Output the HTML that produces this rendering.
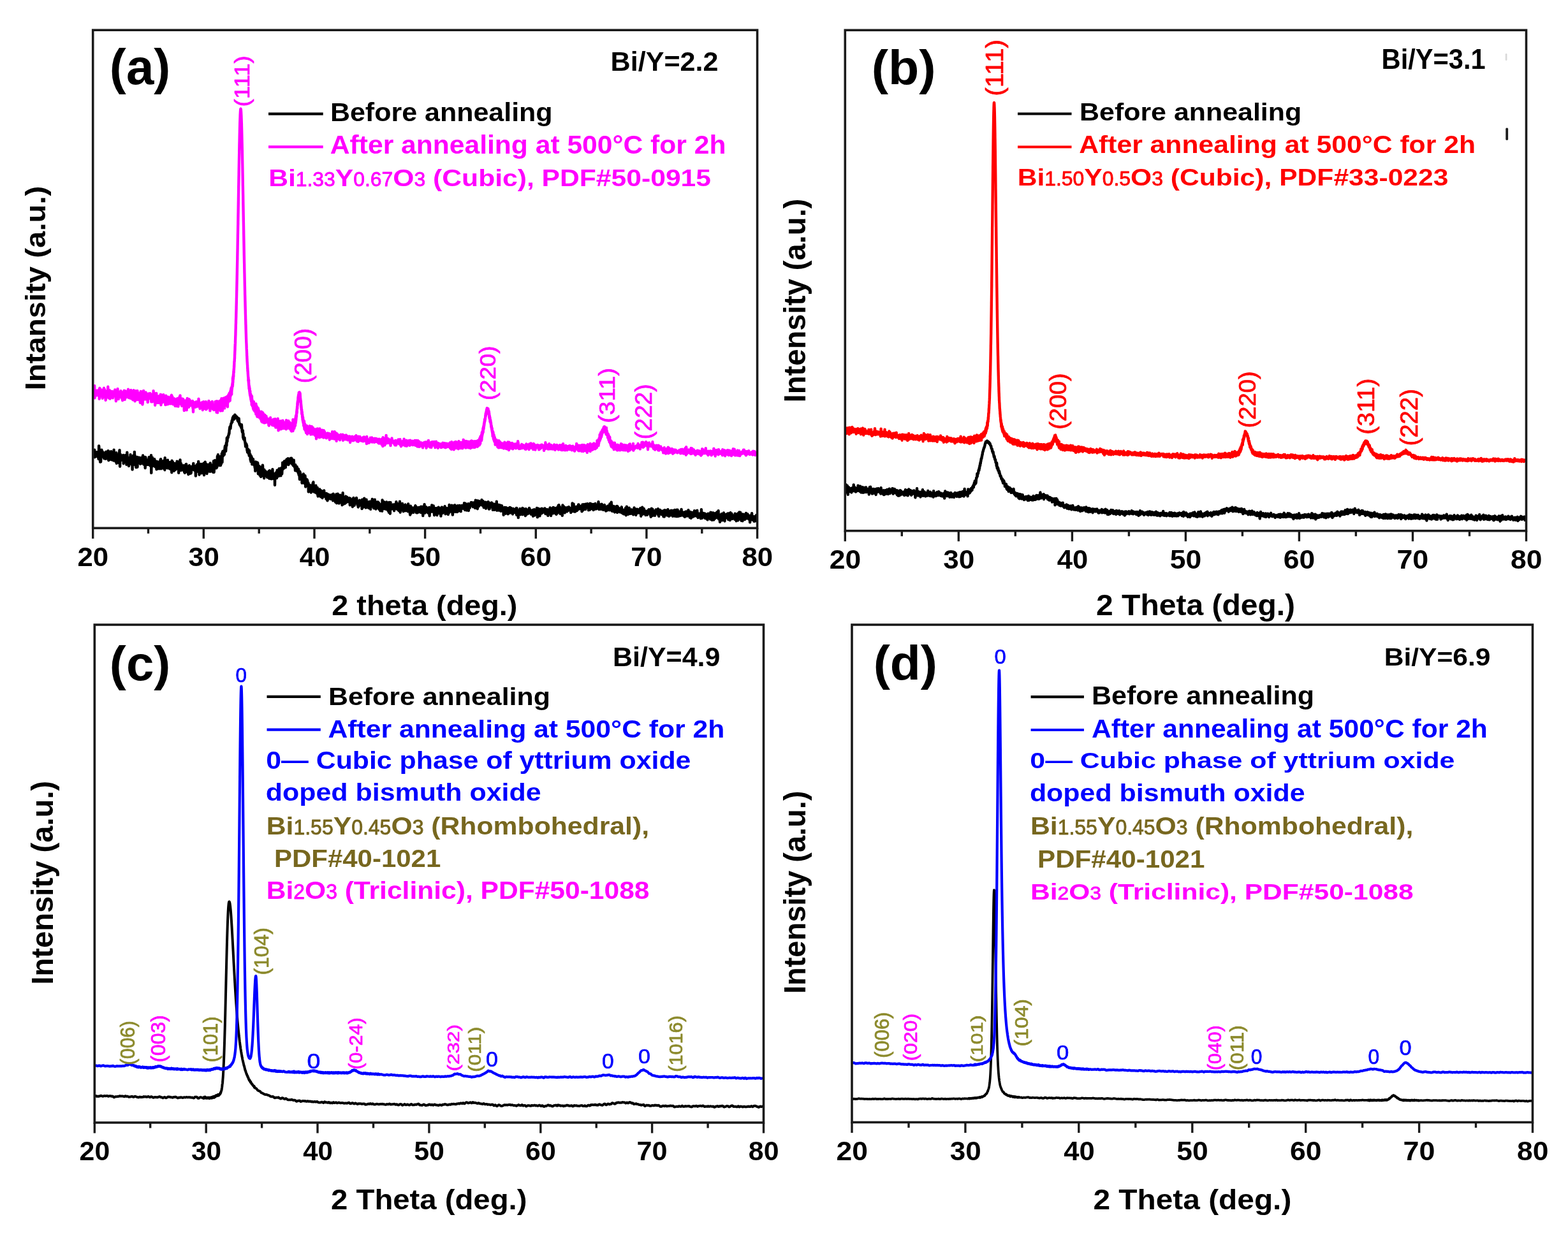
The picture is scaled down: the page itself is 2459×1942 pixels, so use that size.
<!DOCTYPE html><html><head><meta charset="utf-8"><title>XRD patterns</title><style>html,body{margin:0;padding:0;background:#fff;}svg{display:block;filter:blur(0.6px);}</style></head><body>
<svg xml:space="preserve" style="white-space:pre" width="2459" height="1942" viewBox="0 0 2459 1942" font-family="'Liberation Sans', Arial, sans-serif">
<rect width="100%" height="100%" fill="#fff"/>
<path fill="none" stroke="#000" stroke-width="4.40" stroke-linejoin="round" stroke-linecap="round" d="M147.2 714.3l.3 2.5 .4-2.6 .3-8.4 .3 11.5 .4-2.4 .3-5 .3 5.8 .3-1.1 .4-.3 .3-1.4 .3 2.8 .4-6.6 .3 3 .3-1.6 .4 5.6 .3-2.8 .3-1.7 .3-2.5 .4 2.8 .3 1.4 .3-1.4 .4 8.1 .3-1.4 .3-19.2 .4 4.3 .3 8.9 .3-1.2 .3 3.3 .4 .1 .3 9.9 .3-16.7 .4 3.9 .3 12.6 .3-7.2 .4 .1 .3-6 .3-5.8 .3 9.4 .4-.2 .3-6.9 .3 2.9 .4 3.2 .3-4.5 .3 4.5 .4 1 .3-.2 .3-2.8 .3 5.8 .4 1.5 .3-2.8 .3-5.9 .4 8.1 .3-6.3 .3 7.2 .4-10 .3 10.2 .3-4.7 .3-6.3 .4 4.9 .3 1.9 .3 1.2 .4-6.4 .3-.6 .3 6.8 .4-3.4 .3 3.7 .3 2.7 .3-12.3 .4 9.9 .3 5 .3-7.8 .4-2.6 .3 8.1 .3-2.5 .4 3.4 .3-6.3 .3-5.8 .3 7.1 .4-1.7 .3 6.3 .3-2.9 .4-9.3 .3 2.3 .3 10.7 .4-1 .3-6.7 .3 3.3 .3 2.4 .4 .1 .3 2.2 .3-3.1 .4-1.8 .3-.8 .3 6.8 .4-16.9 .3 10.9 .3 .9 .3-7.4 .4 9.1 .3-5 .3 7.8 .4-5 .3 4.1 .3 2.9 .4-4.2 .3-6.4 .3-3.2 .3 16.7 .4-9.4 .3-2.9 .3 4.3 .4-1.7 .3 5.4 .3-4.1 .4-.1 .3-3.6 .3 6.1 .3-7.7 .4 8.8 .3 4.4 .3-15.5 .4-4.8 .3 15.8 .3 9.9 .4-18 .3-1.2 .3 9.4 .3-7.2 .4 1.7 .3 .9 .3 4.5 .4-4.7 .3 3.5 .3-2.2 .4-3.4 .3 2.8 .3-3.2 .3 4.9 .4-5.7 .3 .2 .3 13.1 .4-7.7 .3 .1 .3 2.9 .4-4.7 .3 1.1 .3 3.3 .3-.6 .4-7.3 .3 10.2 .3-7.2 .4-2.3 .3 .8 .3 2.7 .4 10.3 .3-14.2 .3 6.8 .3-11.6 .4 10.9 .3 4.7 .3-5.8 .4-1.9 .3 4.4 .3 2.5 .4-.2 .3 6.7 .3-8.9 .3-4 .4 2.4 .3 .4 .3 .9 .4-.6 .3 1.1 .3-9.3 .4 12.7 .3-7 .3-3 .3 9.2 .4 3.5 .3-4.1 .3-1.7 .4-5.4 .3 19.3 .3-10.1 .4-10.1 .3 1.9 .3 4.4 .3-8.2 .4 8.7 .3-3.1 .3 8.6 .4-1.3 .3-18.5 .3 13.9 .4-8.3 .3 13.8 .3-4.7 .3 2 .4-8.1 .3 14.7 .3 1 .4-15.5 .3 7.3 .3-5.2 .4 3.3 .3-6.2 .3 15.8 .3-14.2 .4 3.4 .3 4.1 .3-5.7 .4 2.1 .3-1.6 .3 2.2 .4-5.2 .3 3.8 .3 1.2 .3-.6 .4 2 .3-1.7 .3 5.3 .4-5.4 .3 1 .3-2.6 .4 .8 .3-3.7 .3 9 .3-8.3 .4 2.1 .3 5.5 .3 .3 .4-4 .3-8 .3 12.2 .4-.7 .3-8.4 .3 11 .3-7.3 .4-2.1 .3 6.2 .3-1.3 .4 1.9 .3-9 .3 17.2 .4-12.1 .3-4.6 .3 10.8 .3-4.8 .4 3.5 .3-3.3 .3 1.4 .4 1.6 .3-4.9 .3 7.2 .4-5.7 .3-2 .3 4.8 .3 1.9 .4-3.4 .3-3.1 .3 7.5 .4-11.9 .3 3.7 .3 5.4 .4-6.9 .3 6.9 .3-.3 .3 4.8 .4-9 .3 1.5 .3 4.8 .4-13.9 .3 27.8 .3-18.9 .4-.1 .3 8 .3-4.5 .3-8.6 .4 12 .3 1.2 .3-6.4 .4 .8 .3 3.9 .3-6.9 .4 6.8 .3-1.2 .3-4.3 .3-3.5 .4 5.8 .3-3.2 .3 9.4 .4-4.2 .3 3.2 .3-3.1 .4 .6 .3-5.1 .3 7.2 .3 5.6 .4-10.3 .3-1.4 .3 2.2 .4-1.5 .3-1.1 .3 4.2 .4-2.1 .3 8.7 .3-7.1 .3 1.6 .4 3.2 .3-6.2 .3 8.7 .4-10.2 .3-.9 .3 2.3 .4 1.3 .3-6.4 .3 6.8 .3-8 .4 15.2 .3-7.2 .3-2.8 .4-1.2 .3 2.6 .3 .8 .4-4 .3 .7 .3 3.6 .3-1.6 .4 7.3 .3 1 .3-5.5 .4 2.3 .3-8.9 .3 9.8 .4-3.2 .3 2.6 .3 5.5 .3-19.1 .4 12.6 .3-6.7 .3 8.4 .4-9.3 .3 4 .3 3.5 .4 2.1 .3-2.6 .3-4.2 .3 1.2 .4 7.1 .3-4.3 .3-8.2 .4 12.4 .3-2 .3 2.3 .4-5.9 .3 5.7 .3-9.2 .3 8.1 .4-5.2 .3 5.8 .3 1.6 .4-8.5 .3 3.4 .3 .5 .4 5.7 .3-2.3 .3-9.4 .3 8.2 .4 1.5 .3 6.8 .3-18.6 .4 5.6 .3 9.3 .3-13.2 .4 .8 .3 8.5 .3 2.5 .3-8.3 .4 6 .3-2 .3 6.9 .4-7.4 .3 4.9 .3-9.2 .4 3.5 .3 .5 .3 6.1 .3-2.7 .4-6.5 .3 7.1 .3 .5 .4-4.3 .3-.7 .3 .4 .4-7.3 .3 9.2 .3 .3 .3-5.3 .4 7.9 .3-10.3 .3 4 .4 .4 .3 12.1 .3-17.5 .4 10.6 .3 1.9 .3-2.7 .3 4 .4-10.6 .3-6.2 .3 14.9 .4-9.6 .3 4.3 .3-4.1 .4 10.9 .3-.8 .3-7.7 .3 7.9 .4-3.7 .3-1.3 .3 1 .4-1.2 .3 4 .3-1.4 .4-3.2 .3 6.6 .3-7.8 .3 4.4 .4 .7 .3 5.2 .3-9.6 .4 10.9 .3-7.6 .3-1.7 .4-2.3 .3 6.1 .3-2.5 .3-5.6 .4-.1 .3 2.8 .3-.5 .4 8.6 .3 1.4 .3-2.5 .4-2.4 .3-3.8 .3 2.4 .3 4 .4 6.1 .3-5.9 .3-5.8 .4 1.6 .3-2.5 .3-1.4 .4 2.9 .3 1.8 .3 8 .3-8.6 .4 6.3 .3 2 .3-8.1 .4 7.4 .3-4.3 .3-5.5 .4 3.3 .3-1.2 .3-1.2 .3 .2 .4 1.7 .3 1.4 .3-6.4 .4 4.3 .3-7.3 .3 8.6 .4 1.7 .3-2.2 .3 .6 .3 1.5 .4-6.1 .3 2.1 .3 3.6 .4 2.4 .3-2.9 .3 10.4 .4-12.8 .3 5.3 .3 1.3 .3-6.8 .4-3.3 .3-1.7 .3 6.5 .4 4.5 .3-4 .3-.5 .4-2.6 .3 4.5 .3-13 .3 11.4 .4-1 .3-6.7 .3 17.1 .4-17.2 .3 1.5 .3-.6 .4 11.1 .3-9.6 .3 7.5 .3-.4 .4-1.6 .3-7.5 .3 3.4 .4 10.9 .3-14.2 .3 2.2 .4 3.2 .3 4.6 .3-2.6 .3 2.3 .4-8.7 .3 9.7 .3-1.8 .4-10.4 .3 15 .3 3.6 .4-14.7 .3 4 .3 6.4 .3-13.8 .4-2.5 .3 3.3 .3 3.5 .4-.1 .3 5.7 .3-1.6 .4-7.3 .3 8.6 .3 6.3 .3-3.3 .4-1 .3-4.6 .3 4.5 .4-9.3 .3 8.2 .3-4.1 .4 5.8 .3-3.2 .3-7.4 .3 5.7 .4 5.2 .3-11.2 .3 2.6 .4-1 .3-3.5 .3 11.6 .4 1.6 .3-2.5 .3-2.7 .3-1.4 .4 1.3 .3-4.7 .3 7.6 .4 .7 .3-.7 .3-7 .4 2.8 .3-1.2 .3 9.1 .3-7.7 .4-9.9 .3 10.7 .3 6.8 .4-5.8 .3 .8 .3-4.1 .4-9.6 .3 .5 .3 2.5 .3 5.1 .4 1.8 .3 1.6 .3-5.1 .4 5.9 .3-6.1 .3-2.2 .4 6.9 .3-8.5 .3-8.7 .3 7.4 .4 5 .3-15 .3 12.2 .4-.2 .3-5.5 .3-.6 .4 4.2 .3-.8 .3 7.6 .3-4.5 .4-9.3 .3 2.7 .3 6.4 .4 4.7 .3-7.3 .3-1 .4 6 .3-8.8 .3-2 .3-5.4 .4 3.1 .3 10.4 .3-15.8 .4 5.1 .3-6.6 .3 5.3 .4 2.1 .3-5.4 .3 2.8 .3-1.1 .4-2 .3 3.6 .3-4.6 .4-5 .3-2.5 .3-1.6 .4 3.4 .3-3.9 .3 8.9 .3-4.3 .4-7.8 .3-1.6 .3 4.9 .4-12.1 .3 3 .3 2.7 .4-6.5 .3-.1 .3-1 .3 1.4 .4-2.8 .3-.6 .3-.9 .4-2.7 .3 1.1 .3-5.5 .4-2.9 .3-2 .3-.8 .3 1 .4 2 .3-2.9 .3-2.8 .4-2 .3-.1 .3-.8 .4-1.4 .3-2.5 .3 .7 .3 1.7 .4-6.3 .3 2.4 .3-3.8 .4 3.1 .3-2.2 .3-2.7 .4 3 .3 2.2 .3-3 .3 1.3 .4-2.2 .3-3.4 .3 4 .4-1.4 .3-1.6 .3 3.6 .4-.6 .3-1.1 .3 2.5 .3-2.5 .4 2.8 .3-2.1 .3 2.7 .4-2.1 .3 4.7 .3-1.4 .4 2.6 .3-3.1 .3 1.3 .3 2.9 .4-5.4 .3 3.7 .3 4.5 .4-.1 .3 1.8 .3-1.4 .4 2.6 .3-1.4 .3-.3 .3 .4 .4 3.2 .3 1.1 .3 .8 .4-5 .3 4.3 .3 4.2 .4 2.9 .3-.8 .3 .5 .3-2.3 .4 11.3 .3-6.2 .3 7.9 .4 .9 .3-2 .3-1 .4 3 .3-2.3 .3 4.9 .3 .5 .4 2.6 .3 2.4 .3 3.4 .4-5.1 .3 5.4 .3-4.5 .4 .7 .3 1.9 .3-.1 .3 7.4 .4 .9 .3 2.3 .3-3.4 .4 2 .3-2 .3-1.1 .4 6.6 .3 .3 .3-4.1 .3 7.1 .4-7.8 .3 6.7 .3-.9 .4 1.2 .3-1.4 .3 8.8 .4-.7 .3 3.3 .3-3.5 .3-5.1 .4 4.4 .3-2.6 .3 7.4 .4 3.8 .3-3 .3-3.3 .4 1.6 .3 3 .3-6.5 .3 7.4 .4 .8 .3-2.7 .3 1.1 .4 3.1 .3-3.9 .3 .5 .4 7.5 .3-2 .3 6.9 .3-11.4 .4-3.1 .3 12.5 .3 .5 .4-7.2 .3-2.9 .3 6.7 .4-7.2 .3 6.6 .3-7.9 .3 9 .4-8.1 .3 8.7 .3 8.2 .4-7.7 .3 4.9 .3-6 .4-.9 .3-2.4 .3 11.6 .3-4.7 .4 7.8 .3-12.4 .3 4.6 .4 1.5 .3 6.2 .3 2.1 .4-10.9 .3-2 .3-2.5 .3 14 .4-6.2 .3-2.4 .3 2.9 .4-11.1 .3 3.9 .3 12.1 .4-2.3 .3-.9 .3-5 .3 7.2 .4 5.5 .3-13.2 .3 5.6 .4-1.9 .3 3.7 .3-1.4 .4-.6 .3-3.1 .3 3.9 .3-2.5 .4 2.2 .3 .5 .3 3.3 .4-5.4 .3 1.2 .3 6.3 .4-5.6 .3-.1 .3 5.1 .3-2.6 .4-.7 .3 .7 .3-6.4 .4 7.6 .3 3.8 .3-3.2 .4-9.3 .3 8.2 .3-5.2 .3 3 .4 1.6 .3-5.7 .3 11.1 .4-6.1 .3 3.8 .3-.7 .4 3.1 .3-.6 .3-11.6 .3 6.6 .4-9.5 .3 7.3 .3 5 .4 .9 .3 1.5 .3-7.2 .4 3 .3-1.1 .3 5 .3 1.3 .4-8.5 .3 17.7 .3-16.3 .4-1.7 .3 4 .3 .5 .4-1 .3-5.3 .3 8.9 .3-6.2 .4 6.1 .3-.8 .3-11.5 .4 1 .3-.3 .3 5 .4-1.1 .3 .7 .3-4.8 .3 4.8 .4 3.8 .3-11.6 .3 4.3 .4 1.5 .3-1.9 .3-.6 .4 7.6 .3-2.4 .3-2.2 .3-6.8 .4 11.5 .3-7.9 .3-4.1 .4 .5 .3-1 .3 9.6 .4-7.8 .3-1.1 .3-8.8 .3 10.5 .4-7.3 .3-.7 .3 6 .4-5.9 .3 5.7 .3 .6 .4-11 .3 5.5 .3-5.6 .3 4.9 .4 3 .3-8.4 .3 10.5 .4-7.7 .3-3.3 .3 3.2 .4 2.7 .3-7.6 .3 4.2 .3-4.8 .4 8.2 .3-3.7 .3-2.2 .4 4.5 .3-7.6 .3 2.7 .4 7 .3-6.4 .3 4.6 .3-3.7 .4-2.8 .3 1.5 .3 1 .4-1.4 .3-1.2 .3 .3 .4-2 .3 5.1 .3 1.1 .3 1.4 .4-7.8 .3 8.5 .3-2.3 .4-4.2 .3 5.2 .3 2.6 .4-.5 .3 1 .3 1.1 .3 .3 .4-2.6 .3-6.2 .3 4.8 .4 4.1 .3-2.2 .3 4.3 .4 .9 .3-2 .3 6.7 .3-9.1 .4 7 .3-4.3 .3-.5 .4 5.3 .3-3.6 .3 5.7 .4-6.5 .3 4.7 .3-2.5 .3 2.7 .4 .1 .3-2.1 .3 6.9 .4-6.2 .3 1.5 .3 7.3 .4 .9 .3-.6 .3-.6 .3 7.7 .4-12.3 .3 2.3 .3-.4 .4 7.6 .3-1.8 .3 3.6 .4 .1 .3-4 .3-1.8 .3-.1 .4 12.6 .3-4.2 .3-.9 .4-3.1 .3 1 .3-.1 .4 .6 .3-7.6 .3 9.5 .3-.8 .4 3 .3 .1 .3 2.9 .4-2.9 .3 3.5 .3-12.5 .4 6 .3 11.3 .3-11 .3 4 .4 4.2 .3-5.8 .3 6.6 .4-8 .3-1.5 .3 2.6 .4-1 .3 6.7 .3-.9 .3 2.9 .4-5 .3 14.1 .3-9.9 .4 .5 .3 2.2 .3-2.4 .4-1.2 .3 3 .3 3.5 .3-.7 .4 1.3 .3-5.6 .3-.5 .4 10.9 .3-8.4 .3 3 .4 1.2 .3 2.9 .3-10.4 .3 3.5 .4 .4 .3 .8 .3-7.9 .4 9.1 .3-10.5 .3 12.4 .4 1.1 .3 .4 .3-6.7 .3 8.5 .4-6.8 .3-1.2 .3 1.2 .4 .7 .3 4 .3 2.7 .4-11 .3 6.2 .3 5.6 .3-2.5 .4 1.4 .3-7.5 .3 9.5 .4-9.4 .3 6.9 .3 4.6 .4 2.1 .3-5 .3 1.5 .3-5.4 .4 .6 .3 6.4 .3-4.2 .4-.4 .3-4.6 .3 6 .4 2 .3-5.2 .3 1.2 .3 8 .4-5.1 .3-1.6 .3-3 .4 2.1 .3 1.5 .3 6.2 .4-7.2 .3 9 .3-9.9 .3 2.2 .4 4.6 .3-3.8 .3-2.1 .4 2.8 .3 2.2 .3-7.8 .4 5.6 .3 .6 .3-.9 .3 4.3 .4-4.7 .3 .9 .3 1.6 .4 2.7 .3-3.4 .3 6.5 .4-8.7 .3 8.1 .3-7.7 .3 2.7 .4 2 .3 6.3 .3-4.1 .4-4.7 .3 6.4 .3-5.4 .4-2 .3 4.6 .3-1.2 .3 3.2 .4-5.3 .3 3.5 .3 1 .4-1.2 .3-1 .3-2.4 .4 5.9 .3-2.7 .3 1.4 .3-3 .4 1.4 .3-3.7 .3 4.2 .4 2.5 .3-2.3 .3 2.8 .4-1.9 .3 3.9 .3-5.6 .3-5.1 .4 7.5 .3-2 .3-2.9 .4 5.9 .3-1.3 .3 .7 .4-2.7 .3 2 .3 .3 .3 5.5 .4-8.8 .3 2.5 .3 1.4 .4-7.4 .3 .5 .3 13.6 .4-14.1 .3 8.5 .3-5 .3 .4 .4-4.4 .3 4 .3 6.1 .4-7.7 .3 7.2 .3-1 .4 6.2 .3-8.9 .3 6.3 .3-1.3 .4-4.1 .3-4.9 .3 11.4 .4-10.2 .3 3.3 .3 4.9 .4 .9 .3-7 .3 3 .3-.7 .4 5.2 .3 4.8 .3-15.5 .4 9.9 .3-13.4 .3 10.3 .4-3.9 .3 11.1 .3-6.4 .3-3.2 .4 .9 .3-.2 .3 2.8 .4-1.2 .3 3 .3 3.2 .4-2.9 .3-6.8 .3-1.4 .3 3.2 .4 6.5 .3-4.9 .3-1.1 .4 2.9 .3-5.4 .3 1 .4 5.9 .3-2.8 .3-.5 .3 2.8 .4-3.1 .3-.3 .3 .9 .4 3.8 .3-1.9 .3-4.4 .4 3.3 .3 3.4 .3 4.4 .3-10.6 .4 5.3 .3-2 .3 3.9 .4-1.3 .3 3.7 .3-3.3 .4-3.7 .3 0 .3 3.5 .3 0 .4 7.2 .3-2.5 .3-10.1 .4 5.5 .3-5.9 .3-1.1 .4 8.6 .3-.6 .3-5.6 .3 9.6 .4-9.3 .3-.6 .3 6.5 .4-1.4 .3-1.3 .3 .4 .4 1.1 .3-1.3 .3 0 .3-6.1 .4 2.1 .3 6.9 .3-4.6 .4 4.5 .3 2.5 .3-5.5 .4 2.3 .3 6.4 .3-4.8 .3 4.1 .4-1 .3-2.7 .3-3 .4-2.6 .3-.8 .3 5.7 .4 0 .3-2.2 .3 3.6 .3-5 .4 6.1 .3-3.7 .3-.2 .4 .1 .3-.2 .3 9.2 .4-14.5 .3 6.4 .3 3.9 .3-1.8 .4-3.6 .3 7.3 .3-9.9 .4-.7 .3 6.6 .3-7 .4-3.2 .3 11.5 .3-.3 .3-.1 .4-4.2 .3 2.4 .3-4 .4 9.6 .3-3.3 .3-.1 .4-9.4 .3 9.7 .3 2.5 .3-.9 .4-1.5 .3-2.7 .3-1.1 .4 3.3 .3-.7 .3-.4 .4-1.9 .3 7 .3-9.9 .3 4 .4-1.9 .3 5.8 .3 1.4 .4-.6 .3-1.7 .3-7.5 .4 12.3 .3-5.5 .3-2.1 .3 .5 .4-1.3 .3 2.8 .3-.4 .4-2.3 .3-7.7 .3 8.9 .4 1.9 .3 .2 .3-2.4 .3 2.2 .4 2 .3-5.2 .3 6.8 .4-11.9 .3 2.5 .3 1.2 .4-5.3 .3 5.1 .3 7.9 .3 0 .4-4 .3 5.8 .3-5.2 .4-2.5 .3 2.6 .3-1.3 .4 3.1 .3-7.8 .3 8.8 .3-5.1 .4 4.6 .3-8.3 .3 3.9 .4 1.8 .3 2.9 .3-7.4 .4 10.2 .3-4.2 .3-3.4 .3 6.1 .4-3.9 .3 3.7 .3 4.1 .4-5.4 .3-4.5 .3 .4 .4 3.6 .3-1 .3-3.9 .3 .6 .4 4.7 .3 5.9 .3-17.3 .4 11.7 .3-3.2 .3 3.5 .4 .3 .3-2.8 .3-3.7 .3-1.3 .4-1.6 .3 10.8 .3-5 .4-1.1 .3 1 .3-3.7 .4 5.8 .3 3.5 .3-.6 .3-9.4 .4 10.3 .3-7.4 .3-4 .4 2.4 .3 1 .3 3.4 .4-3.6 .3-1.6 .3 4.4 .3 7.6 .4-9.1 .3 4.1 .3-1.3 .4 9 .3-15.8 .3 10.4 .4-8.2 .3 2.4 .3 1.8 .3 11.4 .4-13.7 .3-3.9 .3 11.1 .4-7.3 .3 2.1 .3 .7 .4 .5 .3-.9 .3 1.6 .3 .4 .4 1.6 .3-4.4 .3-1 .4-1.1 .3 5.8 .3-2.2 .4 2.1 .3 0 .3 4 .3-5.1 .4 1.9 .3-6.7 .3 .4 .4 2.7 .3-3.1 .3 6.7 .4-7 .3 4.9 .3-8.7 .3 4.7 .4 2.7 .3 .3 .3-5.3 .4 6.6 .3 3 .3-1.1 .4-4.5 .3 .3 .3-2 .3 6.3 .4 2.8 .3-6.7 .3-4 .4 6.5 .3 1.8 .3-11.8 .4 9.9 .3 7 .3-4.6 .3-.9 .4-.5 .3 2.3 .3-6.8 .4 .3 .3 4.4 .3-3.7 .4 3.2 .3-7.4 .3 9.2 .3 .4 .4-2.8 .3 .5 .3 5 .4-9.3 .3 .7 .3-.6 .4 2.3 .3-2 .3 3.7 .3-2.4 .4-2.7 .3-.3 .3 9.5 .4-4.3 .3-.6 .3 .9 .4-.3 .3 2.9 .3-.6 .3-3.9 .4-.8 .3-.9 .3-.5 .4 9.1 .3-7.9 .3-3.8 .4 4.1 .3 .2 .3 3.9 .3-4.1 .4 4.9 .3-.5 .3 3 .4 3.1 .3 2.4 .3-5.1 .4-8.6 .3 2.7 .3 2.2 .3 6.3 .4-4.8 .3 1.9 .3-4.7 .4 2.6 .3 .5 .3-4 .4 4.3 .3 1 .3-4.2 .3 4.1 .4 2.2 .3-5.4 .3-.2 .4-1 .3-1 .3 2.6 .4-1.9 .3 .4 .3-1.5 .3-2.6 .4 2.1 .3 4.3 .3-5.1 .4 1.8 .3 7.9 .3-1.8 .4-6.1 .3 4.4 .3-4.2 .3 7.8 .4-7.5 .3 2.3 .3 4.4 .4-7.5 .3 7.3 .3-7.2 .4 3.7 .3-1.8 .3 .7 .3 .9 .4-.8 .3-3.2 .3 6.5 .4-.5 .3 2 .3 .3 .4-9.2 .3 9 .3 0 .3-6.2 .4 5.4 .3 1.5 .3-6.8 .4-2.8 .3 3.5 .3 10.7 .4-8.6 .3-4.9 .3 3.3 .3-2.5 .4 2 .3 1.7 .3-9 .4 10 .3 3.6 .3-5.4 .4-.6 .3 5 .3-8 .3 .1 .4-.4 .3 4.2 .3 1.9 .4-1.7 .3 2.2 .3 1 .4-1.1 .3-4.4 .3 1.9 .3 5.1 .4-7.7 .3 2.7 .3-.5 .4 .8 .3-3 .3-.9 .4 13.3 .3-5.5 .3-5.5 .3 2.2 .4 2.5 .3-3.4 .3 3.3 .4-4.2 .3 .9 .3 1 .4-1.3 .3-6.7 .3 8.4 .3 .8 .4 .8 .3-5 .3 4.6 .4-.5 .3-6.6 .3-1.5 .4 9.1 .3-4.8 .3 6.6 .3 3.8 .4-9.1 .3-.4 .3 2.3 .4 2.4 .3-6.1 .3 8 .4-.8 .3-1.1 .3-4.1 .3 4.9 .4-.2 .3-6.9 .3 11.1 .4-8 .3 2.2 .3-3 .4 3.1 .3 2.6 .3-6.6 .3-2.9 .4 4.1 .3-2.9 .3 1.8 .4 2.1 .3 .2 .3 4.6 .4-7.8 .3 4.6 .3-2.9 .3 6.3 .4 3.9 .3-7.5 .3 4.6 .4-7.4 .3-3.6 .3 1.1 .4-1.1 .3 2.1 .3 2.4 .3 4.6 .4-1.5 .3-.8 .3-3 .4-1 .3 2.5 .3 .3 .4 .4 .3 .4 .3-1.7 .3-6.1 .4 2.7 .3 1 .3 8.4 .4-7.1 .3 3.6 .3 2.6 .4-3.8 .3-2.4 .3 .3 .3-2.5 .4 4.4 .3 2.7 .3-1.9 .4 .6 .3-.2 .3 4.3 .4-8.9 .3 2.6 .3 1.8 .3 1.8 .4-12.3 .3 6.3 .3 1 .4-2.8 .3 6.2 .3-2.1 .4-2.1 .3-4.1 .3 .9 .3 1.1 .4 4.8 .3-5.7 .3-2.8 .4 2 .3 2.8 .3 7.4 .4 2.7 .3-9.9 .3 4.6 .3 1.5 .4-.5 .3-4.7 .3-4 .4 2.7 .3-4.6 .3 6.9 .4 1.7 .3-8.9 .3 6 .3 1.1 .4 3.1 .3 .3 .3-2 .4-5 .3 1 .3 5.1 .4-6 .3 1.8 .3 5.2 .3-4.8 .4-5.1 .3 3.5 .3 3 .4-2.8 .3 4.4 .3 .3 .4-6.5 .3 .4 .3 1.2 .3-3.6 .4 5.1 .3-2 .3 3.1 .4-4.6 .3-1 .3 8.8 .4-9 .3 .9 .3-.6 .3 1.3 .4-2.1 .3 2.7 .3-2.2 .4 .8 .3 2.5 .3 1 .4-.9 .3-4 .3 3.6 .3-1.8 .4 0 .3-5.4 .3 7.7 .4-2.7 .3 5.8 .3-3.5 .4-5.8 .3-.9 .3 8 .3-6.6 .4 4.9 .3-3.3 .3 7.7 .4-6.6 .3 4.5 .3-.7 .4-5.9 .3 .4 .3 5.7 .3-4.9 .4-2.8 .3 6.5 .3 4.3 .4-8.4 .3 4.5 .3-5.1 .4 4.8 .3-5.2 .3 4.9 .3-2.6 .4-2.4 .3 1.3 .3-2.6 .4-1.9 .3 .1 .3 3.1 .4-3.2 .3 4.7 .3 .2 .3-.3 .4-3.1 .3 1.7 .3-.3 .4 4.2 .3-6.8 .3 1.2 .4 .4 .3 .3 .3-2 .3 .3 .4 5.2 .3-5.3 .3 4.8 .4 3.5 .3-2.4 .3-9.8 .4 8.1 .3-1 .3 .2 .3-6.8 .4 7.4 .3-5.8 .3 7.4 .4-.7 .3 4.6 .3-9.2 .4-3.6 .3 8 .3-.5 .3-4 .4 5.5 .3-2.1 .3-6.2 .4 2.9 .3-.3 .3 1.1 .4 .9 .3-2.7 .3 1.5 .3 2.5 .4-2.1 .3-.5 .3-.1 .4 .6 .3-5.6 .3 6.5 .4-3.7 .3 3.6 .3-4.9 .3 7.5 .4-2.1 .3-4.9 .3 5 .4-3.1 .3 8 .3-4 .4-4 .3 3.3 .3-.8 .3 3.9 .4-2.6 .3 .6 .3-5 .4 6 .3 4.1 .3-4.5 .4-2 .3 .7 .3-3.4 .3 3.6 .4-4 .3 3.7 .3-1.3 .4-1.3 .3 4.5 .3-6.4 .4 4.6 .3-4 .3 10 .3 .6 .4-3.5 .3 3.4 .3-4 .4-.1 .3-3 .3-1.3 .4 3.3 .3-2 .3 .3 .3 3.8 .4-2.6 .3-4.4 .3 4.3 .4-1.6 .3 1.5 .3-2.4 .4 7.3 .3 2.4 .3-9.5 .3 5.7 .4-.1 .3-5.2 .3 3.8 .4 4.3 .3-1.7 .3 2.5 .4-8.7 .3 1.4 .3 3.4 .3 .3 .4-1 .3-1.2 .3 .1 .4-.6 .3 3.5 .3-10.1 .4 13.9 .3-6.6 .3-2.8 .3 6.3 .4-6.1 .3 5.8 .3-2.4 .4 3.3 .3 .7 .3 1.7 .4-5.6 .3 .7 .3 1 .3-4.4 .4 6.5 .3-1.4 .3-4.6 .4 8.2 .3 .6 .3-8.4 .4 6.1 .3 2.2 .3-1.2 .3-5.7 .4-1.3 .3 4.2 .3-1.1 .4 1.6 .3-.2 .3 2.1 .4-3.4 .3 1.4 .3 10 .3-9.8 .4 2.9 .3-1.4 .3-.1 .4-3.5 .3 4.6 .3-1.7 .4 2.8 .3 4 .3-5.9 .3 1.9 .4-5.6 .3 3.7 .3 4.7 .4-5.1 .3-1.8 .3 2.8 .4-1.2 .3-.1 .3-.3 .3 7.6 .4-9.1 .3 1.5 .3-.4 .4 5.8 .3-4.8 .3 5.2 .4-3.6 .3-.6 .3-4.5 .3 8.6 .4-2.1 .3-.4 .3-1.6 .4-.9 .3-2.6 .3 7.1 .4-2.1 .3-2 .3-.8 .3 2.5 .4-.7 .3 5.6 .3-2.7 .4-4.3 .3-1.6 .3 2.8 .4-2.1 .3 3.2 .3 1.1 .3 .8 .4-.7 .3-1.9 .3 2.6 .4-4.7 .3 2.6 .3 2.9 .4-1.6 .3-4.9 .3 .4 .3-1.5 .4 11 .3-10.7 .3 4.6 .4 6.3 .3-2.4 .3 .8 .4-5.7 .3 3.9 .3 7.4 .3-9.8 .4 1.5 .3-2.3 .3 1 .4 1.3 .3 3.2 .3-7.2 .4-1.7 .3 4.7 .3 .6 .3 3.8 .4-2.1 .3-4.3 .3 3.8 .4 1.8 .3-2.6 .3-2 .4 3.3 .3-3.3 .3-4.8 .3 10.2 .4-8.3 .3 3 .3 .1 .4 0 .3 .1 .3-3.6 .4 6.3 .3-1.6 .3 0 .3 3.3 .4 .1 .3 .8 .3 1.7 .4-4.5 .3-6.3 .3 5.6 .4-.6 .3 .1 .3-2.1 .3-.9 .4 5.4 .3 .6 .3-6.7 .4 5.3 .3-2.2 .3-.7 .4 3.4 .3-2.3 .3-1.6 .3 1.9 .4-6.5 .3 4.4 .3 .5 .4-3 .3 5 .3 .3 .4-2.8 .3 1.4 .3 2.7 .3 1.2 .4-5.8 .3 3.5 .3 2.2 .4-3.4 .3-2.3 .3 0 .4 1.4 .3-2.3 .3 9.7 .3-8.2 .4 3 .3-.6 .3 1.4 .4-3.3 .3-2.9 .3 9.4 .4-5.5 .3 .6 .3 .3 .3 3.4 .4-1.6 .3 1.3 .3-1.2 .4-2.1 .3 .3 .3-3.1 .4-3.9 .3 5.4 .3-2.6 .3 11.6 .4-3.3 .3-1.2 .3-5.5 .4 8.3 .3-12 .3 1.6 .4 1.4 .3-.6 .3 3.4 .3 .2 .4 5.5 .3-2.9 .3 .6 .4-2.5 .3-1.8 .3-1.7 .4-2.7 .3 2.1 .3 1.5 .3 3.6 .4-7.8 .3 1 .3 5.1 .4-4.1 .3 4.4 .3-2.4 .4-1.1 .3-1.8 .3 3.9 .3-2 .4 .3 .3-.1 .3 2.6 .4-.1 .3-5.9 .3 4.9 .4 1.7 .3 2 .3-.8 .3-1.8 .4-4.3 .3 1.1 .3 5.3 .4-5.1 .3 5.5 .3 .7 .4-7.4 .3 4.7 .3-1.7 .3 6.7 .4-3.8 .3-4.2 .3 2.8 .4-4.2 .3 2.4 .3 1.1 .4-.2 .3 .5 .3-3.9 .3-3 .4 4.7 .3-1.7 .3 .6 .4 9 .3-3.2 .3-4.2 .4-4 .3 .4 .3 5.2 .3 2.2 .4-4.3 .3 1.3 .3 .4 .4 2.5 .3-9.3 .3 6.4 .4 .7 .3 1.7 .3-1.8 .3-4.7 .4 1.6 .3-3 .3 5.4 .4-.1 .3 1 .3-4.7 .4-.6 .3 8.4 .3-4.3 .3 4.9 .4-4.1 .3-6.1 .3 7.2 .4 1.3 .3-5.4 .3-4.7 .4 8.2 .3-2.6 .3 1.3 .3-9.4 .4 9.9 .3-10.2 .3 5.9 .4 5.5 .3-8.6 .3-.1 .4 4.4 .3 6.6 .3-.2 .3-7 .4 5 .3-1.4 .3-1 .4 .2 .3-3.4 .3 4.8 .4 .7 .3 5.2 .3-5.7 .3-10.7 .4 3.9 .3 4.8 .3-.9 .4-6.1 .3 5.4 .3-.7 .4 .9 .3-.3 .3 3.3 .3 1.6 .4-2.5 .3-5.7 .3 .8 .4 .5 .3 1.9 .3-1.2 .4 .2 .3-1.9 .3 5.9 .3-.4 .4 .3 .3-3.3 .3 1.6 .4-4.3 .3-.4 .3 1.5 .4 3.4 .3-2.3 .3-3.2 .3 3.9 .4 .9 .3-.8 .3-2.7 .4 2.3 .3-1.6 .3 .2 .4 .7 .3 2.6 .3 3.3 .3-.9 .4-2.9 .3-3.3 .3 .3 .4 0 .3 4.4 .3-12.3 .4 9.4 .3-7 .3 6.1 .3 4.1 .4-7 .3-4.3 .3 11.1 .4 .6 .3-3.2 .3 2.3 .4-6.5 .3 6.1 .3 1.6 .3-3.3 .4-1.2 .3 3.1 .3-.5 .4-5.9 .3 6.5 .3-2 .4-1.8 .3 3.5 .3-1.3 .3-.6 .4-3.9 .3 4.1 .3-6.1 .4 3 .3-4.9 .3 0 .4 6.6 .3-1.7 .3 .5 .3 1.5 .4-.8 .3-3.9 .3 3 .4-.5 .3-1.4 .3 1.1 .4-.7 .3-1 .3 1 .3 1.7 .4 5.6 .3-8.9 .3 4.1 .4-6.2 .3 9.4 .3-6 .4 1.4 .3 3.5 .3-.9 .3-7.7 .4 6.3 .3-2.5 .3 2.6 .4-1.4 .3 1.7 .3-1.4 .4-1.3 .3 4 .3-8.4 .3 3.4 .4-1.7 .3 2.5 .3-.9 .4 .9 .3-1.1 .3 0 .4-3.6 .3 4.9 .3 1 .3-2.8 .4-.2 .3 0 .3 7.2 .4-4.6 .3 .6 .3-2.2 .4-.6 .3-1.2 .3 7.5 .3-10 .4 6.1 .3-1 .3-.7 .4-4 .3 1 .3 6.8 .4-5.2 .3 4.9 .3-.7 .3-.3 .4 .6 .3-6.1 .3 2.3 .4 3.5 .3-6 .3 9.1 .4-6.9 .3 1.5 .3-2.9 .3 4.3 .4-3.4 .3 1.5 .3-2.7 .4 7.1 .3-8.6 .3 6.4 .4-.7 .3 .7 .3-4.5 .3 6.3 .4-.2 .3-2.4 .3 .5 .4-1.5 .3 2.5 .3-4.5 .4 4.3 .3-.5 .3-5.5 .3-3.7 .4 7.7 .3-.1 .3 4.2 .4-3.5 .3-1.7 .3-2.6 .4 3.9 .3-1.5 .3-1.5 .3 3 .4 3.7 .3-3 .3-3.5 .4 4.3 .3-4.3 .3-1.5 .4 6.4 .3-3.2 .3 5.2 .3-2.4 .4-3.4 .3 3.2 .3 3.3 .4-4.5 .3-2.7 .3 1.3 .4-.4 .3-1.1 .3-.3 .3 5.3 .4 2.1 .3-4.5 .3 3.6 .4 .4 .3 2.5 .3-5.7 .4-.5 .3 2.4 .3-.9 .3 .6 .4 3.1 .3-5.2 .3 2 .4-3.6 .3 2.5 .3-1.5 .4-.2 .3 1.7 .3-.7 .3 2.6 .4 1.4 .3-7.1 .3 7.8 .4-9.9 .3 7.7 .3 1.4 .4-4.1 .3 1.3 .3-1.6 .3 5.2 .4-12.5 .3 6.8 .3-2.9 .4 6.6 .3 3.5 .3-.3 .4-1.5 .3-1.3 .3-3.1 .3 6.2 .4-1.8 .3-4.5 .3-1.3 .4 2.1 .3 5.3 .3 .6 .4 1.2 .3-7.4 .3 1.4 .3 5.4 .4-3.5 .3 1.7 .3-6.4 .4 3 .3 1.1 .3-.9 .4-.2 .3-3.7 .3 10.1 .3-4.5 .4-4.9 .3 7.9 .3-3.1 .4 2.1 .3-2.8 .3-1.8 .4 .2 .3 3.4 .3 1.4 .3-.8 .4 .5 .3 1.8 .3-2.8 .4 2.3 .3 .4 .3-2.5 .4-1.1 .3-1 .3-2.4 .3-1 .4 8.9 .3-4 .3-1.6 .4 6.6 .3-1.8 .3-2.8 .4 3 .3-3.7 .3 1.8 .3 4.6 .4-2.4 .3-4 .3 3 .4 1.6 .3-4 .3-.9 .4 7.2 .3-6.7 .3-3.1 .3 4.5 .4 6.8 .3-5.1 .3 1 .4-9.6 .3 5.1 .3 5.5 .4-4.9 .3 5.3 .3-2.5 .3-.2 .4 4 .3-6.7 .3 .1 .4 1.9 .3 .4 .3-5.9 .4 9.1 .3-3.1 .3-1.2 .3 2.5 .4-3.1 .3 5 .3-3.5 .4 2 .3-4.9 .3 1.9 .4 2 .3-4 .3 .9 .3 1.9 .4 3.7 .3-1.1 .3 .5 .4-1.9 .3 1.9 .3 2 .4-4.2 .3 .8 .3 .5 .3-8 .4 6 .3 1.6 .3 1.1 .4-3.3 .3 4 .3-5 .4 1.5 .3 5.7 .3-9.3 .3 3.9 .4-.2 .3 .2 .3-1.3 .4 3.7 .3-5.4 .3-.7 .4 5.6 .3-5.2 .3 4.9 .3-1.1 .4-2.2 .3 1.1 .3 .8 .4 1.7 .3-3.3 .3 1.3 .4-3.8 .3 3.6 .3-5.1 .3 5.8 .4-1.2 .3 7.9 .3-2.5 .4-4.5 .3 3.5 .3-2.1 .4-4.4 .3-3.9 .3 10.9 .3-2.2 .4-7.3 .3 8.1 .3 .8 .4-4.9 .3 4.6 .3-7.8 .4 4.7 .3 .8 .3 2.3 .3-1.2 .4-.5 .3 1 .3-3.7 .4 6.6 .3-5.6 .3 3.5 .4-2.5 .3-.7 .3 2.6 .3-.4 .4 2.8 .3-.9 .3-5 .4 3.3 .3-1.2 .3-2.8 .4-.9 .3 4.2 .3-2.5 .3-2.6 .4 4 .3 1 .3-.4 .4-4 .3 2 .3 6 .4-6.6 .3 1.4 .3 8.1 .3-6 .4-2.7 .3-4.4 .3 7 .4-5.3 .3 4.2 .3-2.5 .4-2.5 .3 10.2 .3-5.4 .3 3.2 .4-.6 .3-4.5 .3 2.6 .4-1.4 .3 4.1 .3-1.7 .4-2.4 .3 6.2 .3-3.5 .3-.1 .4-3.9 .3 3.7 .3-5.7 .4 5.9 .3-4.3 .3 3.5 .4-1.4 .3 1.5 .3 .5 .3-1.3 .4 0 .3-4.4 .3-1.2 .4 9.7 .3-2.1 .3-6.3 .4 10.4 .3-8 .3 3.8 .3-.3 .4-.9 .3 1.5 .3-6.1 .4 4.2 .3-.7 .3 1.1 .4-1.1 .3-1.1 .3-.3 .3 5 .4-5.3 .3 3.7 .3 0 .4-1.3 .3 1.6 .3 .4 .4-3.3 .3 2.7 .3 4.8 .3-9.1 .4 2.4 .3-1.4 .3 8.4 .4-10.4 .3 4.4 .3 2.9 .4-5.5 .3 2.2 .3-1.7 .3-1.9 .4 3.9 .3 1.7 .3-2.7 .4 1.8 .3 1.6 .3 1.6 .4-7.5 .3 5.7 .3-3.7 .3-3.9 .4 3.4 .3 4.4 .3-1 .4-4.3 .3 8.3 .3-3.7 .4-1.4 .3-1.4 .3 2.9 .3-2.4 .4 4.7 .3-2.5 .3 .9 .4-2.8 .3-3.6 .3 6.2 .4-4.7 .3 2.8 .3 .3 .3-2.3 .4 5.1 .3-7.1 .3 9 .4-6.4 .3 4.8 .3 1 .4-6.5 .3 .4 .3 5.1 .3-2.3 .4-.3 .3-5.8 .3 .6 .4 6.7 .3 2.7 .3-6.5 .4-.4 .3 3.3 .3 .8 .3 .3 .4-3.1 .3-4.5 .3 10.4 .4-6 .3 5.4 .3-9.9 .4 7.2 .3-2.6 .3-1.8 .3 6.3 .4 1 .3-5.7 .3 3.8 .4-5.2 .3 1.4 .3 1.1 .4-.3 .3 3.1 .3-5.6 .3 6.6 .4 0 .3-3.6 .3-2.9 .4-3.6 .3 7.1 .3-2 .4 2.5 .3-3.5 .3 3.2 .3-.1 .4 .2 .3 .8 .3 .1 .4 2.1 .3-5.3 .3 4.5 .4-1.6 .3-1.8 .3-1.7 .3 7.5 .4-3.7 .3-2.3 .3 1.8 .4-.2 .3-1.5 .3-2.6 .4 4.6 .3-.9 .3-.3 .3 3.8 .4-6.9 .3 1.1 .3 3.4 .4 2 .3-.6 .3 .4 .4-8.9 .3 8.2 .3-.2 .3 .8 .4-4.1 .3 3.6 .3 1.5 .4 1.9 .3-4.1 .3-4.8 .4 4.2 .3 1.8 .3-.3 .3 4.2 .4-6.4 .3-2.4 .3 1.2 .4 3.9 .3-4.4 .3-.7 .4 .7 .3 6.1 .3-2.9 .3-1.7 .4 3.6 .3-.5 .3-4.9 .4 5.4 .3-1.7 .3-7 .4 2.7 .3 4.4 .3 .7 .3-2.3 .4-2.2 .3 3.8 .3-6.2 .4 7.2 .3-2.1 .3 .4 .4-1.9 .3 4.5 .3-9.5 .3 4.4 .4 4.4 .3-3.8 .3 6.5 .4-3.1 .3-3.6 .3 5.7 .4-3.6 .3 2.1 .3-3.6 .3 0 .4 4 .3-1.8 .3-2.6 .4-.3 .3 4.6 .3 3.4 .4-7.8 .3 4.6 .3-10.8 .3 4.6 .4 6.2 .3 2.8 .3-4.6 .4 1.5 .3-.9 .3 2.3 .4-6.3 .3 5.2 .3-3.2 .3 .3 .4 1.1 .3-.6 .3-1.7 .4 1.6 .3-2.1 .3 7.3 .4-2.3 .3-3.4 .3 6.1 .3-.9 .4-2.4 .3-3.1 .3 2.4 .4 1 .3 2.5 .3-4.7 .4-1.2 .3 8.6 .3-2.7 .3-3.2 .4-3.7 .3 4.3 .3 1.9 .4-1.1 .3 .2 .3-2.3 .4 3.3 .3-5.2 .3 .5 .3-.2 .4-.4 .3 7.8 .3-10.9 .4 5.8 .3-3.7 .3-.7 .4 4 .3-5 .3 4.5 .3 7.2 .4-7.3 .3 1.8 .3-4 .4 4.1 .3-6 .3 5.1 .4-.9 .3 6.9 .3-6.8 .3-.8 .4-.6 .3-1.9 .3 5.9 .4 2.1 .3-5.5 .3 3.3 .4-3.2 .3 2.3 .3 .1 .3-5.6 .4 2 .3 5.1 .3-8.5 .4 5.7 .3-1 .3-1.7 .4 2.9 .3 .8 .3 .7 .3-9.5 .4 13 .3-6.5 .3 4.6 .4-3.5 .3-1.4 .3 1.6 .4 9.8 .3-4.8 .3-5.8 .3 1.7 .4 2.8 .3-1.7 .3-1.5 .4-.8 .3-2.6 .3 5.5 .4 1.1 .3 3.4 .3-8.4 .3 3.7 .4-2.1 .3 3.9 .3-4.1 .4-1.6 .3-3.1 .3 7.2 .4-1.6 .3 2.9 .3-5 .3 9.5 .4-10 .3 3.7 .3-.3 .4 2.1 .3-3.8 .3-2.2 .4-.2 .3 5.4 .3-2.1 .3 .7 .4-3.5 .3 2.9 .3 .3 .4 1.2 .3-6.3 .3 2.1 .4 7.6 .3-6.4 .3 1 .3-1 .4-3.3 .3 1.3 .3 4.4 .4-3.1 .3 8.1 .3-10.6 .4-1.3 .3 4.7 .3-2.5 .3 7.8 .4-5.4 .3 2.9 .3-5.9 .4 6.3 .3 0 .3 1.8 .4-3.1 .3 .9 .3-1 .3 2.3 .4-4 .3 2.9 .3-3.4 .4 3.9 .3-3 .3-1.1 .4 0 .3 6.5 .3-9.2 .3 .3 .4 6.4 .3-4.9 .3 1.6 .4-.1 .3 8.4 .3-8.9 .4-.1 .3 1 .3 1.9 .3 .8 .4-5.9 .3 5.8 .3 4.5 .4-11.2 .3 7.1 .3 .6 .4-1.8 .3-1.1 .3-6.5 .3 10.8 .4-4.6 .3 .4 .3 4.3 .4-10.7 .3 6.8 .3 2 .4 .4 .3-.3 .3 4.3 .3-5.2 .4 2.2 .3-.7 .3-6.8 .4 2.2 .3 8.6 .3-7.1 .4 .6 .3-3.7 .3 2.9 .3-2.9 .4 2.2 .3 3.5 .3-4.2 .4 .7 .3 5.9 .3-2.6 .4 .1 .3 1.5 .3-4.6 .3 .5 .4-5.1 .3 8.5 .3-2.9 .4 .7 .3-3.3 .3 5.2 .4 0 .3-1.3 .3-5.3 .3 2.2 .4 2.5 .3-2.4 .3 3.7 .4 1.9 .3-5.3 .3 1.7 .4-1.5 .3 5.2 .3-.4 .3 5.3 .4-7.9 .3-2.9 .3 4.1 .4-1.9 .3 1.3 .3 3.1 .4-4.5 .3 3 .3-8.5 .3 9.5 .4-2.7 .3-1.1 .3-.8 .4 5.8 .3-5.8 .3 5.4 .4-5.4 .3 1.7 .3 1 .3 5 .4-5.3 .3-.1 .3-.9 .4-.7 .3-.9 .3 7.3 .4-1 .3-6.5 .3 2.6 .3-4"/>
<path fill="none" stroke="#ff00ff" stroke-width="4.40" stroke-linejoin="round" stroke-linecap="round" d="M147.2 617l.3-3.2 .4 .5 .3-9.1 .3 19 .4-2.9 .3-6.6 .3 5 .3-2.2 .4-3.8 .3 6.9 .3-5.7 .4-.1 .3-2 .3 5.6 .4-2.5 .3 2.9 .3-5.1 .3 3.3 .4-4.6 .3 7.8 .3-2.9 .4 .7 .3 .3 .3-6.3 .4 8 .3 5.8 .3-16.5 .3-.4 .4 1 .3 10.5 .3-3.1 .4 4.2 .3-1.6 .3-2.2 .4 .3 .3-2 .3 4.7 .3-8.9 .4 3.2 .3 3 .3 6.9 .4-11.4 .3-1.3 .3 2.3 .4 6.8 .3-5.3 .3 6.9 .3-14.1 .4 13.3 .3-.4 .3-10.8 .4 7 .3 4.7 .3-5 .4 4.1 .3 6.1 .3-9.3 .3-2.4 .4-2.2 .3 6.3 .3-3.7 .4 .1 .3 .4 .3 3.3 .4-7.5 .3-2.1 .3-3.9 .3 16.1 .4-5 .3 6.4 .3-6.7 .4-3.2 .3 5.4 .3-2.4 .4-5.2 .3 1.6 .3 11.8 .3-6.2 .4 .3 .3-3.1 .3-1.8 .4 7 .3-4.3 .3-2.9 .4 2.8 .3-3.4 .3 4.8 .3 4.2 .4-8.6 .3 10 .3-9.2 .4 3.6 .3-4.3 .3 2.7 .4 1.2 .3-2.1 .3-1.1 .3 .1 .4-.6 .3-3.3 .3 5.8 .4 2.9 .3 2.3 .3-1.1 .4 7.9 .3-9.3 .3-3.4 .3 10.2 .4-12.8 .3 8.9 .3-8.4 .4 5.8 .3-10.2 .3 12.6 .4-4.6 .3-3.5 .3 11.6 .3-4 .4-3.1 .3-3.5 .3 3.1 .4-.5 .3 3.9 .3 .4 .4-6.4 .3 .5 .3 .1 .3-3.5 .4 3.3 .3 2.2 .3 3.5 .4 2.7 .3-9.2 .3 5.9 .4-4.3 .3 11 .3-9.2 .3 2.4 .4-6.2 .3 .6 .3 4.4 .4-2.5 .3 3.2 .3-8.3 .4 9.7 .3-6.8 .3 11.4 .3-8.7 .4 6.1 .3-10.8 .3 7.9 .4-5.6 .3 1.7 .3 2.3 .4-1.5 .3 2.6 .3 2.1 .3-.4 .4-3.2 .3-5.5 .3 2.5 .4 2.7 .3-8.3 .3 12.4 .4-4.2 .3-.1 .3 5.2 .3-1.1 .4-1.9 .3-5.3 .3 5.7 .4 .2 .3-5.3 .3 8.4 .4-2.3 .3-10.6 .3 9 .3-5.9 .4 10.4 .3-1.4 .3-8.2 .4 1 .3 4.2 .3-1.4 .4 7.6 .3-3.3 .3-4.4 .3 3.8 .4-11.2 .3 10.1 .3 2.4 .4-4.4 .3-2.3 .3 5.5 .4 6 .3-7.4 .3-5.7 .3 11 .4-14.2 .3 10.3 .3-4.6 .4 6.5 .3-7.6 .3 9.3 .4-4.3 .3-8.6 .3-1 .3 7.1 .4 6.9 .3-5 .3-.2 .4-1.2 .3 4.2 .3-1.5 .4-.4 .3-5.4 .3 9.3 .3 .8 .4-11.3 .3 15.4 .3-6.7 .4-5.1 .3-6 .3 10.9 .4-.4 .3-4.8 .3-5.1 .3 12.4 .4-7.2 .3 .5 .3 14.2 .4-3.1 .3-4.9 .3-5.9 .4 4.7 .3-12.4 .3 10.1 .3-3.6 .4-2.2 .3-1.2 .3 9 .4-1.8 .3 .3 .3 2.9 .4-7.1 .3-1.6 .3-2.2 .3 6.1 .4 4.7 .3-3.9 .3 3.4 .4-7.6 .3 3 .3-1.2 .4-2 .3 13.1 .3-4.2 .3-6.7 .4 0 .3 3 .3-5.8 .4 8 .3-7.3 .3 3.9 .4-2.7 .3 2.4 .3-3.6 .3-1 .4 2.6 .3 1.3 .3 1.6 .4 1.6 .3 6.2 .3-3 .4-4.4 .3 4.1 .3-5.9 .3 9 .4-3.7 .3-8 .3 8.9 .4 .3 .3-14.6 .3 8.2 .4 1.2 .3-6.1 .3 3.7 .3 .5 .4 6.1 .3-.8 .3 9.8 .4-12.6 .3 6.5 .3-4.4 .4 .8 .3-5.9 .3-3.1 .3 4.8 .4 6.5 .3 3.4 .3-4 .4-.4 .3-5.5 .3 9.9 .4-.7 .3-7.8 .3 2.1 .3-3.9 .4 10.3 .3-4.4 .3-2 .4 2.1 .3 .2 .3-3.5 .4-3.4 .3-.1 .3-1.8 .3 9.2 .4 7.3 .3-16.2 .3 7.7 .4 1.2 .3-5.8 .3 5 .4-5.3 .3 9.5 .3-7.3 .3 2.9 .4 2.5 .3-4.6 .3-5.6 .4 5.3 .3 5.4 .3-3.5 .4 1.4 .3-5.4 .3 5.1 .3 2.5 .4-2.8 .3 7.8 .3-8.7 .4-3.4 .3-2.3 .3 11.5 .4-5 .3 4.5 .3-2.2 .3 4.8 .4-1.4 .3-6.7 .3 2.7 .4 3.4 .3-9.5 .3 11.1 .4-.9 .3-.9 .3-4.8 .3 2.1 .4-5.8 .3 4.9 .3-2.6 .4 2.8 .3-2.3 .3 3.2 .4 3.8 .3-10.2 .3 9.2 .3-11.9 .4-.6 .3 8.4 .3 .6 .4 1.8 .3-8.5 .3 6.5 .4 .9 .3 4.6 .3-5.5 .3 2.7 .4-6.2 .3 3.3 .3-1 .4 4.8 .3-6.9 .3 .7 .4 5.8 .3 5 .3-5.7 .3-.3 .4-2.6 .3 5.9 .3-2.1 .4 4.9 .3-5.7 .3-5.2 .4 1.6 .3-1.6 .3-1 .3 10.3 .4-1.9 .3-8.2 .3 12.3 .4-6.2 .3-4.8 .3 5.5 .4-1.8 .3-2.8 .3-4.7 .3 8.1 .4 1.1 .3-11.6 .3 12.7 .4 .3 .3-4.3 .3 2.4 .4-1.6 .3-2.2 .3 2 .3 7 .4-11.3 .3 6.9 .3-.2 .4-3.5 .3 1.1 .3-3.8 .4 2.3 .3 3.5 .3 1.3 .3-4.9 .4 16 .3-14.6 .3 2.9 .4-1.4 .3-.6 .3 6.9 .4-7.1 .3 7.3 .3-.7 .3-8.7 .4 8.4 .3-6.7 .3 13.6 .4-12.5 .3-2.2 .3-3.8 .4 2.5 .3 3 .3-1.7 .3-.8 .4 2.2 .3 2 .3 6.7 .4-12.6 .3 4.6 .3-1.5 .4-2.2 .3 1 .3 1.5 .3 6.6 .4-3.6 .3-1.3 .3 4.6 .4-1.2 .3-2 .3 2.5 .4-4.8 .3 5.8 .3-.5 .3-3.5 .4-3.2 .3 11 .3-5.6 .4 11.8 .3-14.7 .3 6 .4-5 .3 2.8 .3 2.3 .3-6.4 .4 2.8 .3 1.1 .3-.2 .4 2 .3 1.8 .3-.7 .4-2.3 .3-2.3 .3-3.1 .3 1.6 .4 .9 .3 4.8 .3-4.1 .4-3.4 .3 7.5 .3-5.7 .4 .2 .3 2.2 .3 2.8 .3-11.3 .4 5.1 .3 5.2 .3-2.1 .4-1.9 .3 1.3 .3 7.6 .4-7.2 .3 4.7 .3 .3 .3-4.8 .4 3.5 .3-3.5 .3-.5 .4-2 .3 7.9 .3-5 .4-.6 .3-2.2 .3 11.6 .3-4.2 .4-3.4 .3-2.1 .3-3.3 .4 7.2 .3 0 .3-6.6 .4 10.1 .3-1.5 .3-6.7 .3 1.6 .4 .5 .3 2.3 .3-1.1 .4-5.8 .3 12.2 .3-4.5 .4 3.7 .3 0 .3-5.7 .3 2.2 .4 1.5 .3 .2 .3-3.7 .4-1.7 .3 2.6 .3-3.3 .4 1 .3-5.7 .3 8.2 .3-4.3 .4 1.8 .3 2 .3 1.4 .4 6.2 .3-6.6 .3-6.2 .4 6 .3-2.9 .3 3.9 .3-4.2 .4-.1 .3 .8 .3-.5 .4-4.6 .3 4.4 .3 2.5 .4 4.7 .3-5.8 .3-.3 .3 3.7 .4-.2 .3 4.1 .3-4 .4-2.4 .3 5.2 .3 .7 .4-7.7 .3 2.4 .2-7.1 .1 5.1 0-2 .1 2.6 .1-1 .1 1.2 0 .2 .1 2.3 .1-1 .1-3 .1-2.8 0 9.7 .1 .7 .1-7.2 .1 3.9 0-8 .1-.1 .1 4.9 .1 6.7 0-9.6 .1 .8 .1 9.3 .1-13.4 .1 9.7 0-.6 .1-2.6 .1 1.5 .1 9.3 0-14.4 .1 3.1 .1 .3 .1-1.7 0-2.5 .1 11.2 .1-5.3 .1-7.6 .1 4.1 0 4.2 .1 0 .1-7.1 .1 5.2 0 1.3 .1 .5 .1 0 .1-8.5 0 14.1 .1-6.3 .1 6.1 .1 4 0-11.6 .1-4.1 .1 8 .1-4 .1-1 0-2.3 .1 10.4 .1-8.1 .1-3.7 0 3.6 .1-2.7 .1 5 .1-2.2 0-2.5 .1 6.4 .1-4.8 .1 5.2 .1 2 0-6.2 .1-1.1 .1 3.2 .1 2.6 0-3.4 .1 .6 .1-.7 .1 1.3 0 1.2 .1-5.1 .1 .8 .1 2 .1-2.7 0 3 .1 1.5 .1-2.1 .1-2.3 0-.6 .1 9.6 .1-3.4 .1-7.6 0 1.1 .1 10.3 .1-1.5 .1-5.2 0 3.9 .1-10.1 .1 5.6 .1 2.8 .1-9.9 0 4.1 .1 5.9 .1 1.3 .1-6.6 0 3.4 .1 4.9 .1-7.5 .1-3.6 0 4.8 .1-1.3 .1 6.4 .1-4.4 .1-3.6 0 12.1 .1-11 .1 3.6 .1 .7 0 .5 .1-2.4 .1 1.5 .1-2.5 0-5.1 .1 4.5 .1 .1 .1 0 .1 1.2 0-2.9 .1 7.3 .1 .9 .1-14.2 0 8.3 .1-2.8 .1-7.1 .1 11.3 0-3.9 .1 .9 .1-1.1 .1 6.5 0 .5 .1-3.6 .1 1.5 .1-3 .1 .9 0-3.3 .1 2.8 .1-2.8 .1 4 0 1.7 .1-2 .1 3.3 .1 5.5 0-17.9 .1 7.9 .1-2.2 .1 .3 .1-3.4 0 5.3 .1-1.2 .1-1.5 .1 1.4 0-1.3 .1-6.5 .1 12.7 .1-5.2 0-2.4 .1 4.6 .1-3.7 .1-5.6 .1 11.3 0-9.5 .1 5.3 .1 1.2 .1 4.5 0-.5 .1-3.9 .1-3.5 .1 1.2 0 5.6 .1 2.5 .1-4.6 .1-4.5 0 6.2 .1-5.3 .1-.1 .1 .4 .1 3.1 0-1.1 .1 2.6 .1 1 .1-3 0-10.4 .1 2.3 .1 6.7 .1-.9 0 8.2 .1-8.1 .1-.5 .1 3.9 .1 .4 0-4.8 .1 2.6 .1-6 .1 .6 0 8 .1-9.7 .1 8.4 .1-1 0 .3 .1 .5 .1-1.4 .1-9.9 .1 4.1 0 1.4 .1 5.5 .1-7.5 .1 1.4 0 1.3 .1 6 .1-10.1 .1 .2 0 7.2 .1-10.1 .1 8.8 .1-2.9 0-4.1 .1 4.1 .1-2.2 .1 4.1 .1 .7 0 4 .1-5.5 .1 .3 .1-2.6 0 2.1 .1 3.7 .1-10.8 .1 9.1 0-4.2 .1 2.1 .1 .7 .1 1.8 .1-2.3 0-2.2 .1 2.3 .1-1.2 .1-.8 0 1.4 .1 2.3 .1-2.8 .1 0 0-5.1 .1 3.9 .1-6.2 .1 8.9 .1-5.8 0 7.7 .1 5.8 .1-12 .1 5.9 0-3.2 .1-3.5 .1-1.2 .1 4.8 0 2.8 .1-3.7 .1-6.6 .1 1.4 0 2.8 .1 5.4 .1-3.9 .1 0 .1 2.9 0-4.9 .1 .2 .1-.5 .1-5.6 0 7.7 .1-.4 .1 1.7 .1-7.5 0 1.2 .1 5.8 .1-2.3 .1 3.4 .1-7.7 0 3.5 .1-3.1 .1 3.1 .1-2.9 0 3.4 .1 1.6 .1-1.6 .1-8.4 0 9 .1-1.8 .1-5.1 .1 .3 .1 2.8 0 1.7 .1-3.6 .1-4 .1 5.9 0-.4 .1 7.1 .1-12.3 .1 11.9 0-2.5 .1-4.8 .1 4 .1-5.3 0 2.7 .1-5.5 .1 2.2 .1-3.7 .1-2 0 4 .1-1.5 .1 3.4 .1 1.8 0-4.4 .1 .4 .1 0 .1-6 0 5.8 .1-1 .1-.6 .1-3.5 .1-2.8 0 4.9 .1 1.3 .1 2.5 .1-1 0 .9 .1-3.6 .1 1.8 .1-4.3 0 2.3 .1 .4 .1 4.4 .1-7.3 .1-4.4 0 7 .1-6.5 .1 1.5 .1-1.1 0-1.7 .1 5.3 .1-2.5 .1-3.8 0 1.8 .1-1.9 .1 2 .1-3.1 0-1.3 .1-.1 .1-.1 .1 1 .1-3.4 0 1.8 .1 .5 .1 3.6 .1-4.3 0-8.8 .1 4.8 .1-.6 .1 .7 0 2.5 .1-2.5 .1-7.4 .1 4.5 .1-1 0 .3 .1 .8 .1-6 .1 3.4 0-5.5 .1 2.2 .1-.6 .1 2.3 0-5.7 .1-2.8 .1 3 .1-3.7 .1 3.1 0-4.5 .1-1.7 .1 2 .1-3 0 1.1 .1-5.3 .1 3 .1-4.9 0 1.9 .1-4.1 .1-2.5 .1 0 0-.2 .1 .7 .1-3.5 .1-1.5 .1-1.5 0 2.2 .1-6.6 .1 .2 .1-3.8 0 .5 .1-3.1 .1-.6 .1-4.8 0-.7 .1-.7 .1-3.4 .1-.9 .1-1.4 0-2.5 .1-1.5 .1-3.9 .1-2.2 0-.2 .1-1.6 .1-4.4 .1-3.7 0-.6 .1-1.2 .1-5 .1-2.6 .1-1.7 0-2.8 .1-2.4 .1-2.8 .1-3.4 0-1.2 .1-3 .1-3.9 .1-3.3 0-1.6 .1-3.4 .1-3.9 .1-4.2 0-1.6 .1-2.6 .1-4.6 .1-4.6 .1-2.8 0-1.6 .1-4.5 .1-4.4 .1-4.5 0 .1 .1-5.3 .1-4.5 .1-4.8 0-1.7 .1-3.9 .1-5.2 .1-4.5 .1-3.2 0-2.2 .1-5.6 .1-4.9 .1-4.9 0-.8 .1-5.5 .1-5.8 .1-5.2 0-1.5 .1-4.2 .1-5.7 .1-5.8 .1-2.7 0-3.1 .1-5.7 .1-5.9 .1-4.7 0-1.3 .1-5.7 .1-6 .1-5.9 0-.6 .1-5.3 .1-5.7 .1-6.1 0-2.4 .1-3.6 .1-5.8 .1-5.9 .1-3.8 0-1.8 .1-5.8 .1-5.6 .1-5.5 .1-5.5 .1-5.3 .1-5.3 0-1.6 .1-3.5 .1-5.2 .1-4.7 .1-3.1 0-1.7 .1-4.6 .1-4.5 .1-3.8 0-.5 .1-4.1 .1-3.7 .1-3.7 0-.6 .1-2.8 .1-3.1 .1-3 .1-1.3 0-1.3 .1-2.5 .1-2.1 .1-1.4 0-.6 .1-1.5 .1-1.2 .1-1.1 .1-.7 .1-.5 .1-.1 .1 .3 .1 .4 .1 .6 .1 .7 0 .3 .1 1.2 .1 1.5 .1 1.7 0 .1 .1 2 .1 2.2 .1 2.5 0 .7 .1 2 .1 2.9 .1 3.2 .1 1.7 0 1.5 .1 3.7 .1 3.6 .1 3.6 0 .4 .1 3.9 .1 4.4 .1 4.4 0 .9 .1 3.6 .1 4.8 .1 4.7 .1 2.6 0 2.4 .1 4.9 .1 5.2 .1 4.1 0 1.1 .1 5.2 .1 5.4 .1 5.5 0 .5 .1 4.9 .1 5.5 .1 5.6 0 2.3 .1 3.2 .1 5.9 .1 5.4 .1 4.2 0 1.6 .1 5.5 .1 5.8 .1 5.5 0 .1 .1 5.6 .1 5.5 .1 5.6 0 1.7 .1 3.7 .1 5.7 .1 5.6 .1 3.3 0 2.2 .1 5.3 .1 5.6 .1 4.3 0 .8 .1 5.3 .1 5.5 .1 5.1 0 1.1 .1 3.9 .1 5.3 .1 4.6 .1 2.7 0 2 .1 5.7 .1 4.8 .1 3.3 0 .9 .1 4.4 .1 4.7 .1 5 0 .4 .1 3.6 .1 4.7 .1 4.2 0 2.1 .1 2.7 .1 3.8 .1 4.2 .1 2.8 0 .5 .1 4.8 .1 3.8 .1 4.1 0-1 .1 4.8 .1 3 .1 4 0 1.6 .1 1.1 .1 3.5 .1 4.6 .1 .8 0 1.4 .1 4.1 .1 2.7 .1 3.4 .1 2.9 .1 3.6 .1 3.7 0-1 .1 3.4 .1 2.5 .1 1.9 .1 1.6 0 .3 .1 2.7 .1 3.3 .1 1.7 0 1.6 .1 .1 .1 3.2 .1 1.9 0 .7 .1 3.3 .1-.3 .1 4.3 0-.8 .1 1.5 .1 3.5 .1 .5 .1 2.4 0-.1 .1 1.5 .1 1.5 .1-.1 0 1.3 .1 2.9 .1 1.7 .1-.8 0 4 .1 .5 .1-1.3 .1 1.9 .1 3.2 0-3 .1 3 .1 2.4 .1 1.1 0 .2 .1 2.1 .1-.8 .1 1.7 0 4.7 .1-5.2 .1 2.8 .1 2.2 .1-.9 0 4.1 .1-1.2 .1 2.4 .1-5.9 0 7.8 .1 .9 .1-2.9 .1 5.1 0-2 .1 2.2 .1 2.8 .1-2.8 0-2.1 .1 2.7 .1-2.1 .1 1.8 .1 .7 0 .3 .1 5 .1 0 .1-3.3 0 4.7 .1-5.9 .1 3.1 .1 1.8 0 3.5 .1-.7 .1 0 .1 2.7 .1-1.1 0 1.9 .1-4.8 .1-1.8 .1 3.7 0 3.3 .1-.9 .1 2.1 .1 .1 0-.4 .1 1.2 .1-3.5 .1 5.2 .1-5.3 0 2.6 .1-3.1 .1 5.7 .1-5.3 0 8.2 .1-7.1 .1 4.8 .1-.7 0-2 .1 6.3 .1-4.3 .1 5.7 0-6.8 .1 .9 .1-3.1 .1 7.6 .1 1.3 0-1.8 .1-.8 .1-1.8 .1 9.8 0-4.7 .1-7.1 .1 4.8 .1-6.4 0 12.3 .1 1.4 .1-1.2 .1-4.1 .1-1.4 0-2.3 .1 6 .1-3.5 .1 1.4 0-.7 .1 1.2 .1 3.9 .1 2.7 0-4.6 .1-.1 .1-3.2 .1-.1 .1 .6 0 6.1 .1-1.7 .1 2.5 .1-1.5 0-2.4 .1-2.4 .1 2.9 .1-3 0 10.7 .1-5.2 .1-1.7 .1 7.5 0-7.2 .1 3 .1-2 .1 1.9 .1-2.2 0 2.8 .1 3.2 .1-8.3 .1-2.8 0 11.3 .1-3.5 .1 2.4 .1-3.5 0 5.9 .1 1.1 .1-9.3 .1 6 .1-3.9 0-3.2 .1 4.4 .1 3 .1-6.1 0 .3 .1 8.3 .1-3.7 .1 1.4 0-4.9 .1 1.7 .1 2.6 .1 .4 .1 0 0 4.7 .1-4.4 .1-5.4 .1 2.3 0 2.7 .1 4.5 .1-6.3 .1 1.2 0 1.2 .1-2.1 .1-.2 .1 2 0 4.1 .1-1.6 .1-2.3 .1 2.4 .1-5.4 0 7.5 .1-.7 .1-1.3 .1-6.2 0 12.1 .1-16.2 .1 6.5 .1 .4 0 5.4 .1-7.1 .1 5.8 .1-1.1 .1-.4 0 3.9 .1 2 .1-3.3 .1-2.1 0-6.5 .1 12.5 .1-5.7 .1-5 0 6.7 .1 4.3 .1-5.1 .1-3.3 .1 11.5 0-5.4 .1-.7 .1 2.3 .1-10.5 0 7.1 .1-.2 .1 8.2 .1-9.3 0 .1 .1-2.7 .1 2 .1 2.2 0 1.6 .1-1.4 .1 7.4 .1-4.9 .1 .6 0 2.5 .1-2.4 .1-3.7 .1-3.3 0 6.4 .1-3.9 .1 7.3 .1-6.9 0-4.8 .1 7.7 .1 3.5 .1-4.1 .1 1.3 .1 5.4 .1-4.7 .1-1 0-1.9 .1-3.4 .1 10.4 .1-.8 0-7 .1 5.3 .1-.9 .1-2.2 .1 .3 0 3.6 .1-6.5 .1 2.4 .1 1.6 0 .3 .1-.6 .1 1.5 .1 1.2 0-4.8 .1 3.4 .1-2 .1 6.9 0-9.7 .1 4 .1 3.2 .1-3.2 .1-.1 0-.6 .1 2.9 .1-4.8 .1 3.7 .1-4.5 .1 5.9 .1-2.4 0 2.7 .1 1.9 .1-1.6 .1-5.1 .1 5.1 0-6.4 .1 2.9 .1 8.3 .1-5.5 0 5.2 .1-5.7 .1 .7 .1-3.7 0 7 .1-3.8 .1 2.9 .1-.6 .1 .4 0-.6 .1-1.2 .1 .2 .1-2.2 0-4.8 .1 8.9 .1 5.4 .1-3.2 0 4.2 .1-6.1 .1-4.8 .1 0 0 5.9 .1-1.3 .1-1.6 .1 3.1 .1-5.4 0 4.8 .1-2.6 .1 1.5 .1 3.5 0-4.4 .1 5.2 .1-.1 .1-6.9 0 10.4 .1-11.9 .1 3.9 .1 2.9 .1-10.1 0 11.2 .1 .4 .1-4.1 .1 1.3 0-.1 .1-1.4 .1 4.4 .1-4.8 0 1.1 .1 1.5 .1 1.7 .1 .9 .1-8.7 0-1.8 .1 6.5 .1 .3 .1-3.4 0 4.7 .1 1.2 .1-.8 .1 4.3 0-9 .1 3.6 .1 6.5 .1-4.1 0-6 .1 4.5 .1 3.3 .1 3.1 .1-4.7 0 1.7 .1-7.6 .1 3 .1 4.9 0-7.2 .1 3.1 .1-6 .1 11.2 0-5.3 .1 2.4 .1-6.9 .1 .7 .1 10.5 0-7.2 .1-.6 .1 3.6 .1 .2 0-8.3 .1 3.3 .1 3.5 .1-.1 0 1.2 .1-2.5 .1 .6 .1 1.7 .1-3 0-.4 .1 1 .1 2 .1-.5 0-1 .1 .8 .1 .7 .1 1.4 0 .2 .1-5.5 .1 7.7 .1-8.6 0 7.3 .1-4.1 .1 4.3 .1 1.7 .1-9.7 .3 8.4 .3-.9 .4-2.3 .3 3 .3-2.8 .4 2.2 .3-3.8 .3 6.2 .3-.5 .4 .7 .3-4.5 .3 8.4 .4 .6 .3-6.7 .3-1 .4 .2 .3 3.7 .3 1.3 .3-5.7 .4-4.1 .3 8.3 .3-1.5 .4 .8 .3 1.2 .3-5.2 .4 3.9 .3-1 .3 2.3 .3 2.8 .4-3.9 .3-2.7 .3 6.9 .4-1.6 .3-2.9 .3-5.1 .3 3.1 .1 3.3 0 1.4 .1-3.5 .1 3.2 .1-3.4 0 .7 .1 3.1 .1-2.6 .1 1.4 0 2.4 .1 .8 .1-5.5 .1 1.2 0-3.5 .1 .1 .1 5.2 .1-2.6 .1-4.3 0 7.7 .1-4.4 .1 1.7 .1 2.4 .1-1.5 .1-6.2 .1 8.3 0-3.7 .1-2.7 .1-2.5 .1 11.4 .1-3.8 0-.1 .1 1.6 .1-2.1 .1-4.5 0 6.9 .1 1.1 .1-1.6 .1 3.3 0 1.2 .1-8.6 .1 1.1 .1 4.3 .1-2.2 0 .1 .1 2.3 .1-.6 .1-3.7 0 1.8 .1-2.7 .1 1.7 .1-2.9 0-2.7 .1 4.7 .1-.3 .1 4.8 0 2.1 .1-4.9 .1 1.5 .1-3.5 .1-.9 0 2 .1 0 .1 1.9 .1-.6 0 5 .1-6 .1-4.5 .1 5.6 0-2.4 .1 2.7 .1 3 .1-5.6 .1 1.8 0 1.9 .1-4.6 .1 3.7 .1 1 0 .9 .1 .9 .1-1.7 .1-.5 0-5.6 .1-4.1 .1 5.5 .1 7.5 .1-4.1 0-7.4 .1 5.8 .1 2.4 .1-6.9 0 7.6 .1-5.4 .1 7 .1-3.2 0 9.7 .1-14 .1 5.1 .1-5.5 0 8.3 .1-3.2 .1 2.5 .1-2.5 .1-4 0 1.6 .1-1.8 .1 .6 .1 3.8 0 2.9 .1-.7 .1-1 .1-3.4 0 3.4 .1-4.3 .1 3.4 .1 2 .1-3.2 0-.9 .1 .1 .1 3.3 .1-2.9 0-3.4 .1 3.1 .1-2 .1 8 0-4.6 .1-4.6 .1 5.4 .1 1.5 .1-1.1 0-2.3 .1 1.6 .1 .4 .1 2.3 0-2 .1 6 .1-7.8 .1 5.5 0-4.7 .1-5.4 .1 1.7 .1-2 0 .3 .1 9.1 .1-5.7 .1 3.9 .1-4.6 0 2.7 .1-3.2 .1 6 .1-3.5 0-.6 .1 .9 .1 7.3 .1-5.4 0 1.3 .1-6.5 .1 1.9 .1 2.9 .1-6.7 0 10 .1-3.3 .1-.9 .1-.6 0-.1 .1-.8 .1 5.9 .1-2.2 0 1.8 .1-4.8 .1-1.8 .1 7 .1-8 0 1.9 .1 4.1 .1 1.2 .1-7.5 0 3.3 .1 .9 .1-.5 .1-2.2 0 4.8 .1-3.7 .1 .9 .1-6.2 0 6.6 .1-5.7 .1 8.2 .1-.6 .1-3.1 0 2.1 .1-.2 .1-.8 .1 1.6 0-1.5 .1-1 .1-1 .1 7.6 0-4.5 .1-.7 .1 2.3 .1-3.4 .1 0 0 3.3 .1 1.1 .1-1.1 .1-6.6 0 4.7 .1-.2 .1 1.5 .1-4.1 0-.5 .1 2.8 .1-2.3 .1-.5 .1 3 0 3.1 .1-2.4 .1 3 .1-6.5 0 5.2 .1-2.1 .1-2.7 .1 1.4 0-1.3 .1 2 .1-1.6 .1 6.1 0-4.9 .1-3.3 .1 3.8 .1 1.8 .1-2.2 0 3.6 .1-5.4 .1 .2 .1 7.6 0-4.9 .1 1.6 .1-.1 .1 .2 0-1.6 .1-.7 .1 3.9 .1-4.8 .1 1.9 0 1.7 .1-3.3 .1-3.4 .1 6 0 1.9 .1-2.5 .1-5.8 .1 7 0 4 .1-10.5 .1-3.5 .1 7.4 .1 1 0 2.1 .1 .1 .1-2.1 .1 1.3 0-.6 .1-.6 .1-.5 .1-.3 0 2.5 .1-.8 .1-2.5 .1 4.5 0-5.4 .1 1.5 .1 1.1 .1-6 .1 4.5 0 3.7 .1-.1 .1-6 .1 1.1 0-.7 .1 2.5 .1 .5 .1-4.5 0 5.7 .1-.7 .1-.5 .1-1.7 .1 1.4 0-4.7 .1 6 .1-.1 .1-.9 0-3.2 .1 7.3 .1-.4 .1-8.9 0 6.8 .1-.8 .1-8 .1 9.1 .1 .4 0 .2 .1-1.6 .1-2.4 .1 .4 0 3.1 .1 1.9 .1-4.9 .1 .7 0 2.8 .1-8.3 .1 7.6 .1-2 0-5.7 .1 8.7 .1-4.9 .1 5 .1 1.7 0-7.7 .1 .2 .1 3.5 .1-5.1 0 7.3 .1-1.6 .1 2.3 .1-8.2 0 5.9 .1 .8 .1-6.6 .1 7.9 .1-6.7 0 4.6 .1-4.4 .1 6.2 .1 2.7 0-4.8 .1-.1 .1 3.7 .1-5.1 0 1.5 .1 2.3 .1-1.2 .1 3.4 .1-1.1 0 2.1 .1-5.6 .1 3.3 .1-5.6 0 5 .1 2.5 .1 1.8 .1-10.5 0 3.1 .1 2.6 .1-4.6 .1 4.2 0-.1 .1-2.9 .1-.2 .1-1.1 .1 3.5 0 2.9 .1-2.9 .1 7.2 .1-12.4 0 2.7 .1 3.6 .1-5.3 .1 4.3 0 1.4 .1-1.9 .1-1.2 .1 3.4 .1-1.5 0 .9 .1-.6 .1-3.5 .1-1.3 0 2.1 .1 1.6 .1-1.1 .1 3.3 0-2 .1 2 .1-2.5 .1-2.4 .1 4.5 0-1 .1-4 .1 1.2 .1 9.3 0-17.9 .1 13 .1-3.2 .1-.4 0-.7 .1-.6 .1 8.2 .1-8.2 0 .4 .1 3.2 .1-1.3 .1-1.7 .1-.4 0-3.1 .1 6.9 .1-6.3 .1-4 0 10 .1-1 .1-1.3 .1-2.6 0 4.9 .1-6.6 .1-3.4 .1 6.7 .1 1.7 0-.6 .1 4.1 .1-3.8 .1-3.2 0 .1 .1 2.9 .1-3 .1-.4 0-4.7 .1 4 .1-3.1 .1 4.1 .1-.4 0 1.5 .1 2.8 .1-5.9 .1 4.3 0-7.4 .1 3.4 .1 1.9 .1 2.4 0-8.7 .1 2.1 .1 .7 .1-1.1 0-2.6 .1-2.2 .1 .7 .1 2.7 .1-3.8 0 8.5 .1-2.1 .1-9.2 .1 3.3 0 5 .1-.3 .1-1.5 .1-7.5 0 2.7 .1 3.9 .1-3.8 .1-2.2 .1 2.1 0 .9 .1-2.9 .1-.5 .1 1.3 0-4.2 .1-1.7 .1 3.4 .1-5.8 0 4.1 .1-3.7 .1 2.9 .1-5.8 .1 5.1 0-2.5 .1-2.3 .1-2.3 .1 .9 0-2 .1-1.5 .1 4 .1-2.1 0 1.3 .1-6.4 .1-2.3 .1-.2 0 4.2 .1-.3 .1-6.3 .1 4.7 .1-3.6 0-1.8 .1 1.2 .1 .2 .1-2.4 0 .1 .1-2.2 .1-1.9 .1 .9 0-2.4 .1 3.3 .1-3.4 .1 2.9 .1-5.4 0 4.7 .1-4.5 .1-.7 .1 1.3 0 1 .1-2.1 .1-1.1 .1 3.2 0-2.4 .1-3 .1 1.1 .1 2.7 .1-2.2 0 .7 .1 1.7 .1-4.1 .1 1.4 0-1.5 .1 1 .1 1 .1-2.7 0 2.2 .1 .2 .1 1.7 .1-2.2 0-.9 .1 2.8 .1-1.9 .1 2.5 .1 1 0-2.1 .1 1.7 .1-.9 .1-2.3 0 2.3 .1-.4 .1 4.2 .1-1.1 0 1.8 .1 .7 .1 2.8 .1-1.6 .1 .4 0 1.9 .1 2.9 .1-2.1 .1 1.5 0-.8 .1-.1 .1-.7 .1 3.8 0-.2 .1 .8 .1 5.4 .1-3.7 .1 1.8 0-.9 .1 4.1 .1-2.1 .1 5.4 0-4.4 .1 3.2 .1 1.5 .1-1.8 0 2.5 .1-.9 .1-1 .1 1.1 0 2.7 .1 3.9 .1-4.4 .1 3.3 .1-2.6 0 2.8 .1-3 .1 2.1 .1 2.7 0-1.8 .1 1.9 .1 4 .1-2.1 0-1.3 .1-.8 .1 2.5 .1 5 .1-2.7 0 .1 .1 2.9 .1 1 .1 1 0-3.5 .1-.9 .1-1.4 .1 3.1 0 1 .1 3.4 .1-.6 .1-1.8 .1 4.1 0-5.5 .1 1 .1 .1 .1 .6 0 2.4 .1-1.2 .1 .7 .1 6.1 0-7.6 .1 1.5 .1 2.6 .1 2.2 0 .3 .1-1.9 .1 .1 .1 .6 .1 3 0-4.5 .1-3.7 .1 7.3 .1-3.5 0 3.1 .1 4.3 .1-3.3 .1 5 0-9.4 .1 5.2 .1 .7 .1 1.4 .1-4.2 0 2.6 .1 0 .1 .1 .1-3.9 0-.9 .1 6.5 .1-.4 .1-.7 0 1.7 .1 1.4 .1-6.2 .1 5.6 .1 2.1 0-1.3 .1-1 .1 .4 .1-5.9 0 2.7 .1 4.4 .1 1.3 .1-2.7 0-2.5 .1 1 .1 2.8 .1 3.4 0-3.4 .1-3.6 .1 3.3 .1-.4 .1 5.5 0-5 .1-1.5 .1-.2 .1-3.1 0 .5 .1 1.6 .1-.8 .1 2.9 0-.3 .1 2.4 .1 1.7 .1-3.7 .1-1 0-4.6 .1 6.3 .1 .9 .1-4 0 1.1 .1-.8 .1 5 .1-1.2 0 1.7 .1-6.7 .1 10.8 .1-9.7 .1-.5 0 3.4 .1-2 .1 6.7 .1-6.2 0-.8 .1 4.7 .1 .8 .1-5.8 0 1.1 .1 .3 .1 .6 .1 5.3 0-1.2 .1-.5 .1 .6 .1-3.5 .1 2.4 0-2.6 .1-1.9 .1 6.8 .1-9.5 0 4.9 .1-1.5 .1-3 .1 3.6 0 1.2 .1 1.2 .1-3.6 .1 4.5 .1-1.3 0 1.5 .1-7.6 .1 4.1 .1-.4 0 3.3 .1-3.6 .1 .7 .1-1.8 0-.1 .1 .7 .1 5.4 .1-5.6 .1-3.9 0 7.7 .1-2.1 .1 2.9 .1-.1 0-2.3 .1-.3 .1-.3 .1 1.5 0-2.1 .1 2.7 .1 3.4 .1-5.7 0 .1 .1 0 .1 3.6 .1 .1 .1 2.2 0-2 .1-1.6 .1 1 .1-4.9 0 5.2 .1-1 .1 5.3 .1-1.9 0-6.1 .1 .7 .1 4.1 .1-8.2 .1 3.2 0 3.6 .1 .8 .1-1.2 .1 2.7 0-3.9 .1 1 .1-.8 .1-2.4 0 3.2 .1-1.7 .1 1.8 .1-7.5 .1 7.6 0-1.8 .1-.1 .1 1.8 .1-1.4 0 3.9 .1 1 .1-1 .1 .2 0-1.6 .1-.9 .1-3.7 .1 2.6 0 4.4 .1-1.2 .1-3.4 .1 1.6 .1 2.7 0-3.4 .1 5 .1-6.6 .1 4.4 0-.3 .1-1.4 .1 .4 .1 .7 0-7.8 .1 7.6 .1 1.9 .1-2 .1 2 0-6.4 .1 3.1 .1 1.2 .1-1.7 0 4.1 .1-1.9 .1-2.8 .1 3.7 0 .1 .1-3.5 .1 3 .1-.7 .1 0 0-4.5 .1 7.1 .1-1.8 .1-1.8 0 1.1 .1-.1 .1-1.7 .1-.8 0 2 .1-2 .1 .4 .1-1.9 0 2.5 .1 3.6 .1-2.2 .1-.4 .1-1 0-.3 .1-3 .1 8.8 .1-6.6 0-2.1 .1 5.3 .1-.4 .1-2.1 0-2.7 .1 .3 .1 8.2 .1-4.6 .1-1.5 0 7 .1-6.6 .1-1.1 .1 4.1 0-.4 .1 3.3 .1-8.6 .1 5.1 0-5.5 .1 6 .1-3.1 .1 .6 .1-.7 0 4.4 .1 2.2 .1-4.8 .1-.4 0-.7 .1 2.9 .1-4.3 .1 12.7 0-10.5 .1 5.5 .1-4.4 .1-4.2 0-.5 .1 3.2 .1-.8 .1 1.3 .1-2.5 0 9.8 .1-.6 .1-10.9 .1 6.4 0 2 .1-4.3 .1 .3 .1 3.7 0-1.5 .1-4.8 .1 6.8 .1-4.8 .1 6.6 0-7.9 .1-3.7 .1 6.7 .1 3.1 0-1.9 .1-1 .1-3 .1 5.2 0-7.7 .1 7.4 .1-5.6 .1 1.7 .1-2 0 1.2 .1 6.7 .1-7.4 .1 3.8 0-2.8 .1 5.2 .1-6.7 .1 3.8 0 2.6 .1 3.8 .1-9.6 .1 .8 0 2.4 .1 4.3 .1-7 .1 5.2 .1-4.1 0-1.1 .1-1.6 .1 4.9 .1 2.4 0-3 .1-5.7 .1 4.4 .1 4.3 0-.2 .1-1.7 .1 3.4 .1-7.7 .1 .1 0 10.2 .1-4.8 .1-2.4 .1-.8 0-5.9 .1 9.6 .1-8.1 .1 .3 0 5.4 .1 4.4 .1-5.3 .1 2.1 .1-2.2 0 2.3 .1-5.8 .1 10.7 .1-8.6 0 4.3 .1-7.4 .1 10.8 .1-3.7 0 4.4 .1-7.5 .1 4.8 .1-3.4 0 .4 .1 3.8 .1-6.2 .1 4.7 .1 3.4 0-.5 .1-1.9 .1-2.1 .1-3.6 0 6.8 .1-6 .1 5.3 .1-4.3 0 1 .1 0 .1 1.7 .1-2.9 .1 1.8 0-2 .1 3 .1-.7 .1 .4 0-3.6 .1 3.4 .1-.8 .1 1.5 0-1.5 .1-2.8 .1 4.8 .1-4 .1 2.7 0-6.6 .1 7.3 .1 .4 .1-4.4 0 4.2 .1-2.6 .1 4.9 .1-2 0-5.4 .1 3 .1-4.4 .1 4.1 0 2.4 .1 .8 .1-2.6 .1-.3 .1 1.1 0-2.1 .1 2.6 .1 2.3 .1-2.6 0 1.9 .1-4.6 .1 .8 .1 2.4 0 4.7 .1-2.8 .1 2 .1-4.6 .1 3.3 0-8.2 .1 6.2 .1-7.3 .1 9.4 0-2.1 .1 2 .1-2.2 .1-2.5 0-.6 .1 2.6 .1 3.7 .1-2.4 .1-3.2 0-.1 .1-.3 .1 1.4 .1 .3 0-1 .1 1.4 .1-4.4 .1 8.8 0-3.7 .3 3.7 .4-3.5 .3-1.3 .3 .9 .4 .4 .3-2.4 .3 .8 .4 6.4 .3-2.6 .3-4.1 .3 3 .4-3.7 .3 6.2 .3-6.6 .4 5.3 .3-2.3 .3 0 .4-2.3 .3 1.6 .3-1.3 .3-.3 .4 3.8 .3 5.7 .3-7.9 .4 3.8 .3-2.7 .3-1.9 .4 5.7 .3-1.9 .3 1.5 .3-2.8 .4 .1 .3-2.6 .3 1.6 .4 5.4 .3-10.9 .3 7.5 .4 3 .3-1.8 .3 .3 .3-3.1 .4 3.9 .3 .1 .3-3.2 .4 4.8 .3-6 .3-5.4 .4 6.9 .3-.3 .3-1.9 .3 1.1 .4-.2 .3-3.5 .3 8.5 .4-3.3 .3 7.4 .3-7.4 .4 1.2 .3-5.2 .3 7 .3-5.7 .4 4.5 .3 1.1 .3-.3 .4-4.4 .3 .1 .3 4.4 .4 1.2 .3 .8 .3-4 .3-.2 .4 5.3 .3-6.5 .3 3.8 .4-2.9 .3-3 .3 .9 .4 4.3 .3-.6 .3 .8 .3-2.2 .4-.4 .3 2.2 .3-1.2 .4-3.9 .3 3.3 .3 5.9 .4-6.7 .3 3.7 .3-1.7 .3 2.2 .4-4.3 .3-1.1 .3 4.8 .4-3.1 .3 1.9 .3-.7 .4 3.5 .3-1.9 .3-.2 .3-3 .4-1.6 .3 2.1 .3 4.6 .4-.4 .3-.2 .3-2.6 .4-1.7 .3 6 .3-2.6 .3 1 .4-4 .3 .8 .3 3.6 .4 .3 .3-4.6 .3 3.5 .4-3.9 .3 6.5 .3-1.4 .3 4.4 .4-2 .3-5.9 .3 2.4 .4-1.8 .3 1.7 .3 1.8 .4-2.1 .3 .2 .3-3.7 .3 5.2 .4-1.5 .3 1.7 .3 1.2 .4-2.7 .3 1.9 .3-3.5 .4 4.2 .3-2.6 .3-1.5 .3 1 .4-3.1 .3 2.1 .3 .6 .4 1.3 .3-.3 .3-1.5 .4 1.3 .3-5.2 .3 6 .3 1.3 .4 .6 .3 .8 .3-3.4 .4 .4 .3-1.1 .3 .1 .4 1.6 .3 3.3 .3-8.1 .3 3.2 .4 2.1 .3-3.4 .3 3.9 .4-4.8 .3 2.8 .3-3.5 .4 5.2 .3-2.8 .3 3.8 .3-2.5 .4-1.7 .3 1.4 .3 1.5 .4-.3 .3-.7 .3-.2 .4 1 .3 2.3 .3-3.8 .3 2.7 .4-4.7 .3 6.1 .3-1.5 .4-1.9 .3 .1 .3-3.6 .4 4.8 .3-.9 .3-3 .3 2.5 .4 2.8 .3-1.1 .3 .3 .4-2.1 .3 3.7 .3-2.3 .4 2.4 .3 3.6 .3-11.1 .3 4 .4 1.3 .3-1.9 .3 4.7 .4-3.6 .3 5.4 .3-2.4 .4-.9 .3-1.1 .3 2.3 .3-.9 .4 2.6 .3-2.7 .3 1.6 .4-1.6 .3-.2 .3-4.9 .4 4.1 .3 1.1 .3-4.1 .3-.6 .4 2.9 .3 1.6 .3-5.2 .4 5.3 .3 1.8 .3-3.2 .4 1.3 .3 .6 .3-2.9 .3 3.4 .4-.4 .3-4.5 .3 4.7 .4 1 .3-5.2 .3 5.2 .4-3 .3-2.8 .3 .9 .3 .4 .4 3.8 .3-2.7 .3 .3 .4-2.3 .3 3.4 .3-3.3 .4 1.5 .3 3.4 .3 .2 .3-3.1 .4 1.3 .3 1.5 .3-1.4 .4 3.3 .3 .3 .3-3.7 .4-3 .3 2.9 .3 4 .3-.6 .4 .2 .3-.2 .3-4.2 .4 2.1 .3 2.1 .3-2.1 .4 1.6 .3-4.9 .3-.5 .3 8.5 .4-3.2 .3-.4 .3 2.3 .4 2 .3 1.7 .3-13.8 .4 7.3 .3 1.8 .3-7.8 .3 .4 .4 4.3 .3 5.4 .3-2.4 .4 3.2 .3-4.9 .3 2.1 .4 1.2 .3-2.8 .3-1.2 .3 .4 .4-10.1 .3 10.7 .3-5.8 .4 2.8 .3 4 .3-.8 .4-6.3 .3 6.7 .3 .6 .3-1.4 .4 1.3 .3-.3 .3-5.9 .4 3.9 .3-.2 .3-2.4 .4 3.1 .3-2 .3 2 .3-2.1 .4 5.1 .3 3.1 .3-7.3 .4 1.6 .3 .1 .3 1 .4-1.6 .3-5.4 .3 6.9 .3-1.3 .4-2.5 .3 2.4 .3-.8 .4 2 .3-1.5 .3 .1 .4 1.1 .3 .4 .3-.6 .3 3.1 .4-2.5 .3-2.6 .3 6.6 .4-4.2 .3 3.8 .3-6.9 .4 4.3 .3 3.1 .3-1.1 .3-3.1 .4-1.8 .3 0 .3 1.1 .4-2 .3 .6 .3-.6 .4 0 .3 3.3 .3-5.3 .3 5.1 .4 1.4 .3-4.2 .3 .1 .4 2.4 .3-.1 .3 2.6 .4-7.7 .3 5.1 .3 3.9 .3-3.4 .4 4.4 .3 1.1 .3-7.1 .4 5.4 .3-2.6 .3-1.4 .4-.6 .3 .1 .3-1.7 .3 1.9 .4 2.9 .3 .9 .3-4.3 .4 2.4 .3-.1 .3-7.4 .4 8.1 .3-5.1 .3 .3 .3 5.2 .4 2.2 .3-7.3 .3 .6 .4-.1 .3 1.1 .3 .4 .4-1.2 .3-2 .3 8.9 .3-5.9 .4-.7 .3 4.3 .3-3.2 .4 3.8 .3-.8 .3 .5 .4-3.6 .3 2.8 .3-5.7 .3 .5 .4 3.7 .3-.9 .3 4.3 .4-4.2 .3-3.9 .3 4.8 .4-.9 .3 1.3 .3-3.5 .3 1 .4 2.2 .3 1.8 .3-.8 .4 .9 .3-5.7 .3 3.2 .4 1.1 .3 2 .3-1.8 .3-1.3 .4 .3 .3 .1 .3-3.4 .4 3.8 .3 2 .3-.2 .4-6.6 .3 4.8 .3-3.9 .3 6.8 .4-1.5 .3 .5 .3-3.5 .4-3.3 .3 2.3 .3 1.8 .4-2.9 .3 1.3 .3 7.1 .3-7.9 .4 4.8 .3-6.2 .3 5.5 .4 1.5 .3-.9 .3 1.9 .4 1.6 .3-8.2 .3 4.3 .3 .6 .4-.2 .3 3.1 .3-3.4 .4 2.4 .3-.1 .3-2.6 .4 1.1 .3-3.4 .3 2.8 .3-.3 .4-.8 .3-.8 .3 3.7 .4-2.8 .3 6.2 .3-2.5 .4-1.4 .3-3.4 .3 3.9 .3-2 .4-.1 .3-3 .3 4.3 .4-.8 .3-1.8 .3-.5 .4 1 .3-2.7 .3 2 .3 5 .4-5.2 .3 7.6 .3-9.3 .4 6.2 .3 0 .3 .3 .4-1.5 .3-5.6 .3 7.1 .3-.2 .4-2.6 .3-6.2 .3 8.8 .4-5.1 .3 1.7 .3 3.9 .4 .3 .3-2.4 .3-2.4 .3 5.8 .4-1.4 .3-3.4 .3-2 .4 3.2 .3-4.2 .3 8 .4-3.2 .3-2.2 .3 2 .3-5.3 .4 4.1 .3-1.5 .3-2.4 .4 2.5 .3 2.5 .3-4.5 .4 3.1 .3-3.2 .3 4.3 .3-5 .4 6.3 .3-.1 .3 .4 .4 2.5 .3-4.1 .3-.1 .4 1.2 .3-2.7 .3-3.6 .3 1.7 .4 0 .3 3.6 .3-2.1 .4 .7 .3 2.4 .3-.9 .4 4.6 .3-5.2 .3-2.3 .3 5.7 .4-4.3 .3 .9 .3 2.7 .4-2 .3 1.3 .3-3.3 .4 .8 .3 2.4 .3-2.9 .3 .3 .4 1 .3 4.1 .3-.2 .4-3.2 .3-.4 .3-1.9 .4 5.2 .3-2.3 .3 1.3 .3-5.9 .4 5.6 .3-1.6 .3 1.5 .4 .7 .3-2.5 .3-1 .4 2.7 .3-4.8 .3 6.7 .3-2.7 .4-3.7 .3 6.1 .3-.8 .4 1.4 .3-1.3 .3-1.3 .4-1.3 .3-2.6 .3 4.6 .3-.4 .4-2.6 .3 2.6 .3-3.8 .4 5 .3-2.3 .3 .2 .4-2.5 .3 4.3 .3-2 .3-1.9 .4 2.4 .3-1.5 .3 3.2 .4-6.5 .3 .9 .3 8 .4-6.3 .3 2.4 .3-2.2 .3 1.5 .4 6.1 .3-11.6 .3 6.3 .4-1.2 .3-.1 .3-2.1 .4-.4 .3 5.8 .3-2.1 .3-4.3 .4 3 .3-3.4 .3 10.6 .4-6.3 .3-5.5 .3 6.9 .4-.8 .3-.8 .3-.3 .3-1.9 .4 .9 .3-4.6 .3 8.3 .4 1.8 .3-3.8 .3 .3 .4-5 .3 2.3 .3-2.5 .3 .3 .4 4.6 .3 2.2 .3-3.7 .4 6.4 .3-4.2 .3-7.7 .4 4.6 .3 4.3 .3-2.9 .3 2.2 .4-6.9 .3 7.5 .3-6.2 .4 3.8 .3 4.4 .3-5.1 .4-.8 .3 2.5 .3-4 .3-.3 .4 4.8 0-6.2 .1 .6 .1 7.5 .1-7.5 0 4.2 .1 1.7 .1-2.9 .1-2.6 0 4.8 .1-4.4 .1 7.6 .1 .2 .1-8.1 0 4 .1-3.2 .1 2.7 .1-1.6 0-1.8 .1 3.7 .1-5.4 .1 4.9 0-1.2 .1-1.5 .1 4.2 .1-2.2 .1-1 0 .5 .1-.2 .1 2.9 .1-3 0-6.6 .1-.5 .1 5.1 .1-.5 0 2.5 .1-2.7 .1 1.3 .1 5.4 0-6.7 .1 5.5 .1-2.5 .1 3.6 .1-1 0-2.1 .1 2.6 .1-2.2 .1-3.4 0 4.1 .1 0 .1-1.5 .1 .9 0-1.7 .1 1.9 .1-1.5 .1-3.2 .1 3.2 0 4.7 .1-2 .1 1.7 .1-3.7 0-1 .1-1.7 .1 3 .1 2.2 0-.5 .1-.2 .1-3.1 .1 1.5 .1-2.2 0 4 .1-.6 .1-3.1 .1 1.9 0-5.9 .1 7.4 .1-3.8 .1 1.1 0 2.4 .1 .2 .1-3.4 .1 5.6 0 1.1 .1-1.4 .1-.4 .1-3.1 .1 3.3 0-5.6 .1-.6 .1 3.1 .1 .3 0-2.8 .1 6.6 .1-8.1 .1-1.5 0 4.1 .1 5.1 .1-2.2 .1-1 .1-.6 0 1.1 .1-.6 .1-.6 .1-.6 0-3.6 .1 6.4 .1-3.5 .1 2 0 .3 .1 1.3 .1-4.6 .1 4.1 .1 0 0-2.4 .1 .2 .1 .5 .1-3 0 1.4 .1-1.7 .1 5.8 .1-4.9 0-.7 .1 3 .1 1 .1-2.3 0-1.5 .1 3.5 .1 1 .1-6.2 .1 6.3 0-6.6 .1 6 .1-2.7 .1 .4 0 2.4 .1 1.8 .1 1.6 .1-1.8 0-1.7 .1-5 .1 2.3 .1 1.3 .1-1.8 0 3 .1-2.1 .1 5 .1-4.9 0-2.7 .1 1.9 .1-.5 .1 3.5 0 1.7 .1-.9 .1 0 .1-4.3 .1-1 0 .7 .1 2.1 .1-.9 .1 1.5 0 1.9 .1-2.4 .1 4.1 .1-6.2 0 3.5 .1-1.7 .1 2.6 .1-2.6 0-1.2 .1 1 .1-1.9 .1-.5 .1 4.7 0-3.5 .1 4.5 .1 3.2 .1-7.2 0 3.1 .1-2.4 .1-4.5 .1 4.5 0 3.9 .1-6.7 .1 2.6 .1-.1 .1-3.1 0 4.3 .1-1.1 .1 1.8 .1-1.4 0-3.6 .1 3.8 .1 1.2 .1-2.1 0 2 .1-.1 .1-6.7 .1 6.9 .1-6.6 0 1.8 .1 2.9 .1-2.1 .1 .4 0 4.7 .1-5.4 .1 5.6 .1 1.5 0-1 .1-6.2 .1-1.1 .1 3.9 0 5.1 .1-5.8 .1-.8 .1 1 .1 2.2 0 1.1 .1-3 .1-.3 .1 1.6 0-1.2 .1-1.1 .1-3.4 .1 4.7 0-1.8 .1 .9 .1-.2 .1-1.4 .1 3.5 0 1.3 .1-1.3 .1-3 .1 2 0 1.4 .1-2 .1 1.9 .1-5.2 0 3 .1 4 .1-1.1 .1-2.7 .1 .6 0 5 .1-2.6 .1-4.5 .1 2.5 0-1.9 .1-.3 .1-1.6 .1 4.8 0 3.7 .1-3.3 .1-5.4 .1 4.5 0-4.9 .1 4.2 .1 2 .1 1 .1-3.3 0 .5 .1-.8 .1-.5 .1 4.3 0-6.2 .1-1.6 .1 8.2 .1 1.3 0-9.5 .1 6.2 .1-.3 .1-3.1 .1-1.3 0 2.7 .1-1.2 .1 2.8 .1-3.6 0 4.5 .1-4.5 .1 5.6 .1-1.9 0 .6 .1-3.7 .1 .3 .1 .3 .1 3.2 0-4.6 .1-.3 .1 1.3 .1 1.5 0-1.1 .1 0 .1-3.1 .1 1.7 0-1.1 .1 5.1 .1-2.7 .1 1.8 0-4.9 .1 3.1 .1 1 .1-3.6 .1 1 0 .3 .1 1.6 .1 .3 .1-4.2 0 4.3 .1-.3 .1 .1 .1-2.9 0 2 .1 3.3 .1-.4 .1-4.4 .1 5.5 0-5 .1-1.2 .1 4.9 .1-2 0 4.8 .1-6.2 .1 .8 .1 1.4 0-1.1 .1-1.7 .1 .9 .1-.1 .1 0 0-.1 .1-3.7 .1 5.9 .1-3.8 0 .9 .1-1.4 .1 1.4 .1 2.8 0 .7 .1-2.4 .1-.4 .1-1.8 0 .6 .1 1.2 .1-1 .1-2.2 .1 2.5 0-2.7 .1 7.5 .1-4.4 .1-2.2 0 2.5 .1-3.1 .1 1.1 .1 4.3 0-.6 .1-6.1 .1 0 .1 1.4 .1 6.6 0-5.4 .1 .4 .1-2 .1 4.3 0-.9 .1-6.7 .1 2 .1-2.5 0 1.6 .1 .7 .1-1.4 .1 1.5 .1 3.2 0 .9 .1-2.6 .1 1.3 .1-5.2 0 6.8 .1 1.8 .1-6.1 .1 1.5 0-.5 .1-6.3 .1 7.5 .1-1.5 0-5.2 .1 2.8 .1 3.5 .1-1.6 .1-4.9 0 1.9 .1-.6 .1 1.8 .1-2.3 0 1.8 .1-.8 .1-3.4 .1 4.2 0-.5 .1-2.4 .1 3.1 .1 3.3 .1-9.3 0 4.1 .1 1.1 .1-2.2 .1-1.8 0 6.5 .1-6.7 .1 .6 .1-1.6 0 4.2 .1-8 .1 2.5 .1 .6 .1 1.6 0-.2 .1 1.1 .1-3 .1-1.7 0 1.5 .1-2.3 .1 .3 .1-.3 0 1.7 .1 .8 .1-4.8 .1 .7 0 1 .1-.2 .1-1 .1 1.3 .1-2.1 0-3.4 .1 6 .1-5.9 .1 5.5 0-2.9 .1-.4 .1-4.2 .1 3 0-1.1 .1-1.7 .1 2.3 .1-.2 .1 .6 0-5.1 .1 .3 .1 3.7 .1-2.2 0 .5 .1-3.2 .1 1.1 .1 .3 0-4 .1 .6 .1 1.1 .1 1.5 .1-3.7 0 1.8 .1-3.4 .1-1.2 .1 2.7 0-3 .1 1.2 .1-1.6 .1 1.2 0-3.1 .1-.8 .1-.6 .1 1.4 0 2.3 .1-1.2 .1-1.6 .1-1.2 .1 1.8 0-2.4 .1 1.3 .1-.1 .1-1.7 0-.5 .1-.6 .1-1.3 .1 0 0-1.9 .1-.4 .1 3.1 .1-3.1 .1-2.6 0 4.2 .1-.5 .1-1.8 .1-2.9 0 4.5 .1-1.7 .1-.3 .1-2.6 0 .9 .1-1.4 .1-.3 .1-1.7 .1 .3 0 .2 .1 .4 .1 .9 .1-.9 0-3.2 .1 3.5 .1-3.7 .1 2.4 0-1 .1 .2 .1-1 .1-.9 0 3.4 .1-5.4 .1 1.8 .1 2.8 .1-1.8 .1-1.2 .1-.5 .1 2.2 0-1 .1 .7 .1 .6 .1-3.2 0 .9 .1 .5 .1 1.2 .1 .7 .1-2.1 0 1.1 .1 .3 .1 .1 .1 2.4 0-3 .1 1.4 .1-3.1 .1 3.2 0 .3 .1 1 .1-1.3 .1 .2 .1-.7 0 1.1 .1 4.2 .1-5.2 .1 .3 0 2.5 .1-1 .1 3.4 .1-3.4 0 4.4 .1-2.5 .1-1.3 .1-.4 0 2.1 .1 .6 .1 2 .1-2 .1 6.7 0-3.1 .1-1 .1 0 .1 5.4 0-5.2 .1 2.8 .1 1.7 .1-3.2 0 2.5 .1-1.3 .1 3.5 .1 .7 .1-1.1 0-.4 .1-1.7 .1 6.6 .1-1 0-1.2 .1 1.9 .1-1.9 .1-1.4 0 3.6 .1-2.8 .1 1.3 .1 2.9 .1-3.8 0 3.1 .1 0 .1-1 .1 .4 0 1.9 .1 .4 .1 1.4 .1-2.5 0 3 .1-2 .1 1.4 .1 3.9 0-2.9 .1 .7 .1-.1 .1 2.1 .1 2.1 0-2.2 .1 2.6 .1-3.4 .1 4 0-1.1 .1 .9 .1-1.5 .1 1.1 0 2.1 .1-2.7 .1 4.5 .1-2 .1 2.2 0-3.1 .1-.6 .1 5.3 .1 .5 0-1.5 .1 2 .1-1 .1 1.9 0-1 .1-2 .1 4.9 .1-4 .1 7.2 0-5 .1-1.3 .1 2 .1 .9 0 .3 .1 1.3 .1-2.1 .1-2.9 0 2.7 .1 3.3 .1 1.9 .1-6.7 0 4.9 .1 2.6 .1-5.4 .1 7.4 .1-5.4 0 1.6 .1-.5 .1 5.6 .1-1.7 0-1.8 .1-.8 .1-2.8 .1 3.6 0-.7 .1 1.3 .1-3.8 .1 7.7 .1-.7 0 1.8 .1-4.9 .1 1.6 .1-2.6 0 5 .1-2.3 .1 4.7 .1-2 0 .2 .1-.4 .1-4.6 .1 5.5 .1-5.4 0 4.6 .1 .9 .1-3.9 .1 1.4 0 1.1 .1 1.3 .1 .2 .1-.4 0-2.1 .1 2.9 .1 5.5 .1-7.2 0 5.3 .1-6.6 .1 1.5 .1 4.9 .1-1.1 0 1.9 .1-2.3 .1-2.8 .1 1.8 0-1.2 .1 3.7 .1-.9 .1 1.7 0-4.6 .1 1.1 .1-.3 .1 .3 .1 .5 0 3.6 .1-2.7 .1 2.7 .1-2.3 0-4.8 .1 1.1 .1 3 .1 3.3 0-2.7 .1-3.5 .1 3.9 .1-.8 .1 2.1 0 .6 .1-1.2 .1-2.2 .1-.9 0 1.7 .1 .8 .1 1.1 .1-1.9 0-.4 .1 2.8 .1 .8 .1-1.2 0-3.1 .1 1.7 .1 6.1 .1-7.8 .1 1.8 0 3.1 .1-4.5 .1 1.6 .1 4 0-.8 .1-6.6 .1 5.8 .1-2.1 0-2.6 .1 6 .1-3.8 .1 1.2 .1-2 0 4.1 .1 .3 .1-.2 .1 3.9 0-4.3 .1-2.2 .1 2.1 .1-.4 0 1 .1-7.4 .1 7.9 .1 2.8 .1-2.7 0-3.6 .1 6.8 .1-3.2 .1 3.1 0-2.5 .1-3 .1-3.2 .1 4.3 0 1 .1-2.2 .1-2.2 .1 5.3 0-3.8 .1 5.2 .1-4.7 .1 2.3 .1-1.7 0 1.8 .1 .4 .1-6.4 .1 3.4 0 .3 .1 0 .1 1.2 .1 3 0-5.2 .1 3.8 .1-2.3 .1-.7 .1-1.9 0 1.7 .1-.8 .1 3.8 .1 2.6 0-2.4 .1 .5 .1-3.7 .1 3.6 0-3.7 .1-.1 .1 2.8 .1-2.1 .1 3 0-1.1 .1-1 .1-.7 .1 1.8 0 .2 .1-.4 .1 2.5 .1-4 0-2 .1 .2 .1 .8 .1 .2 0 1.9 .1 4.3 .1-6.4 .1 .4 .1 .8 0-1.1 .1 .6 .1 3.5 .1 1.4 0-4.8 .1 1.6 .1 2.4 .1-1.5 0-1.2 .1 1.3 .1-1 .1-1.4 .1 2.8 0-2.7 .1 .4 .1 1.9 .1-3.5 0 4.4 .1-3.3 .1-.6 .1 3.6 0 .3 .1 .7 .1 .9 .1-5.5 .1 1.7 0-1.9 .1 .8 .1 3.8 .1-1.3 0-.1 .1 .3 .1-1.9 .1 4 0-5.4 .1 4 .1-3 .1-.8 0 6.9 .1-5.6 .1 2.5 .1-3.4 .1 .1 0 4.5 .1-1.8 .1-.8 .1 .9 0 .4 .1 .6 .1-.9 .1 .5 0-.9 .1-.4 .1 2.3 .1-7.7 .1 7 0-1.8 .1 .3 .1-1 .1-1 0 3 .1-4.2 .1 .5 .1 0 0 6.2 .1-3.9 .1-.1 .1-3.2 .1 3.5 0 1.8 .1-4.6 .1 2.7 .1 .4 0 .9 .1 .9 .1 2.3 .1-4.6 .1-1.5 .1 3.7 .1-2.3 0 1.2 .1 .5 .1-1.9 .1-.1 .1 .8 .1-.2 .1-.5 .1 .2 0 3 .1-4.3 .1 1.7 .1-.2 0 2.5 .1-3.7 .1 .7 .1-.7 .1 3.1 0-.4 .1-.4 .1-.7 .1 4.9 0-4.5 .1-5.2 .1 1.1 .1 .2 0 2.2 .1-2.5 .1 3.5 .1-3.3 .1 3.2 0-1.4 .1 2.7 .1-.9 .1-2.5 0 6.4 .1-6.8 .1 1.4 .1-2 0 5.5 .1-.1 .1-2.4 .1-5.5 0 7.6 .1 2.3 .1-6.2 .1 3.2 .1 1 0-2 .1-2.9 .1 2.3 .1-1 0 2.8 .1-5.4 .1 5.3 .1-1 0-3.8 .1 1.3 .1 3.6 .1 1.7 .1-.9 0 4.8 .1-6.4 .1-3.3 .1 2.9 0-1.7 .1-4 .1 8.1 .1-4.7 0 .1 .1 6.4 .1-5.7 .1-.5 .1 4 0 2.3 .1-8.7 .1 1.8 .1 1.1 0 3.4 .1-1.3 .1 2.1 .1-6.1 0 3.2 .1 3.7 .1-7.8 .1 6.9 0-4.5 .1 2.6 .1-3.1 .1 4 .1 .3 0-2.2 .1 4.3 .1-6.3 .1 4.7 0-5 .1 5 .1-.3 .1-3.7 0 5.5 .1-3.9 .1-3.1 .1 2.5 .1 2.9 0-2 .1 2.1 .1 1.2 .1-1.4 0-.7 .1-.8 .1 .7 .1 2.3 0-4.9 .1 1 .1 2.4 .1-4.3 .1 4.7 0-2.3 .1 1.2 .1-2.6 .1 .9 0 3.4 .1-5.5 .1 5 .1 .3 0-2.4 .1-4.9 .1 2 .1 3.6 0 1.6 .1-5.8 .1 4.1 .1-.3 .1-4.1 0 4 .1-2.2 .1-1.8 .1 7.8 0-6 .1-1.6 .1 .1 .1 7.9 0-2.2 .1-1.1 .3-3.2 .3 2.9 .3-.7 .4 1.5 .3-5.1 .3 5.1 .3 .7 .4-4.5 .3-.1 .3 2 .4-2.9 .3 2.5 .3 0 .4 4 .3-5.6 .3 1.6 .3 3.9 .4-7.2 .3 6.5 .3-3.5 .4 2.5 .3-1.4 .3 1.6 .4-9.5 .3 6.3 .3-3.5 .3 4.5 .4-.9 .3 1.8 .3 3.8 .4-2.7 .3-.3 .3 .6 .4-2.1 .3 4.2 .3-2 .3-1.4 .4 2.8 .3-3.8 .3-.3 .4-.9 .3-1.2 .3 .5 .4 5.6 .3-3.8 .3 1 .3 1.8 .4-2.1 .3-1.9 .3 .3 .4 .9 .3 3.5 .3-3.6 .4-.1 .3 2.6 .3-1.2 .3 .1 .4 .4 .3 3.5 .3-4.8 .4-.3 .3 5.4 .3-6.4 .4-2 .3 6.2 .3-3.2 .3 1.1 .4 .3 .3-2.9 .3 3.9 .4-4.1 .3 4.9 .3 .7 .4-4.3 .3 4.2 .3-2.1 .3 3.9 .4-4.3 .3-4.3 .3 0 .4 6.4 .3-3.2 .3 2 .4-3.5 .3 1.3 .3-3.9 .3 6.2 .4 .9 .3-3.6 .3 3 .4-2.9 .3 2.6 .3-2 .4-1 .3 3.2 .3-5.5 .3 8.7 .4-8 .3-1 .3 5.4 .4-3.1 .3 3.9 .3-4.8 .4 6.9 .3-.5 .3-5.5 .3 7.2 .4-5.7 .3 1 .3-1.5 .4 2.2 .3 .3 .3-1.2 .4 1 .3-.4 .3 .8 .3-4.2 .4 2.1 .3-1.7 .3 2.6 .4 0 .3-.3 .3-1.1 .4 5.9 .3-6.6 .3 3.5 .3-2.3 .4 4.6 .3-.6 .3-1.8 .4 .6 .3-3.6 .3-.4 .4 4.2 .3-1.8 .3-3.6 .3 3.2 .4-2.7 .3-.3 .3 3.3 .4 .3 .3-.9 .3-.4 .4-1.3 .3 2 .3 .2 .3-.8 .4 6.6 .3-6.2 .3 1 .4-2.1 .3 1.4 .3 .6 .4 1.2 .3-8.4 .3 9.6 .3-1.2 .4-.7 .3-3 .3-1.7 .4 1.5 .3 4.3 .3-.1 .4-1.5 .3 1.7 .3-3.9 .3-.4 .4 5.6 .3-.4 .3-.7 .4 .7 .3-2.6 .3-5.3 .4 4.8 .3 3.2 .3-3.2 .3 2.3 .4-.2 .3-3.6 .3 3.4 .4-1 .3-3.6 .3 5.9 .4-5 .3 3.6 .3 .1 .3-3 .4-.3 .3 3.2 .3-.5 .4 2.3 .3-2.4 .3 .8 .4-.8 .3 1.8 .3-4.5 .3-2.1 .4 5.6 .3-1.6 .3-1 .4 5.4 .3-7.2 .3 2.6 .4 2.8 .3-2.6 .3-.5 .3 1.7 .4-1.6 .3-3.1 .3 1 .4 4.6 .3 0 .3-4.3 .4 3.4 .3 .9 .3 0 .3 1.9 .4-1.1 .3-2.4 .3-.4 .4 2.1 .3-4.2 .3-1.1 .4 5.6 .3 .8 .3-1.2 .3-.7 .4-4.4 .3 .4 .3 1.9 .4 5.3 .3-4.5 .3 1 .4-2.2 .3 4.9 .3-7.4 .3 8.2 .4-3.8 .3-6.1 .3 6.3 .4 1.2 .3 0 .3-.3 .4-1.7 .3 0 .3 .9 .3-1.6 .4 5.4 .3-6.7 .3 3 .4-.9 .3-2.7 .3 6.6 .4-2.6 .3-2.2 .3-.4 .3 1.3 .4 4.3 .3-3.1 .3-2.6 .4 2.4 .3-1.9 .3 2.8 .4-.2 .3 .8 .3-1 .3-.5 .4-3.2 .3 3.5 .3 2.1 .4-5.9 .3 5.4 .3-3.5 .4 0 .3 0 .3 3.1 .3-1.5 .4 .3 .3-2.7 .3 5.9 .4-5.8 .3 5.2 .3-.1 .4-1.2 .3-4.5 .3 3 .3-1.9 .4 5.3 .3-2.9 .3 .4 .4-.5 .3 .1 .3 1.8 .4 2.5 .3-3.1 .3 1.1 .3-1.3 .4-.6 .3-3.6 .3 1.8 .4-.5 .3 2.7 .3-8.1 .4 1.8 .3 3.8 .3 2.1 .3-1.7 .4 .6 .3 1.8 .3 1.7 .4 .5 .3-2.5 .3 1.2 0-3.3 .1-1.2 .1 3.5 .1 2.2 .1-2.3 0-5.6 .1 6.8 .1 1.9 .1-2.6 0-2.3 .1-1.3 .1-.7 .1 6 0-4 .1 .1 .1 .1 .1 .1 0 1.2 .1-1.8 .1 1.7 .1-2 .1-.5 0-2.3 .1 4.3 .1 2.7 .1-1.6 0 1.1 .1-3.3 .1-.9 .1 0 0-.8 .1 4.3 .1 1 .1-4.4 .1 2.6 0-4.2 .1 3.9 .1 1.1 .1-3.7 0 4.7 .1-3.8 .1 1.6 .1 3.1 0-7.3 .1 4.6 .1-1.7 .1 4 .1-3.5 0-.3 .1 1.5 .1 2.9 .1-5.3 0-.9 .1 .4 .1 3.9 .1-6.2 0 1.4 .1 1.2 .1-.7 .1 1.7 0-1.3 .1-3 .1 9.8 .1-2.8 .1-2.8 0-.9 .1-.3 .1-2.6 .1 1.6 0 3 .1 .2 .1 2.6 .1-3.3 0-1.4 .1 3.6 .1-.8 .1-4.3 .1 1.3 0 3.7 .1-3.8 .1 1.9 .1-2.4 0 4.6 .1 2.4 .1-9.5 .1 2.3 0 4 .1-.9 .1-.8 .1-2.9 .1-1 0 3.1 .1 3.2 .1 0 .1 3.2 0-9.5 .1 4.5 .1 .2 .1 3.8 0-6 .1 4.8 .1-6.9 .1 6.2 0-4.7 .1-.3 .1 3.3 .1-2 .1 1.7 0-.9 .1-1.6 .1 3.7 .1-2.5 0-1 .1-.1 .1-2.7 .1 1.3 0 3.8 .1-.3 .1-.8 .1 3.4 .1-3.1 0 .1 .1 1.2 .1-.5 .1 2 0-4 .1 1.5 .1-.2 .1-.8 0 .6 .1 2.3 .1 1.4 .1-3.4 .1-.1 0 .6 .1 2 .1-1.2 .1 2.4 0 .6 .1-1.7 .1-4 .1 .5 .1-.2 .1 3.4 .1-3.8 0 2.6 .1-2.1 .1-1 .1 4.8 .1-6.1 0 6.4 .1-6.4 .1 4.4 .1-.5 .1-.9 .1-1.3 .1 .9 0 3.8 .1-1 .1 3 .1-2.5 .1-1.2 0-.9 .1-.9 .1 3.5 .1-3.9 0 .1 .1-.8 .1 2.7 .1 6.1 0-8.1 .1-3.2 .1 2.2 .1 3.6 .1-2.8 0-.3 .1 2.7 .1-1.8 .1-1.9 0 3.1 .1-3.4 .1 2.1 .1 4.5 0-9.5 .1 8.9 .1-8 .1 4.8 0-5.4 .1 4.2 .1-1.1 .1 .3 .1-.6 0 5.5 .1-1.2 .1-5.9 .1-.5 0 3.7 .1-2.9 .1 7.8 .1-1.3 0-1.8 .1-5.5 .1 2.4 .1 3.9 .1-4.5 0 3.9 .1-1.6 .1 2.1 .1-2.3 0-.1 .1-2.9 .1 2.7 .1-1.7 0 3.7 .1-5 .1 5.3 .1 .3 .1-.8 0-5 .1 .6 .1 3.3 .1-.2 0-1.1 .1 .3 .1-2 .1 .2 0-.2 .1 1.2 .1 1 .1-.6 0-1.3 .1 4.6 .1-2 .1-2.8 .1 8.5 0-12.1 .1 7.3 .1-.7 .1-2.1 0-1 .1 2.2 .1 2.6 .1-.4 0-1 .1-.6 .1-.4 .1 2 .1-1.8 0 .2 .1 2.6 .1-4.3 .1 1.9 0-.9 .1-1.8 .1 5.3 .1-5.6 0 1.4 .1-1.1 .1 2.9 .1 .3 .1 2.4 0 .1 .1-.1 .1-2.5 .1 1.1 0-2.9 .1-1.7 .1 5 .1-4.6 0 3.4 .1 1.8 .1-3.4 .1 3.2 0-3 .1-.4 .1 1.7 .1 2.7 .1-7 0 3.4 .1-2.3 .1 2.3 .1 .5 0-4.4 .1 .8 .1 4.4 .1-1.1 0-2.4 .1 1.5 .1 2 .1-.1 .1-6.8 0 3.5 .1 5 .1-4.7 .1-.2 0 1.3 .1 .4 .1-.2 .1 .2 0-2.6 .1 2.7 .1 .8 .1-1.6 .1-.6 0-1.2 .1 1.9 .1-3.2 .1 1.7 0 .6 .1-4.9 .1 5.7 .1-4.1 0 1.5 .1-.1 .1 1 .1 .3 0 1.8 .1-3.8 .1 1.4 .1 1.8 .1-2.2 0-.4 .1 2.1 .1 1 .1-.4 0-4.2 .1 3.2 .1-.4 .1 3.9 0-4 .1-.6 .1 3.7 .1-4.8 .1 4.5 0-.1 .1-3.1 .1 .8 .1 .8 0 3.5 .1-4.4 .1-1.5 .1 2.4 0-1.3 .1-2 .1 1.7 .1 .8 .1 1.7 0-1.4 .1-.2 .1-2.5 .1 3.4 0-3.8 .1-.2 .1 .4 .1-.8 0 2 .1 1.2 .1-1.5 .1-1.1 0 1.4 .1-1.8 .1 3.2 .1 1 .1-3.9 0-.2 .1 2.8 .1 2.8 .1-5.7 0 3.5 .1-1.9 .1-3.3 .1 1.8 0 .8 .1-1.8 .1 5 .1-9.7 .1 4 0-.1 .1-.7 .1 0 .1 1.5 0 1 .1-1.1 .1 1.1 .1-2 0-1.9 .1 .6 .1 4 .1-4.1 .1 .2 0 1.7 .1 .2 .1-1.5 .1 1.7 0 1.3 .1 .3 .1-3.3 .1-3.6 0 .6 .1-.2 .1 2.8 .1 1.8 0-1.7 .1 .8 .1 4.4 .1-9.4 .1 5.3 0-3 .1-1.5 .1 .3 .1-.1 0 4.9 .1-3.5 .1 1.9 .1-6.1 0 6.1 .1-2.5 .1 .8 .1-4.3 .1 3.1 0-1 .1-1 .1 .3 .1 .1 0 .3 .1-2.8 .1 3.2 .1-4.6 0 .5 .1-1.7 .1-2.5 .1 9.2 .1-.2 0-4.8 .1-.2 .1-1.3 .1 1.8 0-.2 .1-2.6 .1 1.9 .1-3 0 2.4 .1 2.6 .1-1.2 .1-1.3 0-1.1 .1 4.4 .1-4.8 .1-4.3 .1 3.6 0-4.1 .1 4.3 .1-.6 .1 3.1 0-.1 .1-3.8 .1 0 .1 1.6 0-3.7 .1 .3 .1 4.2 .1-5.2 .1 2.3 0 4.4 .1-5.9 .1 4.3 .1-6.7 0 .9 .1 4.2 .1-1.6 .1-1.6 0-.3 .1 2.1 .1 1.2 .1-6.1 .1 1.4 0 2.5 .1-2.7 .1 2.2 .1-3.9 0 4.5 .1-1.5 .1-1.1 .1-.1 0 2.4 .1-5.5 .1 2.6 .1-2.4 0-.1 .1 4.2 .1-2 .1-.7 .1 .8 0-2.3 .1 3 .1-3.2 .1 1.8 0-1 .1 1.4 .1-3.5 .1 2.9 0 .1 .1-1.4 .1-1.3 .1-1.1 .1 1 0 1.4 .1-1.6 .1-2.2 .1 4.1 0-.3 .1-1.7 .1-1.7 .1 1.2 0 .2 .1-.3 .1 1.4 .1-3.9 .1 3.6 0-.7 .1 2.2 .1-3.2 .1 1.4 0-.4 .1-3 .1 7.9 .1-4.7 0 1.4 .1-.6 .1-.4 .1 .2 0-3.4 .1 4.3 .1-1.5 .1 .6 .1 2.6 0-2 .1 3.7 .1-1.2 .1-1 0-.4 .1-2.4 .1 6.1 .1-.7 0-3.4 .1 .5 .1-2.8 .1 5.3 .1-1.6 .1-.9 .1 .5 .1-.1 0-.3 .1 .2 .1 0 .1 4.7 0 1 .1-8.1 .1 3.9 .1-.9 .1 .1 0 2.7 .1-7.6 .1 8.2 .1-5.2 0 4.2 .1-1 .1-.3 .1 1.5 0-2 .1 5.9 .1-6.7 .1 .4 0 3 .1 .5 .1 2.9 .1-2.7 .1-1.9 0 1.3 .1-.2 .1 1.1 .1 2.1 0-1.7 .1-.4 .1 2.9 .1-3 0 1.9 .1 1 .1-1.8 .1 3.8 .1-2.4 0 4.2 .1-3.9 .1-.3 .1-1.1 0 2.6 .1 1.4 .1-4.2 .1-.5 0 1.3 .1 2.8 .1 .3 .1-1.7 .1 1.2 0 .9 .1 1.3 .1-3.2 .1-1.1 0 2.9 .1 5 .1-4.6 .1 .5 0 1.2 .1-3.7 .1 5.3 .1-3 0-2 .1 3.6 .1 .3 .1 2.8 .1-.8 0-2.1 .1 3.2 .1 .1 .1 2.4 0-5.5 .1 2.1 .1-1.7 .1 2.4 0 2.6 .1-.8 .1-2.5 .1-4.3 .1 3.8 0 1 .1 1.7 .1 2 .1 0 0-1.7 .1 1.5 .1-3.8 .1 .4 0 4.7 .1-2.1 .1 1.6 .1 0 .1-.3 0-1.8 .1 2.4 .1-1.6 .1 2 0 .4 .1-2.4 .1 4.8 .1-3.9 0 3 .1-5.5 .1 4.6 .1-4.5 0 .7 .1-1.2 .1 2.9 .1 .9 .1-1.1 0 6.2 .1-2.8 .1-4.2 .1 2.5 0-.6 .1 1.3 .1-.5 .1-3.1 0 7.5 .1-1.5 .1-1.1 .1 1.4 .1-1.7 0-2.4 .1-.9 .1 4.1 .1-3.2 0 1.1 .1-1.6 .1 4.1 .1-2.2 0 1.4 .1-1.3 .1-1.6 .1 3.9 .1-1.4 0-1.6 .1 3.8 .1 1 .1 1.4 0-2.2 .1-1.1 .1 1.7 .1-3.9 0 1.7 .1 .4 .1-3.9 .1 5.1 0 .9 .1-2.5 .1 3.2 .1-4.8 .1 4.5 0 .1 .1-3.4 .1 1.3 .1-1.1 0-1.5 .1-.5 .1 .6 .1 3.4 0-4.4 .1 3.3 .1 6 .1-4 .1-1 0-1.5 .1-4.1 .1 7 .1 .5 0-2.6 .1-1.4 .1 1.8 .1-1.7 0 3.9 .1-2.3 .1 2 .1-3.7 .1-1.2 0-2.1 .1 6.1 .1-3.8 .1 5.9 0-2.6 .1 0 .1-4.2 .1 5.9 0-.3 .1 1.9 .1-4 .1 1.5 0 .3 .1 .7 .1 .5 .1-1.4 .1 .5 0 .7 .1 1.6 .1-1 .1-1.4 0-1.1 .1-.6 .1 2.8 .1-3.8 0-.2 .1 2.2 .1-1 .1 .6 .1 1.4 0-1.1 .1 1 .1 .1 .1-.8 0-1.7 .1 3.2 .1-1.3 .1-1.3 0-.8 .1 2.2 .1 4.1 .1-4.1 .1 1.7 0-2.7 .1-.7 .1 4.2 .1-1.7 0-3.2 .1 5 .1-2.8 .1 2.7 0 .2 .1-2.8 .1-1.6 .1 4.7 0 1.9 .1-4.1 .1-4.1 .1 2.5 .1 2.3 0-5.4 .1 2.5 .1-.3 .1 .9 0 5.6 .1-4.1 .1 3.3 .1-3.2 0-.4 .1-.4 .1 .5 .1 3 .1-.9 0-.6 .1 .6 .1-4.7 .1 1 0-1.7 .1 1.7 .1 3.9 .1-4.5 .1 .8 .1-1.7 .1 3.1 .1 1.3 0 1.4 .1-2.4 .1 .9 .1 1.1 0-3.6 .1 0 .1 2.1 .1-.6 0-.6 .1 .3 .1-1.1 .1-1.1 0 2.8 .1-1.6 .1-.7 .1 3.5 .1-1.3 0 2.2 .1-3.9 .1 3.9 .1 1.8 0-5.3 .1-.2 .1-.6 .1 .1 0 1.2 .1 1.1 .1-1.7 .1 2.2 .1-3.4 0 1.6 .1 2.7 .1 .7 .1 1 0-.3 .1-.9 .1-6.1 .1 2.1 0 .3 .1 1.1 .1 1 .1 2.3 .1-4.3 0-4.7 .1 2.8 .1 3.8 .1 .6 0-3.8 .1 4.4 .1-1.5 .1 2.6 0-8.7 .1 5.9 .1-.6 .1 .5 0-1 .1-.8 .1 .9 .1-2.1 .1-2.3 0 6.5 .1-2.5 .1-1 .1 5 0-3.4 .1 .2 .1 1.7 .1-2.1 0 1.2 .1-2.2 .1 4.2 .1-2.3 .1 3.6 0-2.3 .1 1.4 .1-3.7 .1-.3 0 3.2 .1 0 .1-2.5 .1 2 0-1.9 .1 1.6 .1-2.7 .1 3.3 .1-2.7 0 2.1 .1-1.8 .1 .8 .1 .1 0 .3 .1 2.3 .1 1 .1-2.7 0-3.7 .1 2.6 .1-2.2 .1 5.2 0-2.9 .1-.5 .1 1.3 .1-1.8 .1 2.3 0-.6 .1-3.5 .1 4.3 .1-2.7 0 2.9 .1-6.2 .1 8.2 .1-4.6 0 .2 .1 3.2 .1-4.1 .1 3.7 .1-5.7 0 6.7 .1 .2 .1-1.7 .1-4.8 0 4.2 .1-.4 .1-1.5 .1-.9 0 .9 .1-.5 .1 1.5 .1 2 .1-2.3 0 1.5 .1-1.1 .1-1.2 .1 1.6 0-.8 .1 1.5 .1 2.7 .1-7.7 0 4.4 .1-4.7 .1 3.6 .1-2.6 0 4.1 .1 2.7 .1-5.2 .1 2.1 .1-2.7 0 2.4 .1 2.6 .1-5.1 .1 .9 0-2.1 .1 3.9 .1 .4 .1-2 0 2.4 .1-5 .1 4.3 .1-1.1 .1-2.9 0-.1 .1 1.3 .1 3.4 .1 .9 0-1.5 .1 1.9 .1-2.6 .1-1.8 0 4.5 .1-1.8 .1-3.5 .1 1.6 .1 2.7 0 .4 .1-1.4 .1-2.8 .1 2.3 0 3.4 .1-2 .1 1.2 .1-4.9 0 1.3 .1 1.7 .1-.1 .1-1 0-3.3 .1 4.3 .1-.2 .1-1.8 .1 3.3 0 3.4 .1-5 .1-.5 .1 2.3 0 2.6 .1-4.2 .1-.6 .1-.5 0 5.3 .1-2.6 .1 0 .1-1.7 .1-1.1 0-.2 .1 3.6 .1 1.4 .1-5.5 0 4.3 .1-6.4 .1-1.1 .1 4.3 0 1.4 .1 1.1 .1-2.9 .1-.8 .1 4.4 0-8.6 .1 7.3 .1-.9 .1-3.1 0 1.3 .3 4.9 .3-9.9 .4 5.1 .3-2.2 .3 3 .4 .5 .3 0 .3 .8 .4 .5 .3-.8 .3-3.8 .3 1 .4 3.9 .3-3.1 .3 2.6 .4 .6 .3-8.7 .3 10.7 .4-2.8 .3-.2 .3 .7 .3-.4 .4 .4 .3-3.8 .3 1.3 .4-.9 .3 .4 .3 .9 .4-.3 .3-.9 .3-.9 .3-.6 .4 1.2 .3-1.5 .3 .2 .4 3.1 .3 .3 .3-3.1 .4-.6 .3-3.1 .3 3.7 .3 .9 .4-1.2 .3-.2 .3 2.8 .4-.7 .3-2.7 .3 4.9 .4-1 .3 1.9 .3-4.7 .3-1.5 .4 .8 .3 0 .3-1.9 .4 3.7 .3-3.5 .3-3.3 .4 5.9 .3-1.7 .3 1.1 .3-2.3 .4-3.4 .3 8.2 .3-2.4 .4-1.7 .3 .8 .3 2.3 .4-2.2 .3-1.3 .3 .2 .3-2.9 .4 3.5 .3-.9 .3 1.4 .4-2.7 .3 .1 .3-2.7 .4 3.1 .3 .2 .3-.5 .3 3.4 .4-.7 .3-1.6 .3-2.2 .4 2.5 .3 7.7 .3-8.7 .4 .3 .3 2 .3-3.5 .3 3.1 .4-4 .3 3 .3 .5 .4 .1 .3 1.8 .3-2.1 .4-.2 .3 2.2 .3-2 .3 2 .4-2.6 .3 1.6 .3-1 .4 1 .3-.9 .3 .9 .4-5.4 .3 8.4 .3-4.9 .3 2.9 .4-2.3 .3 6.6 .3-2 .4 1.9 .3-4.9 .3 1.5 .4 2.1 .3-2.9 .3 5.9 .3-2.8 .4-.3 .3-1.4 .3 3.2 .4-2.8 .3-2.8 .3 3.1 .4-2.1 .3 2.5 .3 1.1 .3-1.4 .4 .1 .3-3 .3 2.3 .4 5.1 .3-5.7 .3-1.9 .4 4.1 .3 3.6 .3-1 .3-1.7 .4 .3 .3-.9 .3 1.7 .4-.2 .3-.6 .3-3.6 .4 2.9 .3-.3 .3-.7 .3 2.7 .4 .1 .3-1.8 .3 3 .4-1.7 .3-.8 .3 3 .4-.3 .3 3.8 .3-2.9 .3-1 .4-.5 .3-1.7 .3-2.1 .4 3.1 .3-.7 .3 1.6 .4 1.6 .3-1.9 .3 1.7 .3 3.9 .4-5.5 .3-.4 .3 3.7 .4-.3 .3 1.2 .3-5.4 .4-1.6 .3 6.8 .3-.4 .3-2.6 .4-5.4 .3 9.6 .3-.9 .4-.8 .3-6.5 .3 4.3 .4-2.1 .3 2 .3 2.9 .3-3.5 .4-1.9 .3-.4 .3 3.6 .4-3 .3 1.2 .3-.5 .4-.6 .3 .2 .3-1.2 .3 6.1 .4-2.1 .3-1.7 .3 5.4 .4-4.3 .3 1.8 .3-1.4 .4-1.6 .3-.8 .3 .9 .3 4 .4-4.7 .3 1.8 .3-1.2 .4 1.8 .3-.3 .3-2 .4 2.6 .3-2.1 .3 3 .3-.8 .4-.7 .3 .6 .3 .6 .4 1.3 .3 .1 .3 0 .4-1.1 .3-1.3 .3 1.2 .3-1.8 .4-.2 .3 1.4 .3 .7 .4-3.1 .3 3.4 .3-1.1 .4-.5 .3 0 .3 .5 .3 2.9 .4-6.1 .3 4.6 .3-4.6 .4 4.4 .3-2.3 .3-2.2 .4 5.7 .3-6 .3 1.8 .3-.6 .4 1.8 .3-2.4 .3 3.8 .4 1.7 .3 .6 .3-.5 .4-4 .3 .8 .3 1.3 .3-.6 .4-1 .3-4.2 .3 3.9 .4 2.3 .3-1.2 .3 5.4 .4-12.6 .3 3.8 .3 .6 .3 5 .4 1.2 .3-5.4 .3 2.4 .4 1.2 .3-.6 .3-.2 .4-2.1 .3-.5 .3-1 .3 .3 .4 4.3 .3-2 .3-.3 .4-1.5 .3 2.6 .3 2.1 .4-4.8 .3 5.8 .3-2.1 .3-7 .4 6.4 .3 .2 .3 2.4 .4-3.4 .3-5 .3 1.5 .4 .5 .3 4.4 .3-3.3 .3-.6 .4 3.6 .3 1.1 .3-5.2 .4 3.5 .3 2.4 .3-.9 .4 1.6 .3-.1 .3-1.2 .3-3 .4 6.1 .3-3.1 .3-1.6 .4-.8 .3 2.1 .3-2.5 .4 1.1 .3 2.7 .3-1.5 .3-3.7 .4 3.1 .3-1.3 .3-1.1 .4-.3 .3 .2 .3 2.4 .4 2.4 .3-3.2 .3 3.6 .3-5 .4 1.4 .3 3.9 .3-3 .4 .3 .3 .1 .3-2 .4 6.4 .3-5.1 .3 2 .3-.9 .4 1.1 .3 1.2 .3-8.6 .4 1.9 .3-1.5 .3 2.9 .4 1.4 .3 1.1 .3-1.8 .3 2.4 .4 .4 .3-1.4 .3-2.7 .4 1.2 .3 .9 .3 2 .4-1.9 .3 1.1 .3-4.5 .3-2.6 .4 6.6 .3 0 .3-2.4 .4 1.1 .3 2.3 .3 0 .4 1.5 .3-1.1 .3-2.3 .3 1.8 .4 3.5 .3-.9 .3-5.6 .4 2.7 .3 2.5 .3-2.9 .4 1 .3 1.5 .3-2.2 .3 .4 .4-1.9 .3-1.3 .3 1.1 .4 2.6 .3-1.9 .3 .7 .4 4.3 .3-6.3 .3 3.8 .3-3.2 .4 2.5 .3 .5 .3 1 .4-4.5 .3 .9 .3 1.1 .4-.5 .3-5.9 .3 7 .3-3.6 .4 2.7 .3-2.9 .3 3.5 .4-.7 .3 5.9 .3-4.3 .4-2.3 .3 2.6 .3-5.2 .3 5.6 .4 .4 .3-3.5 .3 .4 .4-3.3 .3 4.7 .3 1.1 .4-4.7 .3 4.3 .3-3.8 .3 5.7 .4-8.1 .3 4.2 .3 2.7 .4-4.8 .3 1.2 .3 1.6 .4-.4 .3-1.3 .3 0 .3 .7 .4 .2 .3-.4 .3 3.1 .4-1.6 .3 .6 .3 .2 .4-4 .3 .4 .3 6.7 .3-8.9 .4 3.1 .3 2.9 .3-1.8 .4-.3 .3 4.4 .3-6.1 .4 4.9 .3-5.7 .3-.4 .3 2.9 .4 1.3 .3 4.7 .3-4.3 .4-.4 .3 1.1 .3-1.6 .4-1.4 .3 .3 .3 2.5 .3-2.3 .4-2.4 .3 1.9 .3-2.3 .4 6.8 .3-6.8 .3 5.1 .4-1.9 .3 3.4 .3 1.2 .3-4.8 .4 2.3 .3-1 .3-3.9 .4 6.8 .3-1.6 .3-.4 .4 .4 .3-1 .3-2.2 .3 2.2 .4-3.3 .3 7.5 .3-7.5 .4 5 .3-3.7 .3 1.6 .4 1 .3-3.4 .3 2.4 .3-6.4 .4 6.5 .3 2.5 .3-3.4 .4-1.2 .3 0 .3-3.8 .4 2.5 .3 3.9 .3 3.1 .3-2.3 .4-1.6 .3-.1 .3 1.2 .4 2.8 .3-4.2 .3 .4 .4 .8 .3 .4 .3-.7 .3-3.5 .4-.8 .3 3.7 .3 1.9 .4 2.4 .3-3.3 .3-3.5 .4 1.7 .3-2.5 .3 3 .3 2.8 .4-2.1 .3 4.4 .3-5.2 .4 .7 .3 .6 .3 .2 .4-.6 .3 .3 .3 1.3 .3-3.1 .4 1.2 .3 .9 .3-1.7 .4-1.5 .3 3.1 .3 0 .4-2.4 .3-.5 .3-2.6 .3 1.9 .4 3.3 .3-5.4 .3 4.3 .4 .8 .3-1.3 .3-.5 .4 3.7 .3-1.1 .3-3.3 .3 4.5 .4 1.6 .3-5.6 .3-.4 .4 1 .3 2.1 .3-.9 .4-.6 .3-1.7 .3 4 .3-1.6 .4 .3 .3-.3 .3 .7 .4-4 .3 2.3 .3 1.2 .4 .6 .3 .3 .3 1.1 .3-2.2 .4 1.9 .3-.3 .3-.7 .4-1.1 .3-.3 .3 .7 .4 1.6 .3-3.3 .3-.1 .3 2.8 .4-.5 .3 1.6 .3 .6 .4-1.7 .3-4.2 .3 5.5 .4-1.3 .3 .7 .3-.5 .3-1.1 .4 1 .3-3.6 .3 .2 .4 2.4 .3 3.2 .3-2.6 .4 2.1 .3-2.7 .3 .4 .3 1.7"/>
<path fill="none" stroke="#000" stroke-width="4.40" stroke-linejoin="round" stroke-linecap="round" d="M1326.8 772.4l.3-11.9 .4 7.7 .3-2.6 .3 .3 .3 .7 .4-4.7 .3 4.7 .3-1.7 .4 10.9 .3-8 .3-1.5 .4 .2 .3-1 .3-1 .3 1.8 .4 2.2 .3-1.8 .3 3.1 .4-3 .3 .6 .3 4 .4-2.6 .3-2.7 .3 .9 .3 1.9 .4 3.6 .3-5.7 .3 .1 .4 3.2 .3-4.8 .3 1.5 .4 3.1 .3-.8 .3-1.2 .3 1.5 .4-9 .3 9.9 .3-5.1 .4-1.8 .3 5.1 .3 1.1 .4-2.9 .3-1.7 .3 2.9 .3-.2 .4 3.8 .3-1.7 .3-1.4 .4 2.4 .3-3.4 .3-1.8 .4 3.9 .3 0 .3-2 .3-1.4 .4 2.6 .3-7 .3 8.2 .4-.5 .3-5.4 .3 4.3 .4-2.6 .3 4.5 .3-7.2 .3 2.9 .4 4.2 .3 1.2 .3-8.5 .4 4.3 .3 2.1 .3-2.4 .4 5.7 .3-7.1 .3 4 .3-3.6 .4 6.3 .3-3.6 .3-.9 .4-3.4 .3 8.7 .3-2.4 .4 0 .3 1 .3-2 .3-2.4 .4-.4 .3 0 .3 5.5 .4-7.2 .3 2.3 .3 .7 .4 1.4 .3 .9 .3-4.6 .3-1.2 .4 4.4 .3 3.1 .3-1.1 .4-1.4 .3-1.3 .3 1.6 .4-1.4 .3 2.7 .3-4 .3 2.3 .4-.6 .3 1.7 .3-.8 .4 5.9 .3-2.6 .3 0 .4-8.9 .3 4.3 .3-.7 .3 2.9 .4-7 .3 8.7 .3-.2 .4-6 .3 .8 .3 .5 .4 2.1 .3 1.6 .3 3.5 .3-5.6 .4 2.5 .3-1.6 .3 4.1 .4-2.5 .3 1.5 .3-6.1 .4 2.3 .3-1.6 .3 5.9 .3-2.1 .4-2.4 .3-.4 .3 2.4 .4-3 .3-.5 .3 3.5 .4 5 .3-6.8 .3-.7 .3-1.5 .4-.4 .3 4.7 .3 .8 .4-2.1 .3 .8 .3-.5 .4 .1 .3-4.2 .3 2.7 .3 1.5 .4-2.2 .3 .8 .3-.9 .4 1.3 .3 2.9 .3-3.1 .4 .7 .3 2.4 .3-.4 .3 2.6 .4-9.4 .3 7.4 .3-3.3 .4 1.5 .3 1.8 .3 .6 .4-.1 .3-2.1 .3 3.6 .3-4.7 .4 .4 .3 2.3 .3-3.3 .4 6.8 .3-2.8 .3 2.8 .4-5.4 .3-.9 .3 1.4 .3 1.4 .4-3.2 .3 2.4 .3-1 .4 4.1 .3-5.6 .3 4.2 .4-4.1 .3-.8 .3 .6 .3-1.1 .4 3.3 .3 2.2 .3-2.1 .4 1.1 .3 2.6 .3-3.4 .4-.2 .3-1.1 .3-3.3 .3 5.9 .4-6.2 .3 6 .3-1.7 .4 2.9 .3-3 .3-1.8 .4 2.9 .3-2.2 .3 1 .3 .5 .4-.4 .3-.1 .3-1.6 .4 1.6 .3-4.8 .3 4.9 .4-2.5 .3 5.7 .3 .4 .3-7.9 .4 5.2 .3-.7 .3-2.2 .4 3.9 .3-2.4 .3-3.2 .4 3.7 .3 .3 .3 .7 .3-3.3 .4 4.5 .3 .4 .3-4.6 .4 1.2 .3 1.4 .3-1.2 .4 5.7 .3-3.7 .3-3 .3 .6 .4 1.8 .3 5.8 .3-6.1 .4 .8 .3 1 .3-1.4 .4 5.7 .3-6.8 .3 3.1 .3-1.4 .4 1.1 .3-4.3 .3 7.2 .4-4.6 .3 .4 .3-2.4 .4 .6 .3 3.1 .3 1.1 .3-.6 .4 1.2 .3-1.2 .3-1.7 .4 2 .3-.6 .3-1.6 .4 2 .3 1.4 .3-2.6 .3-1.4 .4 2.7 .3 2.8 .3-5.1 .4 .3 .3 0 .3 3.3 .4-7.4 .3 5.3 .3 2.1 .3-4.9 .4 5.6 .3-2.3 .3-2.6 .4 1.9 .3-4.2 .3 2.3 .4 5.8 .3-6.5 .3 6.6 .3-4.6 .4 2.6 .3-2.3 .3-5.5 .4 4.1 .3 1.8 .3-3.2 .4-.4 .3 4.1 .3-2.4 .3-2.5 .4 2.4 .3 3.8 .3-3.2 .4 3.4 .3 1.4 .3-3.5 .4-2.8 .3-.4 .3 3.1 .3 2.2 .4-1.5 .3 .7 .3-2.4 .4 1.8 .3-1.8 .3 .4 .4-2.3 .3-.7 .3 2.7 .3-1.5 .4 .4 .3 3.9 .3-1.9 .4 7.3 .3-4.8 .3-3.7 .4 3.4 .3-1 .3-2.4 .3 4.3 .4-4.5 .3-5.5 .3 9.3 .4-3.4 .3 5.1 .3-5.1 .4-1.3 .3 6.6 .3-6.3 .3 3.1 .4 3 .3-3.2 .3-.4 .4 .4 .3 1.8 .3-3.9 .4 3.4 .3-.1 .3 4.2 .3-6.3 .4-1.4 .3 4 .3-2.7 .4 1.6 .3-.3 .3 2.5 .4-4.4 .3 1.4 .3-5.8 .3 3.9 .4 5.8 .3-5.2 .3-.1 .4-1.2 .3 4.3 .3-.9 .4-3.2 .3 4.4 .3-1 .3 1.2 .4-3.3 .3 5.7 .3-3.2 .4-1.2 .3-.9 .3 .6 .4 2.7 .3-2.7 .3 3.2 .3-1.1 .4 1.8 .3-1.3 .3-2 .4-4.4 .3 5.3 .3 1.1 .4-1.4 .3 .9 .3-2.4 .3 .2 .4-1.3 .3 5.5 .3-2.8 .4-1.6 .3-1.9 .3 2.8 .4 3.7 .3-2.2 .3-2.8 .3 5.1 .4 0 .3-1.1 .3-.4 .4 .9 .3-1.5 .3 .6 .4-3.6 .3 5.3 .3-2.9 .3 4.2 .4-9.5 .3 6.4 .3 .7 .4-3.1 .3 1.9 .3 .7 .4-.4 .3-2.6 .3 .9 .3 2.8 .4 .6 .3-2.8 .3 0 .4 .3 .3 2 .3-4.9 .4-.6 .3 3.4 .3-2.9 .3 1.3 .4 1.5 .3 1 .3-3.6 .4 4.3 .3-5.9 .3 5.4 .4-5 .3 .8 .3 4.4 .3-2.4 .4-.9 .3 .8 .3 2.2 .4-1.2 .3 0 .3 2.6 .4-4.1 .3 .5 .3-.1 .3 4 .4-.4 .3 .7 .3-3.1 .4-.3 .3 2.4 .3-2.9 .4 2.9 .3-.3 .3-3.3 .3 1.5 .4-.1 .3 4.3 .3 2 .4-6.2 .3 .2 .3-5.2 .4 5.7 .3-.5 .3-2.4 .3 4.3 .4-5.4 .3 3.1 .3 .8 .4-3.2 .3 4.9 .3 .4 .4-5.6 .3 0 .3 4.6 .3-1.5 .4-2.7 .3 2.1 .3 .5 .4-.1 .3 2.2 .3-1 .4 3.2 .3-.9 .3-1.6 .3 .9 .4 .6 .3-1.4 .3-4.4 .4 4.7 .3-1.8 .3 3.6 .4-3.5 .3 1 .3-.5 .3 3.1 .4-3.4 .3-1 .3 1.3 .4-1.7 .3 1.3 .3-.4 .4 .7 .3 3.7 .3-5.3 .3 1 .4-.5 .3 2 .3-4.3 .4 1.1 .3 1.5 .3 1.4 .4-1.4 .3-1 .3-.9 .3 3.1 .4 2.1 .3-2.5 .3-.3 .4 .5 .3-3.1 .3 1.4 .4 .1 .3 1.2 .3-.7 .3-2.7 .4 5.3 .3 1.2 .3-4.4 .4 1.5 .3-.4 .3 1.2 .4-5.2 .3 7 .3-4.7 .3 3.9 .4-2.7 .3-1.1 .3 .5 .4 2.3 .3-4 .3 1.1 .4-.3 .3-2.8 .3 6.7 .3-1.7 .4-1.4 .3 2.6 .3-4.8 .4 1.9 .3 4 .3-1.7 .4-7.3 .3-2.5 .3 5 .3 4.6 .4-3.5 .3 .5 .3 1.7 .4-3.4 .3 2.4 .3 1.1 .4-.8 .3-.3 .3-2.4 .3 2.4 .4-2.3 .3 3.7 .3 2.7 .4-7.6 .3-3.3 .3 3.7 .4 1.5 .3 1.3 .3-.2 .3-4.3 .4-.3 .3 4.3 .3-5.5 .4 4.5 .3-3.2 .3 1.8 .4-.4 .3-.2 .3-.3 .3-4.3 .4 2.3 .3-1 .3 .1 .4 1.5 .3-3.7 .3-1.4 .4-.6 .3 .3 .3 1.7 .3-3.9 .4 3.4 .3-2.4 .3-1.8 .4-2.9 .3 2.4 .3 .1 .4-5.6 .3 4.9 .3 0 .3-3.4 .4-.6 .3 2.6 .3-3.2 .4-4.9 .3 .5 .3-1.3 .4-1.1 .3-4.9 .3 4.2 .3-3.5 .4 .1 .3-1.7 .3 .3 .4-3.1 .3-2 .3 .6 .4-.1 .3-3.8 .3 .9 .3-2.9 .4-2.5 .3 1.2 .3-4.4 .4 .8 .3-3.3 .3-.4 .4-3.4 .3-1 .3 .6 .3-2.5 .4-1.6 .3-1.9 .3-.6 .4-3.2 .3-1.1 .3-.5 .4-1.9 .3-1.2 .3-.7 .3-1.3 .4-1.3 .3 .4 .3-1.7 .4-.9 .3-1.9 .3-1.3 .4-1.5 .3 0 .3-1.9 .3 .5 .4 .4 .3 .2 .3-.9 .4-1.5 .3 .8 .3-1 .4 1.1 .3-.5 .3 .8 .3 1.3 .4-.8 .3 1.3 .3-1.2 .4 .1 .3 1.6 .3 .9 .4-1.1 .3 1.1 .3-.5 .3 1.7 .4 1.5 .3 .1 .3 .5 .4 .2 .3 2.3 .3 1.3 .4 .8 .3 .7 .3-.3 .3 3.6 .4-.5 .3 1 .3 1.9 .4-1.6 .3 3.1 .3 1 .4 1.6 .3 2.1 .3 .3 .3-1.2 .4 2.6 .3 1.7 .3 1.1 .4-.5 .3 .7 .3 3.6 .4 .9 .3 .6 .3-.9 .3 5.3 .4-4.7 .3 4.2 .3 4.2 .4-1.9 .3 1.5 .3-.9 .4 4.5 .3-2.7 .3 3.1 .3 .8 .4-.8 .3 3.8 .3-2.6 .4 2 .3 1.9 .3 .2 .4 2.2 .3 1.6 .3-1.1 .3 .4 .4 .8 .3 1 .3 2.7 .4-1 .3 1.8 .3-.2 .4-.6 .3 3.6 .3-2.6 .3 2.4 .4 3.3 .3-4 .3 2.5 .4-2.2 .3 2.5 .3-1.3 .4 2.6 .3 .2 .3 1.8 .3 3.2 .4-1.9 .3 1.2 .3-.9 .4 .1 .3-.7 .3-1.4 .4 4 .3 3.4 .3-1.8 .3-1.6 .4 4.7 .3-3.7 .3 0 .4-.9 .3 .9 .3 1.7 .4 4.8 .3-4.1 .3-1.3 .3 1.2 .4 1 .3-2.7 .3 4 .4 1.4 .3-.5 .3 .9 .4-3.6 .3-.6 .3 6.3 .3-.1 .4-5.1 .3 3.7 .3-.1 .4 1.3 .3-.5 .3-1.2 .4 1.6 .3 .2 .3-.2 .3-3.5 .4-2.1 .3 4.7 .3-1.5 .4 4 .3 1.1 .3-.7 .4-1.1 .3 1.1 .3 2.4 .3-3.7 .4 3.6 .3-.3 .3-.7 .4 2.6 .3-4.2 .3 3.5 .4-3.6 .3 .5 .3-.4 .3 3.2 .4-2.6 .3 2.2 .3-2.3 .4 4.7 .3 1.7 .3-3.1 .4 3 .3-2 .3 3.4 .3-4 .4-3.3 .3 6.4 .3-3.1 .4-1.8 .3 1 .3-1.9 .4 3.2 .3-1.7 .3 5.3 .3-1.5 .4-4.6 .3 .4 .3 2.1 .4-2.7 .3 3.8 .3 .3 .4-1.4 .3 .6 .3 2.3 .3 1.9 .4 .3 .3-2.9 .3 1.8 .4-3.1 .3 2.4 .3-2.7 .4 3.5 .3-3.9 .3 .7 .3 2 .4 1.2 .3-4 .3 1.9 .4 1.4 .3 .3 .3-2.1 .4 1.9 .3-.7 .3 3.4 .3-1.6 .4-3.8 .3-1.7 .3 4.6 .4 2.2 .3-2 .3 1.4 .4-2.7 .3-1.8 .3 4.2 .3-1.3 .4 1.1 .3-4.1 .3 3.1 .4-1.7 .3 2.8 .3-2.8 .4-.1 .3 0 .3 3.6 .3-2.5 .4-1.6 .3-.6 .3-.2 .4 4.9 .3-6.6 .3 1.9 .4 2.8 .3 1 .3-2.7 .3 1.7 .4-.1 .3 .3 .3-2 .4 3.1 .3-2.9 .3 2.5 .4-5.3 .3 3.9 .3-4.4 .3-.6 .4 3.8 .3-2.7 .3 2.4 .4-3.1 .3 5.1 .3-3.2 .4-2.3 .3 2.4 .3 1.3 .3-3.3 .4 2.4 .3 2.9 .3-2.4 .4-1.8 .3-1.1 .3 2.1 .4-4.1 .3-3 .3 4.5 .3-.8 .4 5.4 .3-3.1 .3-2.2 .4-.4 .3 3.2 .3-2.6 .4 .5 .3 .9 .3 .4 .3 0 .4 .1 .3 2.3 .3 .8 .4-6.4 .3 8.1 .3-4.6 .4 2.2 .3-3.7 .3 2.1 .3-.1 .4-.1 .3 1.5 .3-.3 .4-3 .3 1.7 .3 1.7 .4 .1 .3-1.8 .3 .2 .3 .4 .4-1.7 .3-.2 .3 5.5 .4-3.6 .3 1.1 .3-1.4 .4 4 .3 1 .3-3.6 .3 1.6 .4-2.3 .3 5 .3-1.5 .4-3.1 .3 4.1 .3-1.5 .4 .3 .3 0 .3-1.7 .3 .4 .4 2.4 .3-1.1 .3-1.5 .4 5.8 .3-4 .3-.5 .4-.1 .3 2.9 .3 .7 .3-1.2 .4 1.4 .3-4.3 .3 2.3 .4 0 .3 1.1 .3 1.1 .4-4.6 .3 10.1 .3-7.5 .3 2.5 .4 1.2 .3 .2 .3-1 .4-5.8 .3 3.7 .3 3.7 .4-3 .3-.1 .3-2.3 .3 7 .4-1.2 .3-2.5 .3 1.7 .4 .2 .3-1.7 .3 1.7 .4 1.2 .3 .8 .3 1.5 .3-2.2 .4-.8 .3 1.9 .3-1.8 .4-1.1 .3 4.8 .3-2.8 .4 1.1 .3 1.2 .3-3.2 .3 3.5 .4-.2 .3-.9 .3 1.1 .4-2.1 .3-2.6 .3 3.8 .4-1.1 .3 3.5 .3-1 .3-1.4 .4 1.3 .3 2.6 .3-.3 .4-1.4 .3 .3 .3-1.3 .4 .4 .3 1.5 .3-1.2 .3 .9 .4-2.6 .3-1 .3 .1 .4 2.4 .3 3.5 .3-.2 .4-4 .3-1 .3 4.5 .3-.5 .4-3.4 .3 4.6 .3-1.5 .4 2.2 .3-1.8 .3 1.1 .4-1 .3-2.3 .3 1.4 .3-.8 .4 2.9 .3-3.3 .3-1 .4 4.2 .3 1 .3 .6 .4-.6 .3-4.8 .3 1.5 .3 .4 .4 1 .3-3.9 .3 4 .4 .6 .3-2.2 .3 2 .4 2.1 .3-2.1 .3 1.9 .3 0 .4-1.1 .3 0 .3-1.4 .4 3.1 .3-3.2 .3-.3 .4 2.6 .3-2.6 .3 2.2 .3 1.2 .4-1.8 .3 .1 .3 1.5 .4-.2 .3-4.2 .3 .4 .4 5 .3-1.7 .3-4.6 .3 1.4 .4 2.6 .3-1.8 .3 2.7 .4-.7 .3 .8 .3-3 .4 3.3 .3 2.6 .3-5.1 .3 3.9 .4-.5 .3-.6 .3-1.3 .4-2 .3 .6 .3 3 .4 .5 .3 .5 .3-.5 .3-.1 .4-2.4 .3-1.4 .3 2.7 .4 .5 .3-.7 .3-2.9 .4 1.9 .3-1.7 .3 3 .3-2.2 .4 1.7 .3 .9 .3-.3 .4 2.3 .3-4.5 .3-1.9 .4 5.7 .3 .9 .3 .1 .3-2.1 .4 .5 .3-.7 .3-2.6 .4 1.4 .3 2 .3-1.9 .4 4.5 .3-6.2 .3 2 .3 2.8 .4-3 .3-.9 .3-.4 .4 1.2 .3 4 .3-1.9 .4 .2 .3-1.8 .3 2.5 .3-1.3 .4-1.8 .3 .8 .3 1.2 .4 1.8 .3-2.2 .3 1.1 .4 2.8 .3-5.1 .3-.7 .3 4 .4-1 .3-.9 .3 .7 .4-1 .3 1.5 .3-1.5 .4 2.1 .3-3.5 .3 .7 .3 1.7 .4-1 .3 2.1 .3-1.3 .4-.9 .3 1.4 .3-1.3 .4-1.8 .3 .8 .3 .6 .3 .7 .4 1 .3 1.5 .3-.6 .4 2.2 .3-.9 .3-2.5 .4 3.3 .3-.8 .3-2.9 .3 1.4 .4 1.4 .3-1.5 .3 1.4 .4-1 .3 .6 .3-1.8 .4 1.3 .3-1.3 .3 1.8 .3-4.1 .4 3.6 .3 1.7 .3-1.2 .4-1 .3 1 .3-2.4 .4 0 .3 .9 .3 .4 .3 2 .4-3.2 .3 3.3 .3-4.5 .4 1.5 .3 1.3 .3 2.1 .4-3 .3-2.7 .3 4.5 .3-.7 .4-1.8 .3 .1 .3 .6 .4 1.4 .3 1 .3-3.7 .4 6.6 .3-4 .3-.5 .3 1.8 .4-.9 .3 3.9 .3-2.2 .4-2.5 .3 0 .3-.2 .4 .3 .3 1.8 .3-2.2 .3 3.9 .4-2.9 .3-.1 .3 1.9 .4-5 .3 1.8 .3 2.7 .4-1 .3 0 .3 .7 .3-1.7 .4 .8 .3-2 .3-.9 .4 5.4 .3-3.7 .3 .3 .4 3.7 .3-.6 .3-2.7 .3 0 .4 .8 .3-1.5 .3 2.6 .4-.6 .3 0 .3 1 .4 0 .3 1.9 .3-.5 .3-5.5 .4 4.5 .3-3.5 .3-.5 .4 3.7 .3-2.4 .3 .6 .4 2.4 .3-2.9 .3-.4 .3 2.1 .4 1.5 .3-1.1 .3-3.6 .4 1.6 .3 .8 .3 3.6 .4-1.8 .3 0 .3 .6 .3-2.6 .4 1.4 .3 0 .3-2.5 .4 1.7 .3 1 .3-2.8 .4 3.2 .3-.1 .3 .5 .3-3 .4 1.5 .3 2.2 .3-1.1 .4-2.6 .3 1.7 .3 2 .4-2.5 .3 .8 .3 3.7 .3-4.4 .4-.1 .3-1.5 .3 .6 .4 3.6 .3-2.7 .3-1.7 .4 .4 .3 1.6 .3 1.3 .3-2.6 .4 2.5 .3-2 .3 1.4 .4 .3 .3 .1 .3-1.7 .4 .5 .3 1.1 .3-3 .3 2.5 .4 .5 .3 .9 .3-1.8 .4-.2 .3 .6 .3-1.5 .4 .9 .3 1 .3-.2 .3-2.2 .4 1.2 .3-2.9 .3 4.8 .4-2.2 .3 1.3 .3-2.2 .4 1.7 .3 .9 .3 .9 .3-3.9 .4 3.7 .3-1.7 .3-1 .4 2.1 .3-1.3 .3 0 .4-.6 .3 1.5 .3-.3 .3-.3 .4-1.3 .3 .7 .3 1.5 .4 1.5 .3-2.1 .3 2.3 .4-2.3 .3-1.8 .3 2.9 .3-2.6 .4 2.2 .3 1.1 .3-2.2 .4 .4 .3 4.1 .3-3.6 .4 .1 .3 .8 .3-1.4 .3 0 .4 .8 .3-4.5 .3 6.2 .4-4 .3 0 .3 2.6 .4-.8 .3-2.1 .3 2.4 .3-2.2 .4 .8 .3-1.3 .3 1.1 .4 2 .3-.5 .3 .3 .4 1 .3-1.5 .3-1 .3 .6 .4 3.2 .3-2.6 .3 .4 .4-.6 .3 .5 .3 .3 .4-.7 .3-.2 .3-1 .3-.1 .4 2.1 .3 .5 .3 .3 .4-1.4 .3-1.4 .3 2.4 .4 0 .3-3.4 .3 3.7 .3-.4 .4 1.8 .3-4.5 .3-.2 .4 3.3 .3-4.1 .3 1.7 .4-.6 .3 .2 .3-1.4 .3 2.6 .4 2 .3-.9 .3 .1 .4-1.3 .3 2.9 .3-1.5 .4 .9 .3-4.2 .3 3.1 .3-2.4 .4 2.4 .3-.2 .3-2.1 .4 2.1 .3 1.5 .3-1 .4 .2 .3-2.4 .3 .4 .3-.7 .4 2 .3 1.7 .3-1.2 .4-.7 .3-1.8 .3 2.5 .4-1.1 .3-2.6 .3 .3 .3 2.2 .4-.9 .3 4.1 .3-2.6 .4-1.7 .3 .9 .3 3.4 .4-4.1 .3 2.8 .3-.5 .3 1.6 .4-1.5 .3-1.4 .3 1.4 .4-.7 .3 1.5 .3-1.7 .4 3.3 .3-3.3 .3 .9 .3-1.8 .4 1.3 .3-.1 .3 .2 .4 1.2 .3-2.3 .3-.5 .4 3.1 .3-2.2 .3-.6 .3 2.9 .4-.5 .3-5.5 .3 3.6 .4 1.9 .3 .1 .3-2.2 .4 3.4 .3-3.8 .3 .9 .3 .6 .4-.2 .3 1.3 .3 .4 .4-1.7 .3 2.3 .3-3.3 .4 .8 .3 3.1 .3-2.6 .3 1.5 .4-2.3 .3 .2 .3 .3 .4 .4 .3-.8 .3 .6 .4 1.1 .3 .8 .3-1.7 .3 .9 .4 .4 .3-3.2 .3-.7 .4 5.1 .3-.5 .3-2 .4 .5 .3-2.1 .3-.7 .3 2.8 .4-2.9 .3 3.8 .3-2.5 .4 1.6 .3 2.6 .3-.1 .4-3.4 .3 2.1 .3-3.3 .3 .7 .4 1.5 .3 1.7 .3-3.1 .4 1.8 .3-.7 .3-2.2 .4 1.8 .3 2.6 .3-2.5 .3 .9 .4 .6 .3-2.5 .3 3.1 .4 .5 .3 .2 .3-.5 .4-2.8 .3-.2 .3-.3 .3-.2 .4 .2 .3 2.8 .3 .8 .4-3.4 .3 2.4 .3-3.3 .4 1.5 .3-1.1 .3-1 .3 2.7 .4 .1 .3-.8 .3-.2 .4-.7 .3 1.3 .3-.7 .4 1.4 .3-2.4 .3 2.3 .3 .5 .4 1.2 .3-.3 .3-1.4 .4-1.4 .3-1.8 .3 2.9 .4 2.3 .3 .4 .3-6.8 .3 2.9 .4 .7 .3-1.1 .3 1.9 .4-.2 .3-.9 .3 .8 .4-2.5 .3 1 .3 .1 .3 2.9 .4-4.1 .3 2.3 .3 1.6 .4-1.3 .3 1.4 .3-2.4 .4 1.8 .3 .7 .3 2.2 .3-2.5 .4 1.2 .3-2.3 .3 .1 .4 2.4 .3-1.6 .3 1.4 .4-1.2 .3 2.3 .3 .4 .3-5.2 .4 4.4 .3-2.3 .3 0 .4-.9 .3 1.3 .3-2.9 .4 .6 .3-.1 .3 1.7 .3 1 .4-.3 .3-.6 .3-1.5 .4-1.9 .3 3.5 .3-.4 .4 .3 .3 1.7 .3-2.6 .3 0 .4-3.4 .3 4.6 .3-1 .4-1.1 .3 1.8 .3-2.3 .4 .8 .3 4.1 .3-2 .3 .3 .4-.3 .3-.2 .3-.7 .4 3.4 .3-3.8 .3 1.3 .4-1.6 .3-.2 .3-3.4 .3 .8 .4 5.6 .3-.1 .3-3.1 .4 .7 .3 1 .3-2.6 .4 4.5 .3-4.6 .3 .5 .3-3.3 .4 6.9 .3-2.3 .3 2.5 .4-4.3 .3 2.2 .3-.4 .4 .2 .3 3 .3 .3 .3-1.5 .4-2.8 .3 2 .3 .8 .4-1.3 .3 0 .3-.2 .4-2.2 .3 1.8 .3 2.2 .3-4.2 .4 1.7 .3 1.2 .3-3.5 .4 1.9 .3-2.5 .3 1.7 .4-1.3 .3 .8 .3 .7 .3 .3 .4 .1 .3-3.6 .3 6.5 .4-3.1 .3-1.3 .3 .7 .4 1.5 .3-2.1 .3 .9 .3-.1 .4 1.6 .3-2.1 .3 1.9 .4-.2 .3-.8 .3 2.2 .4-2 .3-2 .3 2.4 .3-.3 .4-.3 .3 .4 .3 3.3 .4-3.4 .3 .3 .3-1.2 .4 2.5 .3-2.2 .3-1.3 .3-.7 .4 2.8 .3 .3 .3-3.9 .4 1.4 .3 2.1 .3 .6 .4-3.8 .3 1.4 .3 1.9 .3-2.3 .4 .1 .3-.2 .3-1.3 .4 2.1 .3 .4 .3-2.8 .4 2.3 .3 1.6 .3-1.6 .3 1.2 .4-2.5 .3 3 .3-3.6 .4 4.2 .3-3.8 .3-.5 .4-.4 .3 .7 .3-.2 .3-.4 .4 .5 .3 1.5 .3 .2 .4-2 .3 2.4 .3-3.7 .4-.1 .3-.3 .3 2.7 .3-3.6 .4 .2 .3 4.2 .3 .6 .4-.7 .3-4.7 .3 2.3 .4 1.3 .3-1.3 .3-2.9 .3 2 .4-2.3 .3 .6 .3 5.4 .4-2.5 .3-3.6 .3-.1 .4 3 .3-1.8 .3 1.8 .3-2 .4 .6 .3 .6 .3-2.1 .4-1.5 .3 1 .3 .7 .4 .7 .3 .2 .3-.1 .3 .8 .4-2.3 .3 3.6 .3 .9 .4-2.7 .3-.3 .3 1.6 .4-1 .3-.8 .3-.6 .3-1 .4-.7 .3 2.9 .3 .7 .4-3.6 .3 1.6 .3 .4 .4-1 .3-.6 .3 .6 .3-2.5 .4 3 .3-.4 .3 3.9 .4-1.9 .3-2 .3 .5 .4 2.8 .3-.2 .3-2.2 .3-.5 .4-2.1 .3 1.8 .3 .3 .4-.9 .3 4 .3-5.7 .4 2.8 .3 .9 .3 .1 .3 2.1 .4-4.9 .3 1.1 .3 1.4 .4 .1 .3-.8 .3-.5 .4 3 .3-3.3 .3 .8 .3 3.3 .4 .5 .3-1.3 .3-2.7 .4 .1 .3 0 .3-.3 .4 1.2 .3 2.8 .3-1.6 .3-1.5 .4 .1 .3-.6 .3 4 .4-5.1 .3 3.7 .3-2.6 .4 .7 .3-.6 .3 4 .3-1.6 .4 4.6 .3-6 .3 0 .4 2.8 .3 .1 .3-1.3 .4-2.7 .3 5.7 .3-1.3 .3-.2 .4-1.5 .3 2 .3-1.8 .4 1.1 .3-.3 .3 2.4 .4-2.7 .3 .3 .3 2.4 .3-1.3 .4-.3 .3-.3 .3 2 .4-2.5 .3 1.9 .3 2.6 .4-2.6 .3-1.8 .3-.6 .3 2.3 .4-2.2 .3-.5 .3 1.4 .4-.4 .3 3.2 .3-3.7 .4 5 .3-3.7 .3 1.5 .3 1 .4-.7 .3 .9 .3-2.7 .4-2.1 .3 3.5 .3-2.4 .4 1.9 .3 2.5 .3-1.8 .3-.6 .4-.8 .3 1.4 .3 .3 .4-2.3 .3 3.2 .3-2.2 .4 2.1 .3-1 .3 2.4 .3-.2 .4-1.3 .3-.1 .3 .9 .4 1.6 .3-.5 .3-1.4 .4 .3 .3 2.1 .3-5.2 .3 3.6 .4-2.3 .3 3.7 .3-2.9 .4 .6 .3-1.5 .3 1.8 .4 1.3 .3 1.5 .3-4.8 .3 1.4 .4 7.2 .3-4.8 .3-1.6 .4 .9 .3-5.1 .3 7 .4-2.4 .3-2.5 .3 4.3 .3-3 .4-.6 .3 2.6 .3-.2 .4-1.4 .3 .7 .3-2.1 .4-.1 .3 3.8 .3 .8 .3-1.5 .4 0 .3-1.3 .3 .5 .4-1.3 .3 4.4 .3-3.8 .4 1.6 .3-.6 .3-2.3 .3 5.5 .4-3.8 .3-.6 .3 1.5 .4-1.7 .3 1.6 .3-1.6 .4 2.5 .3-.9 .3-2.3 .3 4 .4-1.4 .3-2.1 .3 2.4 .4 .2 .3 2.3 .3-4.4 .4 2.8 .3-1.5 .3 1.1 .3-1.4 .4 .4 .3 .9 .3-2.8 .4-1.4 .3 3.4 .3-.7 .4 .9 .3 .9 .3-1.4 .3 2.3 .4-2 .3 .3 .3 1.2 .4-.4 .3-1.1 .3 .4 .4-1.5 .3 .3 .3 1.2 .3 1.2 .4-2.1 .3 2.1 .3 1.8 .4 .4 .3-3.5 .3 1.7 .4-.7 .3 .3 .3 .1 .3-.5 .4 .5 .3-1 .3-.7 .4 .8 .3 .4 .3 1.2 .4-1.3 .3 .6 .3 1.1 .3-3.8 .4 1.1 .3 1.3 .3-.8 .4-1.7 .3 3.3 .3-1.8 .4-1.5 .3 4.8 .3-5.2 .3 2.1 .4-1.1 .3 1.3 .3 .7 .4-2.2 .3 1.2 .3-.1 .4-1.4 .3 3.6 .3-1.7 .3-.7 .4-.6 .3 .5 .3 .8 .4-.9 .3 2.8 .3-6.2 .4 .6 .3 3.1 .3-2.6 .3 3 .4-1 .3 2 .3-.2 .4 1.4 .3-.6 .3 .6 .4-1.2 .3 .9 .3-.9 .3-1.8 .4-1.1 .3 .1 .3 2.8 .4-4.7 .3 4.2 .3-1.5 .4 2.4 .3-.8 .3-1.6 .3 1.3 .4-3.8 .3 4.2 .3 .3 .4-3.7 .3 4.4 .3-1.6 .4 .5 .3-2.6 .3 3.3 .3 0 .4-1 .3-1.6 .3 2.9 .4 .8 .3-1.4 .3 1 .4-2.6 .3 1.3 .3 .3 .3-.3 .4 4.4 .3-4 .3-1.6 .4 2.3 .3-3.1 .3 2.4 .4 .6 .3-2 .3 .3 .3-1 .4 1.7 .3-1.3 .3 4 .4-1.8 .3-1.4 .3-2 .4 5.7 .3-1.2 .3-1.4 .3-.4 .4 0 .3-1.1 .3 3.9 .4-2.8 .3-2.7 .3 1.3 .4-3.2 .3 5.4 .3 .1 .3 1.7 .4 .5 .3-4.7 .3 2 .4 .9 .3-.3 .3-2.1 .4 2.1 .3-.5 .3 1.4 .3-2.2 .4-.4 .3-.4 .3 .2 .4-.7 .3 .7 .3 1.4 .4-.1 .3 1.5 .3-.4 .3-.8 .4-2.9 .3 2.8 .3 1 .4-4.1 .3 .4 .3 .2 .4-.1 .3 1.2 .3-1.1 .3 2.2 .4-2.6 .3 1.8 .3-.7 .4-.7 .3 3.3 .3-1.7 .4 .9 .3-1.5 .3 1.7 .3-.1 .4-1.3 .3-2.6 .3 4.2 .4-.2 .3-.8 .3 .1 .4-.2 .3 .1 .3-2 .3 1.6 .4 .6 .3-1.5 .3-.6 .4 4.6 .3-2 .3-1.5 .4-.3 .3-3.6 .3 2 .3 2 .4 2.5 .3-5.5 .3 2.2 .4 4.3 .3-2 .3-.4 .4 1.2 .3-2.1 .3-.1 .3 1.5 .4 .2 .3-3.2 .3 4.3 .4-5.4 .3 1.7 .3 6.2 .4-5.9 .3 2 .3-2.8 .3 1.1 .4-.6 .3 .5 .3 1.8 .4 1.7 .3-1.4 .3 1.1 .4-3.4 .3 3.3 .3-1.5 .3 1.3 .4-2.9 .3 .3 .3 2.6 .4-1.3 .3-.8 .3-1.3 .4 .9 .3 1 .3 .4 .3-2.1 .4 .3 .3 1.3 .3-2.6 .4 3.4 .3-1.6 .3-.2 .4-3.8 .3 1.4 .3 .9 .3 .7 .4-.9 .3 2.4 .3-.4 .4-.7 .3-2.9 .3 5.7 .4-2.8 .3 1.4 .3-2.1 .3 1.1 .4 1.1 .3-.8 .3 1.2 .4-1.9 .3 3.6 .3-6.4 .4 2.2 .3 2.5 .3-2.1 .3-.3 .4-2.2 .3 4.8 .3-5.1 .4 3.9 .3-.5 .3 1.1 .4 .9 .3-3.6 .3-.2 .3 .8 .4-2.4 .3 4.2 .3-2 .4 .8 .3-2.1 .3 1.8 .4-1.1 .3 .9 .3-1.7 .3 3.4 .4-2.8 .3-3.2 .3 5.2 .4-1.6 .3-1 .3 5.6 .4-4.3 .3-2.2 .3 1.2 .3 1.5 .4-1 .3 2.4 .3-.4 .4-3.1 .3 1.3 .3 .9 .4-1.8 .3-.1 .3 2.1 .3-.7 .4-3.2 .3 1.4 .3 .1 .4 .4 .3-1 .3 3.3 .4-3.9 .3-.2 .3 2 .3-4.1 .4 1.9 .3 2.7 .3-3.3 .4 .7 .3 3.1 .3-1.1 .4-.8 .3 .2 .3-1.5 .3 1.5 .4-.9 .3 4.3 .3-3.3 .4-1.5 .3 .4 .3 .1 .4-2.5 .3 .8 .3 3.8 .3-4.9 .4 1.3 .3 2.5 .3 .7 .4-4.2 .3 4 .3-3.1 .4 3.2 .3-2 .3-1.3 .3 1.5 .4-.3 .3-2.3 .3 4.7 .4-4.1 .3 2.3 .3-2.7 .4-2.3 .3 1.1 .3 1.6 .3 1.2 .4 1.7 .3-2.9 .3-.6 .4-1.6 .3 1.8 .3 .5 .4-4.1 .3 5.6 .3-.3 .3 1.8 .4-5.2 .3 1.5 .3-.1 .4-2.2 .3 .7 .3-.3 .4 2.4 .3-.1 .3 1.4 .3-2.9 .4-1.6 .3 3 .3-.2 .4 .5 .3 .9 .3-2.9 .4 2.2 .3-2.9 .3 1.9 .3 .8 .4-1.3 .3 .6 .3-2.6 .4 1.2 .3 1.3 .3-2.2 .4 .6 .3 5.4 .3-3.5 .3-1.8 .4-.3 .3 4 .3-6.8 .4 4 .3 1.6 .3-2 .4 1.8 .3-2.5 .3 1.7 .3 .2 .4 0 .3 .2 .3-.1 .4 1.8 .3-2.2 .3-.5 .4 .6 .3 0 .3-1.9 .3-.6 .4 1 .3 2.7 .3-1.5 .4 .5 .3 5.5 .3-2.8 .4-2.1 .3-.7 .3 3.4 .3-3.5 .4 3.4 .3-1 .3 1.4 .4-3.4 .3 2.8 .3-4.4 .4 2.7 .3 2.2 .3-.6 .3-4.1 .4 4.3 .3-.3 .3-.8 .4-1 .3 .8 .3-.4 .4 2.6 .3-.7 .3 1 .3-.5 .4-3.2 .3 2.4 .3 3.4 .4-5.3 .3 2.4 .3-1.7 .4-.1 .3 1.9 .3 1.3 .3-.2 .4-.4 .3 .8 .3-4.2 .4 4.2 .3-.6 .3-.9 .4 .3 .3-1.3 .3 3.4 .3-3.1 .4-1.1 .3 2.5 .3-.9 .4 .9 .3 2.7 .3-2.7 .4 .5 .3 3.6 .3-6 .3 3 .4 1.4 .3 .6 .3 1.3 .4-4.7 .3 2.1 .3-1.1 .4-.5 .3-.4 .3-1.2 .3 3.1 .4 .7 .3-3 .3 3.1 .4-2.1 .3-.7 .3-2.6 .4 6.2 .3-.6 .3-1.7 .3 0 .4-1.5 .3 3.1 .3-1 .4 1.1 .3-.6 .3-2.6 .4-.2 .3 3.4 .3-3.5 .3 3.3 .4 1.1 .3-3.6 .3 3.3 .4-1 .3 .9 .3-2 .4 1.1 .3 .8 .3 2.4 .3-1.8 .4-.4 .3-2.9 .3 2.7 .4-1.7 .3 1.1 .3 .6 .4 1.2 .3-.6 .3-.6 .3-.4 .4 2.4 .3-3.8 .3 1.6 .4 2.3 .3-2.6 .3 1.7 .4 .1 .3 1.9 .3-1.4 .3-4.7 .4 2.8 .3 .5 .3 .9 .4-.7 .3 2.5 .3-1.3 .4-3.8 .3 .9 .3-2.3 .3 6.3 .4-3.1 .3 0 .3-2.4 .4 1.9 .3 1.4 .3-1.3 .4 0 .3-.4 .3 4.4 .3-4.3 .4-1.5 .3 1.6 .3 .3 .4 .4 .3-.3 .3-1.4 .4 1.5 .3 1 .3-3 .3 5.7 .4-.5 .3-5.9 .3 2.5 .4 2.3 .3 .6 .3 .7 .4-6.1 .3 1.2 .3 1.1 .3 1.8 .4-2.8 .3 2.6 .3 0 .4 .5 .3-3.4 .3 2.5 .4-.2 .3-.8 .3 3 .3-2.7 .4 2.9 .3-3.4 .3 3.9 .4-.1 .3-4.2 .3 2 .4 0 .3-2.2 .3 3 .3-.3 .4-2.5 .3 1.7 .3 1.3 .4-1.7 .3-1 .3 4 .4-4.4 .3 2.3 .3 1.3 .3-.6 .4-4.4 .3 2.6 .3 .3 .4-.1 .3 1.4 .3-.1 .4-.7 .3 .2 .3 1.3 .3 .4 .4-5.3 .3 6.9 .3-4.6 .4 2.3 .3-4.1 .3 1.9 .4-1.3 .3 4 .3-.3 .3-1.5 .4-.3 .3 1 .3-2.3 .4 .6 .3-.3 .3 2.7 .4-1.3 .3-2.2 .3 2.7 .3 .3 .4 1.5 .3-3.3 .3 1.6 .4 2.9 .3-4.1 .3 0 .4 1.4 .3-1.7 .3 .9 .3-.9 .4-.4 .3 2.8 .3-2.1 .4-1.1 .3 1.2 .3 .3 .4 .7 .3 1.1 .3 1.4 .3-5.1 .4 1.7 .3-2.7 .3 3.5 .4 .5 .3-2 .3-.4 .4-.2 .3-.8 .3 3.6 .3 2.1 .4-5.1 .3 4.7 .3-3 .4-2.1 .3 3.3 .3 .3 .4-.6 .3-1.1 .3 3.2 .3-3.3 .4 1.6 .3 0 .3-2.6 .4-1.6 .3 .2 .3 2.2 .4 1.3 .3-3.6 .3 1.8 .3 3.8 .4-5.6 .3 3.8 .3-.2 .4 .8 .3-3.9 .3 3.1 .4-2.9 .3 4.6 .3-3.7 .3 2.1 .4-2 .3 1.6 .3-2.9 .4 3.1 .3 .6 .3-1.1 .4 2.8 .3-2.1 .3 .7 .3-.5 .4 2.4 .3-4.3 .3 .6 .4 .1 .3 1.4 .3-.6 .4 1 .3-.9 .3-1.4 .3 .8 .4 .9 .3-4.7 .3 6.3 .4-3.3 .3 .4 .3 1 .4-.9 .3-2 .3 2.1 .3 2.8 .4-.6 .3 .3 .3-3 .4 .6 .3 2.1 .3 .8 .4-2.5 .3-1.7 .3-1.6 .3 5.7 .4-5 .3 3.3 .3 .8 .4 4.1 .3-5.2 .3-.6 .4 1 .3 .1 .3 1.5 .3-1.2 .4-2.4 .3-2.3 .3 4.1 .4-1.7 .3 3.6 .3-4.6 .4 2.6 .3-1.6 .3-.3 .3 4.4 .4-2.6 .3-.6 .3 1.6 .4-2.6 .3 .7 .3-.4 .4 4.5 .3-2.9 .3 .6 .3 .8 .4-2.2 .3 0 .3-2.5 .4 3.6 .3-.4 .3-1.1 .4 2.8 .3-5.2 .3 3.8 .3-3.1 .4 .4 .3 1.7 .3 2.6 .4-4.3 .3 .3 .3-.4 .4 5.6 .3-2.5 .3-.2 .3 2.8 .4-3.1 .3-4.1 .3 2.8 .4-1.2 .3 5.6 .3-6 .4 3 .3-1.4 .3 .1 .3 .8 .4-.2 .3-1 .3-.9 .4 1 .3-.7 .3 .2 .4 1.8 .3-.4 .3 1.1 .3-1.3 .4 3.8 .3-4.6 .3-.5 .4 3.5 .3-3 .3 1.5 .4 1.5 .3-1.9 .3-.4 .3 2.3 .4-1.1 .3-1.5 .3-1.2 .4 1.4 .3-2.2 .3 1.4 .4-.4 .3 2.4 .3 .8 .3-2.4 .4 .3 .3-1.1 .3-.5 .4 1.7 .3 1.7 .3-.1 .4 .2 .3-1.5 .3-4.3 .3 6.4 .4 .7 .3-.7 .3-.1 .4 .4 .3 2.8 .3-4.1 .4 2.1 .3-1.3 .3-.2 .3-1.4 .4-.4 .3-1.3 .3 3 .4-1.6 .3-1.6 .3 .8 .4-.7 .3 4.8 .3-3.2 .3 .7 .4-2.3 .3 .3 .3 3.6 .4-2.2 .3 .8 .3 2.8 .4 .4 .3-2.4 .3-.3 .3-.5 .4-.9 .3 4.1 .3-5.7 .4 2 .3-3.2 .3 1.1 .4 2.9 .3 .1 .3-.2 .3-1.1 .4-.7 .3 .3 .3 .3 .4 2.6 .3 .6 .3-1.7 .4-1.8 .3-.6 .3 2.1 .3-.9 .4-2.8 .3 5.6 .3-2.4 .4-.5 .3-1 .3 0 .4 3.1 .3-3.2 .3 1.8 .3 1 .4 2.1 .3-2.2 .3-1.1 .4-.7 .3 2.3 .3 .2 .4-2.5 .3 1.8 .3-1.3 .3-2.6 .4 1.1 .3 3.2 .3 1.1 .4-1.3 .3-1.5 .3-.9 .4 2.2 .3-.4 .3-3.4 .3 4 .4-2.4 .3 2.4 .3-.2 .4 .3 .3 .6 .3-.6 .4-3.1 .3 .1 .3 3.6 .3-1 .4-3.6 .3-.7 .3 5 .4 2.4 .3-2.5 .3-1.8 .4 .9 .3-5.3 .3 3.1 .3 3.5 .4-.3 .3-5.2 .3 5.8 .4-1.1 .3 .7 .3-2 .4 .4 .3-1.9 .3 2.4 .3 1 .4-3.2 .3 2.3 .3-1.6 .4 2.8 .3-.1 .3-5.9 .4 5 .3 1 .3-2.8 .3 .6 .4 .1 .3-1.7 .3 1.8 .4 2.9 .3-1.8 .3 1.8 .4-.9 .3 .3 .3-1.8 .3 1.1 .4 2.2 .3-1 .3-2 .4-1.8 .3-.4 .3 2.1 .4 .3 .3-3.9 .3 3.6 .3 .2 .4-.1 .3-1.5 .3 5 .4-2.5 .3-3.9 .3 1.2 .4 2.6 .3-.5 .3-.7 .3-.2 .4-.4 .3-.4 .3-1 .4 2.8 .3-5.8 .3 3.5 .4 3.5 .3-3.6 .3-.7 .3 5.4 .4-1.5 .3-2 .3-.8 .4 .6 .3-.2 .3 .2 .4-.9 .3 2.3 .3-1.9 .3-2.2 .4 .9 .3 2.2 .3-1.8 .4-2.5 .3 7 .3-1.8 .4-1.7 .3-.1 .3 1.8 .3 1.5 .4-3.4 .3 1.8 .3-1.8 .4 1.6 .3-2.5 .3-1.3 .4 3.4 .3-.3 .3 1.4 .3-2.4 .4 3.6 .3-2.3 .3 2.6 .4-3.3 .3 3.2 .3-2.7 .4 .3 .3 1.5 .3-4.8 .3 1.2 .4 5.1 .3-5.8 .3 1.7 .4 1.9 .3 1.6 .3-3.5 .4 1.2 .3-2.2 .3 1.3 .3 2.4 .4-1.2 .3-.6 .3 .8 .4-.5 .3 .1 .3-.9 .4-1.1 .3 2.9 .3-3.2 .3 3.8 .4 1.9 .3-1 .3 1.4 .4-5.9 .3 2.3 .3-1.9 .4 .2 .3-1.7 .3 .8 .3 3.7 .4-.3 .3 .9 .3-.1 .4-.6 .3-2.8 .3 1.2 .4 1.5 .3 .9 .3-2.8 .3-.2 .4 .1 .3 3.6 .3-1.8 .4-1.6 .3-.7 .3 2.1 .4-3.7 .3 2.5 .3-.6 .3 0 .4 1.4 .3 .4 .3 4.5 .4-5.1 .3 1.1 .3-2.6 .4-1.5 .3 4.9 .3 1.4 .3-5.2 .4 1.7 .3 2 .3-1.7 .4-4.4 .3 6 .3-2 .4 1.5 .3-2.9 .3 3.2 .3 .3 .4-3.1 .3 2.1 .3-1.9 .4 .2 .3-.7 .3 .8 .4-.4 .3 3.2 .3-2.4 .3-1.6 .4 4.4 .3-1.5 .3 .8 .4-1.8 .3 1.3 .3-1.3 .4-1.5 .3 1.8 .3 .1 .3 0 .4 1.2 .3-4.5 .3 3.6 .4-1.9 .3 .9 .3 1.3 .4-.7 .3-1.3 .3 2.5 .3-1.4 .4 1.7 .3 .6 .3-2.8 .4-1.3 .3 2.1 .3 1.3 .4-.9 .3-2.6 .3-.9 .3 1.3 .4 0 .3 2.8 .3-1 .4 1.4 .3-1.6 .3 3 .4-2.9 .3 1 .3-1.7 .3 1.5 .4 1.1 .3-.5 .3 .9 .4-3.3 .3 1.9 .3 2.1 .4-2.5 .3-.7 .3-.1 .3-.5 .4 1.1 .3 2.2 .3-1.6 .4-.8 .3-1.4 .3-.6 .4 6.1 .3-4.9 .3 1 .3-1 .4 1.1 .3-1 .3 .9 .4 2.3 .3-3.7 .3 2.1 .4-1 .3 1.4 .3-2.4 .3 1.8 .4-2.4 .3-1.4 .3 .9 .4 .6 .3-.3 .3 1.4 .4 2.4 .3-3.9 .3 2.8 .3-.5 .4-1.5 .3-.4 .3 2.3 .4 .1 .3-1.4 .3 .3 .4 .3 .3-2.2 .3 2.4 .3 .3 .4 2.5 .3-5.2"/>
<path fill="none" stroke="#ff0000" stroke-width="4.40" stroke-linejoin="round" stroke-linecap="round" d="M1326.8 674l.3 1.3 .4 4.7 .3-2.6 .3-6 .3 4.3 .4-1.6 .3 1.9 .3-4.5 .4 4.8 .3-.1 .3 3.5 .4-3.3 .3 .5 .3-5.2 .3 9.7 .4-10.8 .3 7.8 .3-3.7 .4-1.5 .3 .6 .3-.1 .4 2.7 .3-1.2 .3 4 .3-8.5 .4 4.7 .3-2.3 .3 4.3 .4-7.5 .3 4.6 .3 1.4 .4-4.4 .3 6.4 .3-2.1 .3 2.1 .4-.1 .3-5 .3 .5 .4 1.5 .3 2.5 .3 .2 .4-4 .3 .3 .3-.5 .3 .6 .4 .9 .3 .2 .3 5.7 .4-6.6 .3 .6 .3 1.9 .4-3.6 .3 1.5 .3 1 .3 2 .4-5.3 .3 6.9 .3-4.4 .4 1.4 .3 1.7 .3-.4 .4 1 .3-2.2 .3-.5 .3 .9 .4-3.3 .3 5.7 .3-5.1 .4-1.2 .3 8.5 .3-5.5 .4-2.6 .3 7.7 .3-5.5 .3 3.5 .4-4.7 .3 1.5 .3-3.6 .4-.5 .3 2.4 .3 2.3 .4 2.3 .3 4.1 .3-8.7 .3 5.2 .4-4 .3 1.2 .3-3.3 .4 0 .3 1.8 .3-1 .4 3 .3-1.7 .3 5 .3-2.7 .4 0 .3 2.5 .3-1.5 .4-1.3 .3-.1 .3-.1 .4 3.1 .3-.7 .3-1 .3 1.1 .4-3.3 .3 2.7 .3-4.8 .4 6.9 .3-3.1 .3 .3 .4 1.1 .3-1.5 .3-.6 .3 3.7 .4-2.6 .3-2.6 .3 3.4 .4-5.3 .3 8.4 .3-4.5 .4 .6 .3 5.6 .3-.3 .3-5 .4 1.3 .3 1.2 .3 1.5 .4-4.4 .3 .7 .3 2.7 .4-2.3 .3 1.2 .3-.3 .3-4.2 .4 .7 .3-4.4 .3 5.9 .4 4 .3-6 .3 5.9 .4-.6 .3-2.5 .3 .1 .3 .3 .4-2.3 .3 1.5 .3 .6 .4 1.7 .3 .4 .3-3.7 .4 3.9 .3-3.9 .3 1.5 .3 1.4 .4-.9 .3-.2 .3 1 .4-2 .3-.2 .3 1.2 .4 2.8 .3-2.5 .3 4.9 .3-4.1 .4-7.7 .3 6.2 .3 5.2 .4-4 .3-1 .3-1.1 .4 5.4 .3-.7 .3-.8 .3-.5 .4 2.5 .3-1.5 .3-4.9 .4 4.9 .3-1.4 .3-.7 .4 2.2 .3-1.8 .3-7.1 .3 10.9 .4-1.2 .3-2.8 .3-.5 .4 1.5 .3-3.6 .3 3.8 .4-1.2 .3-.3 .3-1.3 .3 .6 .4 4.4 .3 .6 .3-2 .4-1.3 .3-1.9 .3 3.9 .4 2.2 .3-7.8 .3 6.8 .3-8 .4 4.4 .3 1.8 .3-4.2 .4-.3 .3 4.1 .3 1.7 .4-3.2 .3 4.5 .3-5.1 .3 6.1 .4-3.9 .3 .4 .3 .9 .4-.7 .3 3.7 .3 .9 .4-3.9 .3-1.7 .3-2.3 .3 1 .4 1.9 .3-.2 .3 .1 .4 .2 .3 1.2 .3-4.3 .4 .8 .3 5.1 .3-.6 .3-3.2 .4 4.4 .3-4.7 .3 1.1 .4-3.7 .3 6.4 .3-2 .4 2.6 .3-.8 .3-1.4 .3 .2 .4 2.4 .3-3.1 .3 0 .4 .6 .3 1.8 .3 .3 .4 2.4 .3-4.7 .3 3.3 .3-4.5 .4 3 .3-1.1 .3 3.9 .4-2.6 .3-2.5 .3 2.5 .4-.5 .3-1.6 .3 .1 .3-1.4 .4 8.7 .3-6.1 .3 2 .4-5 .3 .2 .3 2.3 .4 0 .3 2.3 .3-4.2 .3 3.6 .4 2.3 .3-5.6 .3 4.3 .4-4.3 .3 3 .3 .1 .4 3.3 .3-5.7 .3 2.1 .3 2 .4-5.1 .3 2.7 .3-1.9 .4 .4 .3 3.3 .3 0 .4 4.4 .3-2.7 .3-.2 .3-3.4 .4-.3 .3 1.1 .3-5.6 .4 9.2 .3-5.4 .3-.9 .4 1.4 .3 3.1 .3 .9 .3-3.7 .4 1.9 .3-1.1 .3-2.2 .4 2.8 .3-.4 .3-3.5 .4 6.1 .3-6.2 .3 4.2 .3-2.9 .4 .5 .3 .3 .3 3.3 .4-4.5 .3 2.5 .3 4 .4-5.1 .3 1.5 .3 1.6 .3-2.8 .4 2.5 .3-2.6 .3 3.1 .4-1.4 .3-2.3 .3 5.4 .4-3.4 .3-.4 .3-1.5 .3 1.1 .4 .9 .3 .6 .3 2.2 .4-5.5 .3 2.2 .3 3.6 .4-2.3 .3 .5 .3 2.7 .3-2.8 .4 .3 .3-1.1 .3 4.1 .4-1.6 .3-4 .3 2.9 .4-3.8 .3 5.1 .3-.9 .3-1.9 .4-.5 .3-3.2 .3 5.9 .4-2 .3-.4 .3 2.3 .4-3.1 .3 .2 .3-.2 .3-1.5 .4 8.6 .3-5.9 .3-.3 .4 2.8 .3-9.1 .3 7.1 .4 .1 .3-2.2 .3 3.2 .3-5.5 .4 4.5 .3 2 .3-7 .4 1.8 .3 2.9 .3 .3 .4-1.4 .3 2.2 .3-.2 .3-3.6 .4 2.8 .3-2.6 .3-1.8 .4-.7 .3 7.7 .3-2.6 .4 4.7 .3-7.7 .3 2.5 .3 1.6 .4-1 .3 1.4 .3-.8 .4-1.6 .3-3.8 .3 3.1 .4 6 .3-2.1 .3 1.4 .3-4.4 .4 .9 .3-1.4 .3 2.8 .4-.7 .3 .9 .3 2.9 .4-5.7 .3 3.5 .3-4.7 .3 5.6 .4-3.4 .3 .8 .3 .5 .4 3.4 .3-3.7 .3-1 .4-1.5 .3 3.2 .3-2.4 .3 .8 .4 1 .3 1.6 .3-3 .4 3 .3 2.5 .3-7.2 .4 6.3 .3 1.8 .3-6 .3 2.7 .4-4.4 .3 3.8 .3-1.4 .4 1.4 .3-2.7 .3 .3 .4 .8 .3-.6 .3 .3 .3 .9 .4-2 .3 2.1 .3 1.4 .4-6.1 .3 5.5 .3-2 .4-.8 .3-.5 .3 1.1 .3 .3 .4 2.4 .3-3.5 .3 5 .4-4 .3 3.3 .3 .9 .4-5 .3 5 .3 2.5 .3-5.7 .4 2.3 .3-1.5 .3 .5 .4-.6 .3-.6 .3 2.7 .4 .4 .3-1.9 .3 3.3 .3-.9 .4-.8 .3-3 .3 5.7 .4-1.3 .3-7.4 .3 2.3 .4 1.3 .3 3.1 .3 .7 .3-3.3 .4 1.2 .3 1 .3-4.2 .4 4 .3-1.9 .3 1.1 .4-.5 .3-2.4 .3 .4 .3 2.3 .4 .2 .3-.9 .3 2.9 .4-3 .3-1.8 .3 1.9 .4 .3 .3 .1 .3 2.8 .3-1.3 .4 1.1 .3-.9 .3-1.6 .4 2.5 .3-2.7 .3 1.1 .4-2.6 .3 2.3 .3-.9 .3 1.5 .4 3.1 .3 1.2 .3-2.8 .4-2.2 .3 1.8 .3-1.3 .4-1.7 .3 1.2 .3-.4 .3-.8 .4 4.3 .3-4.1 .3 .1 .4 2.6 .3-3 .3-.9 .4 .6 .3 2.9 .3-.3 .3-.1 .4-1.6 .3-.9 .3 3.8 .4-4.9 .3 2.6 .3-2.3 .4 1.9 .3 .6 .3 2.9 .3-8.6 .4 8.9 .3-4.7 .3 2.4 .4 1.1 .3-3.2 .3 1.4 .4 1.2 .3-1.3 .3-1.2 .3 1.9 .4-.2 .3-3.3 .3 5.9 .4-2.3 .3-5.5 .3 3.3 .4 5.3 .3-.3 .3-2.7 .3-4.1 .4 3.1 .3 2.6 .3-1.3 .4-1.6 .3-.8 .3 3.2 .4-2.1 .3 1.1 .3 .3 .3 2.4 .4-3 .3 .1 .3-4.2 .4 5.9 .3-.4 .3-1.9 .4-4.7 .1 3.5 .1 1.4 .1 4.1 0-3.1 .1 .5 .1 0 .1 1.1 0-5.1 .1 .6 .1-.7 .1 1.9 0-.2 .1 1 .1-2.4 .1 2.3 .1-1.9 0 6.1 .1-5.4 .1 6.3 .1-1.9 0-5.8 .1 4.4 .1-.7 .1-4.4 0 4.4 .1-1.5 .1 .9 .1-2.4 .1 1.6 0 .9 .1-1.2 .1-.9 .1 1 0-1.7 .1 2.7 .1-6 .1 8.3 0-2.9 .1 .8 .1 .8 .1-4.3 .1 7.2 0-7 .1 3.3 .1-.3 .1 2 0-2.7 .1-2.9 .1 3.5 .1-5.7 0 4.7 .1-.6 .1 4.1 .1-3.7 0-.4 .1-.6 .1-.2 .1 .6 .1 2.3 0-3.9 .1 2.2 .1-2.5 .1 2.6 0 .7 .1-2.9 .1 1.3 .1 1.4 0 1.4 .1 .3 .1-2.2 .1-1.8 .1-1.3 0 4.9 .1 1.3 .1-2.1 .1 2.4 0-4.1 .1 .1 .1 4 .1-5.3 0 3.3 .1-.5 .1-.4 .1 3.2 .1-5.4 0 .9 .1-3.4 .1 2.2 .1 1 0 .3 .1 .4 .1 1 .1-2 0-2.7 .1 4.3 .1 .6 .1-3.3 0 .8 .1 5.2 .1-1.5 .1 .1 .1-.9 0-1.1 .1-1.3 .1 2.2 .1-1.6 0-.5 .1 .9 .1-.2 .1 2 0-3.8 .1 7 .1-7.1 .1 1.1 .1 2.8 0-3.6 .1 .7 .1 1 .1-6.1 0 5 .1-1 .1 1.5 .1 1.5 0 .3 .1 1.7 .1-.1 .1-.9 .1-2.2 0 2.2 .1-4.1 .1 1.8 .1 3.1 0-1.3 .1-4.5 .1 1.6 .1 3 0-.6 .1 1 .1-5.9 .1 1 0 2.1 .1-1.5 .1 1.9 .1 .1 .1 .7 0-1 .1 1.4 .1 .4 .1-1.3 0-2.8 .1 5.1 .1-2.2 .1 .4 0-.5 .1-3.7 .1 4.5 .1-2.6 .1-1.1 0 5 .1-3.2 .1 1.2 .1 1.2 0 1.4 .1-7 .1 2.2 .1 2.8 0-2.7 .1-5.3 .1 6.9 .1 .1 .1 1.2 0-1.2 .1-1.4 .1 1.3 .1-.5 0-1 .1 1.5 .1 .2 .1-2.8 0 4.1 .1-.4 .1-.1 .1-7.2 0 5.8 .1-.5 .1-1.8 .1 3.1 .1-4.2 0 5.5 .1-1.7 .1-1.9 .1 3.9 0-2 .1-.2 .1-3.4 .1 3.7 0 1.7 .1-.6 .1-4.9 .1 5.4 .1 .4 0-1.5 .1-2.6 .1-2.3 .1 1.2 0 .6 .1 1.7 .1 .5 .1-2.6 0-1.8 .1 2.4 .1-1.9 .1 5.3 .1-5.2 0 3.4 .1 .7 .1-3.7 .1 3.9 0-2.3 .1-1.3 .1-.4 .1 2.1 0 1.9 .1-6 .1 5 .1-1.6 0-1.3 .1 1.3 .1 .1 .1-.1 .1 1.7 0-3.4 .1 5.7 .1-2.3 .1-3 0-2.6 .1 3.7 .1-.8 .1 2.2 .1 2.3 .1-4.1 .1 1.8 .1-2.5 0 .1 .1 3.7 .1-3.4 .1 0 0-.4 .1 1.2 .1 .5 .1-1.5 0-2 .1 2.9 .1-2.4 .1 .9 .1 1.1 .1-5.2 .1 7.9 .1-1.8 0 2.2 .1 1.1 .1-6.9 .1 .6 0 1.6 .1 1.3 .1-2.9 .1 .3 0 2.7 .1-4 .1 2.1 .1 1.6 .1-2.7 0 2 .1-1.8 .1-3 .1 1.9 0 .7 .1-.4 .1 .6 .1 .7 0-.3 .1-.3 .1-1.3 .1 .3 .1-.4 0-.4 .1 3.7 .1-6.5 .1 4 0-3.6 .1 1.9 .1 2.6 .1-2.3 0 3.3 .1-4.7 .1 1.2 .1-.8 .1 1.1 0-.7 .1-.2 .1 .7 .1 1.9 0-1.9 .1-.3 .1-.8 .1-1 0-1.4 .1 .6 .1 1.9 .1-3.8 0 4.8 .1-2.1 .1-1.2 .1 .6 .1 2.2 0-.6 .1-.4 .1 2.7 .1 1 0-6.9 .1 4 .1-3.3 .1-1.3 0 1.6 .1 2.8 .1-2.6 .1-.5 .1 3.4 0-1.7 .1-1.3 .1 3.4 .1-2.6 0-2.3 .1-.8 .1 1 .1 .9 0 1.4 .1-.3 .1-1.6 .1-2.6 .1 3.8 0-1.7 .1-2.4 .1-.5 .1 2.4 0 .2 .1 .6 .1-3.9 .1 5.4 0-6.9 .1 3.1 .1 2.2 .1-.8 0-3.8 .1 2.7 .1 .8 .1-1.2 .1-3.3 0 4.6 .1-6.2 .1 2.7 .1-2.3 0 1.1 .1-.2 .1 1.1 .1-3.4 0 2.4 .1 1.7 .1-2.5 .1 .4 .1-.5 0-2.2 .1 .3 .1 .3 .1 .2 0 2.7 .1-1.2 .1-4 .1-.4 0-1.1 .1-2.5 .1 5.4 .1-1.8 .1-4.4 0 3 .1 3.1 .1-3.6 .1-.5 0-.5 .1-2.2 .1-1.3 .1-.2 0 1.4 .1-1.2 .1 .6 .1 .8 0-2.2 .1-.1 .1-2.6 .1-2.2 .1 4.1 0-2.2 .1-.4 .1-3.2 .1-2.9 0 3.9 .1-5.6 .1 1.4 .1-1.8 0 .4 .1-.1 .1-1.4 .1-4.9 .1 2.5 0-3.8 .1 1.3 .1-2.9 .1-2.5 0 .6 .1-2.7 .1-.6 .1-1.2 0-.8 .1-2.3 .1-1.3 .1-3 .1-.1 0-2.4 .1-3.5 .1-2.6 .1-2.9 .1-2.9 .1-2.6 .1-3.3 0-1.2 .1-2.6 .1-4.2 .1-3.7 0-2.9 .1-1.2 .1-4 .1-2.9 .1-5.3 0-.3 .1-4.9 .1-5.3 .1-4.4 0-.6 .1-5.2 .1-5.6 .1-5 0-2.7 .1-2.9 .1-6.3 .1-6.1 .1-4.7 0-1.5 .1-6.9 .1-6.7 .1-7.3 0-.2 .1-7.3 .1-7.4 .1-7.5 0-2.5 .1-5.1 .1-8.4 .1-8.2 .1-5 0-3.6 .1-8.3 .1-8.8 .1-8 0-1.1 .1-9 .1-9.2 .1-9.2 0-2.1 .1-7.4 .1-9.5 .1-9.8 0-4.9 .1-4.7 .1-9.8 .1-9.8 .1-7.8 0-2 .1-9.8 .1-9.8 .1-9.6 0-1 .1-8.6 .1-9.5 .1-9.3 0-3.8 .1-5.4 .1-8.9 .1-8.8 .1-5.9 0-2.5 .1-8.2 .1-7.7 .1-7.4 .1-7 .1-6.4 .1-6 0-1.7 .1-3.8 .1-5 .1-4.2 .1-2.3 0-1.5 .1-3 .1-2.4 .1-1.6 0-.2 .1-1 .1-.3 .1 .3 0 .2 .1 .7 .1 1.3 .1 2 0 1.2 .1 1.3 .1 3.1 .1 3.5 .1 3.2 0 .8 .1 4.5 .1 5 .1 5.4 0 .6 .1 5.2 .1 6.1 .1 6.5 0 2.8 .1 4.1 .1 7.2 .1 7.4 .1 5.3 0 2.4 .1 7.8 .1 8.1 .1 8.3 .1 8.3 .1 8.6 .1 8.6 0 2.7 .1 6 .1 8.9 .1 8.7 .1 5.3 0 3.5 .1 8.7 .1 8.9 .1 7.9 0 .9 .1 8.6 .1 8.7 .1 8.9 0 1.6 .1 6.8 .1 8.5 .1 8.4 0 4.1 .1 4.2 .1 8.1 .1 8.1 .1 6.2 0 1.5 .1 7.9 .1 7.7 .1 7.3 0 .9 .1 6.5 .1 7.4 .1 7 0 2.9 .1 3.8 .1 6.9 .1 6.7 .1 4.3 0 1.8 .1 6.1 .1 6.4 .1 5.7 0 .2 .1 5.5 .1 6.1 .1 4.8 0 1.3 .1 4 .1 5.2 .1 5.1 .1 2.3 0 1.9 .1 4.7 .1 4.3 .1 3.2 0 1.6 .1 4.3 .1 3.1 .1 3.7 0 1.2 .1 2.6 .1 4.4 .1 2.7 0 2.3 .1 .6 .1 3 .1 2.9 .1 2.4 0 1.8 .1 3.1 .1 2.3 .1 2.6 0-1.6 .1 4.8 .1 .5 .1 4.4 0 1.9 .1-.8 .1 2.6 .1 2 .1-.5 0 .8 .1 2.2 .1 2.6 .1 2.5 0-.8 .1 2.7 .1-.2 .1 .4 0 2.1 .1 .9 .1-.3 .1 4.2 .1-1.6 0 .7 .1 2.4 .1-.5 .1 3.2 0-.2 .1 1.1 .1 .4 .1 .3 0-.2 .1 2.2 .1 2.4 .1 .1 0-.2 .1 1.4 .1 1.2 .1-3 .1 2.4 0 2 .1-2.1 .1 1 .1 2.3 0-1.2 .1 2.8 .1-1.8 .1 2 0 3.3 .1-1.8 .1-3.5 .1 1.1 .1 .4 0 1.7 .1-1.7 .1 3.6 .1 2.4 0-.2 .1-3.4 .1 1.2 .1 .4 0-.7 .1 4.5 .1-3.6 .1-.4 .1 2.8 0 .1 .1 2.4 .1 .4 .1-2.7 0-3.2 .1 5.1 .1 .6 .1 2 0-5.8 .1 1 .1 5.1 .1 .4 0-.4 .1-2.2 .1 2.6 .1-3 .1-1 0 2.2 .1 .5 .1 1.6 .1 .7 0-5 .1 3.9 .1 .6 .1-2.9 0 1.9 .1 .7 .1 .9 .1-2.1 .1 .6 0-.8 .1 2.8 .1-1 .1-.2 0 2.2 .1-1.3 .1-1.6 .1 4.5 0-.3 .1-.8 .1-2.5 .1 4.1 .1-3 0-2.3 .1 3.4 .1 3.8 .1-4 0 1.9 .1 1.6 .1-2 .1-.7 0 .6 .1 1.2 .1-1.8 .1 1.7 0 .5 .1-1.7 .1 2.2 .1-.1 .1-1.5 0 .3 .1 .7 .1-.4 .1 .1 0-1.5 .1 2.2 .1 1.3 .1 0 0-2.7 .1 2.7 .1 .2 .1-2.7 .1 2.8 0-1.2 .1-.3 .1 1.3 .1-.7 0-3.8 .1 4.7 .1-2.4 .1 2.1 0 1.5 .1-1.7 .1-.3 .1 1.3 .1 .7 0-2.4 .1 .5 .1 2.2 .1 2.1 0-2.9 .1 1.7 .1-2.9 .1 1.5 0 .1 .1-2.4 .1 2.5 .1-.3 0-4.3 .1 4.6 .1 .8 .1 0 .1 .2 0-2.6 .1 .8 .1 1.1 .1-1.2 0 .8 .1 3.2 .1-3.8 .1 1.1 0 4.1 .1-3.7 .1-1.5 .1 2.5 .1-.1 0-.1 .1-3.2 .1 3.7 .1 .3 0 3.1 .1-2.5 .1-2 .1 1.5 0 .7 .1-1.4 .1 .3 .1 2.7 .1-1.6 0 .1 .1-2.7 .1 2.7 .1-4.3 0 5.9 .1-3.1 .1 2.1 .1 1.5 0-4.6 .1 4.3 .1-1.7 .1 1.8 0-2.8 .1-.5 .1 3.8 .1-1.6 .1-.6 0-2.3 .1 4.7 .1-3 .1 .3 0-.9 .1 1.4 .1 1.1 .1-1.2 .1-.8 .1 3.9 .1 .3 .1-3.6 0-1 .1 2.1 .1-3.4 .1 3.5 0 .1 .1-.2 .1 2.7 .1 .5 0-2.5 .1-1.5 .1 2.7 .1 .2 .1-4.3 0 .9 .1 .9 .1-2.5 .1 1 0 5.2 .1-5.4 .1 4 .1-3 0 3.3 .1-1.2 .1 1.1 .1-4.2 0 3.2 .1-1.6 .1 2.5 .1 0 .1-1 0-.5 .1 .2 .1 .6 .1-1.4 0 .1 .1-.3 .1-.7 .1 3.9 0-4.4 .1 4.9 .1-1 .1-4.5 .1-.2 0 3.5 .1-2 .1 2.3 .1 1.6 0-1.1 .1-1.1 .1 .1 .1 3.2 0-3.4 .1 3.9 .1 .6 .1-4.4 .1 1.2 0 2.7 .1-4.4 .1 2.1 .1 1.2 0-3.9 .1 2.7 .1-.4 .1-1.2 0 3.9 .1-3.1 .1 4.5 .1-2.9 0-2.6 .1 1.8 .1-1.8 .1 3 .1-.3 0-3.4 .1 1.4 .1 1.7 .1-.7 0-1.9 .1 3.8 .1 .6 .1-5.3 0 5.5 .1-6.5 .1 3.6 .1-1 .1 .2 0 1.4 .1-2.5 .1 2 .1 3.4 0-2.3 .1 2 .1-1.2 .1-4.6 0 6.4 .1-1.7 .1-.4 .1-1.8 .1-.3 0-.9 .1 1.6 .1 .6 .1-.5 .1-3.3 .1 2.2 .1 0 0 2 .1-1.3 .1 0 .1 1 0-1 .1 .4 .1 2.5 .1-2.3 .1-1.3 0 2.8 .1 .4 .1-.3 .1-3.6 0 4.2 .1-1.6 .1 .1 .1 0 0 .7 .1 .1 .1 1.8 .1-2.2 .1-.6 0 1.3 .1-1.3 .1 2.2 .1-1.7 0 1.1 .1-2.3 .1 2.8 .1-.6 0-2.7 .1 .9 .1 .8 .1-2.5 .1 .4 0 2.9 .1 .1 .1 1.5 .1-4.8 0 1.7 .1-3 .1 6.9 .1-5.6 0 2 .1 4 .1-.9 .1-4.2 0 5.7 .1-3.2 .1-2.7 .1 2.4 .1 .7 0-.1 .1-5 .1 7.3 .1-6.3 0 2.6 .1 3 .1-1.9 .1-.7 0-1.1 .1 2.2 .1 1.5 .1-3.5 .1 1.8 0-1.4 .1-.1 .1-3 .1 4.3 0 1.2 .1-1.9 .1 2.2 .1-1.6 0 2 .1-1.9 .1-1 .1-.2 .1 1.1 0 .4 .1-1.9 .1 1.2 .1-2.1 .1 3.6 .1-.4 .1 .9 0-1.3 .1 .2 .1 3 .1-4.8 .4 2.1 .3 2.4 .3 .9 .4-2.6 .3-1.2 .3-1.6 .4 1.7 .3 .6 .3-.2 .3 1 .4 .1 .3-1.8 .3-.7 .4 1.2 .3 1.4 .3 2.2 .4-5.8 .3 4.9 .3-2.4 .3 2.6 .4 1.4 .3-2.4 .3-2.9 .4 1.4 .3 1.5 .3-1.2 .4 .5 .3-1.2 .3 1.1 .3-.7 .4 2.7 .3-.9 .3 .8 .4-4.2 .3 2.2 .3-.5 .4 .7 .3-.8 .3 .3 .3 4.2 .4-3.2 .3-1.7 .3 1.7 .4 4.6 .3-2.7 .3-2.9 .3 1.3 .1 .3 0 .2 .1-3.3 .1 1.7 .1 1.4 0-2.8 .1 2.8 .1 .5 .1 1.3 0 .5 .1-2.2 .1 .8 .1 .8 0 .6 .1-1.6 .1-1.5 .1 2.4 .1 .5 0-1.2 .1 .7 .1 1.9 .1-3.7 0-.3 .1-.7 .1 2.5 .1 1.1 0-2.5 .1 4.1 .1-4.2 .1 1.5 .1-.7 0 2.7 .1-3.5 .1 4 .1-3.2 0-2 .1 1.3 .1 .8 .1 3.2 0-3.8 .1 .9 .1 3.7 .1-3.4 .1-1.4 0-.2 .1-1.4 .1 3.4 .1 1.5 0-2.8 .1-1.2 .1 2.4 .1-.5 0-.2 .1 1 .1-.7 .1-.7 0 2.4 .1-5 .1 1.3 .1 1.5 .1-1.9 0 5.1 .1-6.6 .1 5.2 .1-.3 0-.4 .1 .2 .1-1.7 .1-.3 0 3.8 .1-2.8 .1-2.3 .1 .4 .1-.5 0 3.2 .1 1.6 .1-2.6 .1 .8 0-1.1 .1 2.5 .1 0 .1 .1 0 1.5 .1-5.3 .1 3.6 .1-4.2 .1 4.1 0 .2 .1-.2 .1 .2 .1-1.7 0-.8 .1 2.5 .1-2.5 .1 2.4 0-2.7 .1 2.1 .1-.1 .1-2 0 .9 .1 2.2 .1-1.5 .1 .8 .1-1.8 0 1.1 .1-2.7 .1 1.2 .1 3.6 0-1.3 .1-.9 .1 .2 .1-2.6 0 3.1 .1-2.8 .1 .8 .1 2.5 .1-2.5 0 .4 .1 .8 .1 .3 .1 2.2 0-5.4 .1 2.3 .1 1.8 .1-1.9 0 .1 .1-.7 .1 .9 .1 1.7 .1 1 0-1.5 .1 1.8 .1-2.3 .1-3 0 4.2 .1-4.8 .1 3.4 .1 .1 0-2 .1 1.7 .1-.6 .1 1.2 0-.8 .1 1.6 .1-1.7 .1 1.7 .1-1 0 .4 .1-.2 .1-1 .1 2.7 0-.9 .1-4.9 .1 1.8 .1 5.1 0-3.4 .1 5.3 .1-4.1 .1 0 .1-1.5 0 .4 .1 .7 .1 1.3 .1-1.4 0-.3 .1-1.6 .1 .9 .1 .1 0 .5 .1-1.1 .1-.6 .1 1.4 .1-3.8 0 1.7 .1 1.2 .1 2 .1-1.8 0-.7 .1 3 .1-1.4 .1 2.6 0-2.7 .1-.9 .1 .6 .1 3.7 0-.4 .1-2.4 .1 1.5 .1-4.1 .1 4.5 0-1.6 .1-.7 .1 .2 .1 .4 0-1.2 .1 .1 .1-1.4 .1 4.7 0-4.2 .1 1.3 .1 2 .1 .3 .1 .4 0-3.5 .1 .2 .1 .7 .1-3.1 0 4.7 .1-4.3 .1 2.5 .1 1.8 0-.1 .1-2.2 .1 2.3 .1 .3 .1-4.7 0 2.4 .1 1.6 .1-.4 .1-1.1 0 .2 .1 4.1 .1-4.5 .1 2.4 0-3.8 .1 2.9 .1 .9 .1-2.5 0-.3 .1 4.3 .1-3.5 .1 2.1 .1-4.2 0 5.4 .1-6.3 .1 1.9 .1 .6 0 .9 .1 .5 .1 2.4 .1 .8 0-.3 .1-1.8 .1-1 .1-3.9 .1 3.4 0-.8 .1 2.1 .1-2.8 .1 .3 0 .1 .1 2.4 .1-.8 .1-2 0-1.2 .1 2 .1-.1 .1 .1 .1 1.1 0 1.1 .1 .1 .1-2.5 .1-.1 0 3.9 .1-3 .1 1.7 .1-.9 0 .3 .1 2.1 .1-3.1 .1 2.3 0-1 .1-1.1 .1-.6 .1-.1 .1 2.9 0-.2 .1-3.2 .1 2.2 .1-3.8 0 3.2 .1 3.4 .1-5.5 .1 2.5 0-1.5 .1 1.2 .1-2 .1 2.1 .1-4.3 0 3.6 .1-.1 .1 .4 .1 3.6 0-5.5 .1 .8 .1-1.1 .1 3.2 0-.8 .1-2.1 .1 3.6 .1-1.1 .1 2 0-1.2 .1-1.1 .1-1.5 .1-2.4 0 2.7 .1 3 .1-2.4 .1-1 0 1.9 .1 .8 .1 3.5 .1-6.5 0 1.1 .1-1.3 .1 .7 .1 2.8 .1-1.8 0-2.3 .1 4.8 .1 .8 .1-1.7 0-3.1 .1-.1 .1 4 .1-3.9 0 .7 .1-1.5 .1 5.8 .1-4.4 .1 .8 0-1 .1 .1 .1-.8 .1 3.9 0-3.1 .1 3.7 .1-4.7 .1 3 0 .8 .1-3.6 .1 2.4 .1-1.4 .1-1 0 1.2 .1-2.5 .1 2.7 .1-2.2 0 3.9 .1 1.4 .1-.2 .1-3.7 0 1.1 .1 3.6 .1-1.2 .1-1.1 0-4.8 .1 3.1 .1 4.4 .1-3 .1-1.6 0 .9 .1 4.1 .1-2 .1-4.5 0 .3 .1 2 .1 2.2 .1-3.6 0 .4 .1-3.5 .1 3.3 .1 2.2 .1 0 0-3.7 .1 4 .1-2.9 .1-1.1 0 3.4 .1-3.8 .1 2 .1-.7 0 1.3 .1 .6 .1-1.2 .1-.7 .1 .5 0-3.3 .1 4 .1 3.8 .1-2.9 0 1.4 .1-2 .1 0 .1 .8 0 .4 .1-.1 .1-2.6 .1 1.5 0-2.7 .1 4.5 .1-2 .1-.4 .1-1.8 0 3.1 .1 .9 .1-.9 .1 1 0-3.3 .1 3 .1-1.7 .1-4.7 0 5.2 .1-2.3 .1 1.5 .1-1 .1-.4 0 3.4 .1-2.8 .1 1.2 .1 .9 0-1.9 .1-1.6 .1 2.3 .1-.4 0-1.4 .1 1.8 .1 2 .1-.6 .1 1 0-.4 .1-2.1 .1-.4 .1-2 0 4 .1-3.2 .1 1.9 .1 1.8 0-2.7 .1-2.9 .1 .6 .1 1.1 0 2.9 .1-2.9 .1 .2 .1-1.8 .1 2.4 0-.5 .1 1.1 .1-3.2 .1 2.5 0-3.6 .1 1.2 .1 0 .1 .5 0 .9 .1-4.9 .1 3.8 .1-.8 .1-1.7 0 1.7 .1 1.1 .1-1.8 .1-.3 0 2.1 .1-2.7 .1 2.9 .1-1.4 .1 .1 .1 .9 .1-3.7 .1 3.1 0-3.6 .1 1.9 .1 .1 .1-1 0-2.2 .1-.5 .1-.1 .1 1.6 0 .3 .1 .4 .1-3.8 .1 2.8 0 1.1 .1-1.6 .1-.6 .1 1.1 .1 1.1 0-.3 .1-.2 .1-5 .1 4.3 0-3 .1 1.7 .1-2.7 .1 1.3 0-1.6 .1 .3 .1 3.4 .1-5.4 .1 3.4 0-1.6 .1-2.2 .1 3.8 .1-2.3 0-.9 .1 1.2 .1-2 .1 3.9 0-5.2 .1 1.5 .1-2.6 .1 3.6 .1 .9 0 .2 .1 .9 .1-2.5 .1-.8 0 2.3 .1-2.5 .1 1.6 .1-1.3 0-.4 .1 1.2 .1 2 .1-.3 0-1.2 .1-4.5 .1 4.5 .1 .7 .1 .4 0-2 .1 3 .1-.9 .1-3.5 0 4.4 .1 1.6 .1-2 .1-1.6 0 4.5 .1-1.3 .1-4.5 .1 5.1 .1-.9 0-.1 .1-3.2 .1 .3 .1 3.4 0 3 .1-2.7 .1 .1 .1-1 0 .5 .1 2.6 .1-2.8 .1 4.7 .1-2.2 0-.2 .1-.5 .1-.7 .1 1 0-2.1 .1 2.9 .1-3.2 .1 7.3 0-3.8 .1-2.4 .1 3.3 .1 0 0-1 .1 1.5 .1-1.6 .1 1.4 .1 .1 0 1.2 .1-1.6 .1 1.7 .1-5.2 0 6.8 .1-1.4 .1 .9 .1-1.2 0 2.1 .1-1.5 .1 .6 .1 0 .1-1 0-.5 .1 2.7 .1 .3 .1-1 0 2.3 .1-1.8 .1 .8 .1 1.2 0-.6 .1-1.5 .1-1.4 .1 .7 .1-.4 0 3.3 .1-7.5 .1 9.9 .1-5 0 3.4 .1-1.2 .1 .5 .1-3.1 0 4.1 .1-1.8 .1 1.3 .1-2.6 0 1.6 .1-1.1 .1 1.9 .1 .7 .1-1.5 0 1.2 .1 .2 .1-1 .1-.3 0-2.9 .1 5.3 .1-1.5 .1-.6 0 .8 .1-1.2 .1 .4 .1 1.5 .1-3.5 0 2.1 .1 1 .1-3.1 .1 .9 0 4.1 .1 1.7 .1-3.3 .1 .7 0-2.6 .1 3.9 .1-2.4 .1 .3 .1 .5 0-1.6 .1-.2 .1 1.2 .1-1.8 0 .8 .1-3.4 .1 2.7 .1 2.6 0 1.2 .1-.9 .1-2.5 .1 1.6 0-1.8 .1-.2 .1 3.7 .1-2.4 .1 .1 0 .9 .1 1.3 .1-1.4 .1-.6 0 1.1 .1-.7 .1-.4 .1-3.3 0 2.3 .1 1.4 .1-1.6 .1 5.1 .1 .7 0-1 .1-4.4 .1 2.4 .1-.1 0-.1 .1-3.4 .1 4.4 .1 1.4 0-1.5 .1 2.2 .1-4.1 .1 1.7 .1 1.1 0-3.9 .1 1.4 .1-1 .1 2.8 0-3.5 .1 2.5 .1-1.4 .1 2.5 0-2.4 .1 .6 .1 .7 .1-1.7 0 .5 .1 .4 .1-.5 .1 1.3 .1-1.7 0 1.4 .1-.7 .1-.5 .1-.9 0-1.3 .1 2 .1 2.2 .1-1.6 0 3.2 .1-4.3 .1 1 .1-2.1 .1 4.7 0-4.3 .1 3.1 .1-.2 .1 3.9 0-2.1 .1-.9 .1-1.1 .1 3 0-3.9 .1-1.5 .1 3.7 .1-1.6 .1-1.1 0 1.8 .1 .3 .1-3.5 .1 4.3 0 1.8 .1-4.1 .1-1.9 .1 3 0-.6 .1 1.6 .1 .2 .1-1.8 0 2.9 .1-6 .1 2.2 .1 1.5 .1 .4 0-.8 .1 .9 .1-3 .1-1.7 0 5.4 .1 .9 .1-2.3 .1-2 0 .8 .1 2.3 .1-.7 .1 1.9 .1 .6 0-.7 .1-2.5 .1 2.2 .1-.9 0-.5 .1 0 .1-.5 .1-1.6 0 2.4 .1-2 .1 1.3 .1 1.5 .1-.1 0-4.5 .1 2 .1-.7 .1 2.4 0-1.8 .1 2.9 .1-2.4 .1 1.6 0-2.5 .1 .5 .1 .8 .1 1.2 0-4.3 .1 3.7 .1-2.6 .1 2.8 .1-3.4 0 2.3 .1 2.8 .1 .5 .1-4.3 0 4.7 .1-3.7 .1 .8 .1 .9 0-.7 .1 .4 .1-.3 .1 1.2 .1-1.1 0-1.1 .1-1 .1-.1 .1 1.7 0 1.4 .1-.7 .1-1.1 .1 1.3 0-1.7 .1 1.2 .1 .6 .1-1.5 .1 3 0-.4 .1-2.4 .1 1.6 .1-.7 0 .2 .1 0 .1 1.7 .1-1.6 0-.1 .1 1.1 .1 0 .1 1.4 0-4.3 .1 2.6 .1-4.3 .1 3.2 .1-2.2 0-.1 .1 2.1 .1-1.6 .1 1.3 0-4.1 .1 6.9 .1-6.8 .1 3.4 0 4 .1-5.2 .1 5.3 .1-1 .1-2 0-.5 .1 .1 .1 1 .1 1.2 0 .6 .1-5.8 .1 5 .1-.4 0-3.1 .1 3.6 .1 .1 .1 0 .1-1.7 0 1.5 .1 .7 .1-3.2 .1 .3 0-.1 .1 3 .1-2 .1-1.2 0-.5 .1-.5 .1 2.6 .1 1 0 .8 .1-3.9 .1 .1 .1 0 .1 .2 0-1.1 .1 5.1 .1-1.8 .1-1.6 0-3.5 .1 6.7 .1-1 .1-1.1 0 1 .1-2.4 .1 2.3 .1-2 .1 1.7 0-1.1 .1-1.9 .1 .4 .1 3.7 0-.2 .1-2 .1-.8 .1 .4 0 1.4 .1-3 .1 4 .1-3 .1-.5 0 1.8 .1 3.4 .1-4.5 .1 .6 0-1.3 .1 2.4 .1 0 .1-.5 0-.6 .1 1.3 .1 .7 .1-2.1 0 .4 .1-.7 .1 .2 .1 2.9 .1-3.7 0 2 .1 1.5 .1-2.6 .1 1.8 0 .3 .1-3.7 .1 4.1 .1-3.4 0 2 .1-2.8 .1-.2 .1 2.3 .1 3.2 0 1.6 .1 .4 .1-2.4 .1-.2 0-.7 .1-.2 .1-1.7 .1-.2 0 1.5 .1 .1 .1-1.8 .1-1 .1 .8 0 7 .1-6.9 .1 3.7 .1-.4 0-.3 .1-2.8 .1 4.5 .1-3 0-1.5 .1-.2 .1 1 .1 3.9 0-5.8 .1 1 .1 1.2 .1 .8 .1-2.6 0 .1 .1 .8 .1 2.1 .1-1.5 .1 .7 .1-.2 .1 1.5 0-2.9 .1 1.3 .1-1.1 .1 2.3 .1 .2 0-1.8 .1 2.4 .1-2.3 .1 2.7 0-3 .1-.1 .1-1.8 .1 .9 0 1 .1-2.9 .1 3.6 .1 1.5 .1-.6 0-.6 .1 .9 .1-2.1 .1 .1 0 2.3 .1-1.7 .1 1.9 .1-2.4 0 1.9 .1 1 .1-2.2 .1 3 0-.2 .1-6.8 .1 8.6 .1-7.2 .1 6.9 0-5.7 .1-2 .1 1.3 .1 3.1 0-2.5 .1 .7 .1 3.1 .1-3.8 0 2.6 .1 1.3 .1-5.3 .1 1.2 .1 2.3 0-.3 .1 .5 .1-3.9 .1 2 0 2.1 .1 .4 .1 1.1 .1-2.8 0-.5 .1-.5 .1 .1 .1-1.9 .1 6.4 0-3.6 .1-.4 .1 .1 .1 2 0-.7 .1-1.5 .1 3 .1-1.2 0-.8 .3 .4 .4 2 .3-.8 .3-1.3 .4 1.9 .3-5.4 .3 4.9 .4-2.6 .3 .4 .3 .7 .3 3.6 .4-3.4 .3 0 .3 1.3 .4-4.4 .3 3.1 .3 1.5 .4-2.8 .3 2.7 .3-2.2 .3-1.2 .4 4 .3-1.3 .3 1.2 .4-1 .3-2 .3 3.5 .4-.9 .3 0 .3-1.3 .3-1.2 .4 4.3 .3-1 .3-1 .4-1.3 .3 3.3 .3-3.6 .4 .2 .3 4.9 .3-2.6 .3 .6 .4-.3 .3 2.4 .3-2.9 .4 .2 .3-2.2 .3 1.5 .4-2.6 .3 2 .3 .6 .3 1.3 .4 1.1 .3-3.4 .3-.6 .4 2.3 .3-1.9 .3 4.3 .4-.7 .3-3.7 .3 2 .3 1.8 .4-3.6 .3 .8 .3 .7 .4 2.4 .3-1.5 .3-1.1 .4 1 .3-.5 .3 .3 .3 .5 .4-.4 .3 .7 .3-1 .4-.4 .3-.1 .3-2.1 .4 1.9 .3 3.8 .3-3 .3 .9 .4 .6 .3-2.2 .3 .3 .4 1.4 .3-2.3 .3 3 .4-.3 .3-.7 .3 0 .3 .9 .4-1 .3-4.2 .3 4.9 .4-2.3 .3 .7 .3 .2 .4 0 .3-2 .3-.3 .3 3 .4 .2 .3 .7 .3-2.7 .4 1.6 .3 1.8 .3-1.9 .4-.3 .3 4.3 .3-5.9 .3 1.4 .4-.5 .3 1 .3 6 .4-6.8 .3 1.3 .3-.4 .4-.3 .3 2.6 .3-2 .3 2.5 .4 .6 .3-3.1 .3 3.1 .4-4.1 .3 2.5 .3 1.1 .4-3.3 .3 1.6 .3 .9 .3 .2 .4-.3 .3 2.7 .3-3.4 .4 2.2 .3 1.5 .3-4.4 .4 .4 .3-1 .3 2.8 .3 1.2 .4-5.1 .3 1.4 .3 .5 .4 4.6 .3-4.1 .3 1.2 .4-2.5 .3 3.3 .3-3 .3 1.6 .4-1.5 .3 1.5 .3-.1 .4 .6 .3 .1 .3 2.5 .4-4 .3 3.3 .3-1.6 .3-.7 .4 .7 .3 0 .3 1 .4-.1 .3-.3 .3-.5 .4-2.9 .3 3.9 .3 .4 .3-1.1 .4-.1 .3-1.8 .3 1.8 .4 .9 .3-3.4 .3 1.3 .4-.1 .3 2.9 .3-2.7 .3-2.1 .4 3.1 .3 1.8 .3-2.3 .4-.4 .3 1 .3 2.4 .4-3.1 .3 0 .3 1.1 .3-1.8 .4-1.5 .3 2.9 .3-.7 .4 1.1 .3-.3 .3 .6 .4-2.5 .3 2.2 .3-1.9 .3 2 .4-1.2 .3 3.3 .3-4 .4-2.1 .3 3.7 .3-.9 .4-.7 .3 1.8 .3 2.2 .3-2.8 .4-.8 .3 3.3 .3-.4 .4-1.7 .3-.9 .3 2 .4-2.2 .3 .1 .3-.3 .3 2.2 .4 1.5 .3-2.3 .3 2.7 .4-5.7 .3 3 .3-2.6 .4 4 .3 .6 .3-4.7 .3 1.6 .4 1.3 .3-2.4 .3 .9 .4-.2 .3 1.7 .3-1.3 .4-.6 .3 .6 .3 1 .3 .3 .4-.4 .3 2.2 .3-2.4 .4 .7 .3 .8 .3-1.4 .4 2.5 .3-.8 .3 .1 .3-2.6 .4 1.2 .3 1.1 .3 .7 .4-2.5 .3 .2 .3-1.2 .4-.2 .3 3.9 .3-1.6 .3 .8 .4 .9 .3-1.7 .3 .3 .4-1.7 .3 .6 .3 1.6 .4 1.5 .3-.6 .3-2.5 .3-.1 .4 2.2 .3-.3 .3 .1 .4-.4 .3 1.6 .3-1.5 .4 1.8 .3-1.4 .3-.7 .3-1.7 .4 2.2 .3 .9 .3-1.1 .4-1.7 .3-1.3 .3 2.4 .4 3 .3-4.2 .3 1 .3 .9 .4 1.2 .3-2.8 .3 1.5 .4 .4 .3-2.2 .3 2.4 .4-2.1 .3 1.8 .3 .7 .3-.8 .4-2 .3 2.9 .3 .1 .4-.9 .3 1 .3-1.8 .4-.5 .3 .9 .3 1 .3 .6 .4-2.3 .3 1.4 .3-.1 .4-.9 .3-2.2 .3 .4 .4 3.9 .3-3.6 .3-.4 .3 .6 .4 1.6 .3 2.4 .3-1.4 .4-1.2 .3 .3 .3 1.1 .4-.6 .3-2.6 .3 4.4 .3-.4 .4-2.9 .3 1.2 .3 1 .4-.2 .3-.8 .3 .6 .4 2.5 .3-3 .3 1.8 .3-1 .4-2 .3 2.6 .3-.4 .4 1.2 .3 .7 .3-.8 .4-1 .3 .3 .3 .5 .3-2.4 .4-.2 .3 2.5 .3-2.7 .4 1.2 .3 3 .3-1.2 .4 .5 .3-1.8 .3 1.7 .3-2.9 .4 .1 .3 .9 .3-.7 .4 2.9 .3-2.1 .3-1.5 .4 3 .3-.2 .3 .7 .3-3.4 .4 .5 .3-2 .3 3.8 .4-.7 .3-.7 .3 2.8 .4-3 .3 .4 .3-.6 .3-.2 .4 1.4 .3-.2 .3-.2 .4-1.1 .3-.3 .3 1.1 .4 .8 .3-1.2 .3 .7 .3 .1 .4-.8 .3-.8 .3 1.9 .4 2.5 .3-1.5 .3-.8 .4-.9 .3 .2 .3 2.4 .3-3.1 .4 4.2 .3-2.4 .3 .4 .4-.9 .3 1.9 .3 0 .4-2.4 .3 3.7 .3-2.3 .3-2.4 .4 2.8 .3-.2 .3-.2 .4 1 .3 .4 .3-3.3 .4 1.5 .3 .1 .3 .2 .3-2.6 .4 3 .3-.3 .3 2.7 .4-3.9 .3 .5 .3 1.3 .4-.6 .3 1.3 .3 .5 .3-3 .4 1.4 .3 .8 .3-1.9 .4 4.2 .3-2.7 .3-.2 .4-2.4 .3 1.2 .3-1.8 .3 3.8 .4-2.1 .3 1.3 .3 .4 .4-.2 .3-.9 .3 1.7 .4-2.7 .3-1 .3 .5 .3 3.2 .4 1 .3-3 .3 .2 .4 1.4 .3-2.5 .3 1.2 .4-1.3 .3 2.1 .3-4.2 .3 2 .4-.3 .3 2.4 .3 .8 .4-.8 .3 3 .3-2.8 .4-1.4 .3 .7 .3 1.6 .3-.3 .4 2.5 .3-2.8 .3-1.6 .4-.2 .3 2.7 .3-5.1 .4 4.5 .3 .7 .3-1.8 .3 1 .4 1.5 .3 .3 .3-.2 .4-.5 .3-1.6 .3-1.5 .4-1.3 .3 5.6 .3-1.1 .3-3.3 .4 3.4 .3-2.2 .3-.1 .4-1 .3 4.7 .3-4.9 .4 .4 .3 2.6 .3 .2 .3-.5 .4-2.2 .3 1.2 .3-.9 .4 .5 .3 3.3 .3-2.2 .4 .7 .3-2.4 .3 .5 .3 1.5 .4 1 .3-1.9 .3 2.4 .4 1.2 .3-5.9 .3 2.5 .4 1 .3-1.3 .3 2.7 .3-2.2 .4 .3 .3-2.8 .3 3.7 .4-1.9 .3 1.1 .3-1 .4-.6 .3 .7 .3-1.6 .3 1.5 .4 1.9 .3-.2 .3-2.7 .4 2.5 .3-1.7 .3-.4 .4 1.7 .3 .2 .3-1.9 .3 2.2 .4-1.3 .3 3 .3-5.1 .4 1.7 .3 0 .3-.8 .4-.8 .3 3.7 .3-1.3 .3-2.4 .4 1.2 .3 .2 .3 1 .4-1.9 .3 3.5 .3-2 .4 2 .3-1.3 .3-1.1 .3 .1 .4 .8 .3-.3 .3 .1 .4 .7 .3 .7 .3-3.2 .4-.9 .3 1 .3 3 .3-2 .4-.6 .3 1.4 .3 .5 .4-2.6 .3 .2 .3 1.3 .4-.1 .3-.9 .3 4.2 .3-1.4 .4-2 .3 1.2 .3-2.7 .4 3 .3-1.5 .3-.8 .4-.9 .3 3.1 .3-1.1 .3-.9 .4 2.2 .3-1.8 .3 .7 .4-1 .3 1.2 .3-2.2 .4 1.1 .3 .6 .3-1.2 .3 .4 .4 1.7 .3-1.7 .3 2.2 .4-.9 .3-.6 .3-2.1 .4 4.2 .3-.1 .3-1.6 .3-.2 .4-.1 .3-.7 .3 .2 .4 .9 .3-2.6 .3 2 .4 .6 .3-3 .3 1.5 .3-1.3 .4 .2 .3 2.8 .3-2.5 .4 5.3 .3-3.9 .3-.9 .4 .7 .3 .4 .3 .4 .3 0 .4 0 .3 1.1 .3 .1 .4-1.5 .3 .4 .3-1.6 .4 .2 .3 .3 .3 2.4 .3-2.8 .4 1.2 .3-.1 .3 .9 .4-1.9 .3 .3 .3 2 .4-1.1 .3-1.1 .3 2.4 .3-1.5 .4-.9 .3 2 .3 1.2 .4-3 .3-.9 .3-1.9 .4 5.8 .3-3.3 .3 .4 .3-1 .4 1.1 .3-1.2 .3 3.5 .2-1.1 .1-1.7 .1-.9 0 2.4 .1-1.9 .1 2.9 .1-1.4 0-.4 .1-1.6 .1 2 .1-2.2 0 3.4 .1-4.3 .1 2.2 .1 3.8 .1-4 0 1.7 .1 .5 .1-1 .1-.7 0 1.6 .1 .1 .1-2.3 .1 3 0-.4 .1-3.2 .1 2.1 .1 .1 0-.6 .1-1 .1-.8 .1 2.3 .1-2.9 0 1.4 .1-1.8 .1 1.6 .1 1.2 0-2.1 .1 3 .1 .2 .1-.7 0 .3 .1 1.1 .1-1 .1-3.3 .1 2.1 0-.9 .1 1.1 .1-2.3 .1 2.4 0-.5 .1 1.1 .1-2 .1 .9 0-2.5 .1 2.7 .1 .1 .1-1.8 .1 1.9 0-1.9 .1 2.5 .1-1.8 .1 .5 0 2.9 .1-1.5 .1 1.3 .1-.7 0-1.5 .1 2.2 .1-1.7 .1-.4 0-.6 .1-1 .1 2.4 .1-1.1 .1 .9 0-.7 .1 1 .1-1.7 .1 1.2 0 1 .1 .4 .1-1.7 .1-1.3 0 3.3 .1-.3 .1-2.6 .1 2.7 .1-1 0-2 .1 1.4 .1-1.8 .1 1.1 .1 .4 .1 1.6 .1-3.5 0-2.1 .1 5 .1-1.3 .1 1.7 .1-.2 0 1.1 .1-4.9 .1 4.8 .1-2.2 0-.6 .1 2.8 .1-.4 .1-3.6 0 1 .1 2.8 .1-3.8 .1 2.4 0 .2 .1-1 .1-.4 .1 1.8 .1-1.4 0-1.1 .1 2.2 .1-2.9 .1 1.4 0 1.2 .1-2.5 .1 3.9 .1-1.5 0-.6 .1-1.3 .1 1.7 .1-.8 .1 1 0-1.3 .1 1.1 .1-2.4 .1-.1 0 1.1 .1-1.8 .1 2.4 .1 .4 0-2.4 .1 2 .1-.7 .1 0 .1 2.6 0-2.2 .1 .4 .1-.8 .1 .2 0 .5 .1 .2 .1-.4 .1 1.8 0-1.8 .1 .2 .1 2.5 .1-2 0 .8 .1-.2 .1-1.5 .1 2.3 .1-1.4 0-.1 .1-.1 .1 .4 .1 .6 0-4 .1 4.7 .1-4.6 .1 1.1 0 2.5 .1-1.1 .1 1.1 .1-2.5 .1 1.7 0 .7 .1-1.9 .1 .1 .1 1.2 0 .4 .1-4 .1 2.9 .1 .8 0 1.6 .1-3.5 .1 1.7 .1-1.7 .1 .2 0 .5 .1 3.1 .1-1.5 .1 .5 0-1.4 .1 1.6 .1-1.4 .1 .9 0-3 .1 .8 .1 2.1 .1 2.1 0-.4 .1-4 .1 1.1 .1-.1 .1 3.9 0-4.5 .1 1.3 .1 1.3 .1-.7 0-2.7 .1 4.5 .1-5.6 .1 3.2 0-1 .1-1.4 .1 1.5 .1-.1 .1-1.1 0 .9 .1 .4 .1 .5 .1-3.2 0 2.2 .1 .8 .1 1.4 .1 .1 0-4 .1 1.6 .1 1.2 .1 .7 .1 1.3 0-2.8 .1-1.3 .1 1.8 .1 .3 0-1.3 .1-.4 .1 2.1 .1-2.6 0 1 .1 1.2 .1-.2 .1-.2 0-1.4 .1-3.6 .1 3.7 .1 2.1 .1 .3 0 .9 .1-1.4 .1 1.2 .1-2 0 .6 .1 2.3 .1-3.8 .1 .2 0 2.4 .1-.5 .1-3.5 .1 4.1 .1-2.9 0 .1 .1 2.4 .1-.8 .1 .1 0 1.2 .1-.6 .1-4.9 .1 3.9 0 .6 .1-1 .1-.4 .1 .7 .1 0 0-.4 .1-.1 .1-1.4 .1 1.6 0-1.1 .1 2.1 .1-1.9 .1 .2 0-1.3 .1 1.4 .1 1.1 .1-2.4 0 3.2 .1-1.5 .1-.4 .1 1.3 .1-.6 0-3.1 .1 4 .1-.6 .1-.9 0-4.2 .1-1 .1 2.7 .1 3.6 0 .2 .1-1.2 .1-.2 .1-3.1 .1 3 0-1.2 .1 1 .1-1.2 .1 2.5 0-1.5 .1 .9 .1-.6 .1-1 0-1.1 .1 .4 .1 .4 .1 1.4 .1 2.6 0-2.2 .1-.7 .1 1.3 .1-2.8 0 2 .1-.1 .1-3.4 .1 3.4 0-1.3 .1 .7 .1-.3 .1 .5 0-1.2 .1 2.2 .1 .1 .1-2.7 .1 1.6 0-.6 .1 2 .1-2.8 .1 1.2 0-.5 .1-1.7 .1 3.4 .1-1.2 0-2 .1 2.7 .1 .2 .1-3.5 .1 1.7 .1 0 .1 .1 .1-.5 0-1.8 .1 2.4 .1-2 .1 1 0 1.5 .1 1.8 .1-.7 .1-2.9 .1 .6 0 2.2 .1-1.2 .1 .4 .1-2.4 0 1.9 .1 .1 .1 .9 .1 .4 0-3.3 .1 2.8 .1-2.4 .1 .4 0 1.8 .1-1.7 .1 .4 .1 1.4 .1 .7 0-2.1 .1-2.4 .1 1.5 .1-1.2 0 .2 .1 .9 .1-1 .1 .2 0-.2 .1-.2 .1-2.5 .1 2.1 .1 0 0 2.2 .1-1.1 .1-.9 .1-1.3 0 1.4 .1-2.8 .1 2.7 .1-2 .1 2.3 .1-1.7 .1-.4 .1-1.5 0 3.3 .1-5.4 .1 3.9 .1-.5 0 .3 .1-1.7 .1-.8 .1 3.6 0-1.8 .1 .4 .1-3.6 .1 3.3 0 .5 .1-1 .1-3.6 .1 .4 .1-2.1 0 3.8 .1 .6 .1-1.2 .1-1.3 0-.6 .1 2.1 .1-2.8 .1 3.6 0-1.9 .1 1 .1-2 .1-.8 .1 .8 0-1.8 .1 .4 .1-.2 .1-1.4 0 1.8 .1-2.4 .1-1.4 .1 1.7 0 .1 .1-.5 .1 0 .1-.2 .1 0 0-.5 .1-.4 .1-2.4 .1 2.3 0 .6 .1-2.1 .1-.9 .1 1.7 0-1.9 .1 .7 .1-.1 .1 .4 0 2.2 .1-4.2 .1-4.2 .1 3.8 .1-1.4 0 1.6 .1-.8 .1 .3 .1-1.6 0 1.1 .1-2.1 .1 1 .1-2.6 0 .1 .1 .6 .1 .5 .1-2.3 .1 .8 0 .6 .1-.4 .1-2.5 .1 3 0-2.6 .1 .5 .1 .8 .1-2.9 0-1.5 .1 3.2 .1-3.3 .1 1.4 .1-1.4 0 2.9 .1-2.1 .1 1.2 .1-1.7 0-1.2 .1 1.2 .1-2.4 .1 .2 0 1.5 .1-.4 .1-2.2 .1 .6 0-.2 .1-1.3 .1 2.3 .1-2.8 .1 1 0 .1 .1-.1 .1-3.5 .1 3.2 0-.9 .1 1.9 .1-3 .1 2.3 0-.4 .1-1.5 .1 1 .1 .3 .1-2 0-.5 .1 1.4 .1 1 .1-.2 0-.3 .1-.7 .1 .2 .1 1.4 0-.3 .1 1.2 .1-.9 .1-.4 .1-.5 0 .4 .1 1.8 .1-1.9 .1 .3 0 .6 .1 .4 .1 1.1 .1-1.3 0 2.4 .1-1.9 .1 .4 .1 .3 0 1.3 .1-.4 .1-.5 .1-1 .1-.1 0 1.8 .1 .3 .1-.2 .1 .8 0-1 .1 1.3 .1 1.5 .1-.6 0-.2 .1 .3 .1 1.2 .1-1.4 .1 .5 0-.3 .1-.7 .1 3.7 .1-.2 0-1.7 .1 3.3 .1-2.5 .1 1.7 0-1.2 .1 2.7 .1-.6 .1 .6 .1 .2 0 2.1 .1-4.9 .1 2.5 .1 1 0 .6 .1-.3 .1 .5 .1 1.4 0 .1 .1-1.4 .1 2.6 .1-1.1 0 .5 .1 2.4 .1-.3 .1-3.8 .1 3.6 0 .3 .1-.3 .1-.9 .1 3 0-2.4 .1 .9 .1-.6 .1 1 0-1.5 .1 3.6 .1-1.9 .1 1.2 .1-.3 0 2.5 .1 1.1 .1-1.7 .1-.1 0 .1 .1-1.3 .1 .3 .1 .8 0 1 .1-.8 .1 .8 .1 .7 .1 1 0-.6 .1-.6 .1 .9 .1-1.4 0 3.3 .1-.3 .1-.1 .1-2.6 0 1.9 .1 .8 .1-.4 .1 1.6 0-2.7 .1 2.8 .1 1 .1-1.9 .1 .1 0-.7 .1 2.4 .1-.7 .1 .4 0-.9 .1 1.8 .1-.4 .1-.1 0-.2 .1 1.1 .1-.8 .1-.2 .1 .4 .1-.7 .1 4.1 .1-.1 0-4.3 .1 1.4 .1-.1 .1 3.5 0-2.7 .1 1.3 .1-1.5 .1 .9 .1 1.6 0 1.8 .1-2.5 .1 1.8 .1 .4 0-.4 .1 .1 .1-2.5 .1 2.5 0-1.1 .1-2.8 .1 3.5 .1-.6 0-1.1 .1 2.1 .1-1.9 .1 .6 .1-.1 0 2.6 .1-2.6 .1 3.3 .1-1.5 0 1 .1-1.4 .1 0 .1 .2 0 .9 .1-.5 .1 .7 .1-2.5 .1 2.9 0 .6 .1-1 .1 0 .1-.2 0-1.3 .1-.6 .1 1.2 .1 .4 0-.4 .1 .9 .1-1.3 .1 .8 .1-1.2 0-.3 .1 3.6 .1-1.5 .1-.6 0-1.1 .1 1.9 .1 2 .1-3.4 0 .5 .1 1 .1-1.7 .1-1.4 0 3.6 .1-1.2 .1 1.7 .1-.1 .1-1.1 0-2 .1 3.7 .1-1 .1-.4 0-.1 .1 0 .1 .6 .1-2.2 0 1.8 .1-1.5 .1 .2 .1 1.1 .1-.6 0 .8 .1-.2 .1-.7 .1 1.7 0-.2 .1-1.1 .1-.5 .1 2.9 0-3.8 .1 2.7 .1-1.7 .1 2 .1-1.2 0 2.6 .1-1.7 .1-1.1 .1-.5 0 1.8 .1-.9 .1-2.1 .1 .6 0-.7 .1 4.5 .1-.3 .1-2 0 1.7 .1-1.7 .1 0 .1 .1 .1 1 0-1.6 .1 1.3 .1-.5 .1-2.5 0 .7 .1 2.9 .1-1.3 .1-.4 0 .6 .1-.3 .1 .3 .1 1.3 .1-1.8 0 1.1 .1 .9 .1-1 .1-3.1 0 4.5 .1-3.2 .1 .9 .1 1.4 0 1.8 .1-1.6 .1-.7 .1-.7 .1-.2 0-.6 .1 2.4 .1-1.2 .1 .3 0-1.9 .1 2 .1-2.4 .1 2.9 0 1.7 .1-3.6 .1-.3 .1 3.2 0-2.4 .1 2.4 .1-3.4 .1 2.2 .1 .9 0-.8 .1-1.7 .1-2.3 .1 3.4 0-.8 .1 1.1 .1 2.1 .1-4.2 0 1.6 .1 1.3 .1 1.8 .1-2.5 .1 1.4 0-2.7 .1 1.3 .1-.1 .1 .9 0-.9 .1-.1 .1 1.6 .1-1.3 0-.3 .1 .5 .1-.5 .1 1.5 .1-.5 0-1.9 .1 1.2 .1-2.3 .1 1.1 0 1.2 .1 1.7 .1-1.2 .1 .9 0-2.3 .1 2.7 .1-1 .1-1.4 0 .1 .1 .3 .1-1.6 .1-.1 .1 1 0 1.3 .1-.5 .1 2.4 .1-.8 0-1.9 .1 2 .1-2 .1 .3 0 1 .1 2.5 .1-3.4 .1 2.8 .1-2.8 0 1.8 .1 .1 .1-.7 .1 .1 0-1.2 .1-1.9 .1 2.2 .1 0 0 2.3 .1-2.2 .1 .3 .1 .3 .1-1.6 0 1.2 .1 1.1 .1-1.6 .1-1.3 0 1.6 .1 1.3 .1-1.5 .1-.5 0 1.7 .1-3.1 .1 2.1 .1-.1 0-1.1 .1 1 .1 1.5 .1-.1 .1-1 0 1.2 .1-.6 .1-2.4 .1 2.8 0-1.3 .1 .2 .1 .1 .1 1.7 0-2.5 .1 1.4 .1-.8 .1-.6 .1-1.4 0 3 .1-1.6 .1 .2 .1 .3 0-.6 .1-1.4 .1 4.2 .1-1.1 .1-.6 .1-.4 .1 .4 .1 .2 0 .1 .1 1.6 .1-3.5 .1-.5 0 1.2 .1 1.4 .1-.5 .1-2.7 0 3.2 .1 1.1 .1-2.2 .1 1.3 0-.7 .1-1.1 .1 2.4 .1-1.6 .1-1.7 0 3 .1-3.9 .1 5.2 .1-5.5 0 1.9 .1-1.5 .1 3.2 .1 1 0-3.5 .1 2.3 .1-2.2 .1-.7 .1 2.5 0 1.4 .1-1.5 .1 .1 .1 1.1 0-.7 .1 .7 .1 .1 .1-.6 0 .1 .1 .2 .1-1 .1-.2 .1-.5 0 1.9 .1-1.7 .1 2.1 .1 .3 0-1.7 .1 .1 .1 1.9 .1-1.6 0 2.3 .1-4.1 .1-.4 .1 2.2 .1-.7 .1-1.5 .1 2 .1-.6 0 1.3 .1-.4 .1-1.3 .1 .5 0 1.5 .1-1.3 .1-.7 .1 .4 0 2.8 .1 .6 .1-2.2 .1 .3 .1-.3 0-.2 .1-3.1 .1 5.6 .1-3.2 0 .8 .1 .2 .1-1.8 .1-.8 0 2.6 .1-.3 .1 .4 .1 1.3 .1-3.5 0 .5 .1 1.4 .1 .9 .1 .2 0-2.7 .1 .7 .1-.3 .1-.4 0 1.6 .1-2.1 .1 2.4 .1-1.8 0 3.5 .1-3.1 .1 1.9 .1 .2 .1-2 0 1.2 .1-.1 .1-1.4 .1 .6 0 3.1 .1-2.2 .1 .2 .1-3.1 0-.2 .1 3.2 .1-1.1 .1-1.4 .1 .7 0 .2 .1-1.6 .1 3.5 .1-3.7 0 5.3 .1-5 .1 1.4 .1 1.9 .4-.5 .3 .9 .3-2.2 .3-1.6 .4 3.8 .3-2.2 .3 1.4 .4 1.4 .3 .5 .3-4.9 .4 3.3 .3-2.5 .3 1 .3-.4 .4 3.4 .3-1.8 .3-1.4 .4 2.4 .3-2.4 .3 3 .4-2.4 .3 1.4 .3 .9 .3-2.9 .4 2.4 .3-.4 .3-.1 .4-1.8 .3 1.7 .3-1.1 .4 1.4 .3-3.1 .3 2.4 .3-.9 .4-.5 .3 3.2 .3-3 .4 .7 .3 1.4 .3-1.9 .4 2.6 .3-2.6 .3-.1 .3 .7 .4 .1 .3 2.7 .3-.9 .4-1.6 .3 1.5 .3-2.3 .4 1.8 .3-.7 .3-.6 .3 2.5 .4-1.2 .3-.2 .3-2.3 .4 1.7 .3 .7 .3-3.2 .4 3.9 .3-1.3 .3 .3 .3-1.4 .4-1.2 .3 2 .3 0 .4 .3 .3 2.8 .3-2.9 .4 2.9 .3-3.1 .3 1.9 .3-2 .4 .3 .3 2.7 .3-1.4 .4-2.6 .3 2.9 .3 .3 .4-.8 .3-1.5 .3 .6 .3 1 .4-.4 .3-.1 .3-1.6 .4 3.8 .3-1.3 .3-2.2 .4-.7 .3 3 .3-1.2 .3-2.6 .4 3 .3 .1 .3-1.4 .4 0 .3 2.1 .3-2.4 .4-.2 .3-1 .3 2.7 .3 1.7 .4-1.6 .3-2 .3 2.2 .4 .8 .3-1.9 .3 1.3 .4-.6 .3 2.9 .3-3.8 .3-1.2 .4 2 .3 1.8 .3-1.4 .4 1.4 .3-1.1 .3 1.2 .4-1.8 .3-.7 .3-.2 .3 .5 .4 1 .3 .9 .3-2 .4 2.4 .3-2.2 .3 2 .4-2.2 .3 .7 .3 1 .3-1 .4 4.1 .3-3.3 .3 .5 .4-2.3 .3 .9 .3 2 .4-.2 .3-.8 .3-.1 .3-1.3 .4 1.1 .3-1 .3-.8 .4 1.3 .3 2.4 .3-2.4 .4 1 .3-1.7 .3 .8 .3 1.7 .4-1.1 .3-.7 .3 2 .4-1.4 .3 .9 .3 1.6 .4 .2 .3-4.1 .3 1.7 .3-1.6 .4 1.2 .3 .6 .3-1.2 .4 2.3 .3-1.7 .3-2 .4 2.2 .3-1.8 .3 1 .3-.4 .4 1.1 .3-2.2 .3 1.5 .4 .9 .3-1.1 .3-1.2 .4 2.6 .3-.7 .3-1.2 .3-.3 .4 1.2 .3 1.2 .3-2.2 .4 .9 .3 2.4 .3-1.9 .4 .4 .3-.3 .3 1.8 .3-2.9 .4 1.2 .3 .1 .3 .7 .4-1.1 .3-2.5 .3 1.6 .4 1.2 .3 1.7 .3-2.9 .3 3 .4-2.1 .3 1.1 .3-.3 .4-1.6 .3 1.5 .3-.9 .4 2.2 .3 .1 .3-1.2 .3-.1 .4 0 .3 1.3 .3-1.3 .4-1.7 .3 1.9 .3 3.4 .4-5.1 .3 2.2 .3-.7 .3 1.4 .4 0 .3-1.9 .3 1.4 .4-2.4 .3 1.8 .3-2.3 .4 3.1 .3-1.9 .3 1.3 .3-1.4 .4 1.7 .3-.9 .3-.9 .4 1.3 .3-.4 .3-.8 .4 .2 .3 1.1 .3-1.5 .3 1.6 .4 .1 .3-1 .3 1 .4-1.8 .3 1.4 .3-.8 .4 1.7 .3-.2 .3 1.9 .3-3.3 .4 1.5 .3-1.2 .3 1.2 .4 1.6 .3-1 .3-1.3 .4 0 .3-1.5 .3-.4 .3 1.9 .4-.9 .3 1.7 .3-1.3 .4 1.6 .3-1.9 .3-.1 .4 2.9 .3-2.8 .3 .8 .3 .2 .4 .4 .3-3.3 .3 3.3 .4-1.8 .3-.8 .3 3 .4-2.4 .3 2.3 .3 .6 .3-1.7 .4 .1 .3-1.9 .3 1.2 .4 3.1 .3-1.5 .3 .2 .4 .1 .3-.3 .3 .1 .3 .1 .4-2.7 .3 0 .3 1.3 .4 1.2 .3-2.3 .3 2.4 .4-1.9 .3 3.3 .3-1.1 .3 1.7 .4-1.3 .3-3.2 .3 1.7 .4 .8 .3-.1 .3-1.2 .4-1.2 .3 .6 .3 .7 .3 .3 .4-.6 .3 .1 .3 .4 .4 .9 .3-1.7 .3 1 .4 1 .3-1.8 .3 .4 .3-1.3 .4 1.5 .3 0 .3 1.1 .3-.8 .1-1.5 0 1.7 .1-1.5 .1 .5 .1 0 0 3.2 .1-.7 .1-3.5 .1 2.3 0 .8 .1-.3 .1-1 .1 .1 .1-.2 0 .1 .1-.3 .1-1 .1 2.3 0-1.5 .1 3 .1-2.1 .1 0 0 1 .1-.7 .1-.3 .1-1.6 .1-.2 .1 2.8 .1-1.9 .1 .7 0 .2 .1-1.3 .1 1 .1-.5 0-.6 .1 .6 .1-.8 .1 1.1 0-.1 .1 .4 .1 1.7 .1-2 .1 1.7 0-.1 .1-2 .1-.3 .1 .2 0 1.5 .1-.6 .1 .3 .1 .2 0-.1 .1 .9 .1-3.6 .1 1.9 .1-1.3 0 3.1 .1-1.5 .1 .2 .1-1.5 0 1.4 .1 .7 .1-1.1 .1 .7 0-.1 .1-1.7 .1 1.6 .1-.5 0-.6 .1 2.5 .1-.7 .1-.9 .1-.4 0 1.6 .1-2.2 .1 1.7 .1 .8 0-3.1 .1 1.5 .1-1.8 .1 5.2 0-3.6 .1 .8 .1 1.2 .1-2.7 .1 1.5 0-1.6 .1 3.2 .1-2.2 .1 .6 0-.4 .1 2.4 .1-2.1 .1-.7 0-.6 .1 1.4 .1-1.8 .1 1.6 .1-.6 0 .3 .1-1.1 .1 .4 .1-.4 0 1.1 .1 1.8 .1-.8 .1 0 0 1 .1-4.2 .1 3.8 .1-2.8 0 2.5 .1-1.4 .1 .8 .1-3.9 .1 2 0 1.1 .1 1 .1-2 .1-2 0 1.7 .1 .3 .1 1.8 .1-2.3 0 2.7 .1-1.2 .1 0 .1 .4 .1 .6 0-.6 .1-.8 .1 0 .1 .4 .1-.8 .1 1.1 .1-.4 0 .2 .1-.2 .1-1.8 .1 1.1 .1 .5 0-.5 .1 .7 .1 .6 .1 1.8 0-.8 .1-2.4 .1 .6 .1-.2 0-.4 .1-.2 .1 .5 .1 .9 0 1 .1 1.2 .1-1.2 .1-2.2 .1 .5 0 1.2 .1 0 .1 .3 .1-3.1 0 2.6 .1-1 .1 1.4 .1-1.9 0 1.4 .1-1.5 .1 2.2 .1-1.5 .1 2.5 0-4.3 .1 .3 .1 3 .1-1 0-.3 .1-.7 .1 1.1 .1 .2 0-.7 .1 .8 .1 1.6 .1-1.9 .1 1.3 0-2.1 .1-.2 .1-.4 .1-.5 0 .4 .1 .3 .1 1.2 .1-2.3 0 3.3 .1-3.4 .1 2.6 .1-.3 0-.1 .1-.8 .1 1.1 .1-3.3 .1 4.6 0-1.4 .1 0 .1-.6 .1-1.3 0 .7 .1-1.1 .1 1.4 .1 .8 0-2.5 .1 3.1 .1-1.3 .1-.3 .1 1.2 0-1.1 .1 .1 .1 .2 .1-1 0 .8 .1-1.6 .1 1.9 .1 1.9 0-1.8 .1 .3 .1 0 .1-1.9 .1 .7 0 .6 .1-.1 .1-1 .1 .6 0 .3 .1 .4 .1-2.2 .1 2.4 0-.1 .1-1.1 .1-1.9 .1 2.3 0-1.5 .1 2.6 .1-2 .1 2.3 .1 1.2 0-1.2 .1-.9 .1-1.3 .1 .9 0 .1 .1-1.2 .1-1.8 .1 2.5 0 1 .1-.4 .1-.6 .1-.6 .1 1.1 0 1.2 .1-4.8 .1 5.2 .1-2.3 0 .3 .1 0 .1-1.3 .1 2.7 0-3.5 .1 2.8 .1-2.9 .1 3.4 .1-2.1 0 1.7 .1 .1 .1 .7 .1-1.6 0 .7 .1 .3 .1-1.7 .1 .4 0 2.8 .1-5 .1 4.2 .1-1.8 0-.5 .1-1.3 .1 1.8 .1 1 .1-1.2 0 2 .1-2.8 .1 .4 .1 .4 0-.6 .1 .7 .1-1 .1-.5 0 .7 .1 1.2 .1 .3 .1-2 .1 2.4 0-1.3 .1-.2 .1-1 .1 1.1 0-.6 .1-.5 .1 1.8 .1-.1 0-.8 .1 1.2 .1-.2 .1-.4 .1-.5 0-1.1 .1 .8 .1 .8 .1-.7 0-.1 .1 .2 .1 .7 .1-2 0 1.8 .1 .9 .1-3.5 .1 .3 0 1.4 .1 1.5 .1-.1 .1-.8 .1-.1 0-.6 .1 0 .1 1.2 .1-2.6 0 .7 .1 .9 .1 1.1 .1-2.8 0 .7 .1 .6 .1 .4 .1 1.1 .1-1.1 0-1.6 .1-.6 .1-.4 .1-.3 0 1.5 .1 2.3 .1-2.1 .1-.8 0 .6 .1-.6 .1 2.2 .1-1.3 .1-1.4 0 1.1 .1 .1 .1-1.5 .1-.5 0 1.2 .1-2.8 .1 1.2 .1 1.7 0 .4 .1 1 .1-1.5 .1-.5 0-.6 .1-.1 .1 1.5 .1-.7 .1 .6 0-1.8 .1 1.5 .1-2.5 .1-.6 0 3 .1-.3 .1 .1 .1-1.8 0 1.2 .1-.6 .1-1.8 .1 1.8 .1-2.3 0 2 .1 0 .1-1.7 .1 1.8 0-2 .1-.2 .1 1.7 .1-.8 0-1.7 .1 4.9 .1-2.9 .1-.2 .1-.7 0-.8 .1 .5 .1-.3 .1-.5 0-.2 .1 1.3 .1-1.8 .1 2.3 0-.6 .1-1.5 .1 .2 .1-1 0 .7 .1 .1 .1-.2 .1-.1 .1 .1 0 .2 .1-1.6 .1 .6 .1-1.5 0-1.7 .1 1.5 .1-.1 .1-.2 0 2 .1-1.7 .1 1.6 .1-2.2 .1-.4 0 .7 .1 1.9 .1-3.6 .1 1.5 0 .6 .1-.1 .1-1.9 .1 1 0-.4 .1 1.5 .1-2 .1-.7 .1-.7 0 1 .1-2.3 .1-.8 .1 1.2 0 1.9 .1-1 .1-.8 .1 2.5 0-2.2 .1 .7 .1-1 .1-1.2 0 1 .1-1.2 .1-1.6 .1 1.2 .1-1.4 0 2.1 .1-.6 .1-1.2 .1-1.1 0 .7 .1 1.5 .1-.5 .1 .1 0-2.1 .1 2.6 .1-.6 .1-1.2 .1-.6 0 1.8 .1-2.2 .1 1.1 .1-2.3 0 2.3 .1 .2 .1-2.1 .1-1.1 0-.5 .1 1.4 .1-.2 .1 .4 .1-1.5 0 .1 .1 1.4 .1-1.2 .1 .3 0 1.3 .1-3.4 .1 3.4 .1-1.8 0-.6 .1-.4 .1 1.7 .1-2.2 0 2.3 .1-1.1 .1-1.4 .1 .7 .1 1.4 0-2.3 .1 .6 .1 .3 .1-2.2 0 2 .1-1.2 .1-1 .1 1.4 0 .3 .1 .3 .1 0 .1-2.5 .1 1.2 0 .6 .1 1.5 .1 .1 .1-.7 0-.2 .1 .1 .1-1.6 .1 0 0 .1 .1 2.6 .1-1.3 .1 1.6 .1-1 0-1.2 .1-.5 .1-.2 .1 2 0 .5 .1-2.4 .1 1.4 .1-2.2 0 3.9 .1-.4 .1-2.1 .1 2.4 0-3.4 .1 2.6 .1 1.7 .1-2.2 .1 .9 0-1.6 .1-.3 .1 1.4 .1-1.9 0 2.6 .1 .3 .1-1.2 .1 .7 0 .8 .1-1.1 .1-1.8 .1 2.9 .1-.3 0 .3 .1 .5 .1 .6 .1-.7 0 .3 .1-1.4 .1 1.8 .1 .1 0 1.4 .1-1.4 .1-.8 .1 1.4 .1-1 0 1.8 .1-1.8 .1 2.1 .1-1.7 0 1.5 .1-.5 .1 1.3 .1-.9 0 2.1 .1-1.4 .1 2.1 .1-1.9 0-.6 .1-.8 .1 1.5 .1 2.1 .1-.2 0-1.3 .1-.1 .1-.3 .1-1.2 0 2.2 .1 .4 .1-2.7 .1 3 0 1.1 .1-1.2 .1-.5 .1-.2 .1 2.2 0-2.2 .1 1.6 .1 1.4 .1-.1 0-1.3 .1 3.1 .1-1 .1-1.2 0 1.7 .1-1.6 .1 .5 .1 0 .1 .5 0-.2 .1 .5 .1-.5 .1-.9 0 3.5 .1-.4 .1-1.7 .1 1.8 0-2.8 .1 1.3 .1 .5 .1 3.1 0-1.5 .1-2.5 .1 3.2 .1-1.5 .1-.8 0 1 .1 .7 .1 0 .1 .7 0-2 .1 .1 .1 0 .1 1.9 0-1.6 .1-1.3 .1 1.3 .1 2.1 .1 1.6 0-2 .1 .7 .1-3.4 .1 2.6 0 1 .1-2.2 .1 1.1 .1-.2 0 .7 .1 .6 .1 1.7 .1 0 .1-.6 0 1.2 .1-.1 .1-1.3 .1 1.6 0-2 .1 .3 .1 .2 .1 2.4 0 .4 .1-2 .1-.5 .1 2.8 0-3.3 .1 2.7 .1 .1 .1-2.1 .1 2 0-1.9 .1 1.4 .1-.7 .1 1 0-.9 .1-.4 .1 1.3 .1 .6 0-.2 .1-1.6 .1 3.1 .1-2.1 .1 1.1 0-2.2 .1 1.8 .1-.8 .1 .7 0 1.2 .1-1.2 .1 .2 .1 1.2 0-.1 .1-1.5 .1 .4 .1 .2 .1-.4 0 .3 .1 1.4 .1-1.6 .1 1.4 0-1.4 .1-1 .1 2.2 .1 .3 0 .2 .1-.1 .1 0 .1-2.3 0 1.9 .1 1.2 .1-.1 .1-1.2 .1 .8 0 .5 .1-.9 .1 .5 .1 .7 0-.4 .1-.8 .1-1.3 .1 1 0 2.3 .1-1.3 .1 1.4 .1-1.6 .1 2.1 0-3 .1-1.2 .1 3 .1-.8 0 .9 .1 2 .1-2.3 .1 .5 0-3.4 .1 2.9 .1-.9 .1 .6 .1 1.5 0-.1 .1-2.5 .1 1.5 .1 1.6 0-.4 .1 1.8 .1-4.3 .1 1.8 0-2 .1 3.5 .1-.8 .1 .8 0-1.9 .1 1.8 .1-3.8 .1 2.6 .1-1.5 0 .5 .1-.5 .1 1.4 .1-.4 0-1 .1 .5 .1 2.4 .1-1.9 0 1.3 .1-2.5 .1 2 .1 1.9 .1-3 0 2.3 .1-3 .1 .7 .1 .1 0 2 .1-2 .1 .9 .1 0 0 .6 .1-.1 .1 .1 .1-1.6 .1 1.4 0-1.6 .1 2.2 .1 1.4 .1-1.6 0-1.7 .1 1.2 .1 1.5 .1-2.3 0 .1 .1-1.9 .1 2.6 .1 .1 0 .4 .1-.5 .1-1 .1 .3 .1 1.6 0-2.3 .1 2.1 .1 .3 .1-1.6 0-.6 .1 2.3 .1-2.3 .1 1.4 0-.3 .1 2.2 .1-4 .1 2 .1-.3 0-1.9 .1 3 .1-.3 .1 .7 0-1.3 .1-.4 .1-2.9 .1 2.9 0 1.1 .1-.3 .1 .5 .1-.1 .1-.9 0 1 .1 .3 .1 .7 .1-.7 0-2.8 .1 1.4 .1-.4 .1 .3 .1-.3 .1 1 .1-1.3 0 1.9 .1-1.5 .1 1.1 .1 1.3 .1-2.6 0-.2 .1 1.3 .1-1.1 .1 2.1 0-2.1 .1-.7 .1-.5 .1 2.5 0-.6 .1 .6 .1-1.2 .1 1.9 .1-.7 .1-1 .1 1.4 .1 .2 0-1.1 .1-.5 .1-1.2 .1 1.8 0 .3 .1-2.8 .1 3.5 .1-1.1 .1 .5 0-.6 .1 .5 .1-1.5 .1 1.7 0 1 .1-1.5 .1 1 .1 .1 0-1.2 .1 .6 .1 .5 .1 .4 0-1.4 .1 0 .1 .6 .1 .8 .1-2.8 0 1.2 .1-.2 .1 .1 .1 .2 0 3.4 .1-1.6 .1-1.9 .1-.8 0 1 .1 1.4 .1-1.2 .1 3 .1-3.4 0 .4 .1-.8 .1 .4 .1-.1 0 .1 .1-.6 .1 1 .1 1.6 0-1.4 .1 .5 .1-1.3 .1 .8 .1 2.1 0-2.1 .1-.1 .1-.1 .1 2 0-2 .1-.8 .1 .2 .1-.5 0 1.2 .1 .2 .1 .2 .1-.7 0 1.7 .1-3.7 .1 .5 .1 2.7 .1-1.5 0 1.8 .1-1.7 .1 .7 .1-1.1 0 1.9 .1-2.7 .1 .3 .1 3.2 .1-2.5 .1-.6 .1 1.4 .1-1.7 0 1.8 .1-1.5 .1 3 .1-4.3 0 3.3 .1-1.8 .1 1.1 .1-1.1 0 1.7 .1 1.8 .1-2.2 .1-2.1 .1 2.7 0-2.5 .1 1.5 .1-.6 .1 1.5 0-1 .1 .1 .1-1.3 .1 .8 0 1 .1-.5 .1-1.1 .1 .7 0 2.3 .1-.9 .1-1.8 .1 .3 .1 1.1 0-2.1 .1 2.1 .1-.4 .1-.9 0 .5 .1 .1 .1 1.2 .1 1.1 0-.1 .1-2.5 .1-.4 .1 1.1 .1 2 0-2.5 .1 3.1 .1-2.4 .1 .3 0 .2 .1-1.2 .1 2.8 .1-2 0-1 .1 0 .1 .7 .1-.6 .1 1.4 0-2 .1 1.4 .1 .3 .1-1 0 .5 .1-1.6 .1 .9 .1 .5 0 .1 .1-.8 .1 1.2 .1 1.3 0 .1 .1-2.1 .1-.3 .1 1.4 .1-1.5 0 .9 .1 1.2 .1-1.8 .1 1 0-1.1 .1 2.5 .1-2.3 .1-1.5 0 3.2 .1-1.4 .1-.6 .1 1.1 .1-.9 0-.4 .1 .9 .1-.7 .1 1.2 0 1 .1-.5 .1-4 .1 3.3 0-1.1 .4 1.5 .3-.5 .3-.4 .3-1.2 .4 1.6 .3-.7 .3-.8 .4 2.5 .3-.6 .3-2.6 .4 1.7 .3 .5 .3-1.8 .3 .8 .4 .5 .3-.4 .3 2.2 .4-1.5 .3-1.3 .3-.8 .4 1.6 .3 .6 .3-1 .3 .6 .4-1.3 .3-.7 .3 1.5 .4-3.6 .3 3.2 .3-.5 .4-2.2 .3 1 .3 2 .3-2 .4-.3 .3 1 .3-.7 .4-.4 .3 1.3 .3 .6 .4-3.5 .3 1.2 .3-1.2 .3 .9 .4-.6 .3 1.1 .3-2.4 .4-.6 .3 1.1 .3-1.2 .4 1.3 .3 .4 .3-2.5 .3 2.6 .4-1.3 .3-.3 .3-.5 .4 1.4 .3-3.8 .3 1 .4 .8 .3 .9 .3-1.4 .3 1.4 .4-2 .3 2.8 .3-2.6 .4-1.4 .3-1.6 .3 2.1 .4 1.3 .3 .3 .3-.4 .3-.1 .4-1.2 .3 4 .3-1.5 .4 .5 .3-.4 .3-.8 .4 3.1 .3-1 .3-.9 .3 .5 .4-1.1 .3 1.7 .3 .6 .4-2.2 .3 1.9 .3 0 .4 1.1 .3-1.1 .3 1.3 .3 1 .4-.3 .3 .6 .3-1 .4 1.3 .3 1.7 .3-1.9 .4 1.3 .3-.8 .3 1.4 .3-.5 .4-2.4 .3 1.4 .3 .9 .4 2.2 .3-3 .3 .4 .4 1 .3-.5 .3-1.5 .3 4.3 .4-3.7 .3 1.7 .3 1.4 .4-1.4 .3 2.5 .3-2 .4 .4 .3-.8 .3 1.1 .3-.5 .4 .6 .3-1.2 .3-.2 .4 1.5 .3-.5 .3 .8 .4 1.2 .3-.3 .3-.8 .3-.5 .4 .3 .3-.2 .3 .3 .4-1.3 .3 1.7 .3 .5 .4-.2 .3-.8 .3 .9 .3-1.5 .4 1.1 .3-.7 .3 1 .4-1.1 .3 1.5 .3-2.2 .4 .3 .3 2.3 .3 .2 .3 .2 .4-1.5 .3-.1 .3 .5 .4-1.6 .3-.1 .3 1.1 .4 .3 .3 .8 .3-2.1 .3 1.3 .4-.5 .3 .1 .3 1.1 .4 .7 .3-1 .3 1.4 .4-.1 .3-.8 .3-1 .3 1.2 .4-.5 .3 .9 .3-.6 .4 .1 .3 .6 .3-1.4 .4 1.9 .3 .1 .3-1.3 .3 .8 .4-.8 .3-.6 .3 .2 .4 .9 .3-.6 .3-1.3 .4-1.8 .3 3.7 .3 .4 .3-.3 .4 .3 .3-2.2 .3 1.7 .4-.4 .3-3.1 .3 1.7 .4 1.3 .3-.6 .3 2 .3-2.9 .4 .3 .3 1.3 .3-1.5 .4-.7 .3 1.7 .3 1.6 .4-.7 .3 .1 .3-1.4 .3 1.6 .4-1 .3-.2 .3-1.2 .4 2 .3-1.6 .3 1.6 .4-.7 .3 .5 .3-2.7 .3 3.1 .4-1.6 .3 1.9 .3-2 .4 .9 .3-1 .3 .4 .4 .5 .3-.6 .3 1.8 .3-.8 .4 1.3 .3 0 .3-.2 .4-.7 .3-1.1 .3 .8 .4-.4 .3-.7 .3-1 .3 3.2 .4-.6 .3 1.4 .3-3.2 .4 .4 .3 1.1 .3-.1 .4-.6 .3 1.7 .3-.7 .3-1.2 .4 3 .3-.8 .3 .3 .4-2.1 .3 2.3 .3-3.9 .4 2.2 .3-.7 .3 1.2 .3 0 .4-2.2 .3 .2 .3 2.7 .4-1.5 .3-1.4 .3 2.5 .4 1 .3-1.6 .3 .2 .3 .3 .4-1.9 .3 1.2 .3 1.2 .4-1.3 .3 .8 .3-1.4 .4-.1 .3 .2 .3 .9 .3 1 .4-1.9 .3 3.3 .3-4.1 .4 .6 .3 .9 .3-.2 .4 .6 .3 1.1 .3 .3 .3-3 .4 .3 .3 .6 .3 .1 .4 1.5 .3-3.1 .3 .7 .4 1.7 .3-1.4 .3 .9 .3 1.6 .4-.7 .3-.9 .3-.1 .4 1.4 .3-1.6 .3 .6 .4-.8 .3 3.2 .3-4.1 .3 2.8 .4-.7 .3 1.3 .3-1.1 .4-1.2 .3 .5 .3 .1 .4-1.2 .3 .6 .3 .3 .3-.1 .4 0 .3-1.2 .3 2.9 .4-2.9 .3 2.5 .3-.1 .4-1.5 .3-.2 .3 .9 .3-1.4 .4 .3 .3 1.3 .3-.4 .4 .6 .3 1 .3-1.9 .4 .4 .3-.7 .3-.2 .3 .3 .4 1.6 .3-.7 .3-.7 .4 .3 .3 .3 .3-.1 .4 1.4 .3 .1 .3-1.4 .3-.6 .4 .6 .3 1.4 .3-.1 .4-1 .3 .8 .3-.3 .4 1.1 .3-.2 .3-2.3 .3-.3 .4-1 .3 2.1 .3-.2 .4 1.2 .3-2 .3-.4 .4 .9 .3 .6 .3 .5 .3-1.9 .4 1.3 .3-1.8 .3 .8 .4-.2 .3 2.4 .3-.6 .4 .9 .3-3.1 .3 2.5 .3-1 .4-.1 .3-.1 .3 0 .4-1.9 .3 1.8 .3-.7 .4 1.2 .3 .2 .3-.7 .3 0 .4 .5 .3-1.3 .3 2.5 .4-.9 .3-.8 .3-.3 .4 1.4 .3-.7 .3 1.3 .3-.7 .4-.3 .3 .2 .3 .7 .4-.7 .3 .4 .3-.7 .4-.7 .3 .8 .3-.7 .3-1 .4 1.9 .3 1.3 .3-.7 .4-1.1 .3 .9 .3-1.7 .4 .6 .3-1.1 .3 .9 .3 1.4 .4-2 .3 .4 .3-1.8 .4 1.3 .3 .8 .3 2 .4-2 .3 2.7 .3-2.8 .3-.1 .4 1.5 .3 .5 .3-1.4 .4-1.1 .3 3 .3-2.2 .4 .4 .3-.5 .3 1.1 .3-1.7 .4 1.8 .3-.6 .3-.1 .4-.5 .3-.1 .3 0 .4 1 .3 .9 .3-1.8 .3-.7 .4 1 .3 .8 .3-.4 .4 0 .3-.4 .3 1.3 .4-.6 .3 .3 .3 .3 .3-.8 .4 1.5 .3-1.9 .3 .3 .4-.2 .3 .9 .3-.2 .4-1.2 .3 1.3 .3-1.4 .3 0 .4 .7 .3-.4 .3 .1 .4 .7 .3 .4 .3-1 .4 .5 .3 0 .3-1.7 .3 1.9 .4-2.7 .3 1.5 .3 .4 .4 .2 .3-.2 .3-.5 .4 2.3 .3-2.4 .3 2.7 .3-3.9 .4 2.9 .3 .4 .3-2 .4 .1 .3 .2 .3-.4 .4 1.5 .3-.4 .3-1.6 .3 2 .4 .3 .3-.9 .3 .7 .4-2.7 .3 2.2 .3 1 .4-2.4 .3 1.7 .3-1.6 .3 .4 .4-.1 .3 .6 .3 .9 .4-.6 .3 1.1 .3-.7 .4 0 .3 0 .3-.9 .3 1.3 .4-.4 .3-.7 .3-.4 .4 1.3 .3-.6 .3 1 .4-.4 .3-.9 .3 1.1 .3-.6 .4 1 .3-1.1 .3 .4 .4-.2 .3-.4 .3 .1 .4-1 .3 1.2 .3 0 .3-.5 .4 1.1 .3-2.1 .3 .5 .4 1.6 .3-1.9 .3 .3 .4 1.2 .3 0 .3-.9 .3-.1 .4-.8 .3 1.2 .3 .2 .4-.4 .3 1.8 .3-1.4 .4-.9 .3 .6 .3 2.3 .3-1.2 .4-.9 .3-1.3 .3 1.5 .4-1.1 .3 1.3 .3 1.4 .4-1.4 .3-.2 .3 1.5 .3-1.7 .4 2.5 .3-1.9 .3 1.4 .4-.8 .3-1 .3 1.5 .4 1.2 .3-.9 .3-.2 .3-.7 .4 0 .3-3.7 .3 2.6 .4 .7 .3 .8 .3-.3 .4-1.5 .3 .5 .3-.5 .3 .5 .4 .2 .3 .5 .3-1.3 .4 1.7 .3-1.3 .3-.1 .4 1.5 .3-1.9 .3 .1 .3 1.2 .4 0 .3-.6 .3 .1 .4 1.5 .3-.2 .3-1.6 .4 .8 .3 .7 .3-1.7 .3 .8 .4-.5 .3 1.5 .3-1.2 .4-.3 .3 2.2 .3-3.2 .4 1.1 .3 .3 .3 .4 .3 .4 .4-1.9 .3 .9 .3 .9 .4-1.1 .3 0 .3 2.2 .4-2.3 .3 1.8 .3-1.2 .3 .2 .4-.7 .3 1.1"/>
<path fill="none" stroke="#000" stroke-width="4.00" stroke-linejoin="round" stroke-linecap="round" d="M149.8 1719l.5 0 .5 .3 .5 .4 .5 .2 .5-.2 .5-.1 .5 .1 .5 .2 .5 .1 .5-.2 .5-.3 .5 0 .5 .1 .5-.2 .5-.3 .5-.2 .5-.1 .5 .1 .5 .2 .5 .2 .5 .2 .5 .1 .5 .1 .5 0 .5-.2 .5-.3 .5-.2 .5 0 .5 0 .5 .1 .5 .2 .5 0 .5-.1 .5-.1 .5-.2 .5 0 .5 .1 .5 .3 .5 .3 .5 .2 .5-.1 .5-.3 .5-.1 .5 0 .5 0 .5-.1 .5 0 .5 .1 .5 .3 .5 .2 .5-.1 .5-.1 .5-.1 .5 .1 .5 .4 .5 .6 .5 .5 .5 .2 .5-.1 .5-.3 .5-.4 .5-.2 .5 0 .5 0 .5-.1 .5 0 .5 0 .5-.1 .5 0 .5-.1 .5 0 .5-.1 .5-.1 .5-.2 .5-.2 .5-.2 .5 .2 .5 .2 .5 0 .5-.1 .5-.1 .5 0 .5 0 .5 .1 .5 0 .5 .1 .5 .1 .5 .2 .5 .2 .5 .1 .5 0 .5-.4 .5-.4 .5-.2 .5 .3 .5 .3 .5 .1 .5 0 .5-.1 .5-.1 .5 .2 .5 .2 .5 .3 .5 .3 .5 .1 .5 0 .5-.2 .5 0 .5 0 .5-.1 .5-.1 .5-.2 .5-.2 .5-.2 .5 .2 .5 .3 .5 .3 .5 .2 .5 .1 .5-.1 .5-.3 .5-.3 .5-.3 .5-.1 .5 .1 .5 .2 .5 .2 .5 .2 .5 .2 .5 .2 .5 .2 .5 .1 .5 .1 .5 .1 .5 .1 .5-.2 .5-.3 .5-.3 .5-.1 .5 .1 .5 .3 .5 .2 .5 0 .5-.2 .5 0 .5 .1 .5 0 .5-.1 .5-.3 .5-.3 .5-.3 .5 .1 .5 .2 .5 .2 .5 0 .5-.2 .5-.1 .5 0 .5 .2 .5 .3 .5 .1 .5-.1 .5-.4 .5-.2 .5-.1 .5 0 .5 .1 .5 .4 .5 .4 .5 .2 .5 0 .5-.2 .5-.3 .5-.4 .5-.1 .5 .3 .5 .2 .5 .2 .5 .2 .5 .4 .5 .3 .5 0 .5-.3 .5-.2 .5-.1 .5-.2 .5-.1 .5 .1 .5 .3 .5 0 .5-.1 .5-.1 .5 .2 .5 .2 .5-.1 .5-.3 .5-.4 .5-.1 .5 0 .5-.2 .5-.2 .5 .2 .5 .4 .5 .3 .5 .1 .5 .1 .5 0 .5 0 .5 .3 .5 .5 .5 .2 .5-.1 .5-.3 .5-.3 .5-.3 .5-.3 .5 0 .5 .2 .5 .5 .5 .4 .5 .1 .5 0 .5-.2 .5-.4 .5-.4 .5-.3 .5-.2 .5-.1 .5-.2 .5 .1 .5 .3 .5 0 .5 0 .5 0 .5 .3 .5 .2 .5 0 .5-.1 .5 .1 .5 .2 .5 .2 .5 .1 .5-.3 .5-.4 .5-.2 .5 0 .5 .1 .5 0 .5-.3 .5-.1 .5 .1 .5 .2 .5 .2 .5 .2 .5 .3 .5 .3 .5 .3 .5 .2 .5-.1 .5-.2 .5-.3 .5-.2 .5 0 .5 .1 .5 0 .5-.1 .5-.3 .5-.1 .5 .2 .5 .2 .5 .1 .5 .1 .5 .2 .5 0 .5-.3 .5-.2 .5-.1 .5-.1 .5 0 .5 .1 .5 .2 .5 0 .5-.2 .5-.3 .5-.1 .5 .1 .5 .1 .5 .1 .5 .1 .5 0 .5-.1 .5-.1 .5-.1 .5 .1 .5 .2 .5 .1 .5-.1 .5-.1 .5 .2 .5 .2 .5 0 .5 0 .5-.2 .5 .1 .5 .3 .5 .3 .5 .2 .5 .1 .5-.1 .5-.5 .5-.7 .5-.4 .5-.1 .5 0 .5 .1 .5 0 .5 0 .5 .1 .5 .5 .5 .8 .5 .4 .5 .2 .5 0 .5-.1 .5-.3 .5-.5 .5-.4 .5-.2 .5-.1 .5 0 .5 .2 .5 .2 .5 .1 .5 .1 .5 .1 .5 .3 .5 .3 .5 .3 .5 .2 .3 0 .1-.2 .1-.5 0-.6 .1-.3 .1-.3 .1-.1 .1-.2 .1 0 0 .2 .1 .3 .1 .1 .1 0 .1-.1 .1 0 0 .1 .1 .2 .1 .1 .1 .2 .1 .2 .1 .1 0-.2 .1-.2 .1 0 .1-.1 .1-.2 .1-.5 0-.4 .1 .1 .1 .7 .1 .8 .1 .4 .1 0 0-.3 .1-.4 .1-.1 .1 .1 .1 .1 .1 .2 0 .1 .1 0 .1-.1 .1-.3 .1-.2 .1 0 0 .3 .1 .4 .1 .3 .1 .1 .1 0 .1-.1 0-.3 .1-.1 .1 0 .1 0 .1-.2 .1-.2 0-.1 .1 0 .1 .2 .1 0 .1 .1 .1 .1 0 .3 .1 .2 .1 0 .1-.3 .1-.2 .1 .1 0 .2 .1 .2 .1-.1 .1-.2 .1-.2 .1 .2 0 .2 .1 0 .1-.1 .1-.1 .1 .1 .1 0 0-.4 .1-.3 .1-.3 .1 0 .1 .1 .1 .2 0 .3 .1 .1 .1-.2 .1-.1 .1 0 .1 0 .1 .1 .1 .1 .1 0 .1 .2 .1 .1 0 .2 .1 .2 .1 .2 .1 .1 .1-.2 .1-.4 0-.4 .1-.1 .1 .2 .1 .2 .1-.1 .1-.3 0-.2 .1-.2 .1-.1 .1 0 .1 .1 .1 .2 0 .2 .1 .1 .1-.1 .1 0 .1 .1 .1 .3 0 .1 .1 0 .1 0 .1 .1 .1 .1 .1-.1 0-.4 .1-.4 .1-.3 .1 .2 .1 .4 .1 .3 .1-.3 .1-.3 .1-.2 .1-.1 .1 0 .1 .1 .1 .1 .1 .2 .1 .1 .1 .1 0-.1 .1-.3 .1-.4 .1 0 .1 .5 .1 .6 0 .3 .1-.1 .1-.4 .1-.3 .1-.2 .1-.3 0-.2 .1-.3 .1-.1 .1-.2 .1 0 .1 .2 0 .3 .1 .3 .1 0 .1-.1 .1-.1 .1-.1 0-.1 .1 .1 .1 0 .1-.1 .1-.4 .1-.3 0 .3 .1 .4 .1 .1 .1-.3 .1-.4 .1-.3 .1 .1 .1-.1 .1-.1 .1 0 .1 .2 0 .6 .1 .5 .1 .4 .1 .2 .1-.2 .1-.4 0-.4 .1-.1 .1 0 .1-.2 .1-.5 .1-.4 .1 .3 .1 .3 .1-.2 .1-.2 .1 .1 0 .5 .1 .4 .1 .1 .1-.3 .1-.3 .1 0 0 .2 .1 .1 .1-.2 .1-.4 .1-.5 .1-.4 0-.2 .1 0 .1 0 .1-.2 .1-.2 .1 .1 0 .6 .1 .3 .1 0 .1-.2 .1-.2 .1 0 .1 .1 .1 .1 .1 .1 .1-.1 .1-.3 0-.3 .1-.4 .1-.3 .1-.1 .1 .1 .1 .2 0 .2 .1 0 .1 .1 .1 .1 .1 .2 .1 .2 .1-.1 .1-.2 .1-.1 .1-.1 .1-.1 0-.1 .1 0 .1 .1 .1 .3 .1 0 .1-.1 0-.3 .1-.4 .1-.4 .1-.2 .1-.2 .1 .1 0 .3 .1 .2 .1 .2 .1 .1 .1-.2 .1 0 0 .3 .1 .3 .1 .2 .1-.2 .1-.6 .1-.6 0-.4 .1 0 .1 .1 .1 .3 .1 .3 .1 .4 0 .3 .1-.1 .1-.3 .1-.4 .1-.3 .1-.3 .1-.1 .1-.1 .1 .1 .1 .2 .1 .1 0-.1 .1-.1 .1-.2 .1-.4 .1-.4 .1 .1 0 .4 .1 .3 .1-.1 .1-.3 .1-.5 .1-.6 0-.3 .1-.2 .1 .1 .1 .3 .1 .2 .1-.1 0-.1 .1-.3 .1-.2 .1-.3 .1-.3 .1 0 0 .1 .1-.4 .1-.8 .1-.8 .1-.3 .1 0 0 .4 .1-.3 .1-.5 .1-.5 .1-.3 .1-.4 0 .1 .1-.2 .1-.2 .1-.4 .1-.7 .1-.7 0-.2 .1-.8 .1-.7 .1-.5 .1-.6 .1-.8 0-.1 .1-1 .1-1.1 .1-1 .1-.8 .1-.6 0 .3 .1-.6 .1-.8 .1-1 .1-1.3 .1-1.5 0-.1 .1-1.3 .1-1.2 .1-1.2 .1-1.2 .1-1.3 .1-1.7 .1-1.8 .1-1.9 .1-2 .1-2 .1-1.7 .1-1.9 .1-2 .1-2.2 .1-2.1 0 .2 .1-2.3 .1-2.5 .1-2.6 .1-2.5 .1-2.5 0 .1 .1-2.7 .1-2.9 .1-3 .1-2.9 .1-3 0 .1 .1-3.1 .1-3.3 .1-3.3 .1-3.2 .1-3.4 .1-3.6 .1-3.6 .1-3.5 .1-3.6 .1-3.6 .1-3.8 .1-4 .1-3.9 .1-4 .1-4 .1-4.1 .1-4.1 .1-4.1 .1-4.1 .1-4.2 .1-4.2 .1-4.2 .1-4.2 .1-4.3 .1-4.4 .1-4.2 .1-4.3 .1-4.3 .1-4.3 .1-4.2 .1-4.2 .1-4.2 .1-4.2 .1-4.1 .1-4.1 .1-4 .1-4 .1-4 .1-3.9 .1-3.8 0-.1 .1-3.7 .1-3.7 .1-3.6 .1-3.5 .1-3.4 .1-3.3 .1-3.3 .1-3.1 .1-3.1 .1-3 .1-2.8 .1-2.8 .1-2.6 .1-2.5 .1-2.4 .1-2.3 .1-2.2 .1-2.1 .1-1.9 .1-1.9 .1-1.6 .1-1.6 .1-1.5 .1-1.3 .1-1.2 .1-1.1 .1-1 .1-.9 .1-.8 .1-.7 .1-.5 .1-.5 .1-.3 .1-.3 .1-.1 .1-.1 .1-.1 .1 .1 .1 0 .1 .2 .1 .2 .1 .2 .1 .3 .1 .4 .1 .4 .1 .4 .1 .5 .1 .6 .1 .6 .1 .7 .1 .7 .1 .8 .1 .8 .1 .9 .1 .9 .1 1 .1 1 .1 1 .1 1.1 .1 1.2 .1 1.1 .1 1.3 .1 1.2 .1 1.3 .1 1.4 .1 1.3 .1 1.4 .1 1.5 .1 1.4 .1 1.5 0 .1 .1 1.5 .1 1.6 .1 1.6 .1 1.6 .1 1.6 .1 1.7 .1 1.7 .1 1.7 .1 1.8 .1 1.8 .1 1.8 .1 1.7 .1 1.8 .1 1.8 .1 1.8 .1 1.9 .1 1.8 .1 1.9 .1 1.8 .1 1.9 0 .1 .1 1.9 .1 1.9 .1 1.9 .1 1.9 .1 1.9 .1 1.9 .1 1.9 .1 1.9 .1 1.9 .1 1.9 0 .1 .1 1.9 .1 1.9 .1 1.9 .1 1.9 .1 1.9 .1 2 .1 1.9 .1 1.8 .1 1.9 .1 1.8 .1 1.9 .1 1.9 .1 1.8 .1 1.8 .1 1.9 0-.1 .1 1.8 .1 1.9 .1 1.7 .1 1.8 .1 1.8 .1 1.8 .1 1.8 .1 1.8 .1 1.7 .1 1.7 0-.1 .1 1.7 .1 1.7 .1 1.7 .1 1.7 .1 1.7 .1 1.7 .1 1.6 .1 1.6 .1 1.6 .1 1.5 .1 1.6 .1 1.6 .1 1.5 .1 1.6 .1 1.6 .1 1.5 .1 1.4 .1 1.4 .1 1.5 .1 1.4 .1 1.5 .1 1.4 .1 1.5 .1 1.4 .1 1.4 .1 1.3 .1 1.3 .1 1.3 .1 1.3 .1 1.3 .1 1.3 .1 1.4 .1 1.3 .1 1.2 .1 1.2 .1 1.2 .1 1.2 .1 1.2 .1 1.2 .1 1.3 .1 1.2 .1 1.1 .1 1.1 .1 1.1 .1 1.1 0-.1 .1 1.1 .1 1 .1 1.1 .1 1.1 .1 1.1 .1 1.1 .1 1 .1 1.1 .1 1 .1 1 .1 .9 .1 1 .1 .9 .1 .9 .1 .9 .1 1 .1 1 .1 .9 .1 1 .1 1 .1 .8 .1 .7 .1 .7 .1 .8 .1 .9 0 .1 .1 1 .1 .9 .1 .8 .1 .8 .1 .9 .1 .7 .1 .8 .1 .8 .1 .8 .1 .8 .1 .7 .1 .7 .1 .7 .1 .7 .1 .8 .1 .7 .1 .6 .1 .6 .1 .7 .1 .7 0 .1 .1 .7 .1 .6 .1 .6 .1 .6 .1 .6 0 .1 .1 .5 .1 .6 .1 .6 .1 .5 .1 .7 0 .1 .1 .7 .1 .7 .1 .5 .1 .5 .1 .5 0-.1 .1 .5 .1 .4 .1 .5 .1 .7 .1 .7 0 .2 .1 .6 .1 .5 .1 .4 .1 .4 .1 .5 0 .1 .1 .6 .1 .6 .1 .6 .1 .6 .1 .5 0-.1 .1 .4 .1 .5 .1 .5 .1 .5 .1 .3 0-.1 .1 .4 .1 .5 .1 .5 .1 .5 .1 .5 0-.1 .1 .3 .1 .3 .1 .5 .1 .6 .1 .7 .1 .2 .1 .2 .1 .2 .1 .5 .1 .6 0 .2 .1 .4 .1 .5 .1 .3 .1 .3 .1 .2 0-.3 .1 .2 .1 .4 .1 .4 .1 .5 .1 .4 0 .2 .1 .4 .1 .5 .1 .3 .1 .2 .1 .2 .1 .6 .1 .6 .1 .6 .1 .4 .1 .3 .1 .3 .1 .4 .1 .5 .1 .3 .1 .2 0-.3 .1 0 .1 .1 .1 .2 .1 .4 .1 .5 0 .1 .1 .4 .1 .4 .1 .4 .1 .2 .1 .2 0-.1 .1 .3 .1 .3 .1 .3 .1 .2 .1 .3 0 .2 .1 .4 .1 .3 .1 .3 .1 .1 .1 0 0-.3 .1 .1 .1 .4 .1 .5 .1 .5 .1 .5 0-.1 .1 0 .1 .2 .1 .3 .1 .3 .1 .2 0-.2 .1 .1 .1 .1 .1 0 .1 .1 .1 .3 0 .3 .1 .7 .1 .4 .1 .2 .1 .1 .1 .2 0-.1 .1 .1 .1 .1 .1 0 .1 0 .1 .2 0 .2 .1 .5 .1 .5 .1 .4 .1 .1 .1 .2 0 .2 .1 .5 .1 .2 .1 0 .1 0 .1 .1 0 .1 .1 .3 .1 .3 .1 .3 .1 .3 .1 .2 0-.3 .1-.3 .1-.2 .1 0 .1 .2 .1 .2 .1 .4 .1 .6 .1 .3 .1 .2 .1 .1 .1 .3 .1 .2 .1 0 .1-.2 .1-.2 .1 .5 .1 .7 .1 .5 .1 .2 .1-.1 0-.2 .1 .1 .1 .2 .1 0 .1-.3 .1-.2 0-.1 .1 .3 .1 .3 .1 .3 .1 .3 .1 .3 0 .1 .1 .2 .1 .1 .1 .1 .1 .2 .1 .1 0-.2 .1 0 .1 .2 .1 .5 .1 .4 .1 .3 .1 0 .1-.1 .1 0 .1 .2 .1 .3 .1-.1 .1-.2 .1 0 .1 .2 .1 .2 .1 0 .1 .2 .1 .4 .1 .4 .1 .3 .1-.1 .1 0 .1 0 .1 .2 .1 .4 0 .2 .1 .1 .1-.1 .1-.1 .1 0 .1 .2 0 .2 .1 .2 .1 .1 .1 .1 .1 0 .1 .1 0-.1 .1 .1 .1 0 .1-.1 .1-.1 .1 0 .1 0 .1-.1 .1 .2 .1 .4 .1 .7 0 .5 .1 .5 .1 .2 .1 0 .1-.3 .1-.2 0-.2 .1-.1 .1 .2 .3 .6 .5 .7 .5 .2 .5 .1 .5 .2 .5 .5 .5 .7 .5 .8 .5 .6 .5 .6 .5 .2 .5 .3 .5 .2 .5 .2 .5 .1 .5 .2 .5 .2 .5 .5 .5 .7 .5 .7 .5 .4 .5 .2 .5 .1 .5 .2 .5 .2 .5 .3 .5 .3 .5 .3 .5 .3 .5 .2 .5 .2 .5 .2 .5 .3 .5 .1 .5 0 .5-.1 .5 0 .5 .1 .5 .2 .5 .3 .5 .2 .5 .1 .5 .1 .5 .2 .5 .1 .5 .2 .5 .4 .5 .5 .5 .3 .5 .2 .5 .1 .5 .2 .5 .1 .5 0 .5-.1 .5-.1 .5 0 .5 .1 .5 .3 .5 .5 .5 .5 .5 .5 .5 .2 .5 0 .5-.1 .5-.3 .5-.2 .5 0 .5 .1 .5 .1 .5 0 .5 0 .5-.3 .5-.2 .5 .1 .5 .4 .5 .6 .5 .4 .5 .1 .5 .1 .5 .2 .5 .3 .5-.1 .5-.4 .5-.5 .5-.3 .5 0 .5 .2 .5 .2 .5 .3 .5 .4 .5 .3 .5 .3 .5 .2 .5-.1 .5-.4 .5-.4 .5-.1 .5 .2 .5 .3 .5 .3 .5 .5 .5 .5 .5 .4 .5 0 .5 0 .5 0 .5 0 .5 0 .5-.1 .5 0 .5 0 .5 .1 .5-.1 .5-.3 .5-.1 .5 .1 .5 .3 .5 .2 .5 .3 .5 .2 .5 .1 .5-.1 .5-.1 .5-.1 .5 .1 .5 .2 .5 .3 .5 .5 .5 .5 .5 .3 .5 .1 .5-.3 .5-.3 .5-.2 .5-.1 .5 0 .5 0 .5-.2 .5-.2 .5 0 .5 .4 .5 .6 .5 .5 .5 0 .5-.1 .5-.1 .5-.2 .5-.3 .5-.3 .5 0 .5 .2 .5 0 .5-.1 .5 .1 .5 .2 .5 .1 .5-.1 .5-.2 .5 .2 .5 .3 .5 .2 .5 0 .5-.2 .5-.2 .5-.2 .5 0 .5 .3 .5 .3 .5 0 .5-.2 .5 0 .5 .1 .5 0 .5-.1 .5 .1 .5 .4 .5 .3 .5-.1 .5-.2 .5-.1 .5 .3 .5 .3 .5 0 .5-.1 .5-.1 .5-.1 .5-.3 .5 0 .5 .2 .5 .3 .5 .1 .5-.1 .5-.3 .5-.2 .5 0 .5 .3 .5 .4 .5 .3 .5 .3 .5 .2 .5 0 .5 0 .5 0 .5 0 .5 0 .5-.2 .5-.2 .5-.2 .5-.1 .5-.1 .5 .2 .5 .3 .5 .3 .5 .3 .5 .2 .5-.3 .5-.6 .5-.7 .5-.1 .5 .2 .5 .4 .5 .4 .5 .2 .5-.1 .5-.1 .5 0 .5 .1 .5 .4 .5 .1 .5-.3 .5-.5 .5-.2 .5 .3 .5 .4 .5 .5 .5 .2 .5-.1 .5-.4 .5-.1 .5 .2 .5 .2 .5 .2 .5 .1 .5-.3 .5-.6 .5-.4 .5 .1 .5 .5 .5 .4 .5 0 .5-.2 .5-.2 .5-.2 .5-.2 .5 .1 .5 .4 .5 .4 .5 .1 .5-.1 .5-.2 .5-.2 .5-.2 .5 0 .5 0 .5 .2 .5 .1 .5 .2 .5 .1 .5 0 .5 0 .5-.1 .5 0 .5 0 .5 0 .5 0 .5 0 .5 .2 .5 .2 .5 .2 .5 0 .5-.1 .5 0 .5 0 .5 0 .5-.1 .5-.1 .5 .1 .5 .1 .5 .1 .5-.2 .5-.3 .5-.1 .5-.2 .5-.2 .5-.1 .5 .3 .5 .6 .5 .5 .5 .2 .5 0 .5-.1 .5-.1 .5-.2 .5-.4 .5-.2 .5 0 .5 .1 .5 .3 .5 .3 .5 .4 .5 .2 .5-.1 .5-.3 .5-.5 .5-.2 .5 .2 .5 .3 .5 .3 .5 .2 .5 .2 .5 .3 .5 .1 .5-.3 .5-.3 .5-.2 .5 .1 .5 .1 .5-.1 .5-.1 .5 0 .5 .1 .5 0 .5 .1 .5 .2 .5 .2 .5 0 .5-.1 .5-.2 .5-.1 .5 .1 .5 .1 .5 0 .5-.1 .5 .2 .5 .5 .5 .4 .5 .1 .5-.1 .5 0 .5 0 .5-.2 .5-.2 .5-.2 .5-.2 .5-.2 .5-.1 .5 .1 .5 .2 .5 .1 .5-.2 .5-.4 .5-.2 .5 .1 .5 .4 .5 .3 .5 .1 .5-.2 .5-.3 .5-.2 .5 .1 .5 .4 .5 .4 .5 .2 .5 .1 .5 .1 .5 0 .5-.1 .5-.3 .5-.1 .5-.1 .5-.1 .5-.1 .5 0 .5 .1 .5 .1 .5 .1 .5 .1 .5 .1 .5 .1 .5-.2 .5-.1 .5 0 .5 0 .5-.1 .5-.2 .5 0 .5 .2 .5 .1 .5-.1 .5-.3 .5 0 .5 .3 .5 .2 .5 0 .5 0 .5 .2 .5 .1 .5 .2 .5 0 .5 0 .5 0 .5-.3 .5-.3 .5-.1 .5 .1 .5 .2 .5 0 .5 0 .5-.1 .5-.3 .5-.3 .5-.1 .5 .1 .5 .4 .5 .4 .5 .2 .5 0 .5-.2 .5-.1 .5-.1 .5 .1 .5-.1 .5-.1 .5-.1 .5-.1 .5 0 .5-.1 .5 .1 .5 .2 .5 .4 .5 .3 .5 0 .5-.2 .5-.3 .5 0 .5 .1 .5 .4 .5 .4 .5 .2 .5 .1 .5-.2 .5-.2 .5-.3 .5-.4 .5-.2 .5-.2 .5 0 .5 .1 .5 .1 .5 .4 .5 .6 .5 .4 .5 .1 .5-.3 .5-.3 .5-.1 .5-.2 .5-.4 .5-.3 .5 0 .5 .5 .5 .4 .5 .2 .5 0 .5-.1 .5-.2 .5-.3 .5-.2 .5 0 .5 .3 .5 .3 .5 .2 .5 .2 .5 .1 .5 0 .5-.2 .5-.4 .5-.3 .5-.3 .5-.3 .5 0 .5 .4 .5 .5 .5 .3 .5 .1 .5 0 .5-.1 .5 0 .5 0 .5 0 .5-.4 .5-.3 .5 .1 .5 .2 .5 .1 .5-.1 .5-.2 .5-.2 .5-.1 .5-.2 .5-.2 .5-.2 .5-.1 .5 .2 .5 .5 .5 .7 .5 .5 .5 .1 .5 0 .5 0 .5 0 .5 .1 .5 .1 .5 0 .5-.1 .5-.3 .5-.3 .5-.4 .5-.2 .5 0 .5 .2 .5 .3 .5 .3 .5 .4 .5 .3 .5 .1 .5 0 .5-.1 .5-.2 .5-.2 .5-.1 .5 .1 .5-.1 .5-.2 .5-.5 .5-.4 .5 0 .5 .2 .5 .1 .5 .2 .5 .3 .5 .2 .5-.1 .5-.2 .5-.3 .5 0 .5 .2 .5 .5 .5 .2 .5-.1 .5-.5 .5-.4 .5-.2 .5 0 .5 .2 .5 .3 .5 .3 .5 .1 .5 0 .5 0 .5 0 .5 .1 .5 .1 .5 .2 .5 .3 .5 0 .5-.3 .5-.4 .5-.2 .5 0 .5 .1 .5 0 .5 .1 .5 .2 .5 .2 .5 0 .5-.3 .5-.4 .5-.4 .5-.1 .5 .1 .5 0 .5 0 .5-.3 .5-.2 .5-.2 .5 .1 .5 .2 .5 .3 .5 .1 .5 0 .5 .2 .5 .3 .5 .1 .5 0 .5-.1 .5-.2 .5-.2 .5-.3 .5-.1 .5 .2 .5 .1 .5 .1 .5-.1 .5-.4 .5-.4 .5-.1 .5 .2 .5 .1 .5 0 .5-.2 .5-.1 .5-.1 .5 .1 .5 .2 .5 0 .5 0 .5 0 .5 .2 .5 .1 .5-.2 .5-.3 .5-.3 .5-.1 .5 0 .5 0 .5-.1 .5-.2 .5 0 .5 .2 .5 .2 .5-.1 .5-.4 .5-.4 .5-.2 .5 0 .5 .1 .5 .3 .5 .2 .5 0 .5-.3 .5-.4 .5-.2 .5 .2 .5 .5 .5 .3 .5 .2 .5-.2 .5-.5 .5-.5 .5-.4 .5-.2 .5-.2 .5 0 .5 0 .5 .2 .5 .4 .5 .3 .5 .2 .5-.2 .5-.1 .5-.1 .5-.3 .5-.2 .5-.1 .5-.1 .5 .1 .5 .4 .5 .5 .5 .1 .5-.3 .5-.6 .5-.4 .5 0 .5 .4 .5 .4 .5 .1 .5-.1 .5-.2 .5 0 .5 .1 .5 .2 .5 .2 .5 .2 .5 .1 .5 .1 .5 .2 .5 .1 .5 0 .5-.3 .5-.3 .5-.1 .5 .3 .5 .4 .5 .2 .5 .1 .5 .1 .5 .1 .5 .1 .5 0 .5 0 .5 .2 .5 .2 .5 .1 .5-.2 .5-.4 .5-.3 .5 0 .5 .3 .5 .4 .5 .3 .5 .2 .5-.1 .5-.1 .5-.1 .5-.1 .5 0 .5 .2 .5 .4 .5 .3 .5-.1 .5-.2 .5-.1 .5 .1 .5 .1 .5 .1 .5 .2 .5 .2 .5 .1 .5 0 .5-.2 .5-.3 .5-.1 .5-.1 .5 .1 .5 .1 .5 .5 .5 .6 .5 .4 .5 .2 .5-.2 .5-.4 .5-.4 .5-.1 .5 .3 .5 .6 .5 .5 .5 .3 .5 .2 .5-.2 .5-.5 .5-.4 .5-.3 .5-.4 .5-.2 .5 0 .5 .3 .5 .3 .5 .3 .5 .3 .5 .2 .5 .3 .5 .2 .5 0 .5-.2 .5-.2 .5-.2 .5-.2 .5-.3 .5-.2 .5-.2 .5-.3 .5-.1 .5 0 .5 .2 .5 .1 .5 0 .5-.2 .5 0 .5 .1 .5 0 .5 0 .5 0 .5-.2 .5-.2 .5 .1 .5 0 .5-.1 .5-.2 .5 0 .5 .3 .5 .3 .5 .2 .5-.1 .5-.1 .5-.1 .5 0 .5 .1 .5 .2 .5 .2 .5 .2 .5 .2 .5-.1 .5 0 .5-.1 .5 .1 .5 .1 .5 .2 .5 .2 .5 .2 .5-.1 .5-.4 .5-.4 .5-.1 .5-.1 .5-.4 .5-.2 .5 .2 .5 .4 .5 .2 .5 0 .5 .1 .5 .2 .5 0 .5-.3 .5-.4 .5-.3 .5-.1 .5 .4 .5 .6 .5 .5 .5 0 .5-.3 .5-.3 .5 0 .5 0 .5 0 .5 .1 .5 .5 .5 .6 .5 .3 .5-.2 .5-.4 .5-.4 .5-.2 .5 0 .5-.1 .5-.1 .5 .1 .5 .1 .5 .2 .5 .1 .5 0 .5 .1 .5 .1 .5-.1 .5-.4 .5-.3 .5-.1 .5 .2 .5 .2 .5 0 .5 0 .5-.1 .5-.2 .5-.3 .5 0 .5 .1 .5 .3 .5 .3 .5 0 .5-.2 .5-.1 .5 .2 .5 .2 .5 .2 .5 0 .5 0 .5-.2 .5-.3 .5-.4 .5-.1 .5 .1 .5 .3 .5 .3 .5 .4 .5 .3 .5 0 .5-.3 .5-.4 .5-.2 .5 0 .5 .5 .5 .5 .5 .4 .5 .1 .5 .1 .5-.1 .5-.3 .5-.4 .5-.2 .5 .1 .5 .1 .5 0 .5-.3 .5-.3 .5-.3 .5-.3 .5-.3 .5-.1 .5 0 .5 .3 .5 .5 .5 .3 .5-.1 .5-.2 .5-.1 .5 .2 .5 .4 .5 .3 .5 .2 .5 .1 .5 .1 .5 0 .5-.2 .5-.4 .5-.4 .5-.3 .5-.1 .5 0 .5 0 .5 0 .5-.2 .5-.2 .5 .1 .5 .5 .5 .5 .5 .1 .5-.6 .5-.7 .5-.3 .5 .4 .5 .5 .5 0 .5-.3 .5 0 .5 .4 .5 .4 .5 .1 .5-.1 .5-.2 .5 0 .5 .1 .5 0 .5-.1 .5 .1 .5 .5 .5 .3 .5-.2 .5-.3 .5-.3 .5 0 .5 .1 .5 .1 .5-.2 .5-.3 .5-.3 .5-.2 .5-.1 .5 .1 .5 .3 .5 .3 .5 .1 .5-.1 .5 .1 .5 .2 .5 .2 .5 0 .5-.2 .5 0 .5 0 .5-.2 .5-.2 .5 .2 .5 .5 .5 .4 .5 .2 .5-.2 .5-.3 .5-.5 .5-.4 .5 0 .5 .2 .5 .2 .5 0 .5-.2 .5-.1 .5 0 .5 .2 .5 .2 .5 .2 .5 0 .5-.1 .5 .1 .5 .1 .5 .1 .5 .1 .5-.1 .5-.3 .5-.2 .5-.2 .5 0 .5 0 .5-.1 .5-.1 .5 0 .5 .3 .5 .3 .5 .3 .5 .1 .5 0 .5-.1 .5-.3 .5-.4 .5 0 .5 .3 .5 .5 .5 .2 .5-.1 .5 .1 .5-.1 .5-.3 .5-.5 .5-.4 .5-.2 .5-.1 .5 .1 .5 .3 .5 .3 .5 .2 .5-.2 .5-.6 .5-.6 .5-.1 .5 .2 .5 .1 .5-.2 .5-.3 .5 0 .5 .2 .5 .1 .5 .1 .5 0 .5 0 .5-.1 .5-.4 .5-.1 .5 .2 .5 .5 .5 .1 .5-.1 .5-.1 .5 .1 .5 .2 .5 .1 .5-.1 .5-.4 .5-.4 .5-.3 .5-.2 .5 .1 .5 .3 .5 .2 .5 .2 .5 .2 .5 .1 .5 .1 .5 .2 .5 0 .5 0 .5-.3 .5-.4 .5-.5 .5-.4 .5-.3 .5-.2 .5-.1 .5 .2 .5 .5 .5 .6 .5 .4 .5 0 .5-.1 .5-.4 .5-.5 .5-.4 .5-.2 .5-.1 .5 .2 .5 .3 .5 .3 .5 .2 .5-.1 .5-.3 .5-.2 .5 0 .5 0 .5-.5 .5-.6 .5-.5 .5-.2 .5 .3 .5 .2 .5 .1 .5 .1 .5 .2 .5 .4 .5 .2 .5 .1 .5-.2 .5-.3 .5-.6 .5-.5 .5-.3 .5 0 .5 .1 .5-.2 .5-.2 .5-.2 .5 .1 .5 0 .5 .2 .5 .2 .5 0 .5-.1 .5-.1 .5 .1 .5 .1 .5-.1 .5-.1 .5-.3 .5-.2 .5-.1 .5 .1 .5 .1 .5 0 .5 0 .5 .1 .5 .1 .5 .2 .5 .2 .5 .4 .5 .3 .5-.1 .5-.5 .5-.4 .5 0 .5 .3 .5 .4 .5 .2 .5-.1 .5-.2 .5-.5 .5-.4 .5-.2 .5 0 .5 .2 .5 .1 .5 .3 .5 .5 .5 .4 .5 .2 .5-.2 .5-.3 .5 0 .5 .4 .5 .8 .5 .6 .5 0 .5-.3 .5-.1 .5 .1 .5 0 .5-.2 .5-.3 .5 .1 .5 .4 .5 .3 .5 0 .5-.1 .5 0 .5 .3 .5 .3 .5 .3 .5 .1 .5 0 .5 0 .5 0 .5 .1 .5 .2 .5 .4 .5 .1 .5-.2 .5-.2 .5 0 .5 0 .5-.1 .5-.3 .5-.2 .5 .5 .5 .8 .5 .7 .5 .3 .5 0 .5-.2 .5-.4 .5-.3 .5-.3 .5-.1 .5 0 .5 .2 .5 .1 .5 0 .5-.1 .5-.1 .5 .1 .5 .3 .5 .4 .5 .2 .5 0 .5-.1 .5 0 .5-.1 .5-.3 .5-.2 .5-.1 .5 0 .5 .1 .5 .1 .5 .1 .5 .1 .5-.1 .5-.3 .5-.3 .5-.2 .5 .1 .5 .3 .5 .2 .5-.2 .5-.1 .5 .1 .5 .3 .5 .1 .5-.2 .5-.2 .5-.1 .5 .2 .5 .4 .5 .5 .5 .4 .5 .4 .5 .1 .5 0 .5 0 .5 0 .5-.3 .5-.4 .5-.4 .5 0 .5 .1 .5 0 .5-.1 .5 .1 .5 .3 .5 .1 .5-.2 .5-.3 .5-.2 .5 0 .5 .4 .5 .4 .5 .1 .5-.1 .5-.1 .5-.1 .5-.1 .5 0 .5 0 .5 0 .5 0 .5-.3 .5-.3 .5 0 .5 .1 .5 .2 .5 0 .5 .1 .5 0 .5 0 .5-.1 .5 0 .5 .2 .5 .5 .5 .4 .5 .5 .5 .2 .5-.1 .5-.2 .5-.1 .5-.1 .5-.1 .5-.1 .5 0 .5-.1 .5 .1 .5 .1 .5 .1 .5-.2 .5-.4 .5-.2 .5 0 .5 .2 .5 .2 .5 .1 .5 .1 .5 0 .5-.2 .5-.4 .5-.4 .5-.2 .5 .2 .5 .4 .5 .4 .5 .2 .5 0 .5 .1 .5-.1 .5-.4 .5-.3 .5 0 .5 .3 .5 .2 .5-.1 .5-.1 .5-.2 .5 0 .5 .1 .5 0 .5-.1 .5-.2 .5-.1 .5 .2 .5 .4 .5 .3 .5 .1 .5 0 .5 .2 .5 .2 .5 .1 .5-.1 .5-.2 .5-.4 .5-.4 .5-.2 .5-.1 .5 .1 .5 0 .5 .1 .5 0 .5 .1 .5 0 .5-.1 .5-.3 .5-.2 .5 0 .5 .3 .5 .4 .5 .3 .5 0 .5-.3 .5-.3 .5-.1 .5 0 .5 0 .5-.2 .5-.1 .5 0 .5 0 .5 .2 .5 .1 .5 .2 .5 0 .5-.2 .5-.4 .5-.2 .5 0 .5 .5 .5 .5 .5 .3 .5 .2 .5 0 .5 0 .5-.2 .5-.1 .5 0 .5 0 .5 .1 .5 .1 .5-.1 .5-.3 .5-.2 .5 .1 .5 .3 .5 .2 .5 0 .5-.2 .5-.1 .5-.2 .5 0 .5 .1 .5 .1 .5 .1 .5 .1 .5 .1 .5 0 .5-.2 .5-.2 .5 .3 .5 .5 .5 .5 .5 .1 .5-.1 .5-.2 .5-.3 .5-.4 .5-.3 .5 0 .5 .1 .5-.1 .5-.3 .5-.2 .5 .1 .5 .5 .5 .4 .5 0 .5-.3 .5-.3 .5-.3 .5 0 .5 .2 .5 .2 .5-.2 .5-.3 .5-.2 .5-.1 .5 0 .5 .1 .5 .2 .5 .5 .5 .6 .5 .4 .5 0 .5-.3 .5-.2 .5 0 .5 0 .5-.2 .5-.4 .5-.4 .5-.1 .5 0 .5 0 .5 0 .5 .3 .5 .4 .5 .5 .5 .2 .5 .1 .5-.1 .5-.4 .5-.4 .5-.3 .5-.3 .5-.2 .5-.1 .5-.2 .5-.1 .5 .2 .5 .5 .5 .6 .5 .3 .5 0 .5-.1 .5 0 .5 .1 .5 0 .5-.1 .5 0 .5 .1 .5 .2 .5 .2 .5 0 .5-.1 .5-.4 .5-.4 .5-.2 .5 .2 .5 .5 .5 .5 .5 0 .5-.3 .5-.4 .5-.1 .5 0 .5 .1 .5 .1 .5 .1 .5 .1 .5 .3 .5 .2 .5-.1 .5-.3 .5-.2 .5-.1 .5 0 .5 .1 .5 .2 .5 .2 .5 0 .5 0 .5 0 .5 0 .5-.3 .5-.2 .5 0 .5 .1 .5 0 .5-.2 .5-.2 .5 .1 .5 .3 .5 .2 .5 0 .5-.2 .5-.3 .5-.4 .5-.2 .5 .2 .5 .4 .5 .4 .5 .2 .5-.3 .5-.4 .5-.4 .5-.2 .5-.1 .5-.1 .5 0 .5 .1 .5 0 .5 .1 .5 .3 .5 .4 .5 .3 .5 0 .5 0 .5 .2 .5 .4 .5 .3 .5 .2 .5-.2 .5-.4 .5-.5 .5-.3 .5-.1 .5 .1 .5 .2 .5 .3 .5 0 .5-.2 .5-.3 .5-.1"/>
<path fill="none" stroke="#0000ff" stroke-width="4.20" stroke-linejoin="round" stroke-linecap="round" d="M149.8 1671.8l.5-.1 .5-.2 .5 .1 .5 .3 .5 .2 .5 .1 .5 0 .5-.1 .5-.2 .5-.3 .5-.1 .5 0 .5 .1 .5 .3 .5 .3 .5 .2 .5 0 .5-.1 .5-.3 .5-.2 .5-.1 .5-.1 .5-.1 .5-.1 .5 0 .5 .2 .5 .3 .5 .2 .5 .2 .5 0 .5 0 .5 0 .5 0 .5-.1 .5-.1 .5-.1 .5 0 .5 .1 .5 .1 .5 .1 .5 .1 .5 0 .5 .1 .5 .1 .5 .1 .5-.1 .5-.1 .5-.1 .5-.1 .5 .1 .5 .1 .5-.1 .5-.3 .5-.2 .5 0 .5 .2 .5 .3 .5 .2 .5 .1 .5 .1 .5 .1 .5 0 .5-.1 .5-.2 .5-.2 .5 0 .5 0 .5 .1 .5-.1 .5 0 .5 0 .5 .1 .5 0 .5 0 .5-.1 .5 0 .5 0 .5 .1 .5 0 .5-.1 .5 0 .5 0 .5-.1 .5-.1 .5 0 .5 0 .5 0 .5-.1 .5 0 .5 0 .5-.1 .5-.2 .5-.3 .5-.4 .5-.2 .5-.1 .5 .1 .5 0 .5 .1 .5 0 .5-.1 .5-.2 .5-.3 .5-.4 .5-.3 .5-.1 .5-.1 .5-.1 .5 .1 .5 .2 .5 .4 .5 .5 .5 .3 .5 .2 .5-.1 .5-.1 .5 0 .5 .1 .5 .3 .3 .2 .1 .2 .1 .1 .1-.2 .1-.3 .1-.1 .1 .2 .1 .2 0 .2 .1 .1 .1 .2 .1 .1 .1 0 .1 0 .1 .1 .1 .1 .1 .1 .1 0 .1 0 0-.1 .1-.2 .1-.1 .1-.1 .1 0 .1 0 0 .1 .1 .2 .1 .2 .1 0 .1 .1 .1 .1 .1 0 .1-.2 .1-.2 .1-.2 .1-.1 0 .1 .1 .1 .1 0 .1 .1 .1 .2 .1 .2 .1-.1 .1 .2 .1 .3 .1 .4 .1 .1 0-.1 .1-.2 .1-.1 .1 0 .1 0 .1-.1 0-.1 .1 0 .1 .2 .1 .2 .1 .2 .1 .1 .1-.1 .1 0 .1 0 .1 .1 .1 0 .1 0 .1 .1 .1 0 .1 0 .1 0 0-.2 .1-.2 .1-.1 .1-.1 .1 0 .1 0 0 .1 .1 0 .1 0 .1-.1 .1 0 .1 .2 0 .5 .1 .4 .1 .1 .1 0 .1-.2 .1-.3 0-.3 .1-.1 .1 0 .1 0 .1 .1 .1 .1 .1 0 .1-.1 .1 0 .1-.1 .1-.2 0-.2 .1 0 .1 .2 .1 .3 .1 .2 .1-.1 .1 0 .1 0 .1 .1 .1 0 .1 0 0 .1 .1 0 .1-.1 .1 0 .1 .2 .1 .2 .1-.1 .1 .1 .1 .3 .1 .1 .1-.1 0-.3 .1-.4 .1-.1 .1 .1 .1 .2 .1 0 .1 0 .1 0 .1 .1 .1 .1 .1 .1 0 .1 .1 .1 .1-.1 .1-.3 .1-.1 .1 0 0 .1 .1 .1 .1 .1 .1 .1 .1-.1 .1-.2 0-.1 .1 0 .1 .1 .1 0 .1-.1 .1-.1 0 .2 .1 .2 .1 .1 .1 0 .1 0 .1 0 0 .1 .1 0 .1-.1 .1-.4 .1-.3 .1-.1 0 .2 .1 .2 .1 .3 .1 .1 .1 .1 .1 .1 0-.1 .1-.2 .1-.1 .1 .1 .1 .2 .1 .2 0 .1 .1 0 .1-.2 .1-.2 .1-.2 .1 0 0-.1 .1-.1 .1 0 .1 .1 .1 .1 .1 .1 0 .1 .1 .2 .1 .3 .1 0 .1-.2 .1-.2 0-.2 .1 0 .1 0 .1-.2 .1-.2 .1 0 0 .2 .1 .1 .1 0 .1 .1 .1 .2 .1 .1 .1-.2 .1 .1 .1 .1 .1 0 .1-.2 0-.2 .1 .1 .1 .2 .1 .2 .1 0 .1 0 0-.1 .1-.1 .1-.1 .1 .1 .1 .2 .1 .1 .1-.1 .1-.2 .1-.1 .1-.2 .1 0 0 .2 .1 .3 .1 .1 .1 0 .1 .1 .1 .1 .1 .2 .1 .1 .1-.1 .1-.2 .1-.2 0-.4 .1-.2 .1 .1 .1 .1 .1 .1 .1 0 0-.1 .1 .1 .1 .2 .1 .1 .1 0 .1-.1 .1-.1 .1 0 .1 .3 .1 .4 .1 .2 0-.2 .1-.3 .1-.2 .1-.1 .1-.2 .1-.1 .1 .1 .1 .1 .1 .2 .1 .1 .1 0 .1-.2 .1 .1 .1 .2 .1 .2 .1-.1 0-.2 .1-.1 .1 .1 .1 .2 .1 .1 .1-.2 0-.3 .1-.3 .1 0 .1 0 .1 .2 .1 .1 0 .2 .1 .1 .1 .1 .1 0 .1-.2 .1-.2 0-.2 .1 0 .1 .1 .1 .1 .1 .1 .1 .2 .1 .1 .1-.1 .1 0 .1 .1 .1 .1 0-.1 .1-.1 .1-.3 .1-.1 .1-.1 .1-.1 0-.1 .1-.1 .1 .1 .1 .1 .1 .3 .1 .2 0 .1 .1 0 .1-.2 .1 0 .1 .2 .1 .3 0 .1 .1-.1 .1 0 .1-.1 .1-.1 .1 0 .1 0 .1 .1 .1 0 .1 0 .1-.2 0-.1 .1 0 .1 .2 .1 .1 .1 0 .1 0 .1-.1 .1-.1 .1-.1 .1-.1 .1-.1 0-.2 .1-.1 .1-.2 .1-.1 .1 0 .1 .1 0 .3 .1 .3 .1 .2 .1 .2 .1 .1 .1-.2 0-.3 .1-.5 .1-.3 .1 0 .1 .2 .1 .2 0 .1 .1 0 .1-.1 .1-.2 .1-.2 .1 0 0 .2 .1 .1 .1 .1 .1-.1 .1 0 .1 0 0 .2 .1 .1 .1-.1 .1-.2 .1-.3 .1-.1 .1 0 .1-.1 .1-.1 .1 0 .1 .2 0 .3 .1 .3 .1 .1 .1-.2 .1-.1 .1-.1 .1-.3 .1-.3 .1-.2 .1 0 .1-.1 0-.1 .1 0 .1 0 .1 .1 .1 0 .1 0 0-.2 .1 0 .1 .2 .1 .1 .1 .1 .1 0 0 .1 .1 0 .1 0 .1-.1 .1 0 .1 0 .1 .1 .1 .1 .1 .1 .1-.1 .1-.1 0-.2 .1 0 .1 0 .1 0 .1 0 .1-.1 0-.2 .1-.2 .1-.1 .1 0 .1 .1 .1 .2 0 .1 .1 0 .1 .1 .1-.1 .1-.3 .1-.4 0-.2 .1 0 .1 .2 .1 .2 .1 0 .1-.1 .1 0 .1 .1 .1-.1 .1 0 .1-.2 0-.1 .1 0 .1 .1 .1 .1 .1 .1 .1-.1 0-.1 .1-.1 .1 .2 .1 .2 .1 .1 .1 0 0-.2 .1-.1 .1-.1 .1-.1 .1 0 .1 .1 0 .1 .1 .1 .1 0 .1 .1 .1 0 .1-.1 .1 .1 .1 .2 .1 0 .1 0 .1 0 0-.1 .1 0 .1 0 .1-.1 .1-.1 .1-.1 .1 .2 .1 .1 .1 0 .1 0 .1 .2 0 .1 .1 .2 .1 0 .1-.1 .1 0 .1-.2 0-.2 .1-.1 .1 .2 .1 .3 .1 .2 .1 .1 .1-.1 .1 0 .1 0 .1-.1 .1 0 0 .1 .1 .2 .1 .1 .1 .1 .1 .1 .1-.1 0-.2 .1-.1 .1 .2 .1 .2 .1 .3 .1 .1 0-.1 .1-.1 .1-.1 .1 0 .1 .2 .1 .2 0 .1 .1 0 .1-.1 .1-.2 .1-.1 .1 0 .1 .1 .1 0 .1 0 .1-.1 .1 0 0 .2 .1 .2 .1 .2 .1 .1 .1 .1 .1-.1 0-.1 .1 0 .1 0 .1 0 .1 0 .1 .1 0 .3 .1 .1 .1 0 .1-.2 .1-.2 .1-.1 0 .1 .1 .2 .1 .3 .1 .1 .1 0 .1 0 .1 .1 .1 0 .1 0 .1-.1 .1-.2 0-.1 .1 0 .1 .1 .1 .2 .1 .3 .1 .1 0-.1 .1-.2 .1 0 .1 .1 .1 .1 .1 0 0-.1 .1-.1 .1 0 .1 0 .1 .1 .1 0 0 .1 .1 0 .1 0 .1 .1 .1 .2 .1 .1 .1 0 .1-.1 .1 .1 .1 0 .1-.1 0-.1 .1-.1 .1-.1 .1 0 .1 .2 .1 .1 0 .1 .1 0 .1-.1 .1-.1 .1-.2 .1 0 0-.1 .1 .1 .1 0 .1 .2 .1 .2 .1 .1 .1 0 .1 .1 .1 .1 .1 0 .1 0 0 .1 .1 .1 .1 .1 .1 .2 .1 .1 .1 .1 0-.1 .1-.3 .1-.2 .1-.1 .1 .1 .1 .1 .1 .1 .1 0 .1 0 .1-.3 .1-.2 0-.2 .1-.1 .1 .1 .1 .2 .1 .1 .1 0 .1 0 .1 0 .1 0 .1 0 .1 .2 0 .1 .1-.1 .1-.1 .1 0 .1 0 .1-.1 0-.2 .1-.1 .1 0 .1 .2 .1 .3 .1 .2 0-.1 .1-.1 .1-.1 .1 .1 .1 .3 .1 .1 0-.2 .1-.2 .1 0 .1 .1 .1 0 .1 0 0 .1 .1 .2 .1-.1 .1-.1 .1-.2 .1-.2 0-.2 .1 0 .1 .2 .1 .3 .1 .1 .1-.2 0-.4 .1-.2 .1 .1 .1 .3 .1 .1 .1-.1 0-.2 .1-.3 .1-.1 .1 .1 .1 0 .1 0 .1 .1 .1 .1 .1 .1 .1 .1 .1 .2 0 .3 .1 .1 .1 .1 .1 0 .1 0 .1-.1 0-.1 .1 0 .1-.1 .1 0 .1 0 .1 .1 .1-.2 .1-.3 .1 0 .1 .2 .1 .2 0 .1 .1 0 .1-.1 .1 .1 .1 0 .1 0 .1 .1 .1 .1 .1 .1 .1-.1 .1-.2 0-.3 .1 0 .1 .2 .1 .2 .1 .2 .1 .2 0 .1 .1 0 .1-.1 .1-.2 .1-.1 .1-.1 .1 .2 .1 .1 .1-.1 .1-.2 .1-.2 0-.2 .1 .1 .1 .2 .1 .2 .1 .2 .1 0 0-.1 .1-.1 .1 0 .1 0 .1 0 .1 0 .1 .1 .1 .1 .1-.1 .1-.2 .1-.1 0 .1 .1 .2 .1 .1 .1 .1 .1 0 .1 0 0-.2 .1-.1 .1-.3 .1-.2 .1 0 .1 .2 0 .3 .1 .2 .1 .1 .1-.1 .1-.2 .1-.1 0-.2 .1 0 .1 0 .1 .1 .1 .2 .1 .3 0 .3 .1 .2 .1 0 .1-.3 .1-.4 .1-.3 0-.1 .1-.1 .1 0 .1-.1 .1-.1 .1-.1 0 .1 .1 .2 .1 .1 .1 .1 .1 .3 .1 .3 0 .2 .1 0 .1-.2 .1-.3 .1-.1 .1-.1 0 .1 .1 .1 .1 .2 .1 .1 .1-.1 .1-.2 0-.2 .1 0 .1 .1 .1 .2 .1 0 .1-.1 .1 0 .1 0 .1 0 .1 .1 .1 .1 .1 0 .1-.1 .1-.2 .1 .1 .1 .1 .1 0 .1-.1 .1 0 .1 0 .1 .1 0 .1 .1 .1 .1-.1 .1 0 .1 .1 .1 .2 0 .2 .1 0 .1-.1 .1-.2 .1-.3 .1-.1 0 .1 .1 .2 .1 .1 .1-.1 .1-.1 .1 .1 0 .2 .1 .1 .1 .1 .1 .1 .1 .2 .1 .1 0-.1 .1-.4 .1-.2 .1 0 .1 .1 .1-.1 0-.3 .1-.2 .1-.1 .1 .1 .1 .1 .1 .1 .1 .1 .1 .1 .1 .1 .1 0 .1-.1 0-.2 .1-.1 .1 0 .1 .2 .1 .3 .1 .3 0 .3 .1 0 .1-.1 .1 0 .1 0 .1-.1 0-.2 .1-.1 .1 .1 .1 0 .1 .1 .1 0 .1-.1 .1-.1 .1 0 .1 0 .1-.1 0-.2 .1-.2 .1-.1 .1-.1 .1 .1 .1 .3 0 .2 .1 .1 .1-.2 .1-.1 .1 0 .1 .1 .1-.1 .1 .1 .1 .1 .1 .1 .1-.1 .1 0 .1-.1 .1-.3 .1-.3 .1 0 0 .2 .1 .2 .1 .2 .1 0 .2 .1 .5 .1 .5 .1 .5 0 .5 0 .5 0 .5 .1 .5 .2 .5 .2 .5 0 .5-.2 .5-.4 .5-.2 .5-.1 .5 .1 .5 .1 .5 .1 .5 0 .5 0 .2-.3 .1-.1 .1 0 .1 .2 0 .1 .1 0 .1 0 .1 .1 .1 .2 .1 .1 0 .2 .1 0 .1-.1 .1-.1 .1-.1 .1 .2 0 .2 .1 .1 .1 0 .1-.1 .1-.2 .1-.3 0-.2 .1 0 .1 .2 .1 .2 .1 .1 .1 0 0-.2 .1-.1 .1 0 .1 .2 .1 .2 .1 0 0-.1 .1-.1 .1-.1 .1-.1 .1 0 .1 0 .1 .1 .1 .1 .1 .1 .1 0 .1-.1 0 .1 .1 .1 .1 .1 .1-.1 .1-.2 .1-.2 .1-.1 .1 .1 .1 .2 .1 .3 .1 .1 .1-.1 .1-.1 .1-.1 .1 0 .1 0 0 .1 .1 .1 .1 0 .1 0 .1-.1 .1-.1 .1 .1 .1 .1 .1 0 .1 .1 .1 0 0 .1 .1 0 .1 .1 .1 .1 .1 0 .1 0 0-.1 .1 0 .1-.2 .1-.2 .1-.1 .1-.1 .1 .2 .1 .2 .1 .2 .1 0 .1-.1 0-.2 .1-.1 .1 0 .1 .1 .1 .1 .1-.1 0-.2 .1-.2 .1-.1 .1 0 .1 0 .1 .1 0 .2 .1 .2 .1 .2 .1 0 .1-.1 .1 .1 0 .1 .1 0 .1-.1 .1-.1 .1 0 .1-.1 .1 .1 .1-.1 .1 0 .1-.1 .1 .1 0 .1 .1 .1 .1 0 .1-.1 .1 .1 .1 0 .1-.1 .1-.1 .1-.1 .1-.3 .1-.2 0 .1 .1 .3 .1 .2 .1 .1 .1 .1 .1 .1 .1-.1 .1 0 .1 .1 .1 .1 .1-.1 0-.2 .1-.1 .1 0 .1 0 .1 0 .1 0 .1 .1 .1 .2 .1 .1 .1-.1 .1-.1 0-.1 .1-.1 .1 0 .1 .1 .1 .2 .1 .2 .1-.1 .1-.1 .1-.2 .1-.1 .1 0 0 .1 .1 .1 .1 .2 .1 .1 .1 0 .1-.1 .1-.1 .1-.1 .1-.1 .1-.1 .1 0 0 .1 .1 .1 .1 0 .1 .1 .1 0 .1-.1 0-.2 .1-.1 .1 .1 .1 .1 .1 .2 .1 .1 0 .1 .1-.1 .1-.1 .1 0 .1-.1 .1 0 0-.1 .1-.1 .1 .1 .1 .2 .1 .1 .1 .1 0 .1 .1-.1 .1-.2 .1-.1 .1-.1 .1 0 .1-.1 .1 0 .1 .1 .1 0 .1 .1 0 .1 .1 .2 .1 .2 .1-.1 .1 0 .1 0 0 .2 .1 .1 .1 0 .1-.1 .1 0 .1-.1 .1 0 .1 0 .1-.1 .1-.2 .1-.1 .1 0 .1 .1 .1-.1 .1-.1 .1-.1 0 .1 .1 .2 .1 .1 .1 .2 .1 .1 .1 0 .1 0 .1 0 .1 .1 .1-.1 .1-.2 0-.1 .1-.1 .1 0 .1 .1 .1 .2 .1 .1 .1-.1 .1-.2 .1-.3 .1-.1 .1-.1 0 .1 .1 .2 .1 .3 .1 .2 .1 .1 .1 0 .1 0 .1-.2 .1-.2 .1-.1 .1 0 0 .2 .1 .2 .1 .2 .1 .1 .1 0 .1 .1 0 .1 .1 0 .1-.1 .1-.2 .1-.3 .1-.3 0-.1 .1 .1 .1 0 .1-.2 .1-.1 .1 .1 0 .1 .1 0 .1 0 .1-.1 .1-.1 .1-.2 0 .1 .1 .2 .1 .2 .1 .2 .1 0 .1 0 .1 .1 .1-.1 .1-.1 .1-.1 .1-.1 0-.2 .1-.2 .1-.1 .1-.1 .1 0 .1 .2 0 .2 .1 .1 .1 0 .1 0 .1 .1 .1 .1 0 .1 .1 .1 .1 0 .1-.1 .1-.2 .1-.1 .1 .1 .1 .1 .1 .1 .1 .2 .1 .1 .1-.1 .1-.2 .1-.1 .1 0 .1 .1 .1-.2 .1-.3 .1 .1 .1 .2 .1 .2 0 .2 .1-.1 .1-.2 .1-.4 .1-.3 .1-.1 0 .1 .1 .2 .1 .2 .1 0 .1-.2 .1 0 0 .2 .1 .2 .1 .3 .1 .1 .1 0 .1-.1 0-.1 .1-.1 .1-.2 .1-.1 .1-.2 .1-.1 .1 .2 .1 .1 .1 0 .1-.2 .1-.1 0-.2 .1-.2 .1 0 .1 .2 .1 .2 .1 0 0-.1 .1-.1 .1-.3 .1-.2 .1 .1 .1 .2 0 .1 .1 .1 .1 .1 .1 0 .1 0 .1-.2 0-.2 .1-.3 .1-.2 .1 0 .1 0 .1 .1 0 .2 .1-.1 .1 0 .1 0 .1 .2 .1 .1 .1-.3 .1-.2 .1 0 .1 0 .1 .1 .1-.1 .1 0 .1 .2 .1 .3 .1 .1 0-.2 .1-.4 .1-.2 .1 0 .1-.1 .1-.2 0-.2 .1-.1 .1 .1 .1 .2 .1 .2 .1 0 0-.1 .1-.1 .1 0 .1 0 .1-.2 .1-.3 0-.1 .1 0 .1-.1 .1 0 .1 .1 .1 .1 .1-.1 .1-.1 .1-.2 .1-.1 .1 0 0 .2 .1 .3 .1 .3 .1 .3 .1 .1 .1-.1 0-.2 .1-.3 .1 0 .1 0 .1 .2 .1 .1 .1-.2 .1-.2 .1-.1 .1-.1 .1-.1 0 .1 .1 0 .1 0 .1 0 0-.1 .1-.2 0-.2 .1-.1 .1 0 0 .2 .1 .2 0 .2 .1 0 0 .1 .1 .1 .1-.1 0-.2 0-.2 .1 0 .1-.2 0-.1 .1 .1 0 .1 .1 .1 0 .1 .1 0 .1 .1 0 .3 .1 0 0-.2 .1-.1 0-.1 .1 .1 0 .1 .1-.1 0-.2 0-.3 .1 .2 0 .4 .1 .4 .1-.2 0-.3 .1-.1 .1 .1 .1-.2 0-.1 .1-.1 0 .1 .1 .1 0 .2 .1 0 0-.1 .1 0 0 .1 .1 .1 0-.1 .1 0 .1 .1 0 .1 .1 0 .1 .1 .1 0 0-.1 .1 0 0 .1 .1 .1 0 .1 .1 0 0-.1 .1-.1 0-.2 0-.1 .1 0 0 .1 .1 .1 .1-.1 0-.1 .1 0 .1 .1 0 .1 0 .1 .1 0 .1-.1 0-.2 .1-.1 .1 .2 0 .2 .1 .2 0-.3 .1-.2 0 .1 .1 .2 0 .1 .1-.2 0-.3 .1-.1 0 .1 .1 .4 0 .4 0 .1 .1-.1 0-.2 .1 0 .1 .1 .1 .1 .1 0 .1 .1 .1 0 .1-.1 .1 0 0-.1 .1-.1 0-.1 .1 .1 0 .1 .1 .2 .1 0 0 .1 .1 .1 0 .1 .1 .1 0 .1 0 .1 .1 .1 .1 0 0-.3 .1-.2 0-.1 .1-.1 0-.2 .1-.1 0-.1 0 .1 .1 .4 0 .5 .1 .3 .1-.1 0-.3 .1-.2 .1 .1 0 .1 0 .1 .1-.1 0-.1 .1 0 0 .1 .1 .1 0 .1 .1 0 .1 .2 0 .2 0 .1 .1-.1 0-.2 .1-.2 .1-.1 .1-.1 .1 .1 0 .1 0 .1 .1-.1 0-.1 .1-.1 .1-.1 0-.2 .1-.1 .1 .2 0 .1 .1-.2 0-.1 .1 .2 0 .3 .1 .2 0 .1 .1-.1 0-.3 .1-.2 0 .2 .1 .3 0 .1 .1-.2 0-.2 .1-.3 .1 .1 0 .1 .1 0 0 .1 .1 .1 0-.1 .1-.2 0-.2 .1 0 0 .1 .1 .1 0 .1 .1 0 0 .2 .1 .2 0-.1 .1-.1 .1 .1 0 .1 .1 .1 .1-.1 0-.2 0-.2 .1-.1 0 .2 .1 .2 0 .1 .1-.1 0-.2 .1-.3 .1 .1 0-.1 .1-.1 .1 0 0-.1 .1 0 0 .1 .1 0 0-.1 .1 0 0 .1 0 .1 .1 .1 .1 0 .1 0 0-.1 .1-.1 .1 0 0-.1 .1 0 0-.1 .1-.1 0-.2 .1 0 0 .1 .1 .2 .1 0 0-.2 0-.2 .1 0 0 .2 .1 .2 0 .1 .1 .2 0 .2 .1 0 .1-.1 0-.2 0-.2 .1 0 0 .2 .1 .1 0-.2 .1-.2 .1 0 0 .1 .1 .1 0-.1 .1-.1 .1 .1 0 .1 .1 0 0-.3 .1-.5 0-.3 .1 0 0 .4 0 .4 .1 .2 0-.1 .1-.2 0-.1 .1-.1 0-.1 .1-.2 .1 .1 0 .2 0 .2 .1 .2 0 .1 .1 0 .1-.1 0-.1 .1-.1 0-.1 .1-.1 0-.1 0-.1 .1-.1 0 .1 .1 .1 0 .1 .1 .1 0 .2 .1 .1 .1-.1 0-.3 0-.3 .1 0 0 .1 .1 .2 0 .2 .1 0 .1-.2 0-.2 .1-.3 0-.1 .1 .1 0 .2 .1 .2 .1-.1 0-.1 .1-.2 0-.1 .1-.1 0-.1 0-.1 .1 .1 0 .3 .1 .3 0 .2 .1-.1 0-.2 .1-.2 0-.3 .1-.4 0-.2 .1 .1 0 .2 .1 .2 0 .2 .1 .1 .1-.1 0-.1 .1-.1 .1 0 0-.1 .1-.3 0-.1 .1 0 0 .1 .1 0 0-.1 .1-.3 0-.1 .1 .1 0 .1 .1 0 0 .1 .1 .1 .1-.1 0-.2 .1-.1 0 .1 .1 .1 0 .2 .1 0 .1-.3 0-.1 .1 .1 .1-.1 0-.1 .1-.1 .1-.1 0 .1 .1 0 0 .1 .1-.1 .1-.1 0-.1 .1-.1 0-.1 .1-.1 0 .1 .1 0 .1 0 0 .1 .1-.1 0-.2 0-.1 .1-.2 .1 0 .1 .1 0 .1 .1 0 .1-.1 0-.2 0-.3 .1-.2 0 .1 .1 .1 0 .2 .1 .3 0 .2 .1-.1 .1-.3 0-.2 .1 0 .1-.2 0-.1 .1 0 0 .2 .1 0 .1-.1 0 .1 .1 .1 0 .1 .1 .1 .1-.3 0-.4 .1-.5 0-.3 0-.1 .1 0 0 .2 0 .1 .1-.2 0-.2 .1 .1 0 .2 0 .2 .1 .2 0 .2 .1-.4 0-.2 .1-.2 0-.1 0-.1 0-.1 .1-.1 0 .1 .1 0 0-.1 0-.1 .1-.1 0 .1 0 .2 .1 0 0-.1 0-.1 .1-.3 0-.1 0-.1 0 .2 .1 .1 0 .2 .1-.2 0 .1 .1-.1 0 .1 .1-.1 .1-.1 0-.1 0-.2 .1-.2 0 .1 .1-.1 .1-.1 .1-.3 0-.1 0-.1 .1-.1 0 .1 0-.2 .1-.4 0-.1 0 .1 .1 .1 0 .2 .1-.2 0-.1 0 .1 .1 0 0 .2 .1-.2 0-.1 0-.1 0-.1 .1-.1 .1-.1 0-.1 0-.1 .1-.3 0 .1 0 .1 .1 0 0 .1 .1-.1 0-.1 0-.1 .1-.2 0-.1 0 .1 .1-.1 0 .1 0 .1 .1 0 0 .2 .1-.4 0-.1 0-.2 .1-.3 0-.2 0-.2 .1 .1 0 .3 0 .1 .1-.2 0-.1 0 .1 .1-.2 .1-.4 0-.1 .1-.3 0-.1 0 .2 .1 0 0 .2 0 .1 .1-.3 0-.1 0-.1 .1-.3 0 .1 0 .1 .1-.1 0-.3 .1-.6 0-.1 0 .1 0 .2 .1-.1 0 .1 0-.1 .1-.3 0 .1 0 .1 .1-.2 0-.1 .1-.4 0-.2 .1-.5 0-.3 0-.1 .1-.1 0 .2 .1-.4 0 .1 0 .2 .1-.1 0 .2 .1-.4 0-.2 0-.2 .1-.6 0-.1 0 .1 0 .1 .1-.3 0 .1 0 .1 .1-.3 0-.1 0-.1 .1-.5 0-.1 .1-.4 0 .1 .1-.3 0 .2 0-.2 .1-.6 0-.1 0-.1 .1-.5 0 .1 0 .3 .1-.2 0 .3 0 .1 .1-.6 0-.3 0-.3 .1-.6 0 .2 0-.1 .1-.6 0 .1 .1-.5 0-.1 .1-.8 0-.1 .1-.6 0 .1 .1-.8 0-.1 0 .2 .1-.5 0 .1 .1-1 0-.2 0-.1 .1-.8 0 .2 0 .1 .1-.8 .1-.8 0-.1 .1-1 .1-1 0 .1 .1-.9 0-.1 .1-1 0 .1 0 .1 .1-1.2 0-.1 0 .1 .1-1.1 0 .1 0-.2 .1-1.4 0-.1 0-.1 .1-1.4 0-.1 .1-1.4 0-.1 .1-1.4 0 .1 .1-1.6 0 .1 .1-1.6 0 .1 0-.1 .1-1.9 0-.1 .1-1.9 0 .1 .1-2.1 0-.1 0-.1 .1-2.1 .1-2.2 .1-2.4 .1-2.5 0 .1 .1-2.6 0 .1 0 .1 .1-2.7 0-.1 0-.2 .1-2.9 .1-3.1 .1-3.1 0 .1 .1-3.5 0-.1 0-.1 .1-3.5 .1-3.6 0 .1 .1-3.8 0-.1 .1-4 .1-4.3 0 .1 .1-4.4 .1-4.6 0-.1 .1-4.9 .1-5 .1-5.2 0-.1 .1-5.4 .1-5.6 0-.1 .1-5.9 .1-6 .1-6.3 0-.1 0 .1 .1-6.6 .1-6.8 0 .1 .1-7 .1-7.3 0 .1 .1-7.5 0-.1 .1-7.6 .1-7.9 .1-8.1 0-.1 .1-8.3 0 .1 .1-8.6 .1-8.7 .1-9 .1-9.2 .1-9.3 .1-9.5 0-.1 .1-9.7 .1-9.8 .1-10 .1-10.2 .1-10.3 0 .1 .1-10.4 .1-10.5 .1-10.6 .1-10.7 .1-10.7 .1-10.7 .1-10.8 .1-10.7 .1-10.8 .1-10.6 .1-10.6 .1-10.6 .1-10.3 .1-10.3 .1-10.1 .1-9.8 .1-9.7 .1-9.4 .1-9.1 .1-8.8 .1-8.5 .1-8.1 0 .1 .1-7.7 .1-7.3 .1-6.8 .1-6.3 .1-5.8 .1-5.3 .1-4.7 .1-4.1 .1-3.5 .1-2.9 .1-2.3 .1-1.7 .1-.9 .1-.4 .1 .3 .1 1 .1 1.6 .1 2.3 .1 2.9 .1 3.5 .1 4.1 .1 4.7 .1 5.2 .1 5.8 .1 6.3 .1 6.8 .1 7.2 .1 7.7 .1 8.1 .1 8.4 .1 8.8 .1 9.1 .1 9.4 .1 9.6 .1 9.9 .1 10 .1 10.2 .1 10.4 .1 10.5 .1 10.6 .1 10.6 .1 10.8 .1 10.7 .1 10.7 .1 10.7 .1 10.7 .1 10.7 .1 10.5 .1 10.5 .1 10.4 .1 10.2 .1 10.2 .1 10 .1 9.8 .1 9.7 .1 9.5 .1 9.3 .1 9.1 .1 9 .1 8.7 .1 8.5 .1 8.3 .1 8.1 .1 7.9 .1 7.7 .1 7.4 .1 7.2 .1 7 .1 6.7 .1 6.6 .1 6.2 .1 6.1 0-.1 .1 5.8 .1 5.7 0 .1 .1 5.4 0 .1 .1 5.2 .1 5 .1 4.8 0-.1 .1 4.6 0-.1 .1 4.4 .1 4.1 .1 4.1 .1 3.8 .1 3.7 0 .1 .1 3.6 0 .1 .1 3.3 .1 3.1 0-.1 .1 3.1 0 .1 0 .1 .1 2.8 0-.1 .1 2.7 0 .1 .1 2.5 .1 2.4 .1 2.3 0 .2 .1 2.3 .1 2 0-.1 .1 2 0-.1 .1 1.7 .1 1.8 0 .1 0 .1 .1 1.8 .1 1.5 .1 1.5 0 .1 .1 1.5 .1 1.4 .1 1.3 .1 1.2 0 .2 .1 1.2 0 .1 .1 1 0-.1 .1 .9 0-.1 0-.1 .1 .9 .1 .9 0-.1 .1 .6 0-.1 .1 .8 0 .1 .1 .9 0 .2 .1 .6 0-.2 .1 .6 0-.1 .1 .6 0 .1 .1 .7 0 .1 .1 .5 0-.1 0-.1 .1 .6 0 .1 .1 .7 0 .3 .1 .5 0-.2 .1 .1 0-.1 .1 .4 0 .1 0 .1 .1 .5 0 .1 .1 .4 0-.1 .1 .2 0-.1 .1 .2 0-.1 .1 .1 0-.1 .1 .3 0 .1 .1 .4 0 .1 .1 .4 .1 .2 .1 .1 0-.1 0-.1 .1 .1 .1 .4 0 .2 .1 .3 .1 .1 0-.1 .1 .1 0-.1 .1-.1 0-.2 .1 .1 0 .2 .1 .3 0 .2 .1 0 0-.1 .1-.1 0 .1 0 .1 .1 .2 .1-.1 .1 0 .1 0 .1-.1 .1 0 0-.1 .1-.1 0 .1 .1 .1 0 .2 .1 .2 0 .2 .1-.1 0-.1 0-.2 .1-.2 0-.1 .1-.3 0-.1 .1-.2 .1-.2 0-.1 .1-.4 0 .2 0 .3 .1 .1 0 .1 .1-.4 0-.1 .1-.3 0-.1 .1-.4 .1-.3 0 .1 0 .2 .1-.2 0 .1 .1-.5 0-.1 .1-.7 0-.2 .1-.6 0 .1 .1-.4 .1-.7 0-.1 .1-.7 .1-.5 0 .1 .1-.5 0 .1 .1-.8 0-.2 .1-.7 .1-.8 .1-.8 .1-.9 .1-.9 0 .2 0 .1 .1-1 0-.2 .1-1.2 0-.2 .1-1.2 .1-1.2 .1-1.1 .1-1.1 .1-1.3 .1-1.4 .1-1.5 .1-1.6 .1-1.6 .1-1.4 0 .2 .1-1.6 0-.1 .1-1.8 0-.1 .1-1.8 0-.1 .1-1.9 0 .1 .1-2 .1-2 0-.1 .1-2 .1-2 0 .1 .1-2.1 0 .1 .1-2.1 .1-2.1 .1-2.3 0-.1 .1-2.3 0-.1 .1-2.3 .1-2.4 .1-2.5 .1-2.5 .1-2.5 .1-2.5 .1-2.6 .1-2.6 .1-2.6 .1-2.6 0-.1 .1-2.6 .1-2.6 0 .1 .1-2.5 0 .1 .1-2.6 .1-2.6 0-.1 .1-2.5 .1-2.4 0 .1 .1-2.4 .1-2.4 0-.1 .1-2.4 0-.1 .1-2.3 0 .1 .1-2.3 0 .1 .1-2.2 .1-2.1 .1-1.9 .1-2 .1-1.8 .1-1.7 .1-1.5 .1-1.4 .1-1.3 .1-1.1 0-.1 .1-1 .1-.8 .1-.7 .1-.5 .1-.3 .1-.2 .1-.1 .1 .2 .1 .4 .1 .7 .1 .9 .1 1.1 .1 1.4 .1 1.6 .1 1.8 .1 2 .1 2.2 0-.1 .1 2.4 .1 2.5 .1 2.6 .1 2.8 .1 2.8 .1 3 .1 3.1 0 .1 .1 3.1 0 .1 .1 3.1 .1 3.2 .1 3.3 .1 3.3 .1 3.3 .1 3.3 .1 3.3 .1 3.3 0-.1 .1 3.3 0 .1 .1 3.3 .1 3.2 0-.1 .1 3.1 0-.1 .1 3.1 .1 3 .1 2.9 0 .1 .1 2.8 .1 2.8 0 .1 .1 2.7 0 .1 .1 2.6 .1 2.6 0 .1 .1 2.5 0 .1 .1 2.4 0 .1 .1 2.2 0-.1 0-.1 .1 2.1 0-.1 .1 2 .1 2.1 .1 2.1 .1 1.8 0-.1 .1 1.8 .1 1.8 .1 1.5 0-.1 .1 1.5 0 .2 .1 1.6 0 .1 0-.1 .1 1.3 0 .1 .1 1.4 0 .1 .1 1.2 .1 1.1 .1 1 .1 1 0-.1 .1 1 .1 1.1 0 .1 .1 .9 0-.1 .1 .7 0-.1 0 .1 .1 .9 0 .1 .1 .8 0 .1 .1 .7 .1 .4 0-.1 .1 .4 .1 .6 .1 .5 .1 .6 .1 .6 0 .1 .1 .5 0-.1 .1 .5 0 .1 .1 .5 0-.1 .1 .2 0-.2 .1 .2 0 .1 .1 .4 .1 .2 0-.2 .1 .1 0-.1 .1 .2 .1 .2 .1 .2 0 .1 .1 .2 0-.1 .1 .2 0 .2 .1 .4 0 .1 .1 .2 .1 .1 0-.1 0-.1 .1 .1 .1 .3 0 .1 .1 .3 0 .1 .1 .1 0-.1 .1 .1 0-.1 0 .1 .1 .2 .1 .1 0-.1 .1-.1 0-.1 .1 .2 0 .1 .1-.1 0-.2 0-.2 .1 .2 0 .2 .1 .5 0 .4 .1 .2 .1 0 0-.1 .1 .1 0-.2 .1-.1 .1 0 0-.2 .1-.2 0-.1 .1 .2 0 .3 .1 .3 0 .1 .1-.1 .1 .2 0 .2 .1 .1 0-.1 .1-.1 .1 0 0-.2 0-.2 .1-.1 .1 .2 0 .2 .1 .2 0 .2 .1 .1 .1 0 0-.1 .1 .2 0 .2 .1 .2 0-.2 .1-.1 .1 .1 0 .1 .1 0 0 .1 .1 .2 0 .1 .1 0 0-.2 .1-.3 0-.2 .1 .1 0 .1 .1 .2 0 .1 0 .2 .1 0 0-.1 .1 0 0 .2 .1 .2 .1-.1 0-.2 .1-.2 0-.1 .1 .1 0-.1 .1 0 0-.1 .1 0 0 .1 .1 .3 0 .3 .1 .1 0-.1 .1 0 0 .1 .1 .1 .1 0 0 .1 .1 0 0-.1 .1 0 0-.1 .1-.1 .1 0 .1 .1 .1 0 .1-.1 .1 0 0 .1 .1 .2 0 .1 .1 .1 0-.1 .1 0 .1 .1 0-.1 0-.1 .1 0 0 .2 .1 0 0-.1 .1-.2 0-.1 .1 0 0 .2 .1 .1 0-.2 0-.1 .1 0 0 .2 .1 .3 0 .3 .1 .1 0-.1 .1 .1 .1 0 0-.2 0-.1 .1 .1 .1 .2 .1-.2 0-.2 .1-.1 0 .1 .1 .3 0 .1 .1-.1 0-.2 .1-.2 0-.2 .1 0 .1 0 0 .1 .1 .2 0 .1 0-.2 .1-.1 .1 .1 .1 .3 .1 .3 .1 0 0-.1 .1 0 .1 .2 .1 0 .1 0 .1 0 .1 0 .1-.1 .1-.1 .1 .1 .1 .1 .1-.1 .1-.1 .1-.2 .1 0 .1 .2 0 .1 .1 0 .1-.1 .1 0 .1 0 .1 .2 0 .3 .1 .2 .1 .2 .1 .1 .1 .1 .1 0 0-.2 .1-.3 .1-.3 .1 0 .1 .1 .1 .1 .1 0 .1 0 .1 .1 .1 .1 .1 .1 0-.1 .1-.2 .1-.2 .1 .1 .1 .2 .1 .2 0 .1 .1 .1 .1 0 .1 0 .1 0 .1 0 .1 0 .1-.2 .1-.1 .1 0 .1 0 .1 .1 .1 0 .1 .2 .1 .2 .1 .1 0 .1 .1-.1 .1-.1 .1-.1 .1-.1 .1 .1 0 .1 .1 0 .1-.1 .1-.1 .1 .2 .1 .1 .1-.1 .1-.1 .1-.1 .1 0 .1 .1 0-.1 .1 0 .1-.1 .1 0 .1 .1 .1 .1 0 .2 .1 .3 .1 .1 .1 .1 .1-.1 .1-.1 0-.1 .1 0 .1-.1 .1-.1 .1 0 .1 0 .1-.1 .1 .1 .1 0 .1 0 .1 0 .1 0 .1 .1 .1 .2 .1 .1 .1 .1 0-.1 .1-.1 .1-.1 .1-.1 .1 0 .1-.1 0-.1 .1 0 .1 .2 .1 .2 .1 0 .1-.2 0-.3 .1-.1 .1 .1 .1 .2 .1 .1 .1 .2 0 .2 .1 .2 .1 0 .1-.1 .1-.2 .1-.2 0-.1 .1 .1 .1 .2 .1 .3 .1 0 .1-.2 0-.2 .1-.3 .1-.3 .1-.2 .1-.1 .1 .2 0 .2 .1 .4 .1 .3 .1 .1 .1 0 .1-.1 0-.1 .1-.3 .1-.1 .1 0 .1 .3 .1 .3 0 .3 .1 .3 .1 .2 .1 0 .1-.2 .1-.1 0-.2 .1-.1 .1 0 .1 0 .1 .1 .1 .1 .1 0 .1-.2 .1-.1 .1 0 .1 0 .1-.2 .1-.2 .1 .1 .1 .3 .1 .4 0 .2 .1 .1 .1-.2 .1-.1 .1-.2 .1 0 0 .1 .1 .1 .1 .1 .1 .2 .1 .2 .1 0 0-.3 .1-.4 .1-.1 .1-.1 .1 0 .1 0 0 .1 .1 .1 .1 .1 .1 0 .1-.1 .1 0 0 .1 .1 .2 .1 .1 .1 0 .1-.1 .1-.1 0-.1 .1-.1 .1 0 .1-.1 .1-.2 .1-.1 0-.1 .1 0 .1 .3 .1 .3 .1 .3 .1 .1 0-.2 .1-.2 .1 0 .1 0 .1 0 .1 0 .1 0 .1 .1 .1 .1 .1 .1 .1 0 .1 .1 .1 0 .1-.1 .1-.2 .1-.1 0-.1 .1-.1 .1 0 .1 .1 .1 .2 .1 .1 0 .1 .1 0 .1-.1 .1-.3 .1-.1 .1 .1 0 .1 .1 .2 .1 .2 .1 0 .1-.1 .1-.1 0-.1 .1 .1 .1 .1 .1-.1 .2-.2 .5 0 .5 .3 .5 .3 .5 0 .5-.2 .5-.4 .5-.2 .5 0 .5 .4 .5 .5 .5 .3 .5 .1 .5 0 .5 0 .5 .1 .5 .1 .5 .1 .5 0 .5-.1 .5-.3 .5-.1 .1-.1 .1-.1 .1-.1 .1 0 .1-.1 0-.1 .1 .1 .1 .1 .1 0 .1 .2 .1 .2 0 .2 .1 .1 .1-.1 .1-.1 .1-.2 .1-.2 0-.2 .1-.1 .1 0 .1 .1 .1 .3 .1 .3 0 .2 .1 0 .1-.2 .1-.2 .1-.1 .1 .1 0 .3 .1 .1 .1-.2 .1-.1 .1 0 .1 .1 0-.1 .1-.1 .1 0 .1 0 .1 .1 .1 .1 0 .2 .1 .1 .1 0 .1-.1 .1-.2 .1 0 .1 .1 .1 .1 .1 .1 .1-.1 .1-.2 .1 .1 .1 .1 .1 .2 .1 .1 .1-.1 0-.3 .1-.2 .1 0 .1 .1 .1 .1 .1 0 0-.1 .1 0 .1 .1 .1 0 .1-.1 .1-.1 0-.1 .1-.2 .1-.1 .1 0 .1 .1 .1 .2 0 .1 .1 0 .1-.1 .1 0 .1 .1 .1 .2 .1-.1 .1-.1 .1-.1 .1 .2 .1 .3 0 .3 .1 .1 .1 0 .1 0 .1-.2 .1-.2 0-.2 .1-.1 .1 .1 .1 0 .1 0 .1-.2 0-.2 .1 0 .1 .1 .1 .1 .1-.1 .1-.3 0-.2 .1-.2 .1-.1 .1 .1 .1 .3 .1 .3 0 .4 .1 .3 .1 .1 .1 .1 .1 .1 .1 .2 0 .1 .1-.3 .1-.4 .1-.2 .1-.1 .1 0 .1 .1 .1 .3 .1 .2 .1 0 .1-.1 0-.1 .1 0 .1 .1 .1 0 .1 0 .1 .1 0-.1 .1-.1 .1-.3 .1-.1 .1 .1 .1 .1 .1-.1 .1 0 .1 .1 .1 .1 .1-.1 0-.1 .1 0 .1 0 .1 .2 .1 .1 .1 0 0-.2 .1-.2 .1-.2 .1 .1 .1 .2 .1 .3 0 .2 .1 .2 .1 .1 .1 0 .1-.2 .1-.2 0-.2 .1-.1 .1 0 .1-.1 .1-.1 .1 0 0 .3 .1 .2 .1 0 .1-.1 .1-.2 .1 0 0 .1 .1 0 .1 0 .1-.1 .1 0 .1 0 0-.1 .1-.2 .1-.1 .1-.1 .1-.1 .1-.1 0 .1 .1 .2 .1 .3 .1 .2 .1 .2 .1 .1 0-.1 .1-.1 .1-.1 .1-.3 .1-.2 .1-.1 0 .1 .1 .2 .1 .2 .1 .2 .1 .3 .1 .2 .1-.3 .1-.3 .1-.3 .1 0 .1 .2 0 .1 .1 .1 .1-.1 .1-.2 .1-.2 .1 0 .1 .1 .1 0 .1 0 .1 .1 .1 .1 0 .2 .1 .1 .1 0 .1-.1 .1-.2 .1-.2 0-.1 .1 0 .1 .3 .1 .2 .1 .2 .1 .1 0-.1 .1-.1 .1 0 .1 0 .1 0 .1 .1 .1 0 .1 0 .1-.1 .1-.2 .1-.1 .1 .1 .1 0 .1 0 .1 0 .1 .2 0 .2 .1 .2 .1 .1 .1-.1 .1-.1 .1 0 0 .1 .1 .2 .1 .1 .1 .1 .1-.1 .1-.4 0-.3 .1 0 .1 .2 .1 .2 .1 .1 .1-.1 .1-.1 .1-.3 .1-.2 .1-.2 .1 0 .1 .1 .1 .2 .1 .1 .1 0 .1 .1 0 .1 .1-.1 .1 0 .1-.1 .1 .1 .1 0 .1 0 .1 .1 .1 0 .1-.2 .1-.2 0-.2 .1 .2 .1 .5 .1 .4 .1 .2 .1-.2 0-.3 .1-.2 .1-.1 .1 .1 .1 .1 .1 0 0 .1 .1 0 .1-.1 .1 0 .1 0 .1 .1 0 .2 .1 .1 .1-.3 .1-.4 .1-.4 .1-.1 0 .1 .1 .2 .1 .2 .1 .1 .1 0 .1 0 0 .1 .1 0 .1 .1 .1 0 .1-.1 .1 0 0-.1 .1-.3 .1-.2 .1 0 .1 .1 .1 .1 0 .2 .1 .1 .1 .2 .1 .1 .1 0 .1-.2 0-.1 .1-.1 .1-.2 .1-.3 .1-.1 .1 .3 0 .5 .1 .4 .1-.1 .1-.2 .1-.2 .1-.1 0-.1 .1-.1 .1-.2 .1-.1 .1 0 .1 .3 0 .3 .1 0 .1-.1 .1-.1 .1-.2 .1-.1 .1 0 .1 .1 .1 .1 .1 0 .1 0 0 .1 .1 0 .1-.1 .1-.2 .1-.2 .1-.2 .1 .2 .1 .2 .1 .1 .1-.1 .1-.1 0-.1 .1-.2 .1-.1 .1-.1 .1 .1 .1 0 0 .1 .1 .1 .1-.1 .1-.2 .1-.2 .1-.1 0 .1 .1 .1 .1 .1 .1 0 .1 0 .1 0 0 .2 .1 0 .1 .1 .1 0 .1 .1 .1 0 0-.1 .1-.2 .1-.3 .1-.2 .1-.2 .1-.2 0-.1 .1-.1 .1 .2 .1 .2 .1 .1 .1 .1 .1-.2 .1-.2 .1 0 .1 .1 .1 0 0 .1 .1 0 .1 0 .1-.1 .1-.2 .1-.2 0-.1 .1 0 .1 .2 .1 0 .1-.1 .1 0 0 .1 .1 .2 .1 0 .1-.2 .1-.2 .1-.1 .1 0 .1 0 .1 .1 .1-.1 .1-.1 0-.1 .1 .1 .1 .1 .1 .1 .1 0 .1 0 0 .1 .1 .1 .1-.1 .1 0 .1 0 .1 .1 0-.1 .1-.2 .1-.3 .1-.1 .1 .2 .1 .3 0 .2 .1 0 .1 0 .1 .1 .1-.1 .1-.1 0-.2 .1-.2 .1-.2 .1-.1 .1 0 .1 .1 0 .2 .1 .2 .1 0 .1 0 .1 0 .1 .1 0 .2 .1 .2 .1 .1 .1 0 .1-.1 .1-.1 0-.2 .1-.1 .1-.1 .1-.1 .1 0 .1 .2 0 .1 .1 .1 .1 0 .1 0 .1-.1 .1-.1 .1 .1 .1 .1 .1 .1 .1 .1 .1 .2 .1 0 .1 0 .1-.1 .1 0 .1-.1 0-.2 .1 0 .1 .2 .1 .2 .1 .1 .1 0 0 .1 .1 .1 .1 .1 .1 .1 .1-.1 .1 0 0-.1 .1 .1 .1-.1 .1-.1 .1 0 .1 .1 0 .1 .1 .1 .1-.1 .1-.1 .1 .1 .1 .2 .1 0 .1-.1 .1-.1 .1-.2 .1 0 .1 .1 .1 .2 .1 .1 .1 0 .1 0 0 .2 .1 .3 .1 .3 .1 0 .1-.2 .1-.2 .1 0 .1 0 .1 0 .1 0 .1 .1 0 .2 .1 .2 .1 .1 .1 0 .1 0 .1 .1 .1-.1 .1-.1 .1 0 .1 0 .1 0 0-.1 .1-.2 .1-.1 .1 0 .1 0 .1 .1 0 .1 .1 .3 .1 .1 .1-.1 .1-.1 .1 .1 0 .1 .1 .1 .1 .1 .1-.1 .1-.3 .1-.2 .1 .1 .1 .1 .1 .1 .1-.1 .1-.2 0-.1 .1 .2 .1 .4 .1 .3 .1 0 .1-.2 0-.3 .1 .1 .1 .3 .1 .4 .1 .2 .1 0 0-.2 .1-.1 .1-.1 .1-.1 .1-.1 .1 0 0-.1 .1 0 .1 .2 .1 .1 .1 .1 .1-.1 0-.2 .1-.3 .1-.2 .1-.2 .1 0 .1 .1 0 .3 .1 .4 .1 .3 .1 .2 .1 0 .1-.1 0-.2 .1-.2 .1-.2 .1-.2 .1 .1 .1 .2 0 .2 .1 .1 .1-.1 .1 0 .1 0 .1 .2 0 .1 .1-.1 .1-.2 .1-.1 .1 .1 .1 .1 0-.1 .1 0 .1 .2 .1 .2 .1 .2 .1-.1 0-.3 .1-.3 .1-.1 .1 .1 .1 .1 .1 0 .1-.1 .1 .1 .1 .2 .1 .1 .1 .1 .1 0 .1 0 .1 .1 .1 0 .1-.1 0-.1 .1 0 .1 0 .1 0 .1-.1 .1-.1 0-.1 .1-.1 .1 .1 .1 .1 .1 0 .1-.1 0-.1 .1 0 .1 0 .1 0 .1-.1 .1-.1 0 .1 .1 .2 .1 .3 .1 .2 .1 0 .1-.1 0-.2 .1-.3 .1-.3 .1-.1 .1 .1 .1 .1 0 .1 .1 0 .1-.1 .1-.1 .1 0 .1 .1 0 .1 .1 .2 .1 .2 .1 .2 .1 .1 .1 0 .1-.1 .1 0 .1-.1 .1-.1 .1-.1 .1-.1 .1-.1 .1-.1 .1 .1 .1 .3 0 .1 .1-.1 .1-.2 .1-.1 .1 .1 .1 .2 0 .3 .1 .1 .1-.1 .1-.1 .1-.2 .1-.1 0-.2 .1-.2 .1-.1 .1 .1 .1 .2 .1 .1 .1-.1 .1-.1 .1 .1 .1 .1 .1 .2 0 .2 .1 .2 .1-.1 .1-.2 .1-.3 0-.1 .1 .1 0 .2 0 .2 .1 0 0-.1 .1-.1 0 .1 .1 .2 0 .2 .1 0 .1 .1 0-.1 .1-.2 0-.2 .1-.2 0-.1 .1-.2 0-.1 .1-.1 0 .2 .1 .3 0 .3 .1-.2 0-.1 .1 .2 0 .2 .1 .1 .1-.1 0-.1 .1-.1 0-.2 .1-.3 .1 .1 0 .2 .1 .1 0 .1 .1 0 0 .1 .1 .1 0 .1 .1-.1 0-.2 .1-.2 0-.1 .1 .1 0 .1 .1 0 .1 .1 0-.1 0-.1 .1-.2 .1 .1 0 .1 .1-.1 0-.2 .1-.1 0 .1 .1 .3 0 .2 0 .1 .1-.2 0-.3 .1-.1 .1 0 .1 .1 0 .2 .1 .1 0-.1 0-.1 .1-.2 .1 .2 0 .2 .1 .1 .1-.1 0 .1 .1 .1 0-.1 .1-.2 .1 0 .1-.2 0-.3 .1-.2 0 .1 .1 .2 0 .4 0 .2 .1 .1 .1-.1 .1 0 .1 0 0-.1 .1-.1 0 .1 .1 0 0-.1 .1-.2 0-.2 .1 0 0 .1 .1 .1 .1 .2 0 .2 0 .2 .1 0 0-.1 .1-.2 .1 0 0 .1 .1 0 0-.2 .1-.2 0 .1 .1 .2 0 .3 .1 .3 0 .1 .1-.1 0-.1 .1-.1 .1 0 0-.2 0-.2 .1-.1 0 .1 .1 .1 .1-.1 0-.3 .1-.1 .1 .2 0 .1 .1 0 0 .1 .1 .1 0-.1 .1-.1 0-.1 .1 .2 0 .2 .1 .2 0-.1 .1-.2 0-.2 .1 0 .1 .2 0 .2 .1 .1 .1-.1 0-.3 0-.3 .1-.3 0 .1 .1 .2 0 .4 .1 .3 0 .1 .1 0 0-.2 .1-.2 0-.1 0-.1 .1-.1 0-.1 .1 .1 0 .2 .1 .2 0 .1 .1 0 0-.1 .1 0 0 .1 .1 0 0-.1 .1 .1 0 .2 .1 0 0-.2 .1-.3 0-.1 .1 .1 0 .2 .1 .1 .1-.2 0-.1 .1 0 .1-.1 0-.1 .1-.1 0 .1 0 .1 .1 0 .1 0 0 .1 .1 0 .1 0 0-.1 .1-.1 0-.2 .1 .1 0 .2 .1 .1 0-.1 .1-.2 0-.2 .1 .1 0 .1 .1 0 0-.1 0-.2 .1-.1 .1 0 0 .1 .1 .1 0 .2 .1 .1 0 .1 .1 .1 0-.1 .1-.1 .1 .1 .1 .1 .1 0 0-.1 .1 .1 0 .1 0 .2 .1 0 .1-.1 .1-.2 0-.2 .1 0 .1 .1 0 .2 0 .2 .1 .1 0-.1 .1-.1 0-.1 .1-.2 0-.1 .1 0 0 .3 .1 .2 0-.1 0-.1 .1-.2 0-.2 .1-.1 0-.1 .1 0 .1 .2 0 .2 .1 .3 0 .1 0 .1 .1 0 0-.2 .1-.2 .1 0 .1 0 0-.1 .1-.1 0-.1 0-.1 .1-.1 0 .2 .1 .4 0 .3 .1 .1 0-.1 .1-.2 0-.3 .1-.4 0-.2 .1 .2 0 .2 .1 .2 0 .2 .1 .2 0-.1 .1-.3 0-.2 .1 .1 0 .2 0 .3 .1 0 0-.1 .1-.2 0-.1 .1 .1 0 .1 .1-.1 0-.3 .1 0 0 .3 0 .3 .1-.1 0-.2 .1-.1 .1-.1 0-.1 .1-.1 0 .1 .1 .3 0 .1 .1 0 .1-.1 .1 0 .1 .1 .1 0 0-.1 .1 0 .1 0 .1 0 .1 0 .1 .1 .1 .1 .1 0 .1-.1 .1-.2 .1-.2 0-.2 .1-.1 .1 0 .1 .3 .1 .2 .1 .2 0-.1 .1-.1 .1-.1 .1-.1 .1-.1 .1 0 0 .1 .1 .1 .1 0 .1 .1 .1 .1 .1 .1 0 .1 .1 .1 .1 .1 .1-.1 .1-.1 .1-.1 .1-.1 .1 0 .1-.1 .1 0 .1 0 .1 .1 .1 .2 .1 .1 .1-.1 .1-.1 0-.2 .1-.1 .1-.2 .1-.1 .1 0 .1 0 0 .1 .1 .1 .1 .2 .1 .1 .1 .2 .1 0 .1-.1 .1-.2 .1 0 .1 .1 .1 .1 .1-.1 .1-.1 .1 .1 .1 0 .1 .1 .1-.2 .1-.1 .1-.1 .1 .1 .1 0 0-.1 .1-.1 .1-.1 .1 .2 .1 .3 .1 .2 .1 0 .1 .1 .1 .1 .1 .1 .1 0 0-.3 .1-.4 .1-.1 .1 0 .1 .1 .1 .1 0-.1 .1 0 .1 0 .1 0 .1 .1 .1 0 0 .1 .1 .1 .1 .2 .1 .1 .1 0 .1-.1 0-.2 .1 0 .1 0 .1-.2 .1-.2 .1-.1 .1 0 .1 0 .1 0 .1 .1 .1 .2 0 .2 .1 .1 .1-.2 .1-.2 .1-.2 .1-.1 0-.1 .1 0 .1 0 .1 .1 .1 .2 .1 .2 0 .1 .1-.1 .1-.1 .1-.1 .1 .2 .1 .3 0 .3 .1 .2 .1 0 .1-.1 .1 0 .1 0 .1 0 .1-.2 .1-.2 .1-.3 .1-.2 0-.1 .1 .1 .1 .2 .1 .3 .1 0 .1-.1 0-.2 .1-.1 .1 .1 .1 .3 .1 .1 .1-.1 0-.2 .1-.3 .1-.1 .1 0 .1 .1 .1 0 0-.1 .1-.1 .1 0 .1 0 .1 .1 .1 0 .1-.1 .1-.1 .1-.1 .1 0 .1 0 0 .1 .1 .1 .1 0 .1-.2 .1 0 .1 .1 0 .1 .1 .1 .1-.1 .1-.2 .1-.2 .1-.1 .1 .1 .1 0 .1 .1 .1-.1 .1 0 0 .1 .1 .1 .1 .1 .1 0 .1-.2 .1-.2 0-.2 .1-.3 .1-.2 .1-.1 .1 0 .1 0 0 .2 .1 0 .1 0 .1-.2 .1-.2 .1-.1 0 .1 .1 .1 .1 0 .1 0 .1 0 .1 0 0 .1 .1-.1 .1-.2 .1-.3 .1-.2 .1-.2 .1 0 .1 .1 .1 .1 .1 0 .1 0 .1-.2 .1-.3 .1-.4 .1-.2 .1-.1 0 .3 .1 .2 .1 .1 .1 0 .1 .1 .1 0 .1-.2 .1-.2 .1-.1 .1 0 .1 .1 .1 0 .1 0 .1 0 .1-.1 .1-.1 0 .1 .1 .1 .1-.1 .1-.2 .1-.1 .1 .1 0 .2 .1 0 .1-.3 .1-.4 .1-.3 .1 .1 .1 0 .1-.1 .1 0 .1 .1 .1 .2 0 .2 .1 0 .1 0 .1 .1 .1 .1 .1 .1 .1 0 .1-.1 .1 0 .1 .1 .1 0 .1 0 .1-.1 .1 0 .1-.1 .1-.1 0-.1 .1 .1 .1 0 .1 .1 .1 .2 .1 .2 0 .3 .1 .2 .1 0 .1-.1 .1-.1 .1 0 .1-.1 .1-.1 .1 0 .1 0 .1-.2 0-.2 .1 .1 .1 .3 .1 .3 .1 .3 .1 .1 .1 .1 .1 .1 .1 .2 .1 0 .1-.2 0-.2 .1 0 .1 .1 .1 .3 .1 .2 .1 .1 .1-.1 .1 .1 .1 0 .1 .1 .1 0 0-.1 .1-.1 .1 .1 .1 .1 .1 0 .1 .1 0 .1 .1 .2 .1 0 .1 0 .1 0 .1 .1 .1 .2 .1 .1 .1 0 .1-.2 .1-.1 0-.1 .1 .2 .1 .3 .1 .2 .1 .2 .1 .1 0 .1 .1 .1 .1 .1 .1 0 .1-.1 .1-.2 0-.2 .1 0 .1-.1 .1 0 .1 0 .1 .3 0 .2 .1 .2 .1 .1 .1 .1 .1 0 .1 0 0-.1 .1 0 .1 0 .1 .1 .1 .2 .1 0 .1-.2 .1-.2 .1-.1 .1 0 .1 .1 0 .2 .1 .1 .1 .1 .1 0 .1 0 .1 0 .1 .1 .1 .2 .1 .1 .1-.1 .1 0 .1 0 .1-.1 .1-.1 .1 0 .1 .1 .1 .2 .1 .2 .1 .1 .1-.1 .1-.4 0-.3 .1 .1 .1 .3 .1 .2 .1 .1 .1-.1 0 .1 .1 .1 .1 .1 .1-.1 .1 0 .1 0 .1 0 .1 .1 .1-.1 .1-.1 .1-.1 .1 0 .1 .1 .1 .2 .1 .1 .1 .1 0 .1 .1 0 .1-.1 .1-.1 .1-.2 .1-.1 0-.1 .1 .1 .1 .1 .1 .2 .1 .2 .1 .1 .1 0 .1-.1 .1-.1 .1 0 .1 0 0-.3 .1-.4 .1-.2 .1 0 .1 .3 .1 .2 .1-.2 .1 0 .1 .1 .1 .2 .1 .1 .1 0 .1 0 .1 0 .1-.2 .1-.2 .1 .2 .1 .1 .1 0 .1-.1 .1-.1 0 .1 .1 0 .1 .1 .1 .1 .1 .1 .1 0 0-.2 .1 0 .1 .1 .1 0 .1-.1 .1-.2 0-.2 .1-.1 .1 .1 .1 .3 .1 .2 .1 .2 0 .2 .1 .1 .1 0 .1-.2 .1-.4 .1-.2 .1 .2 .1 .3 .1 .1 .1 .1 .1 .1 .1 .1 .1 0 .1-.1 .1-.2 .1-.2 0-.1 .1 .1 .1 .1 .1 .1 .1 .1 .1 .1 .1-.1 .1-.2 .1-.2 .1 0 .1 .1 0 .2 .1 .1 .1 .1 .1-.1 .1-.2 .1-.2 .1 .1 .1 .1 .1 .1 .1 0 .1-.1 0-.1 .1-.1 .1-.1 .1 0 .1 .1 .1 .1 .1 0 .1 0 .1 0 .1 .2 .1 .2 0 .1 .1 0 .1-.1 .1 0 .1 .1 .1 .1 .1 .1 .1-.1 .1-.2 .1-.2 .1 0 0-.1 .1 .1 .1 .1 .1 .3 .1 .2 .1 .2 0 .1 .1 0 .1-.3 .1-.4 .1-.1 .1 0 0 .3 .1 .1 .1-.1 .1-.2 .1-.1 .1 .1 .1 0 .1-.2 .1-.2 .1-.1 .1-.1 0 .1 .1 .3 .1 .2 .1 .1 .1 .2 .1 0 .1-.1 .1-.1 .1-.2 .1-.1 .1 0 0 .1 .1 .1 .1 0 .1 .1 .1 .1 .1 0 0 .1 .1 0 .1 .1 .1 .1 .1 .1 .1 0 .1-.2 .1 0 .1 .1 .1 .2 .1 0 0-.1 .1-.2 .1-.1 .1 0 .1 0 .1-.2 0-.1 .1-.1 .1 0 .1 .1 .1 .2 .1 .1 .1 0 .1-.1 .1-.1 .1 0 .1-.1 0 .1 .1 .1 .1 0 .1-.1 .1 0 .1 0 .1 0 .1 .2 .1 .1 .1 0 .1 .1 0 .1 .1 .1 .1-.1 .1-.1 .1 0 .1-.1 0-.1 .1-.1 .1-.1 .1 0 .1 0 .1 .1 0 .4 .1 .2 .1-.1 .1-.2 .1-.2 .1-.1 0-.1 .1 .1 .1 .3 .1 .2 .1 .1 .1 0 0-.3 .1-.1 .1-.1 .1 .1 .1 0 .1-.1 0-.2 .1-.1 .1 0 .1 .1 .1 0 .1 .1 0 .1 .1 .1 .1 .1 .1 .1 .1 .2 .1 .1 0-.1 .1-.2 .1-.2 .1-.2 .1 0 .1 0 0 .2 .1 .2 .1 .2 .1 0 .1-.1 .1-.2 0-.1 .1-.2 .1 0 .1 .1 .1 .2 .1 .3 0 .1 .1 0 .1-.1 .1 0 .1 0 .1 .1 0 .1 .1 .1 .1 .2 .1 0 .1-.1 .1-.2 0-.3 .1-.3 .1-.2 .1 .1 .1 0 .1-.1 0-.1 .1-.1 .1 0 .1 .2 .1 .2 .1 .1 0 .1 .1 0 .1-.1 .1 0 .1 0 .1 .2 0 .3 .1 0 .1-.1 .1 0 .1 .1 .1 .1 .1-.1 .1-.2 .1 0 .1 .1 .1 .1 .1 0 .1-.1 .1-.2 .1-.1 .1 0 0 .3 .1 .2 .1 .1 .1-.1 .2 0 .5 0 .5-.2 .5-.1 .5 .1 .5 .1 .5 .1 .5 .1 .5 .1 .5 .2 .5 .2 .5 .2 .5 .1 .5 0 .5 .1 .5 0 .5 0 .5-.1 .5-.2 .5-.1 .5-.2 .5-.1 .5-.1 .5 .1 .5 .1 .5 .2 .5 .2 .5 0 .5 0 .5 0 .5 0 .5 0 .5-.1 .5-.2 .5-.2 .5-.1 .5 0 .5 .2 .5 .3 .5 .2 .5 0 .5 0 .5 0 .5 0 .5 0 .5 0 .5 0 .5 0 .5 .2 .5 .2 .5 .1 .5 0 .5 .1 .5-.1 .5-.1 .5-.1 .5 .1 .5 .2 .5 .2 .5 .2 .5 0 .5-.1 .5-.2 .5-.2 .5 .1 .5 .2 .5 .1 .5 0 .5-.1 .5-.1 .5 .1 .5 .1 .5 0 .5 0 .5 .1 .5 .2 .5 .1 .5 0 .5 0 .5 0 .5 0 .5 .1 .5 .2 .5 .1 .5 0 .5-.1 .5 .1 .5 .2 .5 .1 .5-.1 .5-.2 .5-.3 .5-.2 .5 0 .5-.1 .5 0 .5 0 .5 .1 .5 .3 .5 .3 .5 .1 .5 0 .5 0 .5 .1 .5 .1 .5-.1 .5 0 .5 0 .5 0 .5 0 .5 .1 .5 0 .5-.1 .5-.2 .5 0 .5 .1 .5 .2 .5 .3 .5 .1 .5 0 .5-.1 .5-.1 .5 0 .5 .2 .5 .2 .5 0 .5-.1 .5 0 .5 .1 .5 0 .5-.1 .5-.2 .5-.2 .5-.2 .5-.1 .5 0 .5 .1 .5 .3 .5 .2 .5 0 .5-.1 .5 0 .5 .1 .5 .1 .5-.1 .5-.2 .5-.3 .5-.2 .5 .1 .5 .1 .5 .1 .5 0 .5 0 .5 .1 .5 .1 .5 .1 .5-.1 .5-.2 .5-.1 .5 0 .5 .1 .5 .2 .5 0 .5 .1 .5-.1 .5-.2 .5-.2 .5-.1 .5 .2 .5 .2 .5 .2 .5 .2 .5 .2 .5 0 .5-.2 .5-.2 .5-.2 .5 0 .5 .1 .5 .2 .5 .1 .5-.1 .5-.2 .5-.2 .5 0 .5 0 .5 .2 .5 .1 .5 .1 .5 .2 .5 0 .5 0 .5-.1 .5-.2 .5-.1 .5 0 .5 .1 .5 0 .5 0 .5 0 .5 0 .5 0 .5 0 .5-.2 .5-.2 .5 0 .5 .1 .5 .2 .5 0 .5-.1 .5-.1 .5-.1 .5-.1 .5-.1 .5 0 .5 .1 .5 0 .5 0 .5-.2 .5-.1 .5-.1 .5 0 .5 0 .5-.1 .5-.2 .5-.2 .5-.3 .5-.2 .5-.1 .5 0 .5-.3 .5-.4 .5-.5 .5-.6 .5-.3 .5-.1 .5 .2 .5 .1 .5-.1 .5-.1 .5-.1 .5-.1 .5-.2 .5-.1 .5 .1 .5 .3 .5 .4 .5 .2 .5 .1 .5 0 .5-.1 .5-.1 .5 .1 .5 .2 .5 .3 .5 .4 .5 .4 .5 .2 .5 .3 .5 .2 .5 .2 .5 .2 .5 .2 .5 .2 .5 .1 .5 0 .5-.1 .5-.1 .5 0 .5 .1 .5 .2 .5 0 .5 .1 .5 0 .5 .1 .5 0 .5 .1 .5 .1 .5 .1 .5 .1 .5 .2 .5 0 .5-.1 .5-.1 .5 .1 .5 .3 .5 .2 .5 .1 .5 .1 .5-.1 .5-.2 .5-.2 .5-.1 .5 0 .5 .1 .5 0 .5 0 .5-.2 .5-.1 .5 0 .5-.2 .5-.2 .5-.2 .5-.2 .5-.1 .5-.1 .5-.1 .5 0 .5 .1 .5 .1 .5 0 .5-.1 .5-.1 .5-.1 .5-.2 .5-.2 .5-.2 .5-.2 .5-.3 .5-.2 .5-.3 .5-.3 .5-.3 .5-.3 .5-.1 .5-.2 .5-.3 .5-.3 .5-.3 .5-.3 .5-.3 .5-.3 .5-.2 .5-.4 .5-.3 .5-.4 .5-.3 .5-.4 .5-.6 .5-.5 .5-.3 .5 .1 .5 .4 .5 .3 .5 .2 .5 0 .5-.1 .5-.1 .5 0 .5 .2 .5 .4 .5 .3 .5 .3 .5 .3 .5 .3 .5 .4 .5 .4 .5 .3 .5 .1 .5 .2 .5 .2 .5 .3 .5 .2 .5 .3 .5 .3 .5 .3 .5 .1 .5 .3 .5 .3 .5 .2 .5 .1 .5 .3 .5 .3 .5 .3 .5 .2 .5 0 .5-.1 .5 .1 .5 .3 .5 .5 .5 .3 .5 0 .5-.2 .5-.3 .5-.2 .5 .2 .5 .4 .5 .4 .5 .3 .5 .1 .5 .3 .5 .3 .5 .2 .5 0 .5-.2 .5-.3 .5-.2 .5-.1 .5 0 .5 .1 .5 .1 .5 .1 .5 0 .5-.1 .5-.1 .5 0 .5 .1 .5 .1 .5 .1 .5-.1 .5-.1 .5 0 .5 .1 .5 .3 .5 .2 .5 0 .5-.1 .5-.1 .5-.1 .5 .2 .5 .2 .5 .1 .5 .1 .5-.2 .5-.3 .5-.4 .5-.2 .5 0 .5 .1 .5 0 .5-.1 .5 0 .5 .1 .5 .2 .5 .2 .5 0 .5-.1 .5 0 .5 .2 .5 .1 .5 .1 .5 .2 .5 .2 .5 0 .5-.1 .5-.3 .5-.1 .5-.1 .5-.2 .5-.2 .5-.1 .5 .1 .5 .2 .5 .3 .5 .1 .5 .2 .5 0 .5-.1 .5-.3 .5-.3 .5-.1 .5 0 .5 .2 .5 .1 .5 .1 .5 .1 .5 .1 .5 .1 .5 0 .5-.1 .5-.1 .5-.1 .5 .1 .5 0 .5 0 .5-.2 .5-.1 .5 .1 .5 .1 .5 .1 .5 0 .5 0 .5-.1 .5 0 .5 .1 .5 .2 .5 .1 .5 0 .5 .1 .5-.1 .5-.1 .5-.1 .5 0 .5 .2 .5 .3 .5 .2 .5-.1 .5-.3 .5-.3 .5 0 .5 .2 .5 .1 .5 0 .5-.3 .5-.2 .5-.2 .5 .1 .5 .1 .5 0 .5-.1 .5 .1 .5 .3 .5 .4 .5 .3 .5 0 .5-.3 .5-.5 .5-.4 .5-.2 .5 0 .5 0 .5 .1 .5 .1 .5 .2 .5 .2 .5 0 .5 0 .5 0 .5 0 .5-.1 .5-.1 .5-.2 .5-.1 .5 .1 .5 0 .5 0 .5 0 .5 0 .5 .1 .5 0 .5 .1 .5 0 .5 0 .5 0 .5-.1 .5-.1 .5 0 .5 .1 .5 .1 .5 .2 .5 0 .5 0 .5-.1 .5 .1 .5 .1 .5 .2 .5-.1 .5-.3 .5-.1 .5 0 .5 .2 .5 .1 .5 0 .5 0 .5-.2 .5-.1 .5-.1 .5-.1 .5 0 .5 .2 .5 .1 .5-.1 .5-.1 .5 0 .5 0 .5 0 .5-.1 .5-.1 .5-.2 .5-.1 .5 0 .5 .2 .5 .2 .5 0 .5 0 .5 0 .5 .1 .5 .2 .5 .1 .5 .1 .5 0 .5-.1 .5-.2 .5-.2 .5-.2 .5-.2 .5-.1 .5 .1 .5 .3 .5 .3 .5 .2 .5 .2 .5 0 .5-.2 .5-.3 .5-.2 .5 0 .5 0 .5 .1 .5 .1 .5 .1 .5 .1 .5 0 .5 0 .5-.1 .5-.2 .5 0 .5 0 .5 0 .5 .2 .5 .1 .5 0 .5 0 .5-.1 .5-.1 .5 0 .5 0 .5 0 .5 0 .5-.1 .5-.2 .5 .1 .5 .1 .5 .2 .5 0 .5 0 .5-.1 .5-.1 .5-.1 .5-.1 .5-.1 .5 0 .5-.1 .5 0 .5 .1 .5 .1 .5 .2 .5 .2 .5 .2 .5-.1 .5 0 .5-.1 .5 0 .5-.1 .5-.1 .5-.2 .5-.2 .5-.2 .5 0 .5 .1 .5 .2 .5 .1 .5 .1 .5-.2 .5-.2 .5-.2 .5 0 .5-.1 .5 0 .5 .1 .5 .2 .5 .2 .5 .3 .5 0 .5-.2 .5-.3 .5-.4 .5-.2 .5 .1 .5 .1 .5 .1 .5 0 .5-.1 .5-.1 .5-.1 .5 0 .5-.2 .5-.3 .5-.3 .5-.1 .5 0 .5 .2 .5 .1 .5 .1 .5-.2 .5-.2 .5-.3 .5-.3 .5-.2 .5-.2 .5-.1 .5 0 .5 .1 .5 0 .5 0 .5 .1 .5 .1 .5 .1 .5 .1 .5-.1 .5-.1 .5-.1 .5 0 .5-.1 .5 0 .5-.1 .5-.2 .5-.1 .5-.1 .5 0 .5 .2 .5 .2 .5 .3 .5 .4 .5 .3 .5 0 .5-.1 .5-.1 .5 0 .5 .3 .5 .3 .5 .1 .5 0 .5-.1 .5 0 .5 .2 .5 .3 .5 .2 .5-.2 .5-.1 .5 0 .5 .3 .5 .3 .5 .1 .5 0 .5-.2 .5-.1 .5-.2 .5 0 .5 0 .5 .1 .5 0 .5 .2 .5 .2 .5 .2 .5 .1 .5 0 .5-.2 .5-.2 .5 0 .5-.1 .5 0 .5-.1 .5-.1 .5 0 .5 0 .5 0 .5 .2 .5 .3 .5 .4 .5 .2 .5 0 .5-.2 .5-.2 .5 0 .5 .1 .5 .1 .5 .2 .5 .1 .5-.1 .5-.3 .5-.3 .5-.1 .5 .1 .5 .1 .5 0 .5-.2 .5-.2 .5-.1 .5-.1 .5 0 .5 .1 .5 .1 .5-.2 .5-.2 .5-.1 .5-.1 .5 .1 .5-.1 .5-.2 .5-.2 .5-.3 .5-.3 .5-.4 .5-.3 .5-.3 .5-.5 .5-.5 .5-.5 .5-.5 .5-.5 .5-.6 .5-.4 .5-.4 .5-.4 .5-.5 .5-.5 .5-.6 .5-.5 .5-.3 .5-.3 .5-.1 .5 0 .5 0 .5-.2 .5-.4 .5-.4 .5-.1 .5 .2 .5 .4 .5 .3 .5 .4 .5 .3 .5 .3 .5 .2 .5 .2 .5 .3 .5 .2 .5 .2 .5 .2 .5 .4 .5 .6 .5 .6 .5 .7 .5 .4 .5 .3 .5 .1 .5 .1 .5 0 .5 .2 .5 .3 .5 .5 .5 .6 .5 .5 .5 .3 .5 .1 .5 .1 .5 .1 .5 .1 .5 .2 .5 0 .5 .1 .5 0 .5 .2 .5 .3 .5 .2 .5 .1 .5 .1 .5 0 .5 0 .5 .1 .5 .1 .5 .2 .5 .1 .5 .1 .5 0 .5 .1 .5 0 .5 .1 .5 0 .5-.1 .5-.1 .5 0 .5 .1 .5 0 .5-.1 .5-.2 .5-.2 .5 0 .5 .1 .5-.1 .5-.1 .5 0 .5 .1 .5 .1 .5 .2 .5 .1 .5 0 .5 0 .5 .1 .5 .2 .5 .2 .5 .1 .5 0 .5-.2 .5-.1 .5-.2 .5-.2 .5-.1 .5 .1 .5 .2 .5 0 .5-.1 .5 0 .5 .1 .5 .1 .5-.1 .5-.1 .5 .1 .5 .1 .5 .1 .5 0 .5 .1 .5 0 .5-.1 .5-.1 .5-.3 .5-.4 .5-.3 .5-.1 .5 .1 .5 .1 .5 .1 .5 .2 .5 .3 .5 .2 .5 .1 .5 0 .5 0 .5-.1 .5 0 .5 0 .5 .2 .5 .3 .5 .3 .5 .2 .5 .1 .5-.1 .5-.3 .5-.2 .5 0 .5 .1 .5 .1 .5 .1 .5 .2 .5 .2 .5 0 .5-.1 .5-.1 .5-.1 .5 0 .5 .1 .5-.1 .5-.1 .5-.3 .5-.1 .5-.1 .5 0 .5-.1 .5 0 .5-.1 .5 .1 .5 .1 .5 0 .5 0 .5-.2 .5-.1 .5 0 .5 .2 .5 .3 .5 .3 .5 .3 .5 .1 .5 0 .5-.2 .5-.4 .5-.5 .5-.3 .5 0 .5 .2 .5 .3 .5 .1 .5 .1 .5 0 .5 .1 .5 .2 .5 0 .5-.1 .5-.3 .5-.1 .5 0 .5 .1 .5 .3 .5 .2 .5 .1 .5 0 .5-.1 .5 0 .5 .1 .5 .1 .5 0 .5 0 .5-.1 .5-.1 .5-.1 .5-.1 .5 .1 .5 .1 .5 .1 .5 0 .5 0 .5-.1 .5-.1 .5 0 .5 .1 .5 .1 .5 .3 .5 .3 .5 0 .5-.2 .5-.2 .5-.1 .5 0 .5 .1 .5 0 .5-.1 .5 0 .5-.1 .5 0 .5 0 .5 0 .5 0 .5 0 .5 0 .5 .1 .5 .2 .5 .1 .5 .1 .5 0 .5 0 .5-.2 .5-.2 .5-.1 .5 0 .5 .1 .5 .1 .5 0 .5-.2 .5-.2 .5-.1 .5 .1 .5 .1 .5 .2 .5 .3 .5 .2 .5 .2 .5 .1 .5 0 .5-.1 .5-.2 .5-.1 .5-.1 .5-.1 .5 0 .5 0 .5 .1 .5 .2 .5 .2 .5 .2 .5 0 .5-.1 .5-.1 .5-.1 .5 0 .5-.1 .5 0 .5 0 .5 .2 .5 .1 .5 .1 .5 .1 .5-.1 .5 0 .5 0 .5-.1 .5-.1 .5-.1 .5-.1 .5 .1 .5 .1 .5 .1 .5 .1 .5 0 .5-.1 .5-.1 .5-.1 .5 0 .5 0 .5 .1 .5-.1 .5-.1 .5-.1 .5-.2 .5 0 .5 .1 .5 .4 .5 .4 .5 .3 .5-.1 .5-.2 .5-.1 .5-.2 .5-.1 .5-.1 .5 .2 .5 .2 .5 .2 .5 0 .5 0 .5 .1 .5 0 .5 .1 .5 .1 .5 0 .5-.2 .5-.2 .5-.2 .5-.1 .5 .1 .5 .1 .5 .3 .5 .2 .5 .2 .5-.1 .5-.4 .5-.4 .5-.1 .5 .2 .5 .5 .5 .4 .5 .2 .5-.1 .5-.3 .5-.2 .5 0 .5 0 .5-.1 .5 0 .5 0 .5 .1 .5 0 .5-.1 .5-.1 .5 .1 .5 0 .5 .1 .5 0 .5 0 .5-.1 .5-.2 .5-.1 .5 .1 .5 .1 .5-.1 .5 0 .5 .1 .5 .2 .5 .2 .5 0 .5-.1 .5-.3 .5-.2 .5-.2 .5 0 .5 .3 .5 .2 .5 0 .5-.2 .5-.3 .5-.1 .5 .1 .5 .1 .5 .2 .5 .2 .5 .3 .5 .1 .5 0 .5-.2 .5-.1 .5 0 .5 0"/>
<path fill="none" stroke="#000" stroke-width="3.80" stroke-linejoin="round" stroke-linecap="round" d="M1337.5 1724l.5-.1 .5-.1 .5-.1 .5 0 .5 .1 .5 .1 .5 .1 .5 0 .5 0 .5 0 .5 0 .5-.1 .5 0 .5 0 .5-.1 .5-.2 .5-.2 .5-.1 .5-.1 .5 .1 .5 .1 .5 .2 .5 .1 .5 0 .5-.1 .5-.1 .5 0 .5 .1 .5 .1 .5-.1 .5 0 .5 0 .5 .1 .5 .2 .5 0 .5 .1 .5 0 .5 0 .5-.1 .5 0 .5 0 .5 0 .5 0 .5 .1 .5 0 .5 0 .5 .1 .5 .1 .5 0 .5 0 .5-.2 .5 0 .5 0 .5 .1 .5 0 .5 .1 .5 0 .5 0 .5-.1 .5-.2 .5-.1 .5-.1 .5 0 .5 .1 .5 .1 .5 .2 .5-.1 .5-.2 .5-.1 .5-.1 .5 0 .5 .1 .5 .3 .5 .1 .5 0 .5-.1 .5 0 .5 0 .5 .1 .5-.1 .5 0 .5-.1 .5 0 .5-.1 .5 0 .5 0 .5 .2 .5 .2 .5 0 .5 0 .5-.1 .5 0 .5 0 .5 0 .5-.2 .5-.2 .5-.2 .5-.1 .5-.1 .5 .2 .5 .3 .5 .2 .5 .1 .5-.1 .5 0 .5 0 .5 0 .5 0 .5 0 .5 0 .5 0 .5-.1 .5-.1 .5 0 .5 0 .5 0 .5 .1 .5 .1 .5 0 .5-.1 .5-.2 .5-.1 .5-.2 .5 0 .5 .1 .5 .1 .5 0 .5 .1 .5 .1 .5 .1 .5 0 .5 0 .5 .1 .5 .1 .5 .1 .5-.1 .5-.2 .5 0 .5 0 .5 0 .5 0 .5-.1 .5-.1 .5 0 .5 .1 .5 .2 .5 .1 .5 0 .5-.1 .5-.2 .5-.1 .5 0 .5 0 .5 0 .5-.1 .5 0 .5 .2 .5 .1 .5 0 .5 0 .5 0 .5 0 .5-.1 .5-.2 .5 0 .5 0 .5 .2 .5 .1 .5 0 .5-.1 .5 0 .5-.1 .5 0 .5-.1 .5 .1 .5 .2 .5 0 .5 0 .5 0 .5-.1 .5 .1 .5 0 .5 0 .5 .1 .5 .1 .5 .1 .5 0 .5-.2 .5-.1 .5 0 .5 .1 .5 .1 .5 .1 .5 0 .5 .1 .5 0 .5-.1 .5 0 .5-.1 .5 0 .5 0 .5 .2 .5 .1 .5 0 .5-.2 .5-.3 .5-.2 .5 0 .5 0 .5 0 .5-.1 .5-.1 .5 0 .5 .1 .5 .1 .5 .1 .5-.1 .5-.2 .5-.1 .5 0 .5 0 .5 .1 .5 .2 .5 .1 .5 0 .5-.2 .5-.1 .5 0 .5 .1 .5 .1 .5 .1 .5 .2 .5 .1 .5 0 .5-.1 .5-.1 .5-.1 .5-.1 .5-.1 .5 .1 .5 .1 .5 .1 .5 0 .5 0 .5 0 .5-.3 .5-.3 .5-.2 .5-.2 .5 .1 .5 .4 .5 .3 .5 0 .5 0 .5 0 .5 .2 .5 0 .5 0 .5 0 .5 .1 .5 0 .5 0 .5-.1 .5-.1 .5 0 .5 0 .5 0 .5-.1 .5 0 .5 0 .5 .2 .5 .2 .5 .1 .5-.1 .5-.2 .5-.2 .5-.2 .5 0 .5 .1 .5 0 .5 0 .5 .1 .5 .1 .5 .2 .5 .1 .5-.1 .5-.1 .5-.1 .5-.1 .5 0 .5 .3 .5 .2 .5 0 .5-.1 .5-.1 .5-.2 .5 0 .5 0 .5 .1 .5 .1 .5 0 .5-.2 .5-.1 .5 .1 .5 .1 .5 0 .5-.1 .5-.2 .5 0 .5 0 .5 .1 .5 0 .5-.1 .5-.1 .5-.1 .5 0 .5 0 .5 .1 .5 .1 .5 .1 .5 .1 .5 0 .5-.1 .5-.1 .5 0 .5 0 .5 0 .5 .2 .5 0 .5-.1 .5-.2 .5-.1 .5-.1 .5 0 .5 .1 .5 .1 .5 .2 .5 .2 .5 .1 .5 0 .5 0 .5-.2 .5-.2 .5-.2 .5-.1 .5 .2 .5 .1 .5 0 .5-.2 .5-.2 .5 0 .5 .1 .5 .1 .5 0 .5 0 .5-.1 .5 0 .5 .1 .5 .1 .5 .1 .5 0 .5-.1 .5-.3 .1-.3 .1-.1 .1-.1 .1 .2 .1 .2 .1-.1 .1-.1 .1 0 .1 .2 .1 .3 0 .1 .1-.2 .1-.2 .1-.2 .1 0 .1 0 .1 0 .1 .2 .1 .2 .1 .2 .1-.1 0-.1 .1-.1 .1-.2 .1-.1 .1-.1 .1-.1 0 .1 .1 .1 .1 .2 .1 0 .1-.1 .1-.1 0-.1 .1 .2 .1 .1 .1 0 .1 0 .1-.1 0-.1 .1 0 .1 0 .1 .1 .1 0 .1 .2 0 .1 .1 0 .1-.2 .1-.1 .1 .1 .1 .2 .1-.1 .1-.2 .1-.2 .1-.1 .1 .1 0 .1 .1 .1 .1 0 .1-.1 .1-.1 .1-.1 .1 0 .1-.1 .1 0 .1-.1 .1 0 0 .1 .1 .1 .1 0 .1 0 .1-.1 .1 0 0 .1 .1 .1 .1 .1 .1 .1 .1-.1 .1-.1 .1 0 .1 0 .1 .1 .1-.1 .1-.1 .1 0 .1 .1 .1-.1 .1-.1 .1-.1 0-.1 .1 0 .1-.1 .1 .1 .1 0 .1 .1 0-.1 .1-.1 .1-.1 .1 .1 .1 .1 .1 0 0 .1 .1 0 .1 0 .1-.1 .1-.1 .1-.1 0 .2 .1 .2 .1 .1 .1 0 .1 0 .1 0 0 .1 .1-.2 .1-.2 .1-.3 .1 0 .1 .1 0 .2 .1 0 .1-.1 .1-.1 .1 0 .1 0 .1 0 .1 .1 .1 0 .1-.1 .1-.1 .1 .2 .1 .2 .1 0 .1-.2 .1-.3 0-.1 .1 .1 .1 .1 .1 .1 .1 0 .1 0 0 .1 .1 .2 .1 .2 .1 0 .1-.3 .1-.2 0-.1 .1-.1 .1 0 .1 0 .1 .1 .1 0 0 .1 .1-.1 .1-.1 .1-.1 .1-.1 .1 .1 .1 0 .1 0 .1-.1 .1-.1 .1-.1 .1 0 .1 0 .1 .1 .1 .1 .1 0 .1-.1 .1-.1 .1 0 .1 .1 .1 0 .1 .1 .1 0 .1 0 .1-.1 .1 0 .1 0 .1 .1 .1 0 .1 0 .1-.1 .1 .1 .1-.1 .1-.1 .1 0 .1 .1 0 .2 .1-.1 .1-.1 .1-.2 .1-.2 .1-.1 0-.2 .1 0 .1-.1 .1 .1 .1 .2 .1 .2 0 .2 .1 .1 .1 .1 .1-.1 .1-.2 .1-.3 0-.2 .1 .1 .1 .1 .1 .1 .1 0 .1 0 0-.1 .1 0 .1 .1 .1 .1 .1-.1 .1-.1 0-.2 .1-.2 .1-.1 .1-.1 .1 .1 .1 0 0-.1 .1-.1 .1-.1 .1-.1 .1-.1 .1 0 0 .2 .1 .2 .1 .1 .1-.1 .1-.2 .1-.1 0-.1 .1 .1 .1 .3 .1 .2 .1 .1 .1-.1 0-.1 .1-.1 .1-.2 .1 0 .1 0 .1 .1 .1-.1 .1-.1 .1 0 .1 0 .1-.1 0-.1 .1-.2 .1-.1 .1 0 .1 0 .1-.1 0-.2 .1-.1 .1-.1 .1 0 .1 0 .1 .1 0 .2 .1-.1 .1 0 .1-.1 .1-.1 .1-.1 0-.2 .1-.1 .1 0 .1 0 .1 0 .1-.1 .1-.1 .1 0 .1-.1 .1 0 .1 .1 0 .3 .1 .1 .1-.1 .1-.2 .1-.2 .1-.2 0-.2 .1-.2 .1-.2 .1-.1 .1-.3 .1-.2 0 .1 .1 0 .1 .1 .1 0 .1-.1 .1 0 0-.1 .1-.2 .1-.2 .1-.1 .1 0 .1-.1 .1-.1 .1-.2 .1-.1 .1-.2 .1-.2 0 .1 .1 .2 .1 .1 .1 0 .1-.2 .1-.1 0-.1 .1-.2 .1-.2 .1-.1 .1-.1 .1-.2 0 .1 .1 0 .1-.2 .1-.3 .1-.4 .1-.4 .1-.1 .1-.1 .1-.3 .1-.3 .1-.3 0-.1 .1-.1 .1-.3 .1-.2 .1-.3 .1-.1 0 .3 .1 0 .1-.1 .1-.3 .1-.6 .1-.6 0-.2 .1-.2 .1-.3 .1-.2 .1-.3 .1-.3 0 .1 .1-.3 .1-.2 .1-.4 .1-.4 .1-.5 .1-.3 .1-.1 .1-.1 .1-.3 .1-.5 0-.2 .1-.6 .1-.6 .1-.6 .1-.7 .1-.7 .1-.7 .1-.7 .1-.7 .1-.6 .1-.6 .1-.9 .1-1 .1-1 .1-1.1 .1-1 0 .1 .1-1.1 .1-1.2 .1-1.4 .1-1.4 .1-1.6 .1-1.7 .1-1.7 .1-1.8 .1-1.8 .1-1.9 0 .1 .1-2.2 .1-2.3 .1-2.5 .1-2.6 .1-2.7 .1-3 .1-3.1 .1-3.1 .1-3.4 .1-3.4 0 .1 .1-3.7 .1-3.9 .1-4.2 .1-4.4 .1-4.5 .1-4.7 .1-4.9 .1-5.2 .1-5.3 .1-5.5 .1-5.7 .1-6 .1-6.1 .1-6.4 .1-6.5 .1-6.8 .1-6.9 .1-7 .1-7.2 .1-7.4 .1-7.4 .1-7.6 .1-7.6 .1-7.7 .1-7.7 .1-7.7 .1-7.7 .1-7.6 .1-7.6 .1-7.4 .1-7.2 .1-7.1 .1-6.7 .1-6.5 .1-6.2 .1-5.7 .1-5.3 .1-4.8 .1-4.2 .1-3.7 .1-3.1 .1-2.4 .1-1.7 .1-1.1 .1-.3 0-.1 .1 .3 .1 .9 .1 1.3 .1 2 .1 2.4 .1 2.9 .1 3.4 .1 3.9 .1 4.3 .1 4.6 .1 5 .1 5.3 .1 5.6 .1 5.9 .1 6 .1 6.2 .1 6.4 .1 6.5 .1 6.6 .1 6.6 .1 6.6 .1 6.7 .1 6.7 .1 6.7 .1 6.6 .1 6.6 .1 6.5 .1 6.4 .1 6.3 .1 6.2 .1 6 .1 6 .1 5.8 .1 5.7 .1 5.6 .1 5.4 .1 5.2 .1 5.1 .1 5 .1 4.7 .1 4.7 .1 4.5 .1 4.3 .1 4.2 .1 4.1 0-.1 .1 4 .1 3.8 .1 3.7 .1 3.5 .1 3.3 0-.1 .1 3.2 .1 3 .1 2.9 .1 2.8 .1 2.6 .1 2.6 .1 2.4 .1 2.3 .1 2.2 .1 2.1 .1 2 .1 1.8 .1 1.7 .1 1.7 .1 1.8 0 .1 .1 1.6 .1 1.5 .1 1.3 .1 1.3 .1 1.2 .1 1.3 .1 1.1 .1 1.1 .1 1 .1 1 .1 1 .1 .8 .1 1 .1 .9 .1 .9 .1 .7 .1 .6 .1 .7 .1 .6 .1 .5 .1 .6 .1 .6 .1 .5 .1 .6 .1 .6 0 .1 .1 .6 .1 .6 .1 .5 .1 .5 .1 .3 0-.1 .1 .4 .1 .4 .1 .4 .1 .2 .1 .2 0-.1 .1 .5 .1 .5 .1 .3 .1 .3 .1 .3 .1 .2 .1 .1 .1 .2 .1 .2 .1 .4 .1 .3 .1 .1 .1 .2 .1 .1 .1 .2 0 .1 .1 .4 .1 .4 .1 .4 .1 .2 .1 .2 .1 .2 .1 .2 .1 .1 .1 .1 .1 .1 .1 .1 .1 .3 .1 .2 .1 .2 .1 .1 .1 .2 .1 .3 .1 .3 .1 .3 .1 .2 .1-.1 .1 0 .1 0 .1 .1 .1 .1 0-.1 .1 0 .1 0 .1 0 .1 .2 .1 .2 0 .1 .1 .1 .1 .2 .1 0 .1-.1 .1 0 0-.1 .1 .3 .1 .3 .1 .3 .1 .2 .1 .1 0-.1 .1 .2 .1 .2 .1 .2 .1 .3 .1 .1 0-.1 .1-.1 .1 0 .1 .1 .1 .2 .1 .2 .1-.1 .1 0 .1 0 .1 .1 .1 .1 0-.1 .1 0 .1 .2 .1 .4 .1 .2 .1 0 0-.2 .1-.1 .1 .1 .1 .1 .1 .1 .1 .1 0 .1 .1 0 .1-.1 .1-.2 .1-.1 .1 0 0 .1 .1 .3 .1 .4 .1 .3 .1 .1 .1 .1 0-.1 .1-.1 .1 0 .1-.1 .1-.1 .1 0 0-.1 .1 0 .1 0 .1 .1 .1 .2 .1 .2 0 .1 .1 .1 .1 0 .1-.1 .1 0 .1 0 .1 .1 .1 .1 .1 0 .1 .1 .1 .2 0 .1 .1 .2 .1 .2 .1 .1 .1-.1 .1 .1 0 .1 .1-.1 .1-.1 .1-.2 .1-.1 .1 0 0 .1 .1 0 .1 0 .1-.1 .1 0 .1 0 0 .2 .1 .2 .1 .2 .1 .1 .1 0 .1-.1 .1-.1 .1 .1 .1 0 .1 .1 .1 0 0-.1 .1-.1 .1 0 .1 0 .1 .1 .1 .1 0-.1 .1-.2 .1-.2 .1 0 .1 .2 .1 .3 0 .2 .1 .1 .1-.1 .1 .1 .1 .2 .1 .2 0 .1 .1 .2 .1 .1 .1 0 .1-.2 .1-.2 0-.2 .1-.1 .1-.1 .1 0 .1 .1 .1 .2 0 .2 .1 .1 .1-.1 .1-.1 .1 0 .1 .1 .1-.2 .1-.2 .1-.1 .1 .1 .1 .2 .1 0 .1 .1 .1 .1 .1 0 .1-.1 0-.2 .1 0 .1 .1 .1 .1 .1 0 .1 0 0 .1 .1 0 .1 0 .1 .1 .1 0 .1-.1 0-.1 .1 0 .1 .1 .1 .2 .1 .2 .1 .1 0 .1 .1 .1 .1 .1 .1 .1 .1 .1 .1-.1 0-.2 .1-.1 .1-.2 .1 0 .1-.1 .1-.1 0-.1 .1 0 .1 .1 .1 .3 .1 .2 .1 .1 0-.1 .1-.1 .1-.1 .1 .1 .1 .2 .1 .1 .1-.3 .1-.2 .1-.2 .1 0 .1 .2 0 .2 .1 .1 .1 0 .1 .1 .1 .1 .1-.1 0-.1 .1 .1 .1 .2 .1 .2 .1 .2 .1 .1 0-.1 .1-.1 .1-.2 .1-.3 .1 0 .1 .1 .1 .1 .1 0 .1 0 .1 .2 .1 .1 .1 0 .1-.1 .1-.3 .1-.3 .1-.1 0 .1 .1 .2 .1 .2 .1 .1 .1 0 .1 0 .1-.1 .1 0 .1 0 .1 .1 .1 0 .1-.1 .1 0 .1 .1 .1 .1 .1 0 0 .1 .1 .2 .1 .1 .1 0 .1-.1 .1-.1 .1 .1 .1 .1 .1 0 .1-.2 .1-.1 .1 .1 .1 .2 .1 .1 .1 .1 .1 0 0-.2 .1-.3 .1-.3 .1-.1 .1 .1 .1 .3 0 .2 .1 .2 .1 .1 .1 .1 .1-.1 .1-.2 0-.2 .1 0 .1 0 .1 0 .1 0 .1 0 0-.1 .1-.1 .1 .1 .1 .1 .1 .1 .1 0 .1-.1 .1 0 .1 0 .1 0 .1-.2 0-.1 .1 .1 .1 .3 .1 .2 .1 0 .1-.1 .5 .1 .5 .2 .5 0 .5-.1 .5-.1 .5 0 .5 .3 .5 .3 .5 .1 .5-.1 .5-.2 .5-.2 .5-.1 .5 0 .5 .1 .5 .1 .5 .1 .5 0 .5-.2 .5-.1 .5-.2 .5 0 .5-.1 .5 0 .5-.1 .5 0 .5-.1 .5 .1 .5 .2 .5 .3 .5 .3 .5 .1 .5-.1 .5-.1 .5 .1 .5 0 .5 .1 .5 0 .5-.2 .5-.1 .5-.1 .5 .1 .5 0 .5 0 .5 .1 .5 .1 .5 .1 .5 0 .5 0 .5-.1 .5-.1 .5 0 .5 0 .5-.1 .5 0 .5 .2 .5 .2 .5 .1 .5 0 .5 .1 .5 .1 .5 0 .5 .1 .5-.1 .5-.2 .5-.2 .5-.1 .5 0 .5 .2 .5 .3 .5 .2 .5 .1 .5-.1 .5 .1 .5 0 .5-.1 .5-.3 .5-.4 .5-.2 .5-.2 .5 .1 .5 .1 .5 .2 .5 .3 .5 .2 .5 .3 .5 0 .5-.1 .5-.2 .5-.1 .5-.1 .5-.1 .5-.1 .5 0 .5 .1 .5 .1 .5 .1 .5 0 .5-.2 .5-.1 .5 0 .5 .2 .5 .4 .5 .2 .5-.1 .5-.2 .5-.1 .5 0 .5 .1 .5 0 .5 0 .5-.2 .5-.1 .5-.2 .5-.2 .5 0 .5 .1 .5 .1 .5 .1 .5 0 .5 0 .5-.1 .5 0 .5 .2 .5 .3 .5 .2 .5 0 .5-.1 .5-.1 .5-.1 .5-.1 .5-.1 .5 .1 .5 .3 .5 0 .5-.1 .5-.1 .5-.1 .5-.1 .5-.1 .5 .1 .5 .2 .5 .2 .5 .2 .5 0 .5-.1 .5-.2 .5-.3 .5-.1 .5 0 .5 .2 .5 0 .5 0 .5 0 .5-.1 .5 0 .5 0 .5 .2 .5 .1 .5 0 .5-.1 .5-.1 .5 .2 .5 .2 .5 .3 .5 .1 .5-.2 .5-.3 .5-.3 .5-.2 .5-.1 .5 .1 .5 .1 .5 .1 .5 .1 .5 0 .5 0 .5 .1 .5 .2 .5 .3 .5 .1 .5 0 .5-.1 .5 0 .5 0 .5 0 .5-.1 .5 .1 .5 0 .5 0 .5-.1 .5-.1 .5-.2 .5-.2 .5-.1 .5-.1 .5 .1 .5 .1 .5 .1 .5 .1 .5 .1 .5 .2 .5 .1 .5-.1 .5-.2 .5 0 .5-.1 .5 0 .5 .1 .5 .1 .5 .1 .5 0 .5-.1 .5 0 .5 0 .5 0 .5 0 .5 0 .5 0 .5 0 .5-.1 .5 0 .5 .1 .5 .1 .5-.1 .5 0 .5-.1 .5-.1 .5-.1 .5-.2 .5 .1 .5 .1 .5 .2 .5 .1 .5 0 .5 .1 .5 .2 .5 .1 .5 0 .5-.1 .5-.1 .5 .1 .5 .1 .5 .1 .5-.1 .5-.1 .5 0 .5 0 .5 .1 .5-.1 .5-.1 .5 0 .5 .1 .5 .1 .5-.1 .5-.2 .5-.1 .5-.1 .5 .1 .5 .2 .5 .2 .5 .2 .5 .1 .5 .1 .5 .1 .5 0 .5-.1 .5-.1 .5-.1 .5-.1 .5-.1 .5-.1 .5-.1 .5-.1 .5 0 .5 .1 .5-.1 .5 0 .5 .1 .5 .1 .5 .1 .5 0 .5 0 .5 .1 .5 .1 .5 0 .5 .1 .5 0 .5 0 .5 0 .5 0 .5 0 .5-.2 .5-.2 .5-.1 .5-.1 .5 .1 .5 .1 .5 .1 .5 .1 .5 .1 .5 .1 .5 .1 .5 .1 .5 .1 .5 .1 .5-.1 .5-.1 .5-.1 .5 0 .5 .1 .5 0 .5 0 .5 .1 .5 0 .5-.1 .5-.1 .5-.1 .5 .1 .5 .2 .5 .1 .5 0 .5-.1 .5 0 .5 .1 .5 .2 .5 .2 .5 .1 .5 0 .5-.1 .5-.1 .5-.2 .5-.2 .5-.1 .5 0 .5 0 .5 0 .5 .1 .5 0 .5 .1 .5 0 .5 0 .5 0 .5-.1 .5 0 .5 .1 .5 .1 .5-.1 .5 0 .5 .1 .5 .1 .5 .1 .5 .2 .5 0 .5 0 .5-.1 .5-.3 .5-.2 .5-.2 .5 .1 .5 .1 .5 .1 .5 .1 .5-.1 .5 0 .5 0 .5 0 .5 0 .5 0 .5-.1 .5 .1 .5 .1 .5 .2 .5 .2 .5-.1 .5-.1 .5-.1 .5 0 .5 .1 .5 0 .5 .1 .5 .1 .5 .1 .5 .1 .5 .2 .5 .1 .5 0 .5 .1 .5 0 .5 0 .5 0 .5-.1 .5-.1 .5-.2 .5-.1 .5 0 .5 .1 .5 0 .5 .1 .5-.1 .5-.1 .5-.1 .5 .1 .5 0 .5 0 .5-.1 .5 0 .5 .1 .5 .1 .5 0 .5 .1 .5 0 .5 .1 .5 0 .5 0 .5 .1 .5 0 .5-.1 .5-.1 .5 0 .5 .2 .5 .2 .5 0 .5-.1 .5 0 .5 .1 .5 .2 .5 .1 .5-.2 .5-.2 .5-.3 .5-.1 .5 .1 .5 .3 .5 .2 .5 .2 .5 0 .5-.1 .5 .1 .5 .1 .5-.1 .5-.1 .5-.1 .5 .1 .5-.1 .5 0 .5 0 .5-.1 .5-.1 .5 0 .5 .1 .5 .1 .5 .2 .5 .1 .5-.1 .5-.1 .5 .1 .5 .1 .5 .1 .5-.1 .5-.2 .5-.1 .5-.1 .5-.1 .5 0 .5 .1 .5 0 .5-.1 .5-.1 .5 0 .5 0 .5 .1 .5 .1 .5 0 .5 0 .5 .1 .5 .1 .5 0 .5 .1 .5 .1 .5 .1 .5 0 .5 .1 .5 .1 .5 0 .5 0 .5 0 .5-.1 .5 0 .5 0 .5 .1 .5 .2 .5 .1 .5 0 .5 0 .5-.1 .5-.2 .5-.1 .5 .1 .5 .1 .5 0 .5-.1 .5-.1 .5-.1 .5 0 .5-.1 .5-.1 .5 0 .5 0 .5 .1 .5 .1 .5 0 .5 0 .5 0 .5 0 .5-.2 .5-.1 .5 .1 .5 .1 .5 .2 .5 .2 .5 .2 .5 .1 .5-.1 .5-.1 .5-.1 .5 0 .5 .2 .5 0 .5 .1 .5 0 .5 0 .5 0 .5-.1 .5-.1 .5 0 .5 0 .5 0 .5 .1 .5 0 .5 0 .5-.1 .5 0 .5 0 .5-.1 .5-.1 .5-.2 .5 0 .5 .3 .5 .2 .5 0 .5-.1 .5-.1 .5 .1 .5 .1 .5 0 .5-.1 .5-.1 .5-.1 .5-.2 .5-.1 .5-.1 .5 .1 .5 .1 .5 .1 .5 0 .5 .1 .5 .2 .5 .1 .5 .1 .5 0 .5-.2 .5-.1 .5-.1 .5 0 .5 0 .5 .1 .5 .1 .5-.1 .5-.1 .5-.1 .5 0 .5-.1 .5 0 .5 0 .5 0 .5 .2 .5 .2 .5 .2 .5 .1 .5 0 .5 0 .5-.1 .5 0 .5-.1 .5-.1 .5 .1 .5 .1 .5 0 .5-.1 .5-.1 .5-.1 .5 0 .5 .1 .5 0 .5 0 .5 0 .5-.1 .5-.2 .5-.2 .5 0 .5 .1 .5 0 .5 0 .5 0 .5 0 .5 .1 .5 .1 .5 0 .5-.1 .5-.1 .5 0 .5 0 .5 0 .5 0 .5 .1 .5 .1 .5 0 .5 0 .5-.1 .5 0 .5-.1 .5 .1 .5 .2 .5 .1 .5 0 .5 0 .5-.1 .5 0 .5 .1 .5 0 .5-.3 .5-.2 .5-.1 .5-.1 .5 0 .5 0 .5 .1 .5 .1 .5 .1 .5 .2 .5 .1 .5 0 .5 0 .5 0 .5 0 .5 0 .5 .1 .5 0 .5-.1 .5 0 .5 .2 .5 .2 .5 0 .5-.1 .5-.3 .5-.2 .5 0 .5 .2 .5 .2 .5 0 .5-.2 .5-.3 .5-.2 .5 0 .5 0 .5 .1 .5 .1 .5 .1 .5 0 .5 0 .5 0 .5-.1 .5-.1 .5-.1 .5 .1 .5 0 .5 .1 .5 .1 .5 .1 .5 0 .5 0 .5 .1 .5 .1 .5 0 .5-.2 .5-.2 .5 .1 .5 .3 .5 .2 .5 0 .5-.1 .5-.2 .5-.1 .5 0 .5 0 .5 0 .5 .1 .5-.1 .5-.1 .5-.2 .5-.1 .5 0 .5 .1 .5 .1 .5 .3 .5 .1 .5 .1 .5-.1 .5-.2 .5-.2 .5 0 .5 0 .5 .1 .5 .1 .5 .2 .5 .2 .5 .1 .5 0 .5-.1 .5 .1 .5 0 .5-.1 .5-.2 .5-.2 .5-.2 .5 0 .5 .1 .5 .2 .5 .1 .5-.1 .5-.2 .5-.1 .5-.1 .5-.1 .5 0 .5 .1 .5 0 .5 .1 .5-.1 .5 0 .5 .1 .5 .2 .5 .2 .5 0 .5 0 .5-.1 .5 0 .5 .1 .5 0 .5 0 .5 0 .5 .1 .5 .1 .5 0 .5-.1 .5-.2 .5 0 .5-.1 .5-.2 .5-.1 .5 .1 .5 .3 .5 .1 .5 .1 .5 0 .5 .1 .5 0 .5 0 .5-.1 .5-.1 .5-.1 .5-.1 .5 0 .5 0 .5 0 .5 .1 .5 .1 .5 0 .5-.1 .5-.1 .5 0 .5 .2 .5 .1 .5 0 .5-.1 .5-.1 .5-.2 .5 0 .5 .1 .5 .1 .5 0 .5 0 .5-.2 .5-.2 .5 0 .5 .2 .5 .3 .5 .2 .5-.1 .5-.1 .5-.1 .5 .1 .5 .1 .5 0 .5-.1 .5 0 .5 0 .5 0 .5 0 .5-.1 .5-.2 .5-.1 .5 .1 .5 .1 .5 0 .5 .1 .5 0 .5 .2 .5 .1 .5 .1 .5 0 .5 0 .5 0 .5-.1 .5-.1 .5-.1 .5-.1 .5-.2 .5-.1 .5-.2 .5-.1 .5 .1 .5 .1 .5 .2 .5 .1 .5 .1 .5 0 .5-.2 .5-.1 .5-.1 .5-.1 .5 .1 .5 .1 .5-.1 .5 0 .5 .1 .5 .1 .5 .3 .5 .1 .5-.1 .5-.3 .5-.3 .5-.2 .5 .1 .5 .2 .5 .1 .5 .1 .5 .1 .5 .1 .5 0 .5-.1 .5-.1 .5 0 .5-.1 .5-.1 .5-.2 .5 0 .5 .3 .5 .3 .5 .2 .5 0 .5-.1 .5-.2 .5-.1 .5 0 .5 0 .5 .1 .5 0 .5 0 .5 0 .5 0 .5 .1 .5 0 .5 .1 .5 0 .5 0 .5-.1 .5 .1 .5 .2 .5 .2 .5 0 .5-.3 .5-.3 .5-.2 .5 0 .5 .1 .5 0 .5-.1 .5-.1 .5 0 .5 0 .5 .1 .5 .1 .5 .1 .5 0 .5-.1 .5 0 .5 .1 .5 .3 .5 .1 .5-.1 .5-.2 .5 0 .5 0 .5 .2 .5 .1 .5 .1 .5 0 .5 0 .5-.1 .5 0 .5-.1 .5-.2 .5-.1 .5-.1 .5-.1 .5-.1 .5-.1 .5 .1 .5 .3 .5 .3 .5 .3 .5 0 .5-.2 .5-.2 .5-.2 .5-.1 .5-.1 .5 0 .5 0 .5 0 .5 .1 .5 .1 .5 .1 .5 .1 .5-.1 .5 0 .5-.1 .5-.1 .5 .1 .5 .1 .5 .1 .5 .1 .5-.2 .5-.2 .5-.1 .5 .1 .5 0 .5 .1 .5 0 .5 .1 .5 0 .5 .1 .5 0 .5 .1 .5-.1 .5 0 .5-.1 .5 0 .5-.1 .5-.1 .5-.1 .5 .1 .5 0 .5 0 .5-.1 .5-.3 .5-.2 .5 .1 .5 .2 .5 .3 .5 .2 .5 .1 .5-.1 .5-.1 .5-.1 .5-.1 .5 .1 .5 .1 .5 .1 .5 .1 .5 0 .5 0 .5-.1 .5 .1 .5 0 .5 0 .5-.1 .5 0 .5 0 .5 .1 .5 0 .5 .1 .5 .1 .5 .1 .5 0 .5 0 .5 0 .5-.1 .5-.2 .5-.3 .5-.2 .5 0 .5 .2 .5 0 .5-.1 .5-.1 .5-.1 .5 .1 .5 .2 .5 .4 .5 .3 .5 .1 .5-.3 .5-.5 .5-.4 .5-.1 .5 .1 .5 .4 .5 .3 .5 .1 .5 .1 .5 0 .5-.1 .5-.1 .5-.2 .5-.1 .5 .1 .5 .3 .5 .1 .5-.1 .5-.2 .5-.1 .5 0 .5 0 .5 .1 .5 0 .5 .1 .5 0 .5-.1 .5 0 .5-.1 .5 .1 .5 0 .5 0 .5-.1 .5-.1 .5 0 .5 0 .5 .1 .5 0 .5-.1 .5-.2 .5-.1 .5 0 .5 .1 .5 .1 .5 .1 .5 .1 .5 .1 .5-.1 .5 0 .5 0 .5 0 .5 0 .5 0 .5-.1 .5 0 .5 0 .5 .1 .5 0 .3 .1 .1 .2 .1 .1 .1-.1 .1-.2 .1-.2 .1-.2 .1 .1 0 .1 .1 .1 .1 0 .1-.1 .1 0 .1 0 .1-.1 .1 .1 .1 .2 .1 .2 .1 .2 0 .1 .1 0 .1 0 .1 .1 .1-.1 .1-.1 0-.2 .1-.1 .1 0 .1-.1 .1-.2 .1-.3 0-.2 .1 0 .1 .1 .1 .1 .1 .2 .1 .1 0 .2 .1 .2 .1 .2 .1 .1 .1-.1 .1-.1 0-.1 .1 0 .1 0 .1-.2 .1-.2 .1-.1 0-.1 .1-.1 .1 0 .1 0 .1 .1 .1 .2 .1-.1 .1-.1 .1-.1 .1 .1 .1 .2 0 .1 .1 .1 .1 0 .1 0 .1 0 .1 .1 .1 .1 .1 0 .1-.1 .1 .1 .1 0 0 .1 .1 .1 .1-.1 .1 0 .1-.1 .1-.1 0-.2 .1-.1 .1 0 .1 0 .1 0 .1 0 0 .2 .1 .1 .1-.1 .1-.1 .1 0 .1 .1 0-.1 .1-.2 .1-.2 .1 0 .1 .1 .1 0 .1 .2 .1 .1 .1 .1 .1 .1 .1 .1 0 .1 .1 0 .1 0 .1-.1 .1-.1 .1-.1 0-.1 .1-.1 .1 0 .1 .1 .1 0 .1-.1 0-.2 .1-.1 .1-.1 .1 .1 .1 .2 .1 .2 0 .1 .1 .1 .1-.1 .1-.1 .1-.1 .1 0 0 .1 .1 .1 .1 0 .1-.1 .1-.2 .1 0 0 .1 .1 .1 .1 0 .1 .1 .1 0 .1 .1 .1-.1 .1-.1 .1 0 .1-.1 .1 0 0 .1 .1 .2 .1 .2 .1 .1 .1 0 .1-.1 0-.1 .1 0 .1 .1 .1 .1 .1 0 .1-.2 0-.2 .1-.1 .1-.2 .1-.1 .1 0 .1 .2 0 .4 .1 .2 .1 0 .1 0 .1-.1 .1-.2 0-.1 .1 0 .1 0 .1-.1 .1-.1 .1 0 .1-.1 .1 0 .1-.1 .1 0 .1 0 0 .2 .1 .1 .1 0 .1 0 .1 0 .1-.1 .1 .1 .1 0 .1-.1 .1 .1 .1 .1 0 .1 .1 0 .1-.1 .1 0 .1 0 .1-.1 0-.1 .1-.1 .1 0 .1 0 .1 0 .1 .1 .1-.1 .1 0 .1 .1 .1 .1 .1 .1 0-.1 .1-.2 .1 0 .1 .2 .1 .2 .1 .2 0-.1 .1-.2 .1-.2 .1 0 .1 .1 .1 .3 0 .1 .1 0 .1 .1 .1 0 .1-.1 .1-.3 0-.1 .1 0 .1 .2 .1 .1 .1 0 .1-.1 0-.1 .1 .1 .1 .1 .1 0 .1 0 .1 0 .1-.1 .1-.1 .1 0 .1 .1 .1 0 .1 0 .1 0 .1 0 .1-.2 .1-.2 0-.1 .1 0 .1 0 .1 .2 .1 .3 .1 .3 0 .1 .1-.1 .1-.3 .1-.4 .1-.2 .1-.1 .1 0 .1 0 .1 0 .1-.1 .1 0 0 .1 .1 .3 .1 .2 .1 .2 .1 0 .1-.1 0-.1 .1 .1 .1 .1 .1 0 .1-.2 .1-.3 0-.1 .1-.1 .1 .1 .1 .2 .1 .1 .1 0 .1-.1 .1-.1 .1 0 .1 0 .1 .1 0 .1 .1 .2 .1 0 .1 0 .1-.2 .1-.2 0-.1 .1 0 .1 .1 .1 .1 .1 0 .1 0 .1 .1 .1 0 .1-.1 .1 0 .1 .1 0-.1 .1-.2 .1-.2 .1-.2 .1 .1 .1 .1 0 .1 .1 .1 .1 .1 .1 .1 .1 .1 .1 0 .1 0 .1-.2 .1-.3 .1-.2 .1 0 0 .2 .1 .2 .1 .1 .1 .1 .1-.1 .1-.2 0-.3 .1-.2 .1 0 .1 .1 .1 0 .1 0 .1 .1 .1 .1 .1 .1 .1 0 .1 0 .1 0 .1 .1 .1 .2 .1 .1 .1 .1 .1 0 .1-.1 .1-.2 .1-.1 .1-.1 0-.1 .1 0 .1 0 .1 0 .1-.1 .1-.1 .1 .1 .1 .1 .1-.1 .1 0 .1 0 .1-.1 .1-.2 .1-.2 .1-.2 .1-.1 0 .1 .1 .1 .1 0 .1 0 .1 .1 .1 0 .1-.2 .1-.1 .1-.1 .1-.1 .1 0 .1-.1 .1-.4 .1-.4 .1-.1 .1 .1 0 .3 .1 .1 .1-.1 .1-.1 .1-.1 .1-.1 0 .1 .1 .2 .1 .1 .1-.2 .1-.4 .1-.4 0-.1 .1-.1 .1 0 .1 0 .1 0 .1-.1 0-.2 .1-.1 .1-.1 .1 .1 .1 .1 .1 .1 .1-.1 .1-.2 .1-.4 .1-.2 .1 0 0 .3 .1 .1 .1-.1 .1-.2 .1-.2 .1-.2 .1 0 .1-.1 .1-.1 .1-.1 .1-.1 0 .1 .1-.1 .1 0 .1 0 .1-.1 .1 0 0-.1 .1-.3 .1-.3 .1-.3 .1-.2 .1-.1 .1 0 .1 0 .1-.1 .1-.1 .1 .1 0 .2 .1 .2 .1 0 .1-.1 .1-.2 .1-.2 .1-.1 .1-.2 .1 0 .1 0 .1 0 0-.1 .1-.1 .1-.1 .1-.1 .1 0 .1 0 0-.1 .1-.1 .1 .1 .1 .1 .1 .1 .1 .1 0 .1 .1 .2 .1 .1 .1 0 .1-.1 .1-.2 0-.1 .1 0 .1 0 .1 .1 .1 0 .1 0 .1 0 .1 .1 .1 .1 .1 0 .1-.1 .1 0 .1 .1 .1 .2 .1 .1 .1 .2 .1 .1 .1 .1 .1 0 .1-.1 .1 0 0 .1 .1 .3 .1 .4 .1 .2 .1 0 .1-.1 0-.1 .1 0 .1 .2 .1 .1 .1 0 .1-.1 .1 .2 .1 .1 .1 .1 .1 0 .1-.1 0-.1 .1-.1 .1 .1 .1 .1 .1 .1 .1 .1 0 .1 .1 .2 .1 .1 .1-.1 .1 0 .1 0 0 .1 .1 .3 .1 .3 .1 .3 .1 .2 .1 .1 0-.2 .1 0 .1 .1 .1 .1 .1 .1 .1 0 0 .1 .1 .1 .1 0 .1-.1 .1 0 .1 0 0 .1 .1 .1 .1-.1 .1-.1 .1-.1 .1-.1 0-.1 .1 .2 .1 .4 .1 .2 .1 .2 .1 0 0-.1 .1-.1 .1 0 .1 0 .1 .1 .1 .1 0 .1 .1 .1 .1 .1 .1 .2 .1 .1 .1-.1 .1 .1 .1 .2 .1 .1 .1 0 .1-.1 0-.1 .1 0 .1 .1 .1 .2 .1 .2 .1 .2 .1 0 .1 0 .1-.2 .1-.1 .1-.1 .1 .1 .1 .1 .1 .1 .1 0 .1 .1 .1 .2 .1 .2 .1 .2 .1 0 .1 0 .1-.1 .1-.1 .1 0 .1 0 .1 .1 .1 0 .1-.1 .1-.1 .1 0 .1 0 .1 .1 .1 .1 .1 .1 .1 0 .1 0 .1 0 .1 .1 .1 0 .1 0 .1 0 .1 .1 .1-.1 .1-.1 .1 0 .1 0 .1 .1 .1 .3 .1 .2 .1 .1 .1-.1 .1-.1 .1 .1 .1 0 .1 0 .1-.1 0 .1 .1-.1 .1-.1 .1-.1 .1-.2 .1 0 .1 0 .1 0 .1 .2 .1 .2 .1 .1 0 .2 .1 .2 .1 .1 .1 0 .1-.2 .1-.4 0-.4 .1-.1 .1 .1 .1 .3 .1 .2 .1 0 .1-.1 .1-.2 .1-.2 .1 .1 .1 .1 0 .1 .1 0 .1 .1 .1 .1 .1 .1 .1 .1 .1-.1 .1-.3 .1-.1 .1 0 .1 .2 0 .1 .1 0 .1-.1 .1-.1 .1 0 .1 .1 0 .1 .1 .1 .1-.1 .1-.3 .1-.1 .1 .1 0 .2 .1 .1 .1-.1 .1 0 .1-.1 .1 .1 0 .2 .1 .2 .1 0 .1-.1 .1-.2 .1-.1 0-.2 .1-.1 .1 0 .1 .2 .1 .2 .1 .1 0 .1 .1 0 .1 0 .1-.1 .1 0 .1 0 .1 0 .1-.2 .1-.2 .1 0 .1 .1 0 .2 .1 .2 .1 .2 .1 0 .1 0 .1 0 0-.2 .1-.2 .1-.1 .1 0 .1 0 .1 .1 0 .2 .1 0 .1 0 .1-.1 .1-.2 .1 0 .1 .1 .1 .2 .1 .1 .1 0 .1-.2 0-.2 .1-.2 .1 0 .1 .2 .1 .2 .1 .2 0 .1 .1 0 .1 0 .1-.1 .1-.1 .1 0 .1 .1 .1 .1 .1 0 .1-.2 .1-.2 0-.2 .1 0 .1 .2 .1 .2 .1 .3 .1 .1 .1-.1 .1-.1 .1-.1 .1 0 .1 0 0 .1 .1 0 .1 .1 .1 0 .1 0 .1 0 0-.1 .1 .1 .1-.1 .1-.1 .1-.3 .1-.2 0-.1 .1 0 .1 .1 .1 0 .1 0 .1 .1 0 .1 .1 0 .1 0 .1-.1 .1-.1 .1-.1 0 .1 .1 .2 .1 .2 .1 0 .1-.1 .1-.3 0-.1 .1-.1 .1 0 .1 .1 .1 .2 .1 .1 .1-.1 .1-.1 .1-.1 .1 .2 .1 .3 0 .1 .1 0 .1 0 .1 .1 .1 0 .1-.1 0-.1 .1-.2 .1-.2 .1-.1 .1 0 .1 .1 0 .2 .1 0 .1 .1 .1 .1 .1 0 .1 0 0 .1 .1 0 .1-.2 .1-.2 .1 0 .1 .2 0 .1 .1 0 .1-.1 .1 0 .1 .1 .1 .1 0-.1 .1-.1 .1-.2 .1-.2 .1-.1 .1 .1 0 .3 .1 .2 .1 .1 .1-.1 .1-.2 .1 0 0 .1 .1 .1 .1 0 .1-.1 .1-.3 .1-.2 .1 .1 .1 .2 .1 .1 .1 0 .1 0 .1-.1 .1-.1 .1 0 .1 .1 .1 .1 0 .2 .1 0 .1-.1 .1-.1 .1 0 .1 0 0 .1 .1 0 .1 0 .1 0 .1 0 .1 0 .1 .1 .1 0 .1 0 .1-.1 .1-.2 0-.1 .1-.1 .1 0 .1 .1 .1 0 .1 .1 0 .1 .1 0 .1 .1 .1 .1 .1 .1 .1 0 .1 0 .1 0 .1 0 .1-.1 .1-.1 .1 0 .1 .1 .1 .2 .1 0 .1-.1 0-.1 .1 0 .1-.1 .1 0 .1 0 .1 .2 0 .1 .1 .1 .1 0 .1-.1 .1-.2 .1-.2 .1 0 .1 .1 .1 0 .1 .2 .1 .2 0 .1 .1-.1 .1-.1 .3 0 .5 0 .5 0 .5-.1 .5-.2 .5 0 .5 0 .5 0 .5 .1 .5 .1 .5 .1 .5 0 .5 0 .5-.1 .5 0 .5-.1 .5 0 .5 0 .5 0 .5-.1 .5-.1 .5-.1 .5 0 .5 0 .5-.1 .5-.1 .5 .1 .5 .2 .5 0 .5 0 .5-.1 .5 0 .5 .1 .5 .2 .5 .1 .5 0 .5 0 .5 0 .5 .1 .5 .1 .5 .1 .5-.1 .5-.1 .5-.2 .5 0 .5 0 .5-.1 .5 0 .5 0 .5 .1 .5 0 .5 0 .5 0 .5 0 .5 0 .5 0 .5 .1 .5 .1 .5-.1 .5 0 .5 .1 .5 0 .5-.1 .5-.1 .5 .1 .5 .2 .5 0 .5-.1 .5 0 .5 .1 .5 0 .5-.1 .5-.2 .5 0 .5 .1 .5-.1 .5 0 .5 0 .5 0 .5 0 .5 0 .5 0 .5 0 .5 0 .5 0 .5 .1 .5 .1 .5 .2 .5 0 .5 0 .5 0 .5 .1 .5 .1 .5 .1 .5 .1 .5-.1 .5-.2 .5-.1 .5-.1 .5-.1 .5-.2 .5-.2 .5 .1 .5 .2 .5 .2 .5 0 .5 0 .5 0 .5 0 .5-.1 .5-.1 .5-.2 .5-.2 .5-.1 .5 0 .5 .2 .5 .3 .5 .2 .5 .1 .5 0 .5-.1 .5 0 .5 0 .5 0 .5-.1 .5 0 .5 0 .5 .1 .5 .1 .5 .1 .5 0 .5-.2 .5-.3 .5-.2 .5 0 .5 0 .5 .1 .5 .1 .5 .1 .5 0 .5 0 .5 0 .5 0 .5 .1 .5 .2 .5 .1 .5 0 .5-.1 .5-.1 .5-.1 .5 0 .5 0 .5 .1 .5 .2 .5 0 .5-.1 .5-.3 .5-.1 .5 .1 .5 .2 .5 .2 .5-.1 .5-.2 .5-.1 .5 0 .5 .1 .5 .1 .5 0 .5 0 .5-.1 .5-.2 .5-.1 .5 .1 .5 .1 .5 .1 .5 0 .5 .1 .5 .1 .5 0 .5-.1 .5-.1 .5-.1 .5 0 .5 0 .5 0 .5 .2 .5 .3 .5 .1 .5 0 .5-.2 .5-.2 .5-.1 .5 .2 .5 .2 .5 .1 .5 0 .5 0 .5-.1 .5-.1 .5 .1 .5 0 .5 .1 .5-.1 .5-.2 .5-.1 .5-.1 .5 0 .5 0 .5 .1 .5 .2 .5 .1 .5-.1 .5 0 .5 0 .5 .1 .5 .1 .5 0 .5 0 .5 .2 .5 0 .5-.1 .5-.2 .5-.1 .5 .1 .5 0 .5 0 .5-.1 .5-.1 .5-.1 .5 0 .5-.1 .5-.1 .5 0 .5 0 .5 .1 .5 0 .5 .1 .5 0 .5-.1 .5 0 .5 0 .5-.1 .5-.1 .5 0 .5 .1 .5 .2 .5 .1 .5 .1 .5 .1 .5 .1 .5 .2 .5 0 .5-.2 .5-.2 .5-.1 .5 .1 .5 0 .5 0 .5 0 .5 0 .5 .1 .5 0 .5 0 .5 0 .5 0 .5 .1 .5 .2 .5 .1 .5 0 .5-.2 .5-.2 .5-.2 .5 0 .5 .1 .5 0 .5-.1 .5 0 .5 .1 .5 .2 .5 .1 .5-.1 .5 0 .5 .1 .5 .1 .5 0 .5 0 .5-.1 .5 .1 .5 0 .5 0 .5 0 .5 0 .5-.1 .5-.1 .5-.1 .5 .2 .5 .3 .5 .3 .5-.1 .5-.2 .5-.3 .5-.3 .5-.1 .5-.1 .5-.1 .5 .1 .5 .2 .5 .4 .5 .2 .5 0 .5-.3 .5-.2 .5-.2 .5 0 .5 .1 .5 .1 .5 .1 .5 0 .5 .1 .5 .1 .5 0 .5-.1 .5-.2 .5 0 .5 .1 .5 0 .5-.1 .5 0 .5 .1 .5 .1 .5 .2 .5 .1 .5 .1 .5 .1 .5-.1 .5-.2 .5-.2 .5 0 .5 .3 .5 .2 .5 .2 .5 0 .5-.2 .5-.2 .5-.1 .5-.1 .5-.1 .5-.1 .5 0 .5 0 .5-.1 .5 0 .5 .1 .5 0"/>
<path fill="none" stroke="#0000ff" stroke-width="4.20" stroke-linejoin="round" stroke-linecap="round" d="M1337.5 1667.3l.5-.1 .5 0 .5 0 .5 .1 .5 .2 .5 .2 .5 .3 .5 .3 .5 0 .5 0 .5 0 .5-.1 .5 0 .5-.1 .5 0 .5 0 .5-.1 .5-.1 .5-.1 .5 0 .5-.1 .5 0 .5 0 .5 .1 .5 0 .5 0 .5-.1 .5 0 .5 0 .5-.1 .5 0 .5 .1 .5 .3 .5 .2 .5 0 .5-.2 .5-.3 .5-.3 .5 0 .5 .1 .5 0 .5-.1 .5 .1 .5 .2 .5 .2 .5 .1 .5 0 .5-.2 .5-.1 .5-.1 .5 0 .5 0 .5 .2 .5 .3 .5 .2 .5 .2 .5 0 .5-.1 .5-.3 .5-.1 .5 0 .5 .1 .5 0 .5 0 .5-.1 .5-.1 .5 0 .5 .1 .5 .1 .5 .1 .5 0 .5 0 .5 .1 .5 0 .5 0 .5 0 .5-.2 .5-.2 .5 .1 .5 .2 .5 .1 .5 .1 .5-.1 .5 0 .5-.1 .5-.2 .5-.1 .5-.1 .5 0 .5-.1 .5-.1 .5 0 .5 .1 .5 .1 .5 .1 .5 .1 .5 0 .5-.1 .5 0 .5 0 .5 0 .5 0 .5 .1 .5 .1 .5 0 .5 .2 .5 0 .5-.1 .5-.1 .5-.1 .5 .1 .5 .1 .5 0 .5-.1 .5 .1 .5 .1 .5 .3 .5 .1 .5 0 .5-.1 .5 0 .5 0 .5 0 .5 .1 .5 .1 .5 0 .5-.1 .5 0 .5-.1 .5 0 .5-.1 .5 0 .5 .1 .5 .2 .5 .1 .5 .1 .5 .1 .5 0 .5-.1 .5-.1 .5 0 .5-.2 .5-.1 .5-.1 .5 .1 .5 0 .5 0 .5 .1 .5 .3 .5 .2 .5 .2 .5 0 .5 0 .5 0 .5 0 .5-.1 .5 0 .5 0 .5 .2 .5 .2 .5 0 .5 0 .5 0 .5-.1 .5-.1 .5 0 .5 .1 .5 .2 .5 .2 .5 0 .5-.1 .5-.3 .5-.2 .5-.1 .5 0 .5 0 .5 .1 .5 .2 .5 .1 .5 .1 .5 .1 .5 0 .5 0 .5-.1 .5 0 .5 0 .5 .1 .5 .2 .5 .3 .5 .2 .5 .2 .5 0 .5-.2 .5-.3 .5-.2 .5 0 .5 .1 .5 .2 .5 .2 .5 0 .5-.1 .5-.2 .5-.2 .5-.2 .5-.1 .5 .1 .5 .2 .5 .2 .5 .1 .5 .1 .5 0 .5 .2 .5 0 .5 0 .5-.1 .5 0 .5-.2 .5-.4 .5-.2 .5 .1 .5 .3 .5 .4 .5 .2 .5 0 .5-.1 .5 0 .5 0 .5 0 .5 0 .5-.1 .5 0 .5 0 .5 0 .5 0 .5 0 .5 0 .5 .3 .5 .2 .5 .2 .5 0 .5 0 .5-.1 .5-.1 .5-.1 .5 0 .5 0 .5 0 .5 0 .5-.1 .5-.1 .5 0 .5 .1 .5 .2 .5 0 .5-.1 .5-.1 .5 0 .5 .1 .5 .1 .5 .1 .5 0 .5-.1 .5-.1 .5-.1 .5 .1 .5 .1 .5 .1 .5 0 .5 0 .5 0 .5-.1 .5 .1 .5 0 .5 .2 .5 .1 .5 .1 .5 0 .5-.1 .5-.1 .5 0 .5-.2 .5 .1 .5 .1 .5 .2 .5 .1 .5 .1 .5 0 .5 0 .5-.1 .5-.1 .5 0 .5-.1 .5 .1 .5 .1 .5 0 .5-.1 .5-.1 .5 0 .5 0 .5 0 .5-.1 .5-.1 .5 0 .5 0 .5 .1 .5-.1 .5-.1 .5 0 .5 0 .5 0 .5 .1 .5 .1 .5 0 .5 0 .5-.1 .5-.1 .5-.1 .5 .1 .5 .1 .5 .3 .5 .3 .5 .1 .5-.1 .5-.2 .5-.2 .5 0 .5 .1 .5 .1 .5 .1 .5-.1 .5-.2 .5 0 .5 .1 .5 .2 .5 .2 .5 .1 .5-.1 .5-.2 .5-.3 .5-.2 .5 0 .5 .1 .5 .2 .5 .1 .5 0 .5 .1 .5 0 .5 0 .5-.1 .5-.1 .5-.1 .5-.1 .5 0 .5-.1 .5-.1 .5-.2 .5-.2 .5 0 .5 .1 .5 .1 .5 0 .5 .1 .5-.1 .5 0 .5 0 .5-.1 .5-.2 .5-.2 .5-.1 .5 0 .5 .1 .5 .2 .5 .1 .5 0 .5 0 .5 0 .5 .1 .5 .1 .5 0 .1-.2 .1 0 .1 0 .1 0 .1-.1 0-.1 .1-.1 .1 0 .1-.1 .1-.1 .1-.2 0-.1 .1-.1 .1 .1 .1 .2 .1 .1 .1 .1 .1-.2 .1-.1 .1-.1 .1 0 .1 0 0-.1 .1-.1 .1 .2 .1 .2 .1 .1 .1 .2 0 .1 .1 0 .1-.2 .1-.4 .1-.3 .1 .1 0 .2 .1 .3 .1 0 .1-.1 .1-.1 .1 0 .1 0 .1-.1 .1 0 .1 .1 .1 0 .1 0 .1 0 .1 0 .1 0 .1 0 .1 .1 .1 .1 .1-.1 .1-.1 .1-.3 0-.2 .1 0 .1 0 .1 0 .1 .1 .1 .2 0 .1 .1 0 .1-.1 .1-.1 .1 0 .1 0 0 .1 .1-.1 .1-.1 .1-.1 .1-.1 .1 0 0 .1 .1 .2 .1 .1 .1 0 .1-.2 .1-.1 0 .1 .1 0 .1-.1 .1-.2 .1-.1 .1 .1 0 .2 .1 .1 .1 0 .1-.1 .1-.1 .1 0 0 .1 .1 0 .1 0 .1 0 .1 0 .1 0 .1-.1 .1-.2 .1-.1 .1-.1 .1 .1 0 .1 .1 .1 .1-.1 .1-.1 .1-.1 .1 0 0 .1 .1-.1 .1 0 .1-.1 .1-.1 .1-.1 .1 0 .1 .2 .1 0 .1-.1 .1-.2 .1 .1 .1 .1 .1 .1 .1 0 .1 0 .1 0 .1-.1 .1 0 .1 .1 .1 0 0-.1 .1-.1 .1-.2 .1 0 .1 0 .1 0 .1-.1 .1 .1 .1 .1 .1 .2 .1 0 .1-.2 .1 0 .1 .1 .1 .1 .1 0 0-.2 .1-.2 .1-.1 .1-.1 .1-.1 .1 .1 0 .2 .1 .1 .1 .1 .1 .1 .1 0 .1-.1 0-.4 .1-.2 .1 0 .1 0 .1 0 .1-.1 .1 0 .1 0 .1 0 .1 0 .1-.1 0-.1 .1 0 .1 0 .1-.1 .1-.1 .1-.1 0-.1 .1-.1 .1 .1 .1 .2 .1 0 .1 0 .1-.1 .1 0 .1 .1 .1 0 .1-.1 0-.1 .1-.3 .1-.2 .1 0 .1 0 .1 .2 .1 0 .1-.1 .1 0 .1 .1 .1 0 .1-.1 .1-.1 .1-.1 .1-.2 .1-.3 0-.1 .1-.1 .1 .1 .1 0 .1 0 .1 .1 .1 0 .1-.1 .1 0 .1 0 .1 .2 0 .2 .1 .1 .1-.1 .1-.2 .1-.2 .1 0 0 .1 .1 0 .1-.1 .1-.2 .1 0 .1 0 0 .2 .1 .1 .1-.1 .1-.1 .1-.3 .1-.3 0-.1 .1 0 .1 0 .1 0 .1 0 .1 0 0 .1 .1 0 .1-.2 .1-.3 .1-.2 .1 0 0 .2 .1 .1 .1 0 .1-.1 .1 0 .1-.1 0 .1 .1 0 .1 0 .1-.1 .1-.2 .1-.2 .1-.1 .1-.1 .1-.2 .1 0 .1-.1 .1-.3 .1-.2 .1-.1 .1-.1 .1 .1 .1-.1 .1-.2 .1-.2 .1-.2 .1-.2 0 .1 .1 .1 .1 .1 .1 0 .1-.1 .1 0 0 .1 .1 0 0-.1 .1-.3 0-.2 .1-.1 .1-.1 .1 0 0 .2 .1-.2 0-.2 .1-.2 0 .1 .1 .1 0 .1 .1 0 .1-.4 0-.4 0-.2 .1-.2 .1 0 0 .1 .1 0 .1-.2 0-.1 .1-.2 0 .1 0 .1 .1 0 .1-.4 0-.1 .1-.1 0 .4 .1 .1 0-.1 .1-.4 0-.3 0-.1 .1-.2 0 .2 .1-.1 0-.1 .1-.1 .1-.2 0-.1 .1-.3 0-.1 .1-.1 0 .1 .1 0 0 .1 .1-.3 0-.1 .1-.3 .1-.2 .1-.2 .1-.2 0-.1 .1-.3 0 .1 .1 0 0 .1 .1-.3 .1-.2 0-.1 .1-.4 .1-.2 0 .1 .1-.1 0 .1 .1-.2 0 .1 0 .1 .1-.3 0-.1 .1-.3 .1-.3 0-.1 .1-.4 0-.1 .1-.3 0 .1 0 .2 .1-.3 0-.1 .1-.5 0-.3 .1-.5 0-.1 .1-.3 0 .1 .1-.3 0-.1 0-.2 .1-.6 0-.1 .1-.3 0 .2 .1-.3 0 .1 .1-.4 .1-.7 0-.1 0-.2 .1-.8 0-.1 .1-.6 0 .2 .1-.4 0 .1 .1-.7 0-.1 .1-.6 0 .1 .1-.7 0 .2 .1-.6 0 .1 .1-.8 0-.1 .1-.9 0-.2 .1-1 .1-.9 0-.1 .1-1 0-.1 .1-1.1 0-.1 .1-1.2 .1-1 0 .1 0 .1 .1-1.2 0 .1 .1-1.3 .1-1.6 .1-1.6 .1-1.6 .1-1.8 0 .1 .1-1.8 .1-1.9 0 .1 .1-2.1 .1-2.3 0-.1 .1-2.3 .1-2.6 .1-2.6 .1-2.7 .1-2.9 0 .1 .1-3.1 .1-3.3 0-.1 .1-3.5 .1-3.6 0 .1 .1-3.8 0-.1 .1-4 .1-4.2 0-.1 .1-4.4 .1-4.6 .1-4.9 .1-5.1 .1-5.4 0 .1 .1-5.6 .1-5.9 .1-6.1 .1-6.4 .1-6.7 .1-7 .1-7.2 .1-7.5 .1-7.7 .1-8 .1-8.3 .1-8.5 .1-8.9 .1-9.1 .1-9.4 .1-9.6 .1-9.8 .1-10.1 .1-10.4 .1-10.6 .1-10.7 .1-11 .1-11.2 .1-11.3 .1-11.5 .1-11.6 .1-11.8 .1-11.8 .1-11.9 .1-12 .1-12 .1-12 .1-11.9 .1-12 .1-11.8 .1-11.7 .1-11.6 .1-11.4 .1-11.1 .1-11 .1-10.6 .1-10.3 .1-9.9 .1-9.5 .1-9.1 .1-8.6 .1-8.1 .1-7.5 .1-7 .1-6.3 .1-5.6 .1-5 .1-4.2 .1-3.5 .1-2.8 .1-2 .1-1.1 .1-.4 .1 .4 .1 1.3 .1 2.1 .1 3 .1 3.7 .1 4.5 0 .1 .1 5.2 .1 6 .1 6.6 .1 7.2 .1 7.8 .1 8.3 .1 8.7 .1 9.2 .1 9.5 .1 9.7 .1 10.1 .1 10.2 .1 10.4 .1 10.5 .1 10.5 .1 10.6 .1 10.6 .1 10.6 .1 10.5 .1 10.4 .1 10.3 .1 10.2 .1 10 .1 9.8 0 .1 .1 9.6 .1 9.5 .1 9.3 .1 9.2 .1 8.9 .1 8.7 .1 8.5 .1 8.2 .1 8.1 .1 7.8 .1 7.6 .1 7.4 .1 7.2 .1 7 .1 6.8 .1 6.6 .1 6.4 .1 6.3 .1 6 .1 5.8 .1 5.7 .1 5.5 .1 5.3 .1 5.2 .1 5 .1 4.9 .1 4.7 .1 4.6 0-.1 .1 4.5 .1 4.2 .1 4.2 .1 4 .1 4 .1 3.7 .1 3.7 .1 3.6 .1 3.5 .1 3.3 .1 3.3 .1 3.2 0-.1 .1 3 .1 3 .1 2.9 .1 2.8 .1 2.7 0 .1 .1 2.6 .1 2.6 .1 2.5 0-.1 .1 2.5 0-.1 .1 2.4 0 .1 .1 2.3 0 .1 .1 2.2 .1 2.2 0-.1 .1 2.1 0-.1 .1 2.1 0 .1 .1 2 .1 1.9 .1 1.9 .1 1.8 .1 1.8 .1 1.8 .1 1.7 0-.1 .1 1.6 0 .1 .1 1.6 .1 1.6 0-.1 .1 1.6 .1 1.5 .1 1.5 .1 1.4 .1 1.4 .1 1.4 .1 1.2 .1 1.2 .1 1.3 .1 1.3 .1 1.2 0 .1 .1 1.1 0 .1 .1 1.1 .1 1.1 .1 1.1 .1 1.1 .1 1 .1 1 .1 1.1 .1 1 0-.1 0-.1 .1 1 0 .1 .1 1 0 .1 .1 .9 .1 .8 0-.1 .1 .7 .1 1 .1 .9 .1 .8 .1 .7 0-.1 .1 .6 0-.1 0 .1 .1 .8 0 .1 .1 .8 .1 .6 0 .1 .1 .7 0 .1 .1 .7 0-.1 .1 .6 .1 .7 .1 .7 .1 .7 .1 .7 .1 .6 0-.1 .1 .6 0-.1 .1 .6 .1 .7 .1 .6 0 .1 0 .1 .1 .6 0 .1 .1 .4 0-.2 .1 .4 .1 .6 0 .1 .1 .6 0 .1 .1 .5 .1 .5 0-.2 .1 .3 0-.2 .1 .4 0 .1 .1 .7 0 .2 .1 .4 .1 .5 0 .1 .1 .4 0-.1 .1 .4 0 .1 .1 .5 .1 .4 0-.1 .1 .5 0 .1 .1 .5 0-.1 .1 .3 .1 .3 .1 .4 0-.1 .1 .3 0-.1 .1 .3 .1 .4 .1 .6 0 .2 0 .1 .1 .4 .1 .3 .1 .4 0 .1 .1 .4 0-.1 .1 .2 0-.2 0-.1 .1 .3 .1 .3 0 .1 .1 .3 0-.1 .1 .2 .1 .5 0 .1 0 .1 .1 .1 0-.1 .1 .3 0-.1 .1 .3 .1 .4 0 .2 .1 .4 0-.1 .1 .1 .1 .3 0-.1 .1 .1 0-.2 .1 .3 0 .1 .1 .4 .1 .2 .1 .1 .1 .2 .1 .1 0-.1 .1 .3 0 .3 0 .3 .1 .4 0-.1 .1 .2 .1 .1 0-.1 .1 0 0-.1 .1 .1 .1 .2 0 .1 .1 .2 0 .2 .1 .2 0-.1 .1 .1 0-.1 .1 .2 0 .1 0 .1 .1 .1 0-.1 .1 .1 .1 .1 0 .1 .1 .3 0 .1 .1 .2 0-.1 0-.3 .1 0 0-.1 .1 .3 0 .1 .1 .2 .1 .2 0-.1 .1 .1 0-.1 .1 .2 0-.1 .1 .1 .1 .2 0 .1 .1 .1 0-.1 .1-.1 0-.1 0-.1 .1 .1 0 .1 .1 .2 .1 0 .1 .1 .1 .2 0 .1 0 .1 .1 .2 0-.1 .1-.2 0-.3 .1 0 0 .1 .1 .2 0 .1 .1 .1 0-.1 0-.1 .1 0 0 .2 .1 .2 0 .2 .1 .2 0 .1 .1 .1 .1 0 0 .1 0 .2 .1 .2 .1 0 .1 0 0-.1 .1-.2 0-.3 .1-.2 0 .1 .1 .3 0 .3 .1 .2 .1 0 0-.1 .1 0 0 .1 .1 .1 0-.1 0-.1 .1 0 0-.1 .1 .2 .1 .2 0 .1 .1 .1 .1-.1 0-.2 0 .1 .1 .2 .1 .1 .1 .2 0 .1 .1 .2 .1 .1 0 .1 .1 .1 .1 .1 0-.1 .1 .2 0 .2 .1 .2 0 .1 .1 .1 0-.2 0-.1 .1 .1 .1 .1 0-.1 .1 .3 0 .1 .1 .2 .1 .1 0-.1 0 .2 .1 .3 0 .1 .1 .1 0-.1 .1 0 0 .1 .1 .3 0 .1 .1 .3 0 .1 .1 0 0-.2 .1 .2 0 .1 .1 .3 .1 .1 0-.2 .1 .1 .1 0 0-.1 .1 .2 0 .1 .1 .3 .1 .2 .1 .1 0-.1 .1 .2 0 .2 .1 .2 0 .1 .1 .2 0-.1 .1 .1 .1 .3 .1 .1 0 .1 .1 .2 0-.1 .1 0 .1 .1 .1 .1 0 .1 0 .2 .1 .3 0 .1 .1 .1 .1-.1 0-.1 .1 .1 .1 0 0-.2 0-.2 .1-.1 .1 .2 0 .3 .1 .2 0 .1 .1 .2 .1 .1 0-.1 .1 .1 0 .2 .1 .2 .1 0 0-.1 .1 .1 0 .1 .1 .3 0-.2 .1-.2 .1 .3 0 .2 .1 .2 .1 .1 .1 .1 0-.1 0-.1 .1 0 .1 .1 0-.1 .1-.1 0 .1 .1 .2 0 .1 .1 0 0-.2 0-.2 .1 0 0 .1 .1 .1 0 .2 .1 .4 0 .3 .1 .2 0-.1 .1 0 0-.1 0-.2 .1-.1 0-.1 .1 .1 0 .1 .1 0 0-.1 .1 0 0 .2 .1 .3 0 .1 .1-.1 .1-.1 0-.3 .1-.2 0-.1 .1 .2 0 .1 .1 .1 .1 .2 0 .2 .1 .2 0 .1 .1-.1 0-.1 .1-.1 .1 0 0-.1 .1-.1 0-.1 .1 0 0 .2 .1 .3 0 .3 .1 .3 0 .1 .1 0 0-.1 0-.1 .1 0 0-.1 .1 .1 .1 0 .1 .1 0 .1 .1 .2 0 .1 .1-.1 0-.1 .1-.1 0-.1 .1 0 0 .1 .1 .1 .1 0 .1 0 0-.1 .1 .1 0 .2 .1 .3 0 .1 .1 0 0-.2 .1-.2 0-.1 .1 .2 0 .1 .1-.1 0-.1 .1-.1 0-.1 .1 .1 0 .1 .1 .1 .1 0 0 .1 .1 .1 .1 .1 .1 0 0-.1 .1 0 .1 .2 0 .1 .1 .1 .1 .1 .1-.1 0-.1 .1 0 0 .2 .1 .2 .1 0 0-.1 .1 0 .1 0 .1 0 0-.1 .1 .1 .1 .1 0 .1 .1 .1 .1 0 .1 0 0-.1 .1-.2 0 .1 .1 .2 0 .2 .1 .1 .1 0 0-.1 .1 0 0-.1 .1 0 0 .1 .1 .2 0 .2 .1 0 0-.1 .1 0 0-.1 .1 .1 0-.1 .1 0 .1 0 0-.1 .1 .1 0 .1 .1 .2 0 .1 .1-.1 0-.1 0-.1 .1 .1 0 .2 .1 .2 .1-.2 0-.2 .1 0 .1 .1 0 .1 .1 0 .1-.2 0-.2 .1-.1 0 .1 .1 .2 0 .2 .1 .2 0 .1 .1-.1 .1 0 .1-.1 .1 0 .1 0 .1 .1 .1 .1 .1 .1 .1 0 .1 .1 0 .1 .1 0 .1 0 .1-.1 .1 0 .1 0 .1-.2 .1-.1 .1 .1 .1 0 .1 .1 0-.1 .1-.1 .1 0 .1 .1 .1 .2 .1 .1 0 .1 .1 .1 .1 .2 .1 0 .1 0 .1-.2 0-.3 .1-.1 .1 .1 .1 .2 .1 .2 .1 .2 .1-.1 .1 0 .1 .1 .1 0 .1 0 0 .1 .1 .2 .1 .3 .1 .1 .1 0 .1-.1 0-.2 .1-.1 .1 .2 .1 .2 .1 0 .1 0 0-.1 .1 0 .1 .1 .1-.1 .1-.1 .1-.1 0-.1 .1 0 .1 0 .1-.1 .1-.1 .1 .1 .1 0 .1 .1 .1 .1 .1 .2 .1 .1 0 .1 .1 .1 .1 0 .1-.1 .1-.2 .1-.1 0-.1 .1 .1 .1 0 .1 .1 .1 0 .1 .1 0 .1 .1 .2 .1 .1 .1 0 .1 0 .1 0 0 .1 .1 0 .1 .1 .1 .1 .1 .1 .1 0 0-.1 .1 0 .1 .1 .1 0 .1 0 .1 0 0 .2 .1 .1 .1 0 .1-.2 .1-.1 .1-.2 0-.2 .1-.2 .1 .1 .1 .2 .1 .2 .1 .2 .1 0 .1-.1 .1-.2 .1-.2 .1-.1 0 .1 .1 .2 .1 .2 .1 .2 .1 .2 .1 .1 0-.1 .1 0 .1-.2 .1-.1 .1-.1 .1 .1 0 .2 .1 0 .1-.1 .1-.2 .1-.1 .1 .1 0 .1 .1 .3 .1 .2 .1 .1 .1-.1 .1-.1 .1 .1 .1 .2 .1 0 .1 0 .1-.1 .1 0 .1 0 .1-.1 .1 0 .1 .1 0 .1 .1 0 .1-.1 .1-.1 .1 .1 .1 .2 0 .2 .1 .1 .1 0 .1-.2 .1-.1 .1 0 0-.1 .1-.2 .1 0 .1 .2 .1 .2 .1 .1 0 .1 .1 .1 .1-.1 .1-.1 .1-.2 .1-.1 0 .1 .1 .1 .1 .1 .1-.1 .1-.2 .1-.1 0-.1 .1 0 .1 .1 .1 .2 .1 .1 .1 0 .1 0 .1 .1 .1 .2 .1 0 .1-.3 0-.3 .1 0 .1 .1 .1 .2 .1 .1 .1 .2 .1 0 .1-.2 .1-.1 .1 .1 .1 .2 .1-.1 .1-.1 .1 0 .1 .1 .1 .2 0 .3 .1 .1 .1 0 .1-.3 .1-.3 .1-.2 .1 0 .1 .1 .1 .3 .1 .2 .1 .1 0-.1 .1-.2 .1-.2 .1 0 .1 .2 .1 .1 0 .1 .1 .1 .1 0 .1-.1 .1-.1 .1-.1 0-.1 .1 0 .1 0 0-.1 .1 0 0 .1 .1 .3 0 .2 .1 0 0-.1 .1 .1 0 .1 .1 .1 .1-.1 0-.2 .1-.3 0-.4 .1-.2 0 .1 0 .3 .1 .5 0 .3 .1-.1 0-.1 .1-.1 0-.1 .1 .1 0 .1 .1 .1 0-.1 .1-.1 0-.1 .1 .2 0 .1 .1-.1 0-.1 .1-.1 0 .1 .1 .2 .1 .1 0 .1 .1 .1 0-.2 .1-.3 0-.2 .1-.1 0 .2 .1 .3 0 .2 0-.1 .1 0 0-.1 .1 0 .1-.1 0 .1 .1 .1 0 .2 .1 .1 0-.1 0-.2 .1-.1 0-.1 .1 0 0 .1 .1 .2 0 .1 .1 .2 0-.1 .1-.1 0-.1 0-.1 .1-.2 0-.1 .1 0 .1 .1 0 .1 .1 .1 0 .1 .1 .1 0 .1 .1 0 .1 0 .1 .1 .1-.1 .1 0 0-.1 .1 0 .1 0 .1 0 .1 .1 .1 .1 0 .1 .1 .1 .1 .1 .1 0 .1-.2 .1-.2 0-.1 .1 0 .1 0 .1 0 .1 0 .1 0 .1-.1 .1 0 .1 .1 .1 .1 .1 .1 0 .1 .1 0 .1 .1 .1 .2 .1 .1 .1-.1 0-.3 .1-.4 .1-.2 .1-.1 .1 0 .1 .1 0 .1 .1 .1 .1 0 .1-.1 .1 0 .1 0 0 .2 .1 .1 .1 .1 .1 0 .1 .1 .1 .2 0 .1 .1 0 .1 0 .1 0 .1 .1 .1 0 0-.1 .1-.1 .1-.1 .1-.1 .1 .1 .1 .2 0 .1 .1 0 .1-.2 .1 0 .1 0 .1 0 0 .1 .1 .1 .1 0 .1-.1 .1-.1 .1 0 .1 0 .1 0 .1-.1 .1 0 .1 .1 0-.1 .1-.2 .1 0 .1 0 .1 0 .1 .1 0 .1 .1 .1 .1 0 .1 0 .1 0 .1 .1 .1-.1 .1-.1 .1-.2 .1 0 .1 0 0 .2 .1 .2 .1 .1 .1 .1 .1 .1 .1 0 .1-.1 .1-.1 .1-.1 .1-.1 .1 .1 0 .2 .1 .1 .1 .2 .1 0 .1 .1 .1 0 0 .1 .1 .2 .1 0 .1-.1 .1-.2 .1-.2 0-.2 .1 0 .1-.1 .1-.1 .1 0 .1 .1 0 .1 .1 .2 .1 .2 .1 .1 .1-.1 .1-.1 0-.1 .1-.2 .1-.1 .1 .1 .1 .3 .1 .3 0 .1 .1 .1 .1-.1 .1-.1 .1-.1 .1 .1 0 .1 .1 .1 .1 0 .1-.2 .1-.1 .1-.1 0-.1 .1 0 .1 0 .1 .1 .1 .1 .1 .2 .1-.1 .1-.2 .1-.2 .1-.1 .1-.1 .1 .2 .1 .1 .1 .2 .1 .1 .1 0 0-.1 .1-.1 .1-.1 .1 .2 .1 .2 .1 .2 0 .2 .1 .1 .1-.1 .1-.3 .1-.3 .1-.3 0-.1 .1 .2 .1 .2 .1 .2 .1 .1 .1-.1 0-.1 .1-.1 .1-.1 .1-.1 .1-.1 .1 0 .1 .2 .1 .1 .1 .2 .1 0 .1 0 .1 .1 .1 .1 .1 .1 .1 .1 .1-.1 0-.2 .1-.1 .1-.1 .1-.1 .1 0 .1 .1 0 .1 .1 0 .1-.1 .1-.1 .1 0 .1 .1 .1-.1 .1 0 .1 0 .1 .1 .1 0 0-.1 .1 0 .1 .1 .1-.1 .1-.1 .1 0 0 .1 .1 .1 .1 .2 .1 .2 .1 .1 .1 0 0-.1 .1-.1 .1 0 .1 .1 .1-.1 .1 0 .1 0 .1 .1 .1 .1 .1 0 .1 0 .1 .1 .1 0 .1 .1 .1-.1 .1-.1 .1-.1 .1-.1 .1-.1 .1 0 .1 .2 0 .1 .1 .1 .1 0 .1-.2 .1-.1 .1-.1 0-.1 .1-.1 .1 0 .1 .1 .1 .2 .1 .2 0 .1 .1 0 .1-.1 .1-.1 .1 0 .1 0 0 .1 .1-.1 .1 0 .1 0 .1 .1 .1 .1 0 .1 .1 0 .1-.1 .1-.2 .1-.1 .1 .1 0 .1 .1 .1 .1 .1 .1 0 .1 0 .1-.2 0-.1 .1-.1 .1 0 .1 0 .1 .2 .1 .1 0 .1 .1-.1 .1-.2 .1-.1 .1 0 .1 0 .1-.1 .1 0 .1 .2 .1 .2 .1 .1 .1-.2 .1 0 .1 .1 .1-.1 .1 0 0-.2 .1-.2 .1-.1 .1 0 .1 0 .1 .1 .1 0 .1 .3 .1 .2 .1 .1 .1 0 0-.2 .1-.1 .1-.1 .1-.1 .1-.2 .1-.1 0-.1 .1-.1 .1 .1 .1 .2 .1 .1 .1-.1 0-.3 .1-.2 .1 0 .1 .1 .1 0 .1-.1 0-.1 .1-.1 .1 .1 .1 .2 .1 .3 .1 0 0-.2 .1-.4 .1-.1 .1 .1 .1 .2 .1 .1 0-.1 .1-.2 .1-.2 .1-.2 .1-.1 .1 0 0 .1 .1 .1 .1 .1 .1 0 .1-.1 .1-.2 0-.1 .1-.2 .1 0 .1-.1 .1 0 .1 0 0 .1 .1 0 .1 .1 .1 .1 .1-.1 .1-.2 0-.2 .1 0 .1 0 .1-.1 .1-.1 .1-.1 .1-.2 .1-.2 .1-.2 .1 0 .1 .1 0 .1 .1 0 .1 0 .1 .1 .1 0 .1 .1 0-.1 .1-.2 .1-.4 .1-.2 .1 0 .1 0 0 .1 .1 0 .1 .1 .1 .1 .1 0 .1 0 .1 0 .1 0 .1 0 .1-.1 .1-.1 0-.1 .1 0 .1-.1 .1 0 .1 .1 .1 .1 .1-.1 .1-.1 .1-.2 .1-.1 .1-.1 0 .1 .1 .2 .1 .2 .1 .1 .1 0 .1 .1 0 .2 .1 .2 .1 0 .1-.1 .1-.2 .1 0 0 .2 .1 .2 .1 .2 .1 .1 .1 0 .1-.2 0-.2 .1-.1 .1 .1 .1 .3 .1 .3 .1 .1 .1-.2 .1-.1 .1 0 .1 0 .1 0 .1 .1 .1 .2 .1 .2 .1 .1 .1 .1 0 .1 .1 .1 .1 .1 .1 0 .1 0 .1 .1 .1 .1 .1 .1 .1 0 .1 .1 .1 0 0 .1 .1 .3 .1 .2 .1 0 .1-.1 .1 0 0-.1 .1-.1 .1 0 .1 .1 .1 .1 .1 .2 0 .1 .1 .3 .1 .2 .1 .1 .1 0 .1 0 0 .1 .1 .2 .1 .2 .1 0 .1-.1 .1-.2 0-.2 .1 0 .1 0 .1 .1 .1 .1 .1 .2 0 .1 .1 0 .1-.2 .1-.2 .1 0 .1 .1 0 .2 .1 .1 .1 .2 .1 .2 .1 0 .1 0 0-.1 .1 0 .1 0 .1 .1 .1 .1 .1 0 0 .1 .1 .1 .1 .1 .1 .1 .1 0 .1-.1 0-.1 .1-.1 .1 0 .1 .1 .1 .1 .1 0 .1 .1 .1 .1 .1 .1 .1 .1 .1 0 0-.1 .1 0 .1-.2 .1-.1 .1-.1 .1 .1 0 .1 .1-.1 .1-.1 .1-.1 .1 0 .1 .1 0 .1 .1 .1 .1 .1 .1 .1 .1 .1 .1 0 0-.1 .1 0 .1 .1 .1 0 .1-.2 .1 0 0 .1 .1 .1 .1 .2 .1 .1 .1 .1 .1 .1 .1 0 .1-.1 .1 0 .1-.1 .1-.1 0-.1 .1 .1 .1 .1 .1-.1 .1-.1 .1-.1 .1-.1 .1 0 .1 .1 .1 .1 .1 .1 0 .1 .1 .3 .1 .2 .1 0 .1 0 .1 0 .1-.1 .1-.1 .1-.1 .1 0 .1 .1 0 .1 .1 .1 .1-.1 .1-.2 .1-.1 .1 .1 0 .2 .1 .2 .1 0 .1 0 .1 0 .1 .1 .1 .1 .1 0 .1 0 .1-.2 .1-.1 0-.2 .1-.1 .1-.2 .1-.2 .1-.1 .1 .1 0 .4 .1 .2 .1 .1 .1 .1 .1 0 .1 0 .1-.1 .1 0 .1 .1 .1 0 .1-.1 0-.1 .1 0 .1 0 .1 0 .1 0 .1-.1 .1-.1 .1 .1 .1 .1 .1 0 .1 .1 0 .1 .1 .1 .1 .2 .1 0 .1-.1 .1 0 0 .1 .1 .1 .1 0 .1-.1 .1-.2 .1-.2 0-.1 .1 0 .1 .2 .1 .2 .1 .1 .1 0 .1 0 .1 0 .1-.1 .1 .1 .1 0 .1 0 .1 0 .1 .1 .1 .1 .1 .1 .1 .1 .1 0 .1-.1 .1-.1 .1-.1 0-.2 .1-.1 .1 .1 .1 .1 .1 0 .1 0 .1-.1 .1 0 .1-.1 .1-.1 .1-.2 0-.1 .1 .2 .1 .3 .1 .1 .1 .1 .1 0 .1 0 .1 0 .1-.2 .1 0 .1 0 0 .1 .1 .1 .1 .1 .1 .2 .1 .2 .1 0 0-.2 .1-.3 .1-.2 .1-.1 .1 0 .1 .1 0 .1 .1 0 .1-.1 .1 0 .1 .1 .1 .3 0 .1 .1 .1 .1 0 .1-.1 .1-.1 .1-.1 0-.1 .1-.1 .1 0 .1 .1 .1 .1 .1 .1 0-.1 .1-.1 .1-.1 .1 .1 .1 .2 .1 .1 0 .1 .1 0 .1-.1 .1-.1 .1-.1 .1-.1 .1 .1 .1 .2 .1 .1 .1 .1 .1 0 0 .1 .1 .1 .1 0 .1 .1 .1 .1 .1 0 0-.1 .1-.1 .1-.2 .1-.1 .1-.1 .1-.1 .1 0 .1-.1 .1-.1 .1 0 .1 .1 0 .1 .1 0 .1 .1 .1-.1 .1 0 .1 0 0 .1 .1 .1 .1 0 .1-.1 .1 0 .1 .2 0 .3 .1 .2 .1 0 .1 0 .1-.1 .1 0 0-.1 .1-.2 .1-.1 .1-.2 .1-.1 .1-.1 .1 .2 .1 .2 .1 .2 .1 .1 .1 0 .1-.1 .1-.2 .1 0 .1 .1 .1 .1 0 .1 .1-.1 .1-.2 .1 0 .1 0 .1 .1 0 .2 .1 .1 .1 .1 .1-.1 .1-.1 .1-.1 .1-.1 .1-.1 .1 0 .1 .1 .1 0 .1 .1 .1 0 .1 0 .1 0 .1 0 0-.1 .1-.1 .1-.1 .1 .1 .1 .2 .1 .1 0 .1 .1-.1 .1-.1 .1 0 .1 0 .1 .2 0 .1 .1-.1 .1-.2 .1-.1 .1 .2 .1 .2 0 .2 .1-.1 .1-.2 .1-.2 .1 .1 .1 0 0 .1 .1 0 .1-.1 .1-.1 .1-.2 .1-.3 0-.1 .1-.1 .1 0 .1 0 .1 0 .1 .1 0 .1 .1 .1 .1 .2 .1 .1 .1 0 .1 0 0 .1 .1 .1 .1 0 .1-.1 .1 0 .1 0 0 .1 .1 .2 .1 .1 .1 0 .1 0 .1 0 0-.1 .1-.1 .1 0 .1-.2 .1-.2 .1 0 0 .1 .1 .3 .1 .3 .1 .2 .1 .1 .1 0 .5-.2 .5-.2 .5-.2 .5-.1 .5 0 .5 .1 .5 .1 .5 .2 .5 .1 .5 0 .5-.1 .5 0 .5 0 .5 0 .5 0 .5 0 .5-.1 .5-.1 .5-.1 .5 0 .5 .1 .5 .2 .5 .1 .5 0 .5-.1 .5-.2 .5-.2 .5-.2 .5 0 .5 .2 .5 .3 .5 .4 .5 .2 .5 0 .5-.1 .5 0 .5 0 .5-.1 .5-.2 .5-.2 .5-.1 .5 .1 .5 .2 .5 0 .5-.1 .5-.1 .5 0 .5 0 .5 .1 .5 .1 .5 .2 .5 .2 .5 .3 .5 .2 .5 .2 .5 0 .5-.1 .5-.2 .5 0 .5 0 .5 0 .5-.2 .5 0 .5 0 .5 0 .5-.1 .5 0 .5 0 .5 0 .5 .1 .5 .1 .5 0 .5-.1 .5-.1 .5-.1 .5 0 .5 0 .5 0 .5 .1 .5 .1 .5 0 .5 0 .5 .1 .5 .1 .5 0 .5 0 .5-.1 .5-.1 .5 .1 .5 .1 .5 .1 .5 0 .5 0 .5 .1 .5 0 .5 0 .5-.1 .5-.1 .5 0 .5 0 .5 0 .5 0 .5-.1 .5 0 .5-.1 .5-.1 .5 0 .5 .1 .5 .1 .5 .1 .5 .1 .5 .1 .5 0 .5-.1 .5 .1 .5 .1 .5 .1 .5 0 .5 0 .5 .1 .5 .1 .5 .1 .5 .1 .5-.2 .5-.2 .5-.2 .5-.1 .5 .1 .5 .1 .5 .2 .5 .2 .5 .1 .5 0 .5 0 .5 0 .5-.1 .5 0 .5 .1 .5 0 .5 0 .5-.1 .5 0 .5 0 .5 .1 .5 .1 .5 0 .5 .1 .5 0 .5 0 .5-.1 .5 .1 .5 .1 .5 .1 .5 .1 .5-.1 .5-.2 .5-.2 .5-.3 .5-.1 .5 0 .5 .2 .5 .2 .5 .1 .5-.1 .5 0 .5 0 .5 .2 .5 .2 .5 0 .5 .1 .5 .1 .5 .2 .5 0 .5-.1 .5-.2 .5-.3 .5-.1 .5-.1 .5 .1 .5 .1 .5 .1 .5 .1 .5 .1 .5-.1 .5-.1 .5-.1 .5 .1 .5 0 .5 0 .5-.1 .5 .1 .5 .1 .5 .2 .5 .2 .5 .1 .5-.1 .5-.2 .5-.1 .5 0 .5 0 .5 .1 .5 .1 .5 0 .5 0 .5 0 .5 .2 .5 .2 .5 .2 .5 .1 .5 0 .5-.1 .5-.1 .5 0 .5-.1 .5-.2 .5-.1 .5-.1 .5 0 .5-.1 .5-.1 .5 0 .5 0 .5 .2 .5 .1 .5 0 .5 .1 .5 0 .5 0 .5 .1 .5 0 .5-.1 .5-.1 .5-.1 .5 .1 .5 .1 .5 .2 .5 .2 .5-.1 .5-.1 .5-.1 .5 .1 .5 .2 .5 .1 .5 .1 .5 0 .5 0 .5 0 .5-.2 .5-.2 .5-.3 .5-.1 .5 0 .5 .2 .5 .2 .5 .1 .5 0 .5 0 .5 .1 .5 0 .5-.1 .5-.1 .5-.1 .5-.1 .5 0 .5 .1 .5 .3 .5 .2 .5 .2 .5 0 .5-.1 .5-.2 .5-.1 .5 0 .5 .1 .5-.1 .5-.1 .5 0 .5 0 .5 .1 .5 .3 .5 .2 .5 .1 .5-.1 .5-.1 .5-.1 .5 .2 .5 .2 .5 .1 .5 0 .5-.3 .5-.2 .5-.1 .5 0 .5 0 .5-.1 .5-.1 .5 .1 .5 0 .5 .1 .5 .1 .5 .1 .5 .1 .5 0 .5-.2 .5-.2 .5-.1 .5 .1 .5 .2 .5 .1 .5-.1 .5-.1 .5 0 .5 .1 .5 .1 .5 .1 .5 0 .5-.1 .5-.1 .5-.1 .5 .1 .5 .1 .5 0 .5 .1 .5 0 .5 .2 .5 0 .5-.1 .5-.2 .5-.1 .5 0 .5-.1 .5 0 .5-.1 .5 0 .5 .2 .5 .1 .5 .1 .5 .1 .5 .1 .5-.1 .5 0 .5 .1 .5 .1 .5 0 .5 0 .5-.1 .5 0 .5-.2 .5-.2 .5 0 .5 0 .5 0 .5-.2 .5-.2 .5 0 .5 .1 .5 .2 .5 .2 .5 .2 .5 .2 .5 .1 .5-.1 .5-.2 .5-.3 .5-.2 .5 0 .5 .1 .5 .1 .5 0 .5-.1 .5 0 .5 0 .5 0 .5 .1 .5 0 .5 0 .5 0 .5-.1 .5-.1 .5-.1 .5 0 .5 .1 .5 .1 .5 .1 .5 .1 .5 .1 .5 .1 .5-.1 .5 0 .5 0 .5 .1 .5 .1 .5 0 .5 0 .5 0 .5 0 .5 0 .5-.1 .5 0 .5-.1 .5 .1 .5 0 .5 .1 .5 0 .5-.1 .5-.1 .5 0 .5 0 .5 .1 .5 0 .5 0 .5 0 .5 .1 .5 0 .5-.1 .5-.3 .5-.1 .5-.1 .5 .1 .5 .1 .5 .1 .5 0 .5-.1 .5-.1 .5-.1 .5 0 .5 0 .5 0 .5-.1 .5-.1 .5 .1 .5 .2 .5 .1 .5 0 .5-.2 .5 0 .5 .2 .5 .2 .5 .1 .5-.1 .5 0 .5 0 .5 0 .5 .1 .5 0 .5 .1 .5 .1 .5 0 .5-.2 .5-.2 .5-.1 .5 0 .5 .1 .5 0 .5-.1 .5-.1 .5 .1 .5 .3 .5 .1 .5 .1 .5-.1 .5 0 .5 .2 .5 .2 .5 .2 .5-.1 .5-.2 .5-.3 .5-.2 .5 0 .5 .2 .5 .1 .5 0 .5-.1 .5-.2 .5-.1 .5-.1 .5 .1 .5 0 .5 0 .5-.1 .5-.1 .5-.2 .5-.3 .5-.1 .5-.1 .5 0 .5 0 .5-.1 .5-.1 .5-.2 .5-.1 .5 0 .5 0 .5 0 .5 .1 .5 0 .5-.1 .5-.5 .5-.5 .5-.4 .5-.2 .5 0 .5 .1 .5 .1 .5 0 .5 0 .5-.1 .5-.3 .5-.1 .5 0 .5 0 .5-.1 .5-.2 .5-.2 .5-.1 .5-.2 .5-.2 .5-.1 .5 0 .5 .1 .5 0 .5 0 .5 0 .5 .1 .5 0 .5-.1 .5-.1 .5 0 .5 .2 .5 .2 .5 .3 .5 .1 .5 .1 .5 .1 .5 .1 .5 0 .5 .2 .5 .2 .5 .1 .5 0 .5 .1 .5 .1 .5 .3 .5 .3 .5 .3 .5 .1 .5 .1 .5 .1 .5 .2 .5 .2 .5 0 .5 .1 .5 .1 .5 .2 .5 .1 .5-.1 .5-.2 .5-.1 .5 .1 .5 .2 .5 .1 .5 .2 .5 0 .5 0 .5 0 .5 0 .5 .2 .5 .2 .5 .1 .5 0 .5 .1 .5 .1 .5 .1 .5 .2 .5 0 .5 0 .5-.1 .5 0 .5-.1 .5-.2 .5-.1 .5-.1 .5-.1 .5 0 .5 .1 .5 .1 .5 .1 .5-.1 .5 0 .5 0 .5 .1 .5 .1 .5 0 .5-.1 .5-.1 .5 0 .5 .1 .5 .1 .5 .1 .5 0 .5 .1 .5 .1 .5 0 .5 0 .5-.1 .5-.1 .5-.2 .5-.1 .5 .1 .5 .2 .5 .1 .5-.2 .5-.1 .5 0 .5 .3 .5 .2 .5-.1 .5-.2 .5-.2 .5-.1 .5 0 .5 0 .5 .1 .5 .1 .5 .1 .5 0 .5-.2 .5-.1 .5-.1 .5 .2 .5 .1 .5 .1 .5 0 .5 0 .5-.1 .5 0 .5-.1 .5-.2 .5-.1 .5 0 .5 .2 .5 .2 .5 .1 .5 .1 .5-.1 .5 0 .5 0 .5 .1 .5 .1 .5 0 .5 .1 .5 0 .5 0 .5-.1 .5-.2 .5 0 .5 .1 .5 0 .5-.1 .5-.1 .5 0 .5 .2 .5 .3 .5 .3 .5 .1 .5-.2 .5-.2 .5-.2 .5-.2 .5 0 .5 .2 .5 .2 .5 .2 .5-.1 .5-.2 .5-.1 .5-.1 .5-.1 .5-.3 .5-.3 .5 0 .5 .2 .5 .2 .5 .2 .5 .1 .5 0 .5-.1 .5-.2 .5 0 .5 .1 .5 .3 .5 .2 .5 0 .5 0 .5-.1 .5-.1 .5-.1 .5 0 .5 0 .5-.1 .5 .1 .5 .1 .5 0 .5 0 .5 .1 .5 0 .5-.1 .5 .1 .5 .1 .5 0 .5-.1 .5-.3 .5-.1 .5 0 .5 .1 .5 .1 .5 .1 .5 .1 .5 0 .5 0 .5 .1 .5 .2 .5 .1 .5-.1 .5-.3 .5-.1 .5-.2 .5 0 .5 .1 .5 .1 .5 0 .5 0 .5 0 .5-.1 .5 0 .5 0 .5 .2 .5 .2 .5 .1 .5 0 .5-.2 .5-.2 .5-.1 .5 .1 .5 .3 .5 .3 .5 0 .5-.1 .5-.2 .5-.1 .5 0 .5 0 .5-.2 .5-.2 .5-.1 .5 .2 .5 .2 .5 .3 .5 .2 .5-.1 .5-.3 .5-.1 .5 0 .5-.1 .5-.1 .5-.1 .5 .1 .5 0 .5 0 .5 0 .5 .1 .5 .1 .5 0 .5 0 .5 0 .5 0 .5-.1 .5 0 .5-.1 .5 0 .5 .1 .5 .1 .5 0 .5 0 .5 0 .5-.1 .5 0 .5 .1 .5 .1 .5 0 .5 0 .5 0 .5 0 .5-.1 .5-.1 .5-.2 .5-.1 .5 0 .5 0 .5 .1 .5 0 .5 0 .5 .1 .5 .1 .5-.1 .5-.1 .5-.2 .5 0 .5 0 .5 .3 .5 .2 .5 .1 .5-.1 .5 0 .5 0 .5 .1 .5 .1 .5-.1 .5-.3 .5-.2 .5 0 .5 .2 .5 .1 .5 0 .5 .1 .5 0 .5 0 .5 0 .5-.1 .5-.1 .5-.2 .5-.2 .5-.2 .5 0 .5 .1 .5 .1 .5 .2 .5 0 .5-.1 .5-.2 .5-.1 .5 .1 .5 0 .5-.1 .5 0 .5-.1 .5-.1 .5-.1 .5-.2 .5-.2 .5-.3 .5-.1 .5-.1 .5 .1 .5 0 .5 0 .5-.1 .5-.1 .5-.2 .5-.2 .5-.2 .5 0 .5-.1 .5-.1 .5-.1 .5-.1 .5-.2 .5-.1 .5 0 .5 0 .5 0 .5-.2 .5-.2 .5-.3 .5-.2 .5-.1 .5 0 .5 0 .5 0 .5-.1 .5-.3 .5-.2 .5-.1 .5 0 .5 .1 .5 .1 .5 .1 .5 .1 .5 .2 .5 .1 .5-.1 .5-.2 .5-.2 .5-.1 .5 0 .5 .1 .5 0 .5 0 .5 0 .5 0 .5 .2 .5 .3 .5 .1 .5 0 .5 0 .5 .2 .5 .3 .5 .1 .5 .1 .5 .1 .5 0 .5 0 .5 0 .5 .1 .5 .1 .5 .1 .5 .1 .5 .1 .5 .1 .5 .1 .5 .2 .5 .3 .5 .4 .5 .3 .5 .3 .5 .3 .5 0 .5-.1 .5-.2 .5-.1 .5 0 .5 .2 .5 .1 .5 .1 .5 .1 .5-.1 .5 0 .5 0 .5 .1 .5 .1 .5 .1 .5 .2 .5 0 .5-.1 .5-.1 .5-.1 .5-.2 .5 0 .5 .1 .5 .2 .5 .1 .5 .1 .5-.1 .5-.1 .5 0 .5-.1 .5-.1 .5-.2 .5-.2 .5-.1 .5-.1 .5-.1 .5-.2 .5-.2 .5-.1 .5-.3 .5-.4 .5-.4 .5-.4 .5-.4 .5-.3 .5-.4 .5-.5 .5-.6 .5-.7 .5-.8 .5-.6 .5-.7 .5-.7 .5-.5 .5-.5 .5-.4 .5-.4 .5-.6 .5-.6 .5-.6 .5-.6 .5-.5 .5-.4 .5-.3 .5-.2 .5-.2 .5 0 .5 .1 .5 .3 .5 .3 .5 .2 .5 .2 .5 .3 .5 .4 .5 .5 .5 .4 .5 .4 .5 .5 .5 .5 .5 .5 .5 .4 .5 .4 .5 .6 .5 .7 .5 .6 .5 .4 .5 .3 .5 .4 .5 .5 .5 .5 .5 .4 .5 .5 .5 .4 .5 .4 .5 .4 .5 .2 .5 .2 .5 .2 .5 .1 .5 .3 .5 .2 .5 .1 .5 .1 .5 .2 .5 .3 .5 .2 .5 .1 .5 .2 .5 .1 .5 .1 .5 .1 .5 .1 .5 0 .5 .2 .5 0 .5 .1 .5 .1 .5 .1 .5 .2 .5 .2 .5 0 .5-.2 .5-.2 .5-.2 .5 0 .5 0 .5-.1 .5-.1 .5 0 .5 0 .5 .1 .5 .2 .5 .1 .5 .2 .5 0 .5 0 .5 0 .5 .1 .5 .2 .5 0 .5-.1 .5 0 .5 .1 .5 .2 .5 .1 .5 .1 .5 0 .5 0 .5-.1 .5-.1 .5-.1 .5-.2 .5-.2 .5-.2 .5-.1 .5 0 .5 0 .5 0 .5 .1 .5 0 .5 .1 .5 .2 .5 .2 .5 .1 .5 0 .5 0 .5-.1 .5-.1 .5-.2 .5 0 .5 .1 .5 .2 .5 .1 .5 .1 .5 0 .5 .1 .5 .1 .5 0 .5-.1 .5-.2 .5-.3 .5-.2 .5-.2 .5 0 .5 0 .5 .1 .5 .2 .5 .3 .5 .2 .5 0 .5-.1 .5-.1 .5 0 .5 0 .5 .1 .5 0 .5 0 .5 0 .5 0 .5-.2 .5-.1 .5-.2 .5-.1 .5 0 .5 0 .5 0 .5 .2 .5 0 .5 .1 .5 0 .5 .2 .5 .1 .5 .1 .5 0 .5-.2 .5-.1 .5 0 .5 0 .5 0 .5 .1 .5 0 .5 .1 .5 0 .5-.1 .5-.1 .5-.2 .5-.1 .5 0 .5 .2 .5 .1 .5 .2 .5 .1 .5 .1 .5 0 .5-.2 .5-.2 .5-.1 .5 0 .5 .1 .5 0 .5 0 .5 0 .5 0 .5 0 .5 .1 .5 0 .5-.2 .5-.2 .5 0 .5 .1 .5 0 .5 .1 .5 0 .5 0 .5-.1 .5 0 .5 0 .5 0 .5 .1 .5 .1 .5 .2 .5 .1 .5-.1 .5-.2 .5-.1 .5 .1 .5 .3 .5 .2 .5-.1 .5 0 .5-.1 .5-.1 .5-.1 .5-.2 .5-.1 .5 0 .5 .1 .5 .2 .5 .1 .5 0 .5 0 .5 0 .5 0 .5 0 .5 0 .5 0 .5 0 .5 0 .5 0 .5 .1 .5 0 .5 0 .5 0 .5 0 .5-.1 .5-.1 .5-.1 .5-.1 .5 0 .5 .2 .5 .3 .5 .2 .5 0 .5-.2 .5-.3 .5-.2 .5 .1 .5 .1 .5 0 .5 0 .5 .1 .5 .1 .5 .1 .5 .1 .5-.1 .5-.1 .5-.2 .5 0 .5 0 .5 .1 .5 0 .5 .1 .5 0 .5 0 .5 .1 .5 0 .5 0 .5 0 .5-.1 .5-.1 .5 0 .5 0 .5 .2 .5 .2 .5 .1 .5 0 .5-.1 .5-.2 .5-.3 .5-.1 .5 0 .5 .1 .5 .1 .5 0 .5 0 .5 .3 .5 .2 .5 0 .5 0 .5-.1 .5-.1 .5-.1 .5-.2 .5-.2 .5 0 .5 .1 .5 .1 .5 .1 .5 .1 .5 .1 .5-.1 .5-.2 .5-.2 .5-.1 .5 0 .5 .1 .5 0 .5 0 .5 .1 .5 .1 .5 0 .5 0 .5 .1 .5 .1 .5 .1 .5 0 .5-.1 .5-.1 .5-.1 .5 0 .5 0 .5 0 .5-.1 .5 .1 .5 .1 .5 .1 .5-.1 .5 0 .5 0 .5 .1 .5 0 .5-.1 .5 .1 .5 .1 .5 .1 .5-.1 .5-.1 .5-.2 .5 0 .5 0 .5 0 .5 0 .5 0 .5 .1 .5 .1 .5 .1 .5 0 .5 0 .5-.1 .5 0 .5 0 .5 0 .5-.1 .5-.1 .5 0 .5 .1 .5 .1 .5 .2 .5-.1 .5-.1 .5-.1 .5-.1 .5-.1 .5 0 .5 .1 .5 0 .5 0 .5 0 .5 0 .5-.1 .5-.1 .5-.1 .5 .1 .5 .1 .5 .2 .5 .2 .5 .2 .5 0 .5 0 .5-.1 .5 0 .5 0 .5 0 .5 0 .5-.1 .5-.2 .5 0 .5-.1 .5 0 .5 0 .5 .2 .5 .1 .5 0 .5-.1 .5 .1 .5 0 .5 0 .5 0 .5 .1 .5 0 .5 .1 .5-.1"/>
<rect x="145.7" y="47.2" width="1041.9" height="781.2" fill="none" stroke="#1a1a1a" stroke-width="3.6"/>
<line x1="145.7" y1="828.4" x2="145.7" y2="844.9" stroke="#1a1a1a" stroke-width="3.4"/>
<line x1="232.5" y1="828.4" x2="232.5" y2="836.9" stroke="#1a1a1a" stroke-width="3.4"/>
<line x1="319.3" y1="828.4" x2="319.3" y2="844.9" stroke="#1a1a1a" stroke-width="3.4"/>
<line x1="406.2" y1="828.4" x2="406.2" y2="836.9" stroke="#1a1a1a" stroke-width="3.4"/>
<line x1="493.0" y1="828.4" x2="493.0" y2="844.9" stroke="#1a1a1a" stroke-width="3.4"/>
<line x1="579.8" y1="828.4" x2="579.8" y2="836.9" stroke="#1a1a1a" stroke-width="3.4"/>
<line x1="666.6" y1="828.4" x2="666.6" y2="844.9" stroke="#1a1a1a" stroke-width="3.4"/>
<line x1="753.5" y1="828.4" x2="753.5" y2="836.9" stroke="#1a1a1a" stroke-width="3.4"/>
<line x1="840.3" y1="828.4" x2="840.3" y2="844.9" stroke="#1a1a1a" stroke-width="3.4"/>
<line x1="927.1" y1="828.4" x2="927.1" y2="836.9" stroke="#1a1a1a" stroke-width="3.4"/>
<line x1="1013.9" y1="828.4" x2="1013.9" y2="844.9" stroke="#1a1a1a" stroke-width="3.4"/>
<line x1="1100.8" y1="828.4" x2="1100.8" y2="836.9" stroke="#1a1a1a" stroke-width="3.4"/>
<line x1="1187.6" y1="828.4" x2="1187.6" y2="844.9" stroke="#1a1a1a" stroke-width="3.4"/>
<rect x="1325.3" y="47.3" width="1068.2" height="785.4" fill="none" stroke="#1a1a1a" stroke-width="3.6"/>
<line x1="1325.3" y1="832.7" x2="1325.3" y2="849.2" stroke="#1a1a1a" stroke-width="3.4"/>
<line x1="1414.3" y1="832.7" x2="1414.3" y2="841.2" stroke="#1a1a1a" stroke-width="3.4"/>
<line x1="1503.3" y1="832.7" x2="1503.3" y2="849.2" stroke="#1a1a1a" stroke-width="3.4"/>
<line x1="1592.3" y1="832.7" x2="1592.3" y2="841.2" stroke="#1a1a1a" stroke-width="3.4"/>
<line x1="1681.4" y1="832.7" x2="1681.4" y2="849.2" stroke="#1a1a1a" stroke-width="3.4"/>
<line x1="1770.4" y1="832.7" x2="1770.4" y2="841.2" stroke="#1a1a1a" stroke-width="3.4"/>
<line x1="1859.4" y1="832.7" x2="1859.4" y2="849.2" stroke="#1a1a1a" stroke-width="3.4"/>
<line x1="1948.4" y1="832.7" x2="1948.4" y2="841.2" stroke="#1a1a1a" stroke-width="3.4"/>
<line x1="2037.4" y1="832.7" x2="2037.4" y2="849.2" stroke="#1a1a1a" stroke-width="3.4"/>
<line x1="2126.4" y1="832.7" x2="2126.4" y2="841.2" stroke="#1a1a1a" stroke-width="3.4"/>
<line x1="2215.5" y1="832.7" x2="2215.5" y2="849.2" stroke="#1a1a1a" stroke-width="3.4"/>
<line x1="2304.5" y1="832.7" x2="2304.5" y2="841.2" stroke="#1a1a1a" stroke-width="3.4"/>
<line x1="2393.5" y1="832.7" x2="2393.5" y2="849.2" stroke="#1a1a1a" stroke-width="3.4"/>
<rect x="148.3" y="980.0" width="1049.2" height="781.0" fill="none" stroke="#1a1a1a" stroke-width="3.6"/>
<line x1="148.3" y1="1761.0" x2="148.3" y2="1777.5" stroke="#1a1a1a" stroke-width="3.4"/>
<line x1="235.7" y1="1761.0" x2="235.7" y2="1769.5" stroke="#1a1a1a" stroke-width="3.4"/>
<line x1="323.2" y1="1761.0" x2="323.2" y2="1777.5" stroke="#1a1a1a" stroke-width="3.4"/>
<line x1="410.6" y1="1761.0" x2="410.6" y2="1769.5" stroke="#1a1a1a" stroke-width="3.4"/>
<line x1="498.0" y1="1761.0" x2="498.0" y2="1777.5" stroke="#1a1a1a" stroke-width="3.4"/>
<line x1="585.5" y1="1761.0" x2="585.5" y2="1769.5" stroke="#1a1a1a" stroke-width="3.4"/>
<line x1="672.9" y1="1761.0" x2="672.9" y2="1777.5" stroke="#1a1a1a" stroke-width="3.4"/>
<line x1="760.3" y1="1761.0" x2="760.3" y2="1769.5" stroke="#1a1a1a" stroke-width="3.4"/>
<line x1="847.8" y1="1761.0" x2="847.8" y2="1777.5" stroke="#1a1a1a" stroke-width="3.4"/>
<line x1="935.2" y1="1761.0" x2="935.2" y2="1769.5" stroke="#1a1a1a" stroke-width="3.4"/>
<line x1="1022.6" y1="1761.0" x2="1022.6" y2="1777.5" stroke="#1a1a1a" stroke-width="3.4"/>
<line x1="1110.1" y1="1761.0" x2="1110.1" y2="1769.5" stroke="#1a1a1a" stroke-width="3.4"/>
<line x1="1197.5" y1="1761.0" x2="1197.5" y2="1777.5" stroke="#1a1a1a" stroke-width="3.4"/>
<rect x="1336.0" y="980.0" width="1067.5" height="780.5" fill="none" stroke="#1a1a1a" stroke-width="3.6"/>
<line x1="1336.0" y1="1760.5" x2="1336.0" y2="1777.0" stroke="#1a1a1a" stroke-width="3.4"/>
<line x1="1425.0" y1="1760.5" x2="1425.0" y2="1769.0" stroke="#1a1a1a" stroke-width="3.4"/>
<line x1="1513.9" y1="1760.5" x2="1513.9" y2="1777.0" stroke="#1a1a1a" stroke-width="3.4"/>
<line x1="1602.9" y1="1760.5" x2="1602.9" y2="1769.0" stroke="#1a1a1a" stroke-width="3.4"/>
<line x1="1691.8" y1="1760.5" x2="1691.8" y2="1777.0" stroke="#1a1a1a" stroke-width="3.4"/>
<line x1="1780.8" y1="1760.5" x2="1780.8" y2="1769.0" stroke="#1a1a1a" stroke-width="3.4"/>
<line x1="1869.8" y1="1760.5" x2="1869.8" y2="1777.0" stroke="#1a1a1a" stroke-width="3.4"/>
<line x1="1958.7" y1="1760.5" x2="1958.7" y2="1769.0" stroke="#1a1a1a" stroke-width="3.4"/>
<line x1="2047.7" y1="1760.5" x2="2047.7" y2="1777.0" stroke="#1a1a1a" stroke-width="3.4"/>
<line x1="2136.6" y1="1760.5" x2="2136.6" y2="1769.0" stroke="#1a1a1a" stroke-width="3.4"/>
<line x1="2225.6" y1="1760.5" x2="2225.6" y2="1777.0" stroke="#1a1a1a" stroke-width="3.4"/>
<line x1="2314.5" y1="1760.5" x2="2314.5" y2="1769.0" stroke="#1a1a1a" stroke-width="3.4"/>
<line x1="2403.5" y1="1760.5" x2="2403.5" y2="1777.0" stroke="#1a1a1a" stroke-width="3.4"/>
<line x1="421.0" y1="178.6" x2="506.7" y2="178.6" stroke="#000000" stroke-width="4.2"/>
<line x1="421.0" y1="230.4" x2="506.7" y2="230.4" stroke="#ff00ff" stroke-width="4.2"/>
<line x1="1596.0" y1="178.5" x2="1680.5" y2="178.5" stroke="#000000" stroke-width="4.2"/>
<line x1="1596.0" y1="230.5" x2="1680.5" y2="230.5" stroke="#ff0000" stroke-width="4.2"/>
<line x1="418.5" y1="1092.9" x2="502.8" y2="1092.9" stroke="#000000" stroke-width="4.2"/>
<line x1="418.5" y1="1144.7" x2="502.8" y2="1144.7" stroke="#0000ff" stroke-width="4.2"/>
<line x1="1616.6" y1="1093.2" x2="1699.9" y2="1093.2" stroke="#000000" stroke-width="4.2"/>
<line x1="1616.6" y1="1145.0" x2="1699.9" y2="1145.0" stroke="#0000ff" stroke-width="4.2"/>
<rect x="2361.3" y="200.5" width="3.8" height="19.5" rx="1.8" fill="#1c1c1c"/>
<rect x="2360.8" y="84" width="2.6" height="11" rx="1.2" fill="#d8d8d8"/>
<text transform="matrix(0.9924 0 0 1 171.87 132.47)" font-weight="bold" font-size="78.72" fill="#000000">(a)</text>
<text transform="matrix(1.0298 0 0 1 1366.64 132.19)" font-weight="bold" font-size="76.70" fill="#000000">(b)</text>
<text transform="matrix(1.0271 0 0 1 171.87 1066.53)" font-weight="bold" font-size="76.06" fill="#000000">(c)</text>
<text transform="matrix(1.0384 0 0 1 1369.65 1066.49)" font-weight="bold" font-size="75.74" fill="#000000">(d)</text>
<text transform="matrix(1.0048 0 0 1 957.61 110.90)" font-weight="bold" font-size="42.88" fill="#000000">Bi/Y=2.2</text>
<text transform="matrix(0.9553 0 0 1 2166.60 108.00)" font-weight="bold" font-size="43.56" fill="#000000">Bi/Y=3.1</text>
<text transform="matrix(1.0241 0 0 1 961.12 1044.70)" font-weight="bold" font-size="41.92" fill="#000000">Bi/Y=4.9</text>
<text transform="matrix(1.1183 0 0 1 2170.64 1044.40)" font-weight="bold" font-size="38.08" fill="#000000">Bi/Y=6.9</text>
<text transform="matrix(1.0709 0 0 1 517.92 189.70)" font-weight="bold" font-size="40.14" fill="#000000">Before annealing</text>
<text transform="matrix(1.0651 0 0 1 517.85 240.80)" font-weight="bold" font-size="40.00" fill="#ff00ff">After annealing at 500°C for 2h</text>
<g><text transform="matrix(1.1360 0 0 1 421.14 291.90)" font-weight="bold" font-size="37.53" fill="#ff00ff">Bi</text><text transform="matrix(0.9997 0 0 1 463.78 291.90)" font-weight="normal" font-size="31.90" fill="#ff00ff" stroke="#ff00ff" stroke-width="0.85" stroke-linejoin="round">1.33</text><text transform="matrix(1.1360 0 0 1 525.85 291.90)" font-weight="bold" font-size="37.53" fill="#ff00ff">Y</text><text transform="matrix(0.9997 0 0 1 554.29 291.90)" font-weight="normal" font-size="31.90" fill="#ff00ff" stroke="#ff00ff" stroke-width="0.85" stroke-linejoin="round">0.67</text><text transform="matrix(1.1360 0 0 1 616.37 291.90)" font-weight="bold" font-size="37.53" fill="#ff00ff">O</text><text transform="matrix(0.9997 0 0 1 649.53 291.90)" font-weight="normal" font-size="31.90" fill="#ff00ff" stroke="#ff00ff" stroke-width="0.85" stroke-linejoin="round">3</text><text transform="matrix(1.1360 0 0 1 667.27 291.90)" font-weight="bold" font-size="37.53" fill="#ff00ff"> (Cubic), PDF#50-0915</text></g>
<text transform="matrix(1.1035 0 0 1 1693.02 188.90)" font-weight="bold" font-size="38.90" fill="#000000">Before annealing</text>
<text transform="matrix(1.0974 0 0 1 1692.15 240.00)" font-weight="bold" font-size="38.90" fill="#ff0000">After annealing at 500°C for 2h</text>
<g><text transform="matrix(1.1740 0 0 1 1595.64 291.20)" font-weight="bold" font-size="36.30" fill="#ff0000">Bi</text><text transform="matrix(1.0331 0 0 1 1638.26 291.20)" font-weight="normal" font-size="30.86" fill="#ff0000" stroke="#ff0000" stroke-width="0.82" stroke-linejoin="round">1.50</text><text transform="matrix(1.1740 0 0 1 1700.30 291.20)" font-weight="bold" font-size="36.30" fill="#ff0000">Y</text><text transform="matrix(1.0331 0 0 1 1728.73 291.20)" font-weight="normal" font-size="30.86" fill="#ff0000" stroke="#ff0000" stroke-width="0.82" stroke-linejoin="round">0.5</text><text transform="matrix(1.1740 0 0 1 1773.04 291.20)" font-weight="bold" font-size="36.30" fill="#ff0000">O</text><text transform="matrix(1.0331 0 0 1 1806.19 291.20)" font-weight="normal" font-size="30.86" fill="#ff0000" stroke="#ff0000" stroke-width="0.82" stroke-linejoin="round">3</text><text transform="matrix(1.1740 0 0 1 1823.92 291.20)" font-weight="bold" font-size="36.30" fill="#ff0000"> (Cubic), PDF#33-0223</text></g>
<text transform="matrix(1.0872 0 0 1 515.03 1105.80)" font-weight="bold" font-size="39.45" fill="#000000">Before annealing</text>
<text transform="matrix(1.0784 0 0 1 514.55 1156.50)" font-weight="bold" font-size="39.59" fill="#0000ff">After annealing at 500°C for 2h</text>
<text transform="matrix(1.1285 0 0 1 417.22 1206.40)" font-weight="bold" font-size="37.95" fill="#0000ff">0— Cubic phase of yttrium oxide</text>
<text transform="matrix(1.1318 0 0 1 416.78 1256.30)" font-weight="bold" font-size="37.95" fill="#0000ff">doped bismuth oxide</text>
<g><text transform="matrix(1.0832 0 0 1 417.74 1309.20)" font-weight="bold" font-size="39.45" fill="#77671f">Bi</text><text transform="matrix(0.9533 0 0 1 460.47 1309.20)" font-weight="normal" font-size="33.53" fill="#77671f" stroke="#77671f" stroke-width="0.89" stroke-linejoin="round">1.55</text><text transform="matrix(1.0832 0 0 1 522.69 1309.20)" font-weight="bold" font-size="39.45" fill="#77671f">Y</text><text transform="matrix(0.9533 0 0 1 551.19 1309.20)" font-weight="normal" font-size="33.53" fill="#77671f" stroke="#77671f" stroke-width="0.89" stroke-linejoin="round">0.45</text><text transform="matrix(1.0832 0 0 1 613.41 1309.20)" font-weight="bold" font-size="39.45" fill="#77671f">O</text><text transform="matrix(0.9533 0 0 1 646.65 1309.20)" font-weight="normal" font-size="33.53" fill="#77671f" stroke="#77671f" stroke-width="0.89" stroke-linejoin="round">3</text><text transform="matrix(1.0832 0 0 1 664.43 1309.20)" font-weight="bold" font-size="39.45" fill="#77671f"> (Rhombohedral),</text></g>
<text transform="matrix(1.0611 0 0 1 429.98 1359.90)" font-weight="bold" font-size="39.57" fill="#77671f">PDF#40-1021</text>
<g><text transform="matrix(1.1180 0 0 1 417.75 1409.80)" font-weight="bold" font-size="38.08" fill="#ff00ff">Bi</text><text transform="matrix(0.9839 0 0 1 460.32 1409.80)" font-weight="normal" font-size="32.37" fill="#ff00ff" stroke="#ff00ff" stroke-width="0.86" stroke-linejoin="round">2</text><text transform="matrix(1.1180 0 0 1 478.04 1409.80)" font-weight="bold" font-size="38.08" fill="#ff00ff">O</text><text transform="matrix(0.9839 0 0 1 511.15 1409.80)" font-weight="normal" font-size="32.37" fill="#ff00ff" stroke="#ff00ff" stroke-width="0.86" stroke-linejoin="round">3</text><text transform="matrix(1.1180 0 0 1 528.87 1409.80)" font-weight="bold" font-size="38.08" fill="#ff00ff"> (Triclinic), PDF#50-1088</text></g>
<text transform="matrix(1.0615 0 0 1 1712.02 1105.40)" font-weight="bold" font-size="40.55" fill="#000000">Before annealing</text>
<text transform="matrix(1.0512 0 0 1 1711.95 1157.20)" font-weight="bold" font-size="40.55" fill="#0000ff">After annealing at 500°C for 2h</text>
<text transform="matrix(1.2071 0 0 1 1615.32 1205.30)" font-weight="bold" font-size="35.48" fill="#0000ff">0— Cubic phase of yttrium oxide</text>
<text transform="matrix(1.1318 0 0 1 1614.88 1257.00)" font-weight="bold" font-size="37.95" fill="#0000ff">doped bismuth oxide</text>
<g><text transform="matrix(1.1222 0 0 1 1615.94 1308.80)" font-weight="bold" font-size="38.08" fill="#77671f">Bi</text><text transform="matrix(0.9875 0 0 1 1658.67 1308.80)" font-weight="normal" font-size="32.37" fill="#77671f" stroke="#77671f" stroke-width="0.86" stroke-linejoin="round">1.55</text><text transform="matrix(1.1222 0 0 1 1720.89 1308.80)" font-weight="bold" font-size="38.08" fill="#77671f">Y</text><text transform="matrix(0.9875 0 0 1 1749.39 1308.80)" font-weight="normal" font-size="32.37" fill="#77671f" stroke="#77671f" stroke-width="0.86" stroke-linejoin="round">0.45</text><text transform="matrix(1.1222 0 0 1 1811.61 1308.80)" font-weight="bold" font-size="38.08" fill="#77671f">O</text><text transform="matrix(0.9875 0 0 1 1844.85 1308.80)" font-weight="normal" font-size="32.37" fill="#77671f" stroke="#77671f" stroke-width="0.86" stroke-linejoin="round">3</text><text transform="matrix(1.1222 0 0 1 1862.63 1308.80)" font-weight="bold" font-size="38.08" fill="#77671f"> (Rhombohedral),</text></g>
<text transform="matrix(1.0618 0 0 1 1627.07 1360.60)" font-weight="bold" font-size="39.71" fill="#77671f">PDF#40-1021</text>
<g><text transform="matrix(1.1999 0 0 1 1615.95 1410.50)" font-weight="bold" font-size="35.48" fill="#ff00ff">Bi</text><text transform="matrix(1.0559 0 0 1 1658.52 1410.50)" font-weight="normal" font-size="30.16" fill="#ff00ff" stroke="#ff00ff" stroke-width="0.81" stroke-linejoin="round">2</text><text transform="matrix(1.1999 0 0 1 1676.23 1410.50)" font-weight="bold" font-size="35.48" fill="#ff00ff">O</text><text transform="matrix(1.0559 0 0 1 1709.34 1410.50)" font-weight="normal" font-size="30.16" fill="#ff00ff" stroke="#ff00ff" stroke-width="0.81" stroke-linejoin="round">3</text><text transform="matrix(1.1999 0 0 1 1727.05 1410.50)" font-weight="bold" font-size="35.48" fill="#ff00ff"> (Triclinic), PDF#50-1088</text></g>
<text transform="matrix(0 -1.0594 1 0 71.00 612.34)" font-weight="bold" font-size="44.66" fill="#000000">Intansity (a.u.)</text>
<text transform="matrix(0 -0.9991 1 0 1263.40 631.43)" font-weight="bold" font-size="47.26" fill="#000000">Intensity (a.u.)</text>
<text transform="matrix(0 -0.9848 1 0 82.80 1544.73)" font-weight="bold" font-size="47.95" fill="#000000">Intensity (a.u.)</text>
<text transform="matrix(0 -0.9953 1 0 1263.40 1559.12)" font-weight="bold" font-size="47.26" fill="#000000">Intensity (a.u.)</text>
<text transform="matrix(1.0577 0 0 1 520.30 964.80)" font-weight="bold" font-size="44.25" fill="#000000">2 theta (deg.)</text>
<text transform="matrix(1.0462 0 0 1 1719.06 964.80)" font-weight="bold" font-size="45.89" fill="#000000">2 Theta (deg.)</text>
<text transform="matrix(1.0689 0 0 1 519.08 1896.70)" font-weight="bold" font-size="44.25" fill="#000000">2 Theta (deg.)</text>
<text transform="matrix(1.0809 0 0 1 1714.47 1896.70)" font-weight="bold" font-size="44.25" fill="#000000">2 Theta (deg.)</text>
<text transform="matrix(0 -1.1039 1 0 390.91 167.51)" font-weight="normal" font-size="33.30" fill="#ff00ff" stroke="#ff00ff" stroke-width="0.68" stroke-linejoin="round">(111)</text>
<text transform="matrix(0 -0.9857 1 0 487.84 601.21)" font-weight="normal" font-size="37.45" fill="#ff00ff" stroke="#ff00ff" stroke-width="0.76" stroke-linejoin="round">(200)</text>
<text transform="matrix(0 -1.0406 1 0 777.41 628.10)" font-weight="normal" font-size="35.21" fill="#ff00ff" stroke="#ff00ff" stroke-width="0.72" stroke-linejoin="round">(220)</text>
<text transform="matrix(0 -1.0938 1 0 964.31 663.81)" font-weight="normal" font-size="35.21" fill="#ff00ff" stroke="#ff00ff" stroke-width="0.69" stroke-linejoin="round">(311)</text>
<text transform="matrix(0 -1.0220 1 0 1022.36 689.13)" font-weight="normal" font-size="36.38" fill="#ff00ff" stroke="#ff00ff" stroke-width="0.73" stroke-linejoin="round">(222)</text>
<text transform="matrix(0 -1.0690 1 0 1572.80 150.84)" font-weight="normal" font-size="38.09" fill="#ff0000" stroke="#ff0000" stroke-width="0.70" stroke-linejoin="round">(111)</text>
<text transform="matrix(0 -1.0180 1 0 1671.68 673.77)" font-weight="normal" font-size="37.23" fill="#ff0000" stroke="#ff0000" stroke-width="0.74" stroke-linejoin="round">(200)</text>
<text transform="matrix(0 -1.0498 1 0 1969.44 671.60)" font-weight="normal" font-size="36.49" fill="#ff0000" stroke="#ff0000" stroke-width="0.71" stroke-linejoin="round">(220)</text>
<text transform="matrix(0 -1.0677 1 0 2155.11 681.84)" font-weight="normal" font-size="36.60" fill="#ff0000" stroke="#ff0000" stroke-width="0.70" stroke-linejoin="round">(311)</text>
<text transform="matrix(0 -0.9770 1 0 2223.16 699.60)" font-weight="normal" font-size="39.26" fill="#ff0000" stroke="#ff0000" stroke-width="0.77" stroke-linejoin="round">(222)</text>
<text transform="matrix(0 -1.0053 1 0 421.14 1529.51)" font-weight="normal" font-size="31.70" fill="#8c8a2c" stroke="#8c8a2c" stroke-width="0.75" stroke-linejoin="round">(104)</text>
<text transform="matrix(0 -0.9403 1 0 211.06 1670.78)" font-weight="normal" font-size="31.60" fill="#8c8a2c" stroke="#8c8a2c" stroke-width="0.80" stroke-linejoin="round">(006)</text>
<text transform="matrix(0 -1.0107 1 0 258.99 1666.61)" font-weight="normal" font-size="31.49" fill="#ff00ff" stroke="#ff00ff" stroke-width="0.74" stroke-linejoin="round">(003)</text>
<text transform="matrix(0 -0.9722 1 0 341.22 1666.56)" font-weight="normal" font-size="31.81" fill="#8c8a2c" stroke="#8c8a2c" stroke-width="0.77" stroke-linejoin="round">(101)</text>
<text transform="matrix(0 -1.0475 1 0 567.88 1677.83)" font-weight="normal" font-size="29.15" fill="#ff00ff" stroke="#ff00ff" stroke-width="0.72" stroke-linejoin="round">(0-24)</text>
<text transform="matrix(0 -1.2273 1 0 719.62 1680.49)" font-weight="normal" font-size="25.64" fill="#ff00ff" stroke="#ff00ff" stroke-width="0.61" stroke-linejoin="round">(232)</text>
<text transform="matrix(0 -1.1662 1 0 753.65 1681.78)" font-weight="normal" font-size="26.91" fill="#8c8a2c" stroke="#8c8a2c" stroke-width="0.64" stroke-linejoin="round">(011)</text>
<text transform="matrix(0 -1.0298 1 0 1069.74 1681.74)" font-weight="normal" font-size="29.79" fill="#8c8a2c" stroke="#8c8a2c" stroke-width="0.73" stroke-linejoin="round">(1016)</text>
<text transform="matrix(0 -0.9727 1 0 1394.14 1659.65)" font-weight="normal" font-size="31.70" fill="#8c8a2c" stroke="#8c8a2c" stroke-width="0.77" stroke-linejoin="round">(006)</text>
<text transform="matrix(0 -1.0934 1 0 1438.08 1664.31)" font-weight="normal" font-size="29.15" fill="#ff00ff" stroke="#ff00ff" stroke-width="0.69" stroke-linejoin="round">(020)</text>
<text transform="matrix(0 -1.1936 1 0 1541.39 1666.61)" font-weight="normal" font-size="26.70" fill="#8c8a2c" stroke="#8c8a2c" stroke-width="0.63" stroke-linejoin="round">(101)</text>
<text transform="matrix(0 -1.0934 1 0 1611.68 1641.41)" font-weight="normal" font-size="29.15" fill="#8c8a2c" stroke="#8c8a2c" stroke-width="0.69" stroke-linejoin="round">(104)</text>
<text transform="matrix(0 -1.0470 1 0 1915.12 1679.02)" font-weight="normal" font-size="28.94" fill="#ff00ff" stroke="#ff00ff" stroke-width="0.72" stroke-linejoin="round">(040)</text>
<text transform="matrix(0 -1.0374 1 0 1949.76 1679.08)" font-weight="normal" font-size="30.21" fill="#8c8a2c" stroke="#8c8a2c" stroke-width="0.72" stroke-linejoin="round">(011)</text>
<text transform="matrix(0.9787 0 0 1 369.56 1070.48)" font-weight="normal" font-size="32.11" fill="#0000ff" stroke="#0000ff" stroke-width="0.72" stroke-linejoin="round">0</text>
<text transform="matrix(1.1592 0 0 1 481.47 1675.68)" font-weight="normal" font-size="32.39" fill="#0000ff" stroke="#0000ff" stroke-width="0.60" stroke-linejoin="round">0</text>
<text transform="matrix(0.9999 0 0 1 761.98 1673.16)" font-weight="normal" font-size="34.08" fill="#0000ff" stroke="#0000ff" stroke-width="0.70" stroke-linejoin="round">0</text>
<text transform="matrix(0.9920 0 0 1 943.99 1675.66)" font-weight="normal" font-size="33.94" fill="#0000ff" stroke="#0000ff" stroke-width="0.71" stroke-linejoin="round">0</text>
<text transform="matrix(1.0567 0 0 1 1000.98 1668.08)" font-weight="normal" font-size="32.25" fill="#0000ff" stroke="#0000ff" stroke-width="0.66" stroke-linejoin="round">0</text>
<text transform="matrix(1.0187 0 0 1 1559.61 1040.78)" font-weight="normal" font-size="32.25" fill="#0000ff" stroke="#0000ff" stroke-width="0.69" stroke-linejoin="round">0</text>
<text transform="matrix(1.0804 0 0 1 1656.96 1662.08)" font-weight="normal" font-size="32.11" fill="#0000ff" stroke="#0000ff" stroke-width="0.65" stroke-linejoin="round">0</text>
<text transform="matrix(0.9701 0 0 1 1961.64 1669.07)" font-weight="normal" font-size="32.82" fill="#0000ff" stroke="#0000ff" stroke-width="0.72" stroke-linejoin="round">0</text>
<text transform="matrix(0.9701 0 0 1 2145.44 1669.07)" font-weight="normal" font-size="32.82" fill="#0000ff" stroke="#0000ff" stroke-width="0.72" stroke-linejoin="round">0</text>
<text transform="matrix(1.0510 0 0 1 2194.57 1654.87)" font-weight="normal" font-size="32.82" fill="#0000ff" stroke="#0000ff" stroke-width="0.67" stroke-linejoin="round">0</text>
<text transform="matrix(1.0125 0 0 1 121.49 887.57)" font-weight="bold" font-size="43.24" fill="#000000">20</text>
<text transform="matrix(1.0029 0 0 1 295.58 887.57)" font-weight="bold" font-size="43.24" fill="#000000">30</text>
<text transform="matrix(0.9935 0 0 1 469.67 887.57)" font-weight="bold" font-size="43.24" fill="#000000">40</text>
<text transform="matrix(1.0125 0 0 1 642.44 887.57)" font-weight="bold" font-size="43.24" fill="#000000">50</text>
<text transform="matrix(1.0125 0 0 1 816.09 887.57)" font-weight="bold" font-size="43.24" fill="#000000">60</text>
<text transform="matrix(1.0223 0 0 1 989.28 887.57)" font-weight="bold" font-size="43.24" fill="#000000">70</text>
<text transform="matrix(1.0125 0 0 1 1163.39 887.57)" font-weight="bold" font-size="43.24" fill="#000000">80</text>
<text transform="matrix(1.0246 0 0 1 1300.72 892.37)" font-weight="bold" font-size="43.38" fill="#000000">20</text>
<text transform="matrix(1.0149 0 0 1 1479.20 892.37)" font-weight="bold" font-size="43.38" fill="#000000">30</text>
<text transform="matrix(1.0054 0 0 1 1657.68 892.37)" font-weight="bold" font-size="43.38" fill="#000000">40</text>
<text transform="matrix(1.0246 0 0 1 1834.82 892.37)" font-weight="bold" font-size="43.38" fill="#000000">50</text>
<text transform="matrix(1.0246 0 0 1 2012.85 892.37)" font-weight="bold" font-size="43.38" fill="#000000">60</text>
<text transform="matrix(1.0345 0 0 1 2190.42 892.37)" font-weight="bold" font-size="43.38" fill="#000000">70</text>
<text transform="matrix(1.0246 0 0 1 2368.92 892.37)" font-weight="bold" font-size="43.38" fill="#000000">80</text>
<text transform="matrix(1.0101 0 0 1 124.62 1820.08)" font-weight="bold" font-size="42.39" fill="#000000">20</text>
<text transform="matrix(1.0006 0 0 1 299.92 1820.08)" font-weight="bold" font-size="42.39" fill="#000000">30</text>
<text transform="matrix(0.9912 0 0 1 475.21 1820.08)" font-weight="bold" font-size="42.39" fill="#000000">40</text>
<text transform="matrix(1.0101 0 0 1 649.22 1820.08)" font-weight="bold" font-size="42.39" fill="#000000">50</text>
<text transform="matrix(1.0101 0 0 1 824.08 1820.08)" font-weight="bold" font-size="42.39" fill="#000000">60</text>
<text transform="matrix(1.0199 0 0 1 998.50 1820.08)" font-weight="bold" font-size="42.39" fill="#000000">70</text>
<text transform="matrix(1.0101 0 0 1 1173.82 1820.08)" font-weight="bold" font-size="42.39" fill="#000000">80</text>
<text transform="matrix(1.0555 0 0 1 1311.42 1820.08)" font-weight="bold" font-size="42.11" fill="#000000">20</text>
<text transform="matrix(1.0455 0 0 1 1489.79 1820.08)" font-weight="bold" font-size="42.11" fill="#000000">30</text>
<text transform="matrix(1.0357 0 0 1 1668.15 1820.08)" font-weight="bold" font-size="42.11" fill="#000000">40</text>
<text transform="matrix(1.0555 0 0 1 1845.17 1820.08)" font-weight="bold" font-size="42.11" fill="#000000">50</text>
<text transform="matrix(1.0555 0 0 1 2023.08 1820.08)" font-weight="bold" font-size="42.11" fill="#000000">60</text>
<text transform="matrix(1.0657 0 0 1 2200.54 1820.08)" font-weight="bold" font-size="42.11" fill="#000000">70</text>
<text transform="matrix(1.0555 0 0 1 2378.92 1820.08)" font-weight="bold" font-size="42.11" fill="#000000">80</text>
</svg></body></html>
